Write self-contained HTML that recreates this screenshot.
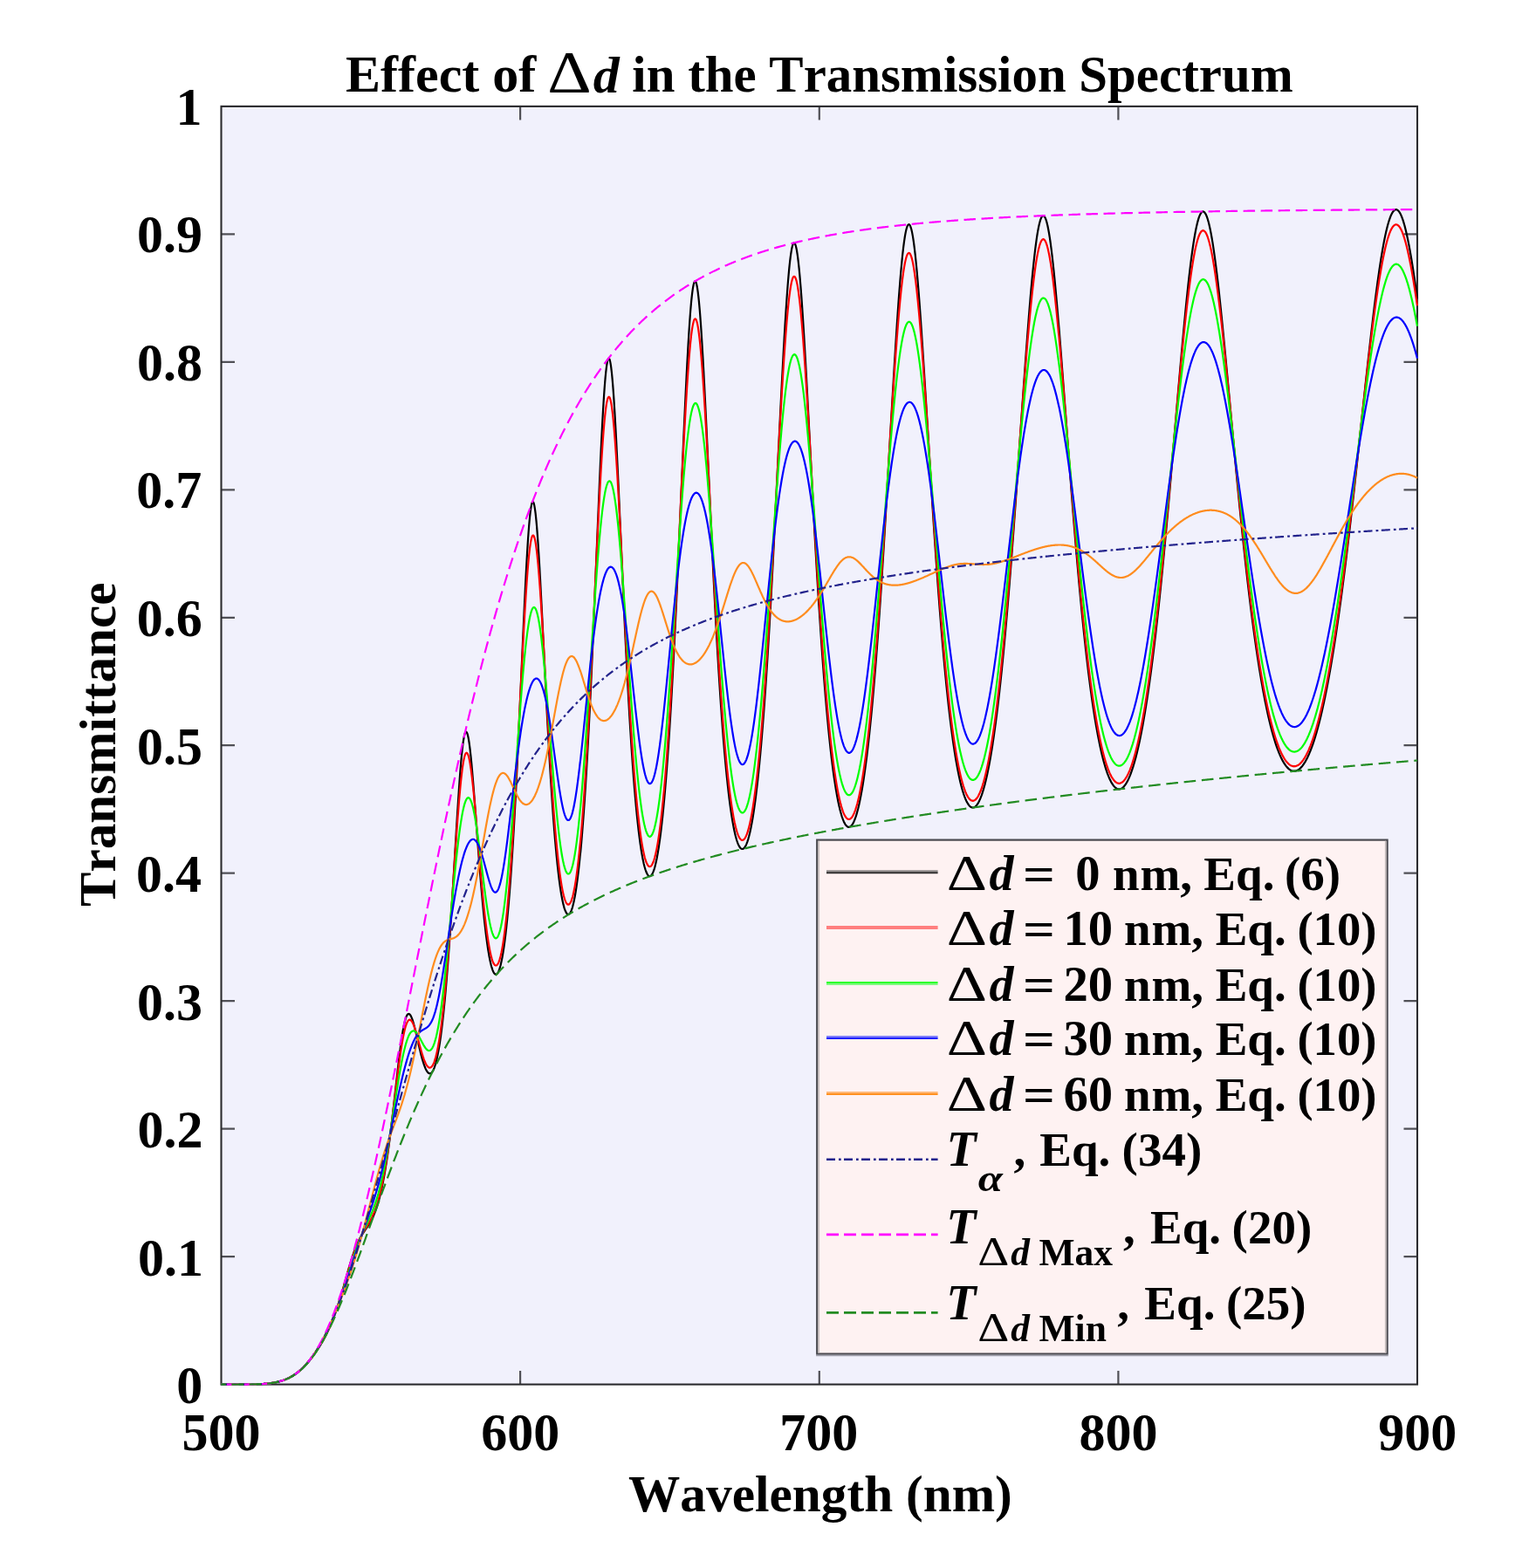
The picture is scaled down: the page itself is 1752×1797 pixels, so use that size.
<!DOCTYPE html><html><head><meta charset="utf-8"><title>Effect of Delta d in the Transmission Spectrum</title><style>
html,body{margin:0;padding:0;background:#fff;overflow:hidden;}
svg{display:block;}
text{font-family:"Liberation Serif",serif;font-weight:bold;fill:#000;font-kerning:none;font-variant-ligatures:none;}
</style></head><body>
<svg width="1752" height="1797" viewBox="0 0 1752 1797">
<rect x="0" y="0" width="1752" height="1797" fill="#ffffff"/>
<rect x="253.5" y="121.9" width="1370.5" height="1464.7" fill="#f1f1fc"/>
<path d="M253.5 1440.1h15.5M1624.0 1440.1h-15.5M253.5 1293.7h15.5M1624.0 1293.7h-15.5M253.5 1147.2h15.5M1624.0 1147.2h-15.5M253.5 1000.7h15.5M1624.0 1000.7h-15.5M253.5 854.2h15.5M1624.0 854.2h-15.5M253.5 707.8h15.5M1624.0 707.8h-15.5M253.5 561.3h15.5M1624.0 561.3h-15.5M253.5 414.8h15.5M1624.0 414.8h-15.5M253.5 268.4h15.5M1624.0 268.4h-15.5M596.1 1586.6v-15.5M596.1 121.9v15.5M938.8 1586.6v-15.5M938.8 121.9v15.5M1281.4 1586.6v-15.5M1281.4 121.9v15.5" stroke="#505056" stroke-width="2.2" fill="none"/>
<rect x="253.5" y="121.9" width="1370.5" height="1464.7" fill="none" stroke="#2b2b2e" stroke-width="2.1"/>
<clipPath id="c"><rect x="252.5" y="118.9" width="1372.5" height="1470.7"/></clipPath>
<g clip-path="url(#c)" fill="none" stroke-width="2.2" stroke-linejoin="round">
<path d="M253.5 1586.6 L254.0 1586.6 L254.5 1586.6 L255.0 1586.6 L255.5 1586.6 L256.0 1586.6 L256.5 1586.6 L257.0 1586.6 L257.5 1586.6 L258.0 1586.6 L258.5 1586.6 L259.0 1586.6 L259.5 1586.6 L260.0 1586.6 L260.5 1586.6 L261.0 1586.6 L261.5 1586.6 L262.0 1586.6 L262.5 1586.6 L263.0 1586.6 L263.5 1586.6 L264.0 1586.6 L264.5 1586.6 L265.0 1586.6 L265.5 1586.6 L266.0 1586.6 L266.5 1586.6 L267.0 1586.6 L267.5 1586.6 L268.0 1586.6 L268.5 1586.6 L269.0 1586.6 L269.5 1586.6 L270.0 1586.6 L270.5 1586.6 L271.0 1586.6 L271.5 1586.6 L272.0 1586.6 L272.5 1586.6 L273.0 1586.6 L273.5 1586.6 L274.0 1586.6 L274.5 1586.6 L275.0 1586.6 L275.5 1586.6 L276.0 1586.6 L276.5 1586.6 L277.0 1586.6 L277.5 1586.6 L278.0 1586.6 L278.5 1586.6 L279.0 1586.6 L279.5 1586.6 L280.0 1586.6 L280.5 1586.6 L281.0 1586.6 L281.5 1586.6 L282.0 1586.5 L282.5 1586.5 L283.0 1586.5 L283.5 1586.5 L284.0 1586.5 L284.5 1586.5 L285.0 1586.5 L285.5 1586.5 L286.0 1586.5 L286.5 1586.5 L287.0 1586.5 L287.5 1586.5 L288.0 1586.5 L288.5 1586.5 L289.0 1586.5 L289.5 1586.4 L290.0 1586.4 L290.5 1586.4 L291.0 1586.4 L291.5 1586.4 L292.0 1586.4 L292.5 1586.4 L293.0 1586.4 L293.5 1586.4 L294.0 1586.3 L294.5 1586.3 L295.0 1586.3 L295.5 1586.3 L296.0 1586.3 L296.5 1586.2 L297.0 1586.2 L297.5 1586.2 L298.0 1586.2 L298.5 1586.2 L299.0 1586.1 L299.5 1586.1 L300.0 1586.1 L300.5 1586.0 L301.0 1586.0 L301.5 1586.0 L302.0 1586.0 L302.5 1585.9 L303.0 1585.9 L303.5 1585.8 L304.0 1585.8 L304.5 1585.8 L305.0 1585.7 L305.5 1585.7 L306.0 1585.6 L306.5 1585.6 L307.0 1585.5 L307.5 1585.5 L308.0 1585.4 L308.5 1585.4 L309.0 1585.3 L309.5 1585.2 L310.0 1585.2 L310.5 1585.1 L311.0 1585.0 L311.5 1585.0 L312.0 1584.9 L312.5 1584.8 L313.0 1584.7 L313.5 1584.6 L314.0 1584.6 L314.5 1584.5 L315.0 1584.4 L315.5 1584.3 L316.0 1584.2 L316.5 1584.1 L317.0 1584.0 L317.5 1583.9 L318.0 1583.7 L318.5 1583.6 L319.0 1583.5 L319.5 1583.4 L320.0 1583.2 L320.5 1583.1 L321.0 1583.0 L321.5 1582.8 L322.0 1582.7 L322.5 1582.5 L323.0 1582.4 L323.5 1582.2 L324.0 1582.0 L324.5 1581.9 L325.0 1581.7 L325.5 1581.5 L326.0 1581.3 L326.5 1581.1 L327.0 1580.9 L327.5 1580.7 L328.0 1580.5 L328.5 1580.3 L329.0 1580.1 L329.5 1579.9 L330.0 1579.6 L330.5 1579.4 L331.0 1579.2 L331.5 1578.9 L332.0 1578.6 L332.5 1578.4 L333.0 1578.1 L333.5 1577.8 L334.0 1577.6 L334.5 1577.3 L335.0 1577.0 L335.5 1576.7 L336.0 1576.3 L336.5 1576.0 L337.0 1575.7 L337.5 1575.4 L338.0 1575.0 L338.5 1574.7 L339.0 1574.3 L339.5 1573.9 L340.0 1573.6 L340.5 1573.2 L341.0 1572.8 L341.5 1572.4 L342.0 1572.0 L342.5 1571.6 L343.0 1571.1 L343.5 1570.7 L344.0 1570.3 L344.5 1569.8 L345.0 1569.4 L345.5 1568.9 L346.0 1568.4 L346.5 1567.9 L347.0 1567.5 L347.5 1567.0 L348.0 1566.4 L348.5 1565.9 L349.0 1565.4 L349.5 1564.9 L350.0 1564.3 L350.5 1563.8 L351.0 1563.3 L351.5 1562.7 L352.0 1562.1 L352.5 1561.5 L353.0 1561.0 L353.5 1560.4 L354.0 1559.8 L354.5 1559.2 L355.0 1558.6 L355.5 1557.9 L356.0 1557.3 L356.5 1556.7 L357.0 1556.0 L357.5 1555.4 L358.0 1554.7 L358.5 1554.1 L359.0 1553.4 L359.5 1552.7 L360.0 1552.0 L360.5 1551.3 L361.0 1550.6 L361.5 1549.9 L362.0 1549.2 L362.5 1548.5 L363.0 1547.8 L363.5 1547.0 L364.0 1546.3 L364.5 1545.5 L365.0 1544.7 L365.5 1544.0 L366.0 1543.2 L366.5 1542.4 L367.0 1541.6 L367.5 1540.8 L368.0 1539.9 L368.5 1539.1 L369.0 1538.3 L369.5 1537.4 L370.0 1536.5 L370.5 1535.6 L371.0 1534.7 L371.5 1533.8 L372.0 1532.9 L372.5 1532.0 L373.0 1531.0 L373.5 1530.0 L374.0 1529.1 L374.5 1528.1 L375.0 1527.0 L375.5 1526.0 L376.0 1525.0 L376.5 1523.9 L377.0 1522.8 L377.5 1521.7 L378.0 1520.6 L378.5 1519.4 L379.0 1518.2 L379.5 1517.0 L380.0 1515.8 L380.5 1514.6 L381.0 1513.3 L381.5 1512.1 L382.0 1510.8 L382.5 1509.5 L383.0 1508.1 L383.5 1506.7 L384.0 1505.4 L384.5 1503.9 L385.0 1502.5 L385.5 1501.0 L386.0 1499.6 L386.5 1498.1 L387.0 1496.5 L387.5 1495.0 L388.0 1493.4 L388.5 1491.8 L389.0 1490.2 L389.5 1488.6 L390.0 1486.9 L390.6 1485.3 L391.1 1483.6 L391.6 1481.9 L392.1 1480.2 L392.6 1478.4 L393.1 1476.7 L393.6 1475.0 L394.1 1473.2 L394.6 1471.4 L395.1 1469.7 L395.6 1467.9 L396.1 1466.1 L396.6 1464.3 L397.1 1462.6 L397.6 1460.8 L398.1 1459.1 L398.6 1457.3 L399.1 1455.6 L399.6 1453.8 L400.1 1452.1 L400.6 1450.4 L401.1 1448.8 L401.6 1447.1 L402.1 1445.5 L402.6 1443.9 L403.1 1442.3 L403.6 1440.8 L404.1 1439.3 L404.6 1437.8 L405.1 1436.3 L405.6 1434.9 L406.1 1433.5 L406.6 1432.2 L407.1 1430.9 L407.6 1429.6 L408.1 1428.4 L408.6 1427.2 L409.1 1426.0 L409.6 1424.9 L410.1 1423.8 L410.6 1422.8 L411.1 1421.7 L411.6 1420.8 L412.1 1419.8 L412.6 1418.9 L413.1 1418.0 L413.6 1417.1 L414.1 1416.3 L414.6 1415.4 L415.1 1414.6 L415.6 1413.8 L416.1 1413.1 L416.6 1412.3 L417.1 1411.6 L417.6 1410.8 L418.1 1410.1 L418.6 1409.4 L419.1 1408.7 L419.6 1407.9 L420.1 1407.2 L420.6 1406.5 L421.1 1405.7 L421.6 1405.0 L422.1 1404.2 L422.6 1403.4 L423.1 1402.6 L423.6 1401.8 L424.1 1400.9 L424.6 1400.1 L425.1 1399.2 L425.6 1398.2 L426.1 1397.3 L426.6 1396.3 L427.1 1395.2 L427.6 1394.2 L428.1 1393.0 L428.6 1391.9 L429.1 1390.7 L429.6 1389.4 L430.1 1388.1 L430.6 1386.7 L431.1 1385.3 L431.6 1383.8 L432.1 1382.3 L432.6 1380.7 L433.1 1379.0 L433.6 1377.3 L434.1 1375.5 L434.6 1373.7 L435.1 1371.7 L435.6 1369.7 L436.1 1367.6 L436.6 1365.5 L437.1 1363.3 L437.6 1361.0 L438.1 1358.6 L438.6 1356.1 L439.1 1353.5 L439.6 1350.9 L440.1 1348.2 L440.6 1345.4 L441.1 1342.5 L441.6 1339.5 L442.1 1336.4 L442.6 1333.3 L443.1 1330.0 L443.6 1326.7 L444.1 1323.3 L444.6 1319.8 L445.1 1316.2 L445.6 1312.5 L446.1 1308.8 L446.6 1304.9 L447.1 1301.0 L447.6 1297.0 L448.1 1292.9 L448.6 1288.8 L449.1 1284.6 L449.6 1280.3 L450.1 1276.0 L450.6 1271.7 L451.1 1267.3 L451.6 1262.8 L452.1 1258.4 L452.6 1253.9 L453.1 1249.4 L453.6 1244.9 L454.1 1240.4 L454.6 1235.9 L455.1 1231.5 L455.6 1227.0 L456.1 1222.7 L456.6 1218.4 L457.1 1214.2 L457.6 1210.1 L458.1 1206.0 L458.6 1202.1 L459.1 1198.3 L459.6 1194.7 L460.1 1191.2 L460.6 1187.8 L461.1 1184.7 L461.6 1181.7 L462.1 1178.9 L462.6 1176.3 L463.1 1173.9 L463.6 1171.7 L464.1 1169.7 L464.6 1167.9 L465.1 1166.4 L465.6 1165.1 L466.1 1164.0 L466.6 1163.2 L467.1 1162.5 L467.6 1162.1 L468.1 1161.9 L468.6 1162.0 L469.1 1162.2 L469.6 1162.6 L470.1 1163.2 L470.6 1164.0 L471.1 1165.0 L471.6 1166.1 L472.1 1167.3 L472.6 1168.7 L473.1 1170.3 L473.6 1171.9 L474.1 1173.7 L474.6 1175.5 L475.1 1177.5 L475.6 1179.5 L476.1 1181.5 L476.6 1183.6 L477.1 1185.8 L477.6 1187.9 L478.1 1190.1 L478.6 1192.3 L479.1 1194.5 L479.6 1196.7 L480.1 1198.8 L480.6 1201.0 L481.1 1203.1 L481.6 1205.1 L482.1 1207.2 L482.6 1209.1 L483.1 1211.0 L483.6 1212.9 L484.1 1214.6 L484.6 1216.3 L485.1 1217.9 L485.6 1219.4 L486.1 1220.9 L486.6 1222.2 L487.1 1223.5 L487.6 1224.7 L488.1 1225.7 L488.6 1226.7 L489.1 1227.5 L489.6 1228.3 L490.1 1228.9 L490.6 1229.4 L491.1 1229.8 L491.6 1230.1 L492.1 1230.3 L492.6 1230.3 L493.1 1230.2 L493.6 1230.1 L494.1 1229.7 L494.6 1229.3 L495.1 1228.7 L495.6 1228.0 L496.1 1227.1 L496.6 1226.2 L497.1 1225.0 L497.6 1223.8 L498.1 1222.4 L498.6 1220.9 L499.1 1219.2 L499.6 1217.4 L500.1 1215.4 L500.6 1213.3 L501.1 1211.0 L501.6 1208.5 L502.1 1205.9 L502.6 1203.2 L503.1 1200.3 L503.6 1197.2 L504.1 1194.0 L504.6 1190.6 L505.1 1187.0 L505.6 1183.2 L506.1 1179.3 L506.6 1175.2 L507.1 1170.9 L507.6 1166.5 L508.1 1161.8 L508.6 1157.0 L509.1 1152.0 L509.6 1146.8 L510.1 1141.4 L510.6 1135.9 L511.1 1130.1 L511.6 1124.2 L512.1 1118.1 L512.6 1111.8 L513.1 1105.3 L513.6 1098.6 L514.1 1091.8 L514.6 1084.8 L515.1 1077.6 L515.6 1070.2 L516.1 1062.7 L516.6 1055.1 L517.1 1047.3 L517.6 1039.4 L518.1 1031.4 L518.6 1023.2 L519.1 1015.0 L519.6 1006.7 L520.1 998.4 L520.6 990.0 L521.1 981.6 L521.6 973.1 L522.1 964.7 L522.6 956.4 L523.1 948.1 L523.6 939.9 L524.1 931.9 L524.6 924.0 L525.1 916.2 L525.6 908.7 L526.1 901.5 L526.6 894.4 L527.1 887.7 L527.6 881.4 L528.1 875.3 L528.6 869.7 L529.1 864.4 L529.6 859.6 L530.1 855.3 L530.6 851.4 L531.1 848.0 L531.6 845.2 L532.1 842.8 L532.6 841.0 L533.1 839.7 L533.6 838.9 L534.1 838.7 L534.6 839.0 L535.1 839.8 L535.6 841.1 L536.1 842.9 L536.6 845.2 L537.1 848.0 L537.6 851.2 L538.1 854.9 L538.6 858.9 L539.1 863.3 L539.6 868.0 L540.1 873.1 L540.6 878.4 L541.1 884.0 L541.6 889.9 L542.1 895.9 L542.6 902.1 L543.1 908.5 L543.6 915.0 L544.1 921.6 L544.6 928.2 L545.1 935.0 L545.6 941.7 L546.1 948.5 L546.6 955.2 L547.1 961.9 L547.6 968.6 L548.1 975.2 L548.6 981.8 L549.1 988.2 L549.6 994.6 L550.1 1000.8 L550.6 1007.0 L551.1 1013.0 L551.6 1018.8 L552.1 1024.5 L552.6 1030.1 L553.1 1035.5 L553.6 1040.8 L554.1 1045.9 L554.6 1050.8 L555.1 1055.6 L555.6 1060.1 L556.1 1064.5 L556.6 1068.8 L557.1 1072.8 L557.6 1076.7 L558.1 1080.4 L558.6 1083.9 L559.1 1087.3 L559.6 1090.4 L560.1 1093.4 L560.6 1096.2 L561.1 1098.8 L561.6 1101.2 L562.1 1103.5 L562.6 1105.6 L563.1 1107.5 L563.6 1109.2 L564.1 1110.7 L564.6 1112.1 L565.1 1113.3 L565.6 1114.3 L566.1 1115.1 L566.6 1115.8 L567.1 1116.3 L567.6 1116.6 L568.1 1116.7 L568.6 1116.6 L569.1 1116.4 L569.6 1116.0 L570.1 1115.4 L570.6 1114.6 L571.1 1113.7 L571.6 1112.5 L572.1 1111.2 L572.6 1109.7 L573.1 1108.0 L573.6 1106.2 L574.1 1104.1 L574.6 1101.8 L575.1 1099.4 L575.6 1096.8 L576.1 1093.9 L576.6 1090.9 L577.1 1087.6 L577.6 1084.2 L578.1 1080.6 L578.6 1076.7 L579.1 1072.7 L579.6 1068.4 L580.1 1063.9 L580.6 1059.2 L581.1 1054.3 L581.6 1049.1 L582.1 1043.8 L582.6 1038.2 L583.1 1032.3 L583.6 1026.3 L584.1 1020.0 L584.6 1013.5 L585.1 1006.7 L585.6 999.7 L586.1 992.5 L586.6 985.0 L587.1 977.3 L587.6 969.3 L588.1 961.1 L588.6 952.7 L589.1 944.0 L589.6 935.1 L590.1 926.0 L590.6 916.6 L591.1 907.1 L591.6 897.3 L592.1 887.3 L592.6 877.1 L593.1 866.7 L593.6 856.2 L594.1 845.5 L594.6 834.6 L595.1 823.6 L595.6 812.5 L596.1 801.4 L596.6 790.1 L597.1 778.8 L597.6 767.5 L598.1 756.2 L598.6 744.9 L599.1 733.6 L599.6 722.5 L600.1 711.5 L600.6 700.7 L601.1 690.1 L601.6 679.7 L602.1 669.6 L602.6 659.8 L603.1 650.4 L603.6 641.4 L604.1 632.8 L604.6 624.6 L605.1 617.0 L605.6 610.0 L606.1 603.5 L606.6 597.6 L607.1 592.3 L607.6 587.7 L608.1 583.8 L608.6 580.6 L609.1 578.1 L609.6 576.4 L610.1 575.3 L610.6 575.0 L611.1 575.5 L611.6 576.6 L612.1 578.5 L612.6 581.1 L613.1 584.3 L613.6 588.2 L614.1 592.8 L614.6 597.9 L615.1 603.6 L615.6 609.9 L616.1 616.7 L616.6 623.9 L617.1 631.6 L617.6 639.7 L618.1 648.1 L618.6 656.9 L619.1 665.9 L619.6 675.2 L620.1 684.8 L620.6 694.5 L621.1 704.3 L621.6 714.3 L622.1 724.3 L622.6 734.4 L623.1 744.5 L623.6 754.6 L624.1 764.7 L624.6 774.8 L625.1 784.7 L625.6 794.6 L626.1 804.4 L626.6 814.1 L627.1 823.7 L627.6 833.0 L628.1 842.3 L628.6 851.4 L629.1 860.2 L629.6 868.9 L630.1 877.5 L630.6 885.8 L631.1 893.9 L631.6 901.8 L632.1 909.5 L632.6 917.0 L633.1 924.2 L633.6 931.3 L634.1 938.1 L634.6 944.7 L635.1 951.1 L635.6 957.3 L636.1 963.3 L636.6 969.0 L637.1 974.5 L637.6 979.8 L638.1 984.9 L638.6 989.8 L639.1 994.5 L639.6 998.9 L640.1 1003.2 L640.6 1007.3 L641.1 1011.1 L641.6 1014.8 L642.1 1018.2 L642.6 1021.5 L643.1 1024.5 L643.6 1027.4 L644.1 1030.0 L644.6 1032.5 L645.1 1034.8 L645.6 1036.9 L646.1 1038.8 L646.6 1040.6 L647.1 1042.1 L647.6 1043.5 L648.1 1044.6 L648.6 1045.6 L649.1 1046.5 L649.6 1047.1 L650.1 1047.6 L650.6 1047.9 L651.1 1048.0 L651.6 1047.9 L652.1 1047.6 L652.6 1047.2 L653.1 1046.6 L653.6 1045.8 L654.1 1044.9 L654.6 1043.7 L655.1 1042.4 L655.6 1040.9 L656.1 1039.2 L656.6 1037.3 L657.1 1035.3 L657.6 1033.1 L658.1 1030.6 L658.6 1028.0 L659.1 1025.2 L659.6 1022.2 L660.1 1019.1 L660.6 1015.7 L661.1 1012.1 L661.6 1008.3 L662.1 1004.4 L662.6 1000.2 L663.1 995.8 L663.6 991.2 L664.1 986.5 L664.6 981.5 L665.2 976.2 L665.7 970.8 L666.2 965.2 L666.7 959.3 L667.2 953.2 L667.7 946.9 L668.2 940.3 L668.7 933.6 L669.2 926.6 L669.7 919.3 L670.2 911.9 L670.7 904.2 L671.2 896.3 L671.7 888.1 L672.2 879.7 L672.7 871.1 L673.2 862.2 L673.7 853.1 L674.2 843.8 L674.7 834.2 L675.2 824.4 L675.7 814.4 L676.2 804.2 L676.7 793.8 L677.2 783.1 L677.7 772.3 L678.2 761.3 L678.7 750.1 L679.2 738.7 L679.7 727.2 L680.2 715.5 L680.7 703.7 L681.2 691.8 L681.7 679.8 L682.2 667.7 L682.7 655.5 L683.2 643.4 L683.7 631.2 L684.2 619.0 L684.7 606.9 L685.2 594.8 L685.7 582.8 L686.2 571.0 L686.7 559.3 L687.2 547.8 L687.7 536.6 L688.2 525.6 L688.7 514.9 L689.2 504.6 L689.7 494.6 L690.2 485.0 L690.7 475.9 L691.2 467.2 L691.7 459.1 L692.2 451.5 L692.7 444.4 L693.2 438.0 L693.7 432.2 L694.2 427.0 L694.7 422.6 L695.2 418.8 L695.7 415.7 L696.2 413.3 L696.7 411.7 L697.2 410.8 L697.7 410.7 L698.2 411.2 L698.7 412.5 L699.2 414.6 L699.7 417.3 L700.2 420.7 L700.7 424.8 L701.2 429.5 L701.7 434.9 L702.2 440.8 L702.7 447.4 L703.2 454.4 L703.7 462.0 L704.2 470.1 L704.7 478.5 L705.2 487.5 L705.7 496.7 L706.2 506.4 L706.7 516.3 L707.2 526.5 L707.7 536.9 L708.2 547.5 L708.7 558.3 L709.2 569.3 L709.7 580.4 L710.2 591.5 L710.7 602.7 L711.2 613.9 L711.7 625.2 L712.2 636.4 L712.7 647.6 L713.2 658.8 L713.7 669.8 L714.2 680.8 L714.7 691.7 L715.2 702.5 L715.7 713.1 L716.2 723.6 L716.7 733.9 L717.2 744.0 L717.7 754.0 L718.2 763.8 L718.7 773.5 L719.2 782.9 L719.7 792.1 L720.2 801.2 L720.7 810.0 L721.2 818.6 L721.7 827.1 L722.2 835.3 L722.7 843.3 L723.2 851.1 L723.7 858.6 L724.2 866.0 L724.7 873.2 L725.2 880.1 L725.7 886.8 L726.2 893.4 L726.7 899.7 L727.2 905.8 L727.7 911.7 L728.2 917.4 L728.7 922.9 L729.2 928.2 L729.7 933.3 L730.2 938.2 L730.7 942.9 L731.2 947.5 L731.7 951.8 L732.2 955.9 L732.7 959.9 L733.2 963.7 L733.7 967.3 L734.2 970.7 L734.7 974.0 L735.2 977.0 L735.7 979.9 L736.2 982.7 L736.7 985.2 L737.2 987.6 L737.7 989.9 L738.2 991.9 L738.7 993.8 L739.2 995.5 L739.7 997.1 L740.2 998.5 L740.7 999.8 L741.2 1000.9 L741.7 1001.8 L742.2 1002.6 L742.7 1003.2 L743.2 1003.7 L743.7 1004.0 L744.2 1004.2 L744.7 1004.2 L745.2 1004.0 L745.7 1003.7 L746.2 1003.3 L746.7 1002.7 L747.2 1001.9 L747.7 1001.0 L748.2 999.9 L748.7 998.7 L749.2 997.3 L749.7 995.8 L750.2 994.1 L750.7 992.2 L751.2 990.2 L751.7 988.1 L752.2 985.7 L752.7 983.3 L753.2 980.6 L753.7 977.8 L754.2 974.8 L754.7 971.7 L755.2 968.4 L755.7 964.9 L756.2 961.3 L756.7 957.5 L757.2 953.5 L757.7 949.4 L758.2 945.0 L758.7 940.5 L759.2 935.9 L759.7 931.0 L760.2 925.9 L760.7 920.7 L761.2 915.3 L761.7 909.7 L762.2 903.9 L762.7 898.0 L763.2 891.8 L763.7 885.4 L764.2 878.9 L764.7 872.1 L765.2 865.2 L765.7 858.1 L766.2 850.7 L766.7 843.2 L767.2 835.5 L767.7 827.5 L768.2 819.4 L768.7 811.1 L769.2 802.6 L769.7 793.9 L770.2 785.0 L770.7 775.9 L771.2 766.6 L771.7 757.1 L772.2 747.5 L772.7 737.6 L773.2 727.6 L773.7 717.4 L774.2 707.1 L774.7 696.6 L775.2 685.9 L775.7 675.2 L776.2 664.2 L776.7 653.2 L777.2 642.0 L777.7 630.8 L778.2 619.4 L778.7 608.0 L779.2 596.5 L779.7 585.0 L780.2 573.4 L780.7 561.9 L781.2 550.3 L781.7 538.8 L782.2 527.3 L782.7 515.9 L783.2 504.5 L783.7 493.3 L784.2 482.2 L784.7 471.3 L785.2 460.6 L785.7 450.1 L786.2 439.8 L786.7 429.8 L787.2 420.1 L787.7 410.7 L788.2 401.6 L788.7 392.9 L789.2 384.7 L789.7 376.8 L790.2 369.4 L790.7 362.5 L791.2 356.0 L791.7 350.1 L792.2 344.7 L792.7 339.8 L793.2 335.6 L793.7 331.9 L794.2 328.7 L794.7 326.2 L795.2 324.3 L795.7 323.1 L796.2 322.4 L796.7 322.4 L797.2 322.9 L797.7 324.1 L798.2 325.9 L798.7 328.3 L799.2 331.3 L799.7 334.9 L800.2 339.0 L800.7 343.6 L801.2 348.8 L801.7 354.5 L802.2 360.7 L802.7 367.3 L803.2 374.4 L803.7 381.9 L804.2 389.8 L804.7 398.0 L805.2 406.6 L805.7 415.5 L806.2 424.7 L806.7 434.2 L807.2 443.9 L807.7 453.8 L808.2 463.8 L808.7 474.1 L809.2 484.5 L809.7 495.0 L810.2 505.6 L810.7 516.3 L811.2 527.0 L811.7 537.7 L812.2 548.5 L812.7 559.3 L813.2 570.1 L813.7 580.8 L814.2 591.5 L814.7 602.1 L815.2 612.7 L815.7 623.1 L816.2 633.5 L816.7 643.8 L817.2 653.9 L817.7 663.9 L818.2 673.8 L818.7 683.6 L819.2 693.2 L819.7 702.7 L820.2 712.0 L820.7 721.1 L821.2 730.1 L821.7 739.0 L822.2 747.6 L822.7 756.1 L823.2 764.4 L823.7 772.6 L824.2 780.5 L824.7 788.3 L825.2 795.9 L825.7 803.4 L826.2 810.6 L826.7 817.7 L827.2 824.6 L827.7 831.3 L828.2 837.9 L828.7 844.3 L829.2 850.5 L829.7 856.5 L830.2 862.3 L830.7 868.0 L831.2 873.6 L831.7 878.9 L832.2 884.1 L832.7 889.1 L833.2 894.0 L833.7 898.7 L834.2 903.2 L834.7 907.6 L835.2 911.8 L835.7 915.9 L836.2 919.8 L836.7 923.6 L837.2 927.2 L837.7 930.7 L838.2 934.0 L838.7 937.2 L839.2 940.2 L839.7 943.1 L840.2 945.9 L840.7 948.5 L841.2 951.0 L841.7 953.3 L842.2 955.5 L842.7 957.6 L843.2 959.5 L843.7 961.3 L844.2 963.0 L844.7 964.5 L845.2 965.9 L845.7 967.2 L846.2 968.3 L846.7 969.3 L847.2 970.2 L847.7 971.0 L848.2 971.7 L848.7 972.2 L849.2 972.6 L849.7 972.8 L850.2 973.0 L850.7 973.0 L851.2 972.9 L851.7 972.7 L852.2 972.3 L852.7 971.9 L853.2 971.3 L853.7 970.5 L854.2 969.7 L854.7 968.7 L855.2 967.6 L855.7 966.4 L856.2 965.1 L856.7 963.6 L857.2 962.1 L857.7 960.3 L858.2 958.5 L858.7 956.5 L859.2 954.5 L859.7 952.2 L860.2 949.9 L860.7 947.4 L861.2 944.8 L861.7 942.1 L862.2 939.2 L862.7 936.2 L863.2 933.1 L863.7 929.9 L864.2 926.5 L864.7 922.9 L865.2 919.3 L865.7 915.5 L866.2 911.5 L866.7 907.4 L867.2 903.2 L867.7 898.8 L868.2 894.3 L868.7 889.7 L869.2 884.9 L869.7 880.0 L870.2 874.9 L870.7 869.6 L871.2 864.3 L871.7 858.7 L872.2 853.1 L872.7 847.2 L873.2 841.2 L873.7 835.1 L874.2 828.8 L874.7 822.4 L875.2 815.8 L875.7 809.1 L876.2 802.2 L876.7 795.1 L877.2 787.9 L877.7 780.6 L878.2 773.1 L878.7 765.4 L879.2 757.6 L879.7 749.6 L880.2 741.5 L880.7 733.3 L881.2 724.9 L881.7 716.4 L882.2 707.7 L882.7 698.9 L883.2 690.0 L883.7 680.9 L884.2 671.7 L884.7 662.4 L885.2 653.0 L885.7 643.4 L886.2 633.8 L886.7 624.0 L887.2 614.2 L887.7 604.3 L888.2 594.3 L888.7 584.3 L889.2 574.1 L889.7 564.0 L890.2 553.8 L890.7 543.5 L891.2 533.3 L891.7 523.0 L892.2 512.8 L892.7 502.6 L893.2 492.4 L893.7 482.2 L894.2 472.1 L894.7 462.1 L895.2 452.2 L895.7 442.4 L896.2 432.7 L896.7 423.2 L897.2 413.8 L897.7 404.6 L898.2 395.6 L898.7 386.7 L899.2 378.2 L899.7 369.8 L900.2 361.8 L900.7 354.0 L901.2 346.5 L901.7 339.3 L902.2 332.5 L902.7 326.0 L903.2 319.8 L903.7 314.1 L904.2 308.7 L904.7 303.7 L905.2 299.2 L905.7 295.0 L906.2 291.4 L906.7 288.1 L907.2 285.3 L907.7 283.0 L908.2 281.1 L908.7 279.7 L909.2 278.8 L909.7 278.4 L910.2 278.4 L910.7 278.9 L911.2 279.9 L911.7 281.3 L912.2 283.2 L912.7 285.5 L913.2 288.3 L913.7 291.6 L914.2 295.2 L914.7 299.3 L915.2 303.8 L915.7 308.6 L916.2 313.9 L916.7 319.5 L917.2 325.5 L917.7 331.8 L918.2 338.4 L918.7 345.3 L919.2 352.5 L919.7 360.0 L920.2 367.7 L920.7 375.7 L921.2 383.8 L921.7 392.2 L922.2 400.8 L922.7 409.5 L923.2 418.4 L923.7 427.4 L924.2 436.5 L924.7 445.7 L925.2 455.1 L925.7 464.5 L926.2 473.9 L926.7 483.4 L927.2 493.0 L927.7 502.5 L928.2 512.1 L928.7 521.7 L929.2 531.2 L929.7 540.8 L930.2 550.3 L930.7 559.7 L931.2 569.1 L931.7 578.5 L932.2 587.8 L932.7 597.0 L933.2 606.1 L933.7 615.2 L934.2 624.1 L934.7 633.0 L935.2 641.8 L935.7 650.4 L936.2 659.0 L936.7 667.4 L937.2 675.7 L937.7 683.9 L938.2 692.0 L938.8 699.9 L939.3 707.7 L939.8 715.4 L940.3 723.0 L940.8 730.4 L941.3 737.7 L941.8 744.9 L942.3 751.9 L942.8 758.8 L943.3 765.5 L943.8 772.2 L944.3 778.6 L944.8 785.0 L945.3 791.2 L945.8 797.3 L946.3 803.2 L946.8 809.0 L947.3 814.7 L947.8 820.2 L948.3 825.7 L948.8 830.9 L949.3 836.1 L949.8 841.1 L950.3 846.0 L950.8 850.7 L951.3 855.4 L951.8 859.9 L952.3 864.3 L952.8 868.5 L953.3 872.6 L953.8 876.7 L954.3 880.5 L954.8 884.3 L955.3 888.0 L955.8 891.5 L956.3 894.9 L956.8 898.2 L957.3 901.4 L957.8 904.5 L958.3 907.4 L958.8 910.3 L959.3 913.0 L959.8 915.6 L960.3 918.2 L960.8 920.6 L961.3 922.9 L961.8 925.1 L962.3 927.2 L962.8 929.1 L963.3 931.0 L963.8 932.8 L964.3 934.5 L964.8 936.1 L965.3 937.5 L965.8 938.9 L966.3 940.2 L966.8 941.4 L967.3 942.4 L967.8 943.4 L968.3 944.3 L968.8 945.1 L969.3 945.8 L969.8 946.3 L970.3 946.8 L970.8 947.2 L971.3 947.5 L971.8 947.8 L972.3 947.9 L972.8 947.9 L973.3 947.8 L973.8 947.6 L974.3 947.4 L974.8 947.0 L975.3 946.6 L975.8 946.0 L976.3 945.4 L976.8 944.6 L977.3 943.8 L977.8 942.9 L978.3 941.9 L978.8 940.7 L979.3 939.5 L979.8 938.2 L980.3 936.8 L980.8 935.4 L981.3 933.8 L981.8 932.1 L982.3 930.3 L982.8 928.4 L983.3 926.5 L983.8 924.4 L984.3 922.2 L984.8 919.9 L985.3 917.6 L985.8 915.1 L986.3 912.6 L986.8 909.9 L987.3 907.1 L987.8 904.3 L988.3 901.3 L988.8 898.2 L989.3 895.1 L989.8 891.8 L990.3 888.4 L990.8 884.9 L991.3 881.4 L991.8 877.7 L992.3 873.9 L992.8 870.0 L993.3 866.0 L993.8 861.8 L994.3 857.6 L994.8 853.3 L995.3 848.8 L995.8 844.3 L996.3 839.6 L996.8 834.9 L997.3 830.0 L997.8 825.0 L998.3 819.9 L998.8 814.7 L999.3 809.3 L999.8 803.9 L1000.3 798.3 L1000.8 792.7 L1001.3 786.9 L1001.8 781.0 L1002.3 775.0 L1002.8 768.9 L1003.3 762.6 L1003.8 756.3 L1004.3 749.9 L1004.8 743.3 L1005.3 736.6 L1005.8 729.8 L1006.3 723.0 L1006.8 716.0 L1007.3 708.9 L1007.8 701.7 L1008.3 694.4 L1008.8 687.0 L1009.3 679.5 L1009.8 671.9 L1010.3 664.2 L1010.8 656.4 L1011.3 648.5 L1011.8 640.5 L1012.3 632.5 L1012.8 624.4 L1013.3 616.2 L1013.8 607.9 L1014.3 599.6 L1014.8 591.2 L1015.3 582.7 L1015.8 574.2 L1016.3 565.6 L1016.8 557.0 L1017.3 548.4 L1017.8 539.7 L1018.3 531.0 L1018.8 522.3 L1019.3 513.5 L1019.8 504.8 L1020.3 496.0 L1020.8 487.3 L1021.3 478.6 L1021.8 469.9 L1022.3 461.3 L1022.8 452.7 L1023.3 444.2 L1023.8 435.7 L1024.3 427.3 L1024.8 419.0 L1025.3 410.8 L1025.8 402.7 L1026.3 394.6 L1026.8 386.8 L1027.3 379.0 L1027.8 371.4 L1028.3 364.0 L1028.8 356.7 L1029.3 349.6 L1029.8 342.7 L1030.3 336.0 L1030.8 329.5 L1031.3 323.3 L1031.8 317.2 L1032.3 311.4 L1032.8 305.9 L1033.3 300.6 L1033.8 295.6 L1034.3 290.8 L1034.8 286.4 L1035.3 282.2 L1035.8 278.3 L1036.3 274.8 L1036.8 271.5 L1037.3 268.6 L1037.8 266.0 L1038.3 263.8 L1038.8 261.8 L1039.3 260.2 L1039.8 258.9 L1040.3 258.0 L1040.8 257.4 L1041.3 257.2 L1041.8 257.3 L1042.3 257.7 L1042.8 258.5 L1043.3 259.6 L1043.8 261.1 L1044.3 262.8 L1044.8 264.9 L1045.3 267.4 L1045.8 270.1 L1046.3 273.1 L1046.8 276.5 L1047.3 280.1 L1047.8 284.1 L1048.3 288.3 L1048.8 292.7 L1049.3 297.5 L1049.8 302.5 L1050.3 307.7 L1050.8 313.2 L1051.3 318.9 L1051.8 324.8 L1052.3 330.9 L1052.8 337.2 L1053.3 343.7 L1053.8 350.4 L1054.3 357.2 L1054.8 364.2 L1055.3 371.3 L1055.8 378.6 L1056.3 386.0 L1056.8 393.5 L1057.3 401.1 L1057.8 408.7 L1058.3 416.5 L1058.8 424.4 L1059.3 432.3 L1059.8 440.2 L1060.3 448.3 L1060.8 456.3 L1061.3 464.4 L1061.8 472.5 L1062.3 480.6 L1062.8 488.8 L1063.3 496.9 L1063.8 505.0 L1064.3 513.1 L1064.8 521.2 L1065.3 529.3 L1065.8 537.4 L1066.3 545.4 L1066.8 553.3 L1067.3 561.3 L1067.8 569.2 L1068.3 577.0 L1068.8 584.7 L1069.3 592.5 L1069.8 600.1 L1070.3 607.7 L1070.8 615.2 L1071.3 622.6 L1071.8 629.9 L1072.3 637.2 L1072.8 644.4 L1073.3 651.5 L1073.8 658.5 L1074.3 665.5 L1074.8 672.3 L1075.3 679.1 L1075.8 685.7 L1076.3 692.3 L1076.8 698.8 L1077.3 705.2 L1077.8 711.4 L1078.3 717.6 L1078.8 723.7 L1079.3 729.7 L1079.8 735.6 L1080.3 741.4 L1080.8 747.1 L1081.3 752.7 L1081.8 758.2 L1082.3 763.6 L1082.8 768.9 L1083.3 774.1 L1083.8 779.2 L1084.3 784.3 L1084.8 789.2 L1085.3 794.0 L1085.8 798.7 L1086.3 803.3 L1086.8 807.9 L1087.3 812.3 L1087.8 816.6 L1088.3 820.9 L1088.8 825.0 L1089.3 829.1 L1089.8 833.0 L1090.3 836.9 L1090.8 840.7 L1091.3 844.4 L1091.8 848.0 L1092.3 851.5 L1092.8 854.9 L1093.3 858.2 L1093.8 861.5 L1094.3 864.6 L1094.8 867.7 L1095.3 870.7 L1095.8 873.6 L1096.3 876.4 L1096.8 879.1 L1097.3 881.7 L1097.8 884.3 L1098.3 886.8 L1098.8 889.2 L1099.3 891.5 L1099.8 893.7 L1100.3 895.9 L1100.8 897.9 L1101.3 899.9 L1101.8 901.9 L1102.3 903.7 L1102.8 905.5 L1103.3 907.1 L1103.8 908.7 L1104.3 910.3 L1104.8 911.7 L1105.3 913.1 L1105.8 914.4 L1106.3 915.7 L1106.8 916.8 L1107.3 917.9 L1107.8 918.9 L1108.3 919.8 L1108.8 920.7 L1109.3 921.5 L1109.8 922.2 L1110.3 922.9 L1110.8 923.5 L1111.3 924.0 L1111.8 924.4 L1112.3 924.8 L1112.8 925.1 L1113.3 925.3 L1113.8 925.4 L1114.3 925.5 L1114.8 925.5 L1115.3 925.5 L1115.8 925.4 L1116.3 925.2 L1116.8 924.9 L1117.3 924.6 L1117.8 924.2 L1118.3 923.7 L1118.8 923.2 L1119.3 922.5 L1119.8 921.9 L1120.3 921.1 L1120.8 920.3 L1121.3 919.4 L1121.8 918.5 L1122.3 917.4 L1122.8 916.3 L1123.3 915.2 L1123.8 913.9 L1124.3 912.6 L1124.8 911.3 L1125.3 909.8 L1125.8 908.3 L1126.3 906.7 L1126.8 905.1 L1127.3 903.3 L1127.8 901.5 L1128.3 899.7 L1128.8 897.7 L1129.3 895.7 L1129.8 893.6 L1130.3 891.5 L1130.8 889.2 L1131.3 886.9 L1131.8 884.5 L1132.3 882.1 L1132.8 879.6 L1133.3 877.0 L1133.8 874.3 L1134.3 871.6 L1134.8 868.7 L1135.3 865.8 L1135.8 862.9 L1136.3 859.8 L1136.8 856.7 L1137.3 853.5 L1137.8 850.2 L1138.3 846.9 L1138.8 843.5 L1139.3 839.9 L1139.8 836.4 L1140.3 832.7 L1140.8 829.0 L1141.3 825.1 L1141.8 821.2 L1142.3 817.3 L1142.8 813.2 L1143.3 809.1 L1143.8 804.9 L1144.3 800.6 L1144.8 796.2 L1145.3 791.8 L1145.8 787.2 L1146.3 782.6 L1146.8 777.9 L1147.3 773.2 L1147.8 768.3 L1148.3 763.4 L1148.8 758.4 L1149.3 753.3 L1149.8 748.2 L1150.3 742.9 L1150.8 737.6 L1151.3 732.2 L1151.8 726.7 L1152.3 721.2 L1152.8 715.5 L1153.3 709.8 L1153.8 704.1 L1154.3 698.2 L1154.8 692.3 L1155.3 686.3 L1155.8 680.2 L1156.3 674.1 L1156.8 667.9 L1157.3 661.6 L1157.8 655.2 L1158.3 648.8 L1158.8 642.4 L1159.3 635.8 L1159.8 629.2 L1160.3 622.6 L1160.8 615.9 L1161.3 609.1 L1161.8 602.3 L1162.3 595.4 L1162.8 588.5 L1163.3 581.6 L1163.8 574.6 L1164.3 567.5 L1164.8 560.4 L1165.3 553.3 L1165.8 546.2 L1166.3 539.0 L1166.8 531.8 L1167.3 524.6 L1167.8 517.4 L1168.3 510.2 L1168.8 502.9 L1169.3 495.7 L1169.8 488.4 L1170.3 481.2 L1170.8 474.0 L1171.3 466.7 L1171.8 459.6 L1172.3 452.4 L1172.8 445.2 L1173.3 438.1 L1173.8 431.1 L1174.3 424.1 L1174.8 417.1 L1175.3 410.2 L1175.8 403.3 L1176.3 396.6 L1176.8 389.9 L1177.3 383.2 L1177.8 376.7 L1178.3 370.3 L1178.8 363.9 L1179.3 357.7 L1179.8 351.6 L1180.3 345.6 L1180.8 339.7 L1181.3 333.9 L1181.8 328.3 L1182.3 322.9 L1182.8 317.5 L1183.3 312.4 L1183.8 307.4 L1184.3 302.5 L1184.8 297.9 L1185.3 293.4 L1185.8 289.1 L1186.3 284.9 L1186.8 281.0 L1187.3 277.3 L1187.8 273.7 L1188.3 270.4 L1188.8 267.3 L1189.3 264.4 L1189.8 261.7 L1190.3 259.2 L1190.8 257.0 L1191.3 255.0 L1191.8 253.2 L1192.3 251.6 L1192.8 250.3 L1193.3 249.2 L1193.8 248.4 L1194.3 247.7 L1194.8 247.3 L1195.3 247.2 L1195.8 247.3 L1196.3 247.6 L1196.8 248.1 L1197.3 248.9 L1197.8 249.9 L1198.3 251.1 L1198.8 252.6 L1199.3 254.3 L1199.8 256.2 L1200.3 258.3 L1200.8 260.7 L1201.3 263.2 L1201.8 266.0 L1202.3 269.0 L1202.8 272.1 L1203.3 275.5 L1203.8 279.0 L1204.3 282.8 L1204.8 286.7 L1205.3 290.8 L1205.8 295.0 L1206.3 299.5 L1206.8 304.0 L1207.3 308.8 L1207.8 313.6 L1208.3 318.7 L1208.8 323.8 L1209.3 329.1 L1209.8 334.5 L1210.3 340.1 L1210.8 345.7 L1211.3 351.4 L1211.8 357.3 L1212.3 363.2 L1212.8 369.2 L1213.4 375.4 L1213.9 381.5 L1214.4 387.8 L1214.9 394.1 L1215.4 400.5 L1215.9 406.9 L1216.4 413.4 L1216.9 420.0 L1217.4 426.5 L1217.9 433.1 L1218.4 439.8 L1218.9 446.4 L1219.4 453.1 L1219.9 459.8 L1220.4 466.5 L1220.9 473.2 L1221.4 479.9 L1221.9 486.7 L1222.4 493.4 L1222.9 500.1 L1223.4 506.8 L1223.9 513.4 L1224.4 520.1 L1224.9 526.7 L1225.4 533.3 L1225.9 539.9 L1226.4 546.5 L1226.9 553.0 L1227.4 559.4 L1227.9 565.9 L1228.4 572.3 L1228.9 578.7 L1229.4 585.0 L1229.9 591.2 L1230.4 597.5 L1230.9 603.6 L1231.4 609.7 L1231.9 615.8 L1232.4 621.8 L1232.9 627.8 L1233.4 633.7 L1233.9 639.5 L1234.4 645.3 L1234.9 651.0 L1235.4 656.7 L1235.9 662.2 L1236.4 667.8 L1236.9 673.2 L1237.4 678.6 L1237.9 684.0 L1238.4 689.2 L1238.9 694.5 L1239.4 699.6 L1239.9 704.7 L1240.4 709.7 L1240.9 714.6 L1241.4 719.5 L1241.9 724.3 L1242.4 729.0 L1242.9 733.7 L1243.4 738.2 L1243.9 742.8 L1244.4 747.2 L1244.9 751.6 L1245.4 755.9 L1245.9 760.2 L1246.4 764.4 L1246.9 768.5 L1247.4 772.5 L1247.9 776.5 L1248.4 780.4 L1248.9 784.3 L1249.4 788.0 L1249.9 791.8 L1250.4 795.4 L1250.9 799.0 L1251.4 802.5 L1251.9 805.9 L1252.4 809.3 L1252.9 812.6 L1253.4 815.9 L1253.9 819.1 L1254.4 822.2 L1254.9 825.2 L1255.4 828.2 L1255.9 831.2 L1256.4 834.0 L1256.9 836.8 L1257.4 839.6 L1257.9 842.3 L1258.4 844.9 L1258.9 847.4 L1259.4 849.9 L1259.9 852.4 L1260.4 854.7 L1260.9 857.1 L1261.4 859.3 L1261.9 861.5 L1262.4 863.7 L1262.9 865.7 L1263.4 867.8 L1263.9 869.7 L1264.4 871.6 L1264.9 873.5 L1265.4 875.3 L1265.9 877.0 L1266.4 878.7 L1266.9 880.3 L1267.4 881.9 L1267.9 883.4 L1268.4 884.9 L1268.9 886.3 L1269.4 887.6 L1269.9 888.9 L1270.4 890.2 L1270.9 891.4 L1271.4 892.5 L1271.9 893.6 L1272.4 894.6 L1272.9 895.6 L1273.4 896.5 L1273.9 897.4 L1274.4 898.2 L1274.9 899.0 L1275.4 899.7 L1275.9 900.4 L1276.4 901.0 L1276.9 901.5 L1277.4 902.0 L1277.9 902.5 L1278.4 902.9 L1278.9 903.3 L1279.4 903.6 L1279.9 903.9 L1280.4 904.1 L1280.9 904.2 L1281.4 904.3 L1281.9 904.4 L1282.4 904.4 L1282.9 904.4 L1283.4 904.3 L1283.9 904.1 L1284.4 903.9 L1284.9 903.7 L1285.4 903.4 L1285.9 903.1 L1286.4 902.7 L1286.9 902.3 L1287.4 901.8 L1287.9 901.2 L1288.4 900.7 L1288.9 900.0 L1289.4 899.4 L1289.9 898.6 L1290.4 897.8 L1290.9 897.0 L1291.4 896.1 L1291.9 895.2 L1292.4 894.2 L1292.9 893.2 L1293.4 892.1 L1293.9 891.0 L1294.4 889.8 L1294.9 888.6 L1295.4 887.3 L1295.9 886.0 L1296.4 884.6 L1296.9 883.2 L1297.4 881.7 L1297.9 880.2 L1298.4 878.6 L1298.9 877.0 L1299.4 875.3 L1299.9 873.6 L1300.4 871.8 L1300.9 870.0 L1301.4 868.1 L1301.9 866.2 L1302.4 864.2 L1302.9 862.2 L1303.4 860.1 L1303.9 858.0 L1304.4 855.8 L1304.9 853.5 L1305.4 851.2 L1305.9 848.9 L1306.4 846.5 L1306.9 844.1 L1307.4 841.6 L1307.9 839.0 L1308.4 836.4 L1308.9 833.7 L1309.4 831.0 L1309.9 828.3 L1310.4 825.4 L1310.9 822.6 L1311.4 819.6 L1311.9 816.7 L1312.4 813.6 L1312.9 810.5 L1313.4 807.4 L1313.9 804.2 L1314.4 801.0 L1314.9 797.7 L1315.4 794.3 L1315.9 790.9 L1316.4 787.4 L1316.9 783.9 L1317.4 780.3 L1317.9 776.7 L1318.4 773.0 L1318.9 769.3 L1319.4 765.5 L1319.9 761.7 L1320.4 757.8 L1320.9 753.8 L1321.4 749.8 L1321.9 745.7 L1322.4 741.6 L1322.9 737.4 L1323.4 733.2 L1323.9 728.9 L1324.4 724.6 L1324.9 720.2 L1325.4 715.8 L1325.9 711.3 L1326.4 706.8 L1326.9 702.2 L1327.4 697.6 L1327.9 692.9 L1328.4 688.1 L1328.9 683.3 L1329.4 678.5 L1329.9 673.6 L1330.4 668.7 L1330.9 663.7 L1331.4 658.6 L1331.9 653.6 L1332.4 648.5 L1332.9 643.3 L1333.4 638.1 L1333.9 632.8 L1334.4 627.5 L1334.9 622.2 L1335.4 616.8 L1335.9 611.4 L1336.4 606.0 L1336.9 600.5 L1337.4 594.9 L1337.9 589.4 L1338.4 583.8 L1338.9 578.2 L1339.4 572.5 L1339.9 566.8 L1340.4 561.1 L1340.9 555.4 L1341.4 549.7 L1341.9 543.9 L1342.4 538.1 L1342.9 532.3 L1343.4 526.4 L1343.9 520.6 L1344.4 514.7 L1344.9 508.9 L1345.4 503.0 L1345.9 497.1 L1346.4 491.2 L1346.9 485.4 L1347.4 479.5 L1347.9 473.6 L1348.4 467.7 L1348.9 461.9 L1349.4 456.0 L1349.9 450.2 L1350.4 444.4 L1350.9 438.6 L1351.4 432.8 L1351.9 427.1 L1352.4 421.4 L1352.9 415.7 L1353.4 410.0 L1353.9 404.4 L1354.4 398.9 L1354.9 393.3 L1355.4 387.9 L1355.9 382.5 L1356.4 377.1 L1356.9 371.8 L1357.4 366.5 L1357.9 361.4 L1358.4 356.2 L1358.9 351.2 L1359.4 346.2 L1359.9 341.3 L1360.4 336.5 L1360.9 331.8 L1361.4 327.2 L1361.9 322.7 L1362.4 318.2 L1362.9 313.9 L1363.4 309.6 L1363.9 305.5 L1364.4 301.4 L1364.9 297.5 L1365.4 293.7 L1365.9 290.0 L1366.4 286.5 L1366.9 283.0 L1367.4 279.7 L1367.9 276.5 L1368.4 273.4 L1368.9 270.5 L1369.4 267.7 L1369.9 265.0 L1370.4 262.5 L1370.9 260.1 L1371.4 257.9 L1371.9 255.8 L1372.4 253.9 L1372.9 252.1 L1373.4 250.4 L1373.9 248.9 L1374.4 247.6 L1374.9 246.4 L1375.4 245.4 L1375.9 244.5 L1376.4 243.8 L1376.9 243.2 L1377.4 242.8 L1377.9 242.5 L1378.4 242.4 L1378.9 242.5 L1379.4 242.7 L1379.9 243.1 L1380.4 243.6 L1380.9 244.3 L1381.4 245.1 L1381.9 246.1 L1382.4 247.2 L1382.9 248.5 L1383.4 249.9 L1383.9 251.5 L1384.4 253.2 L1384.9 255.0 L1385.4 257.0 L1385.9 259.2 L1386.4 261.4 L1386.9 263.8 L1387.4 266.4 L1387.9 269.0 L1388.4 271.8 L1388.9 274.8 L1389.4 277.8 L1389.9 280.9 L1390.4 284.2 L1390.9 287.6 L1391.4 291.1 L1391.9 294.7 L1392.4 298.4 L1392.9 302.2 L1393.4 306.1 L1393.9 310.1 L1394.4 314.2 L1394.9 318.4 L1395.4 322.7 L1395.9 327.0 L1396.4 331.4 L1396.9 335.9 L1397.4 340.5 L1397.9 345.2 L1398.4 349.9 L1398.9 354.6 L1399.4 359.5 L1399.9 364.4 L1400.4 369.3 L1400.9 374.3 L1401.4 379.3 L1401.9 384.4 L1402.4 389.5 L1402.9 394.7 L1403.4 399.9 L1403.9 405.1 L1404.4 410.4 L1404.9 415.7 L1405.4 421.0 L1405.9 426.3 L1406.4 431.7 L1406.9 437.0 L1407.4 442.4 L1407.9 447.8 L1408.4 453.2 L1408.9 458.6 L1409.4 464.0 L1409.9 469.5 L1410.4 474.9 L1410.9 480.3 L1411.4 485.7 L1411.9 491.1 L1412.4 496.5 L1412.9 501.9 L1413.4 507.2 L1413.9 512.6 L1414.4 518.0 L1414.9 523.3 L1415.4 528.6 L1415.9 533.9 L1416.4 539.1 L1416.9 544.4 L1417.4 549.6 L1417.9 554.8 L1418.4 560.0 L1418.9 565.1 L1419.4 570.2 L1419.9 575.3 L1420.4 580.4 L1420.9 585.4 L1421.4 590.4 L1421.9 595.3 L1422.4 600.2 L1422.9 605.1 L1423.4 610.0 L1423.9 614.8 L1424.4 619.5 L1424.9 624.3 L1425.4 629.0 L1425.9 633.6 L1426.4 638.2 L1426.9 642.8 L1427.4 647.3 L1427.9 651.8 L1428.4 656.3 L1428.9 660.7 L1429.4 665.0 L1429.9 669.3 L1430.4 673.6 L1430.9 677.8 L1431.4 682.0 L1431.9 686.2 L1432.4 690.3 L1432.9 694.3 L1433.4 698.3 L1433.9 702.3 L1434.4 706.2 L1434.9 710.1 L1435.4 713.9 L1435.9 717.7 L1436.4 721.4 L1436.9 725.1 L1437.4 728.7 L1437.9 732.3 L1438.4 735.9 L1438.9 739.4 L1439.4 742.8 L1439.9 746.2 L1440.4 749.6 L1440.9 752.9 L1441.4 756.2 L1441.9 759.4 L1442.4 762.6 L1442.9 765.7 L1443.4 768.8 L1443.9 771.9 L1444.4 774.9 L1444.9 777.8 L1445.4 780.8 L1445.9 783.6 L1446.4 786.4 L1446.9 789.2 L1447.4 792.0 L1447.9 794.6 L1448.4 797.3 L1448.9 799.9 L1449.4 802.5 L1449.9 805.0 L1450.4 807.4 L1450.9 809.9 L1451.4 812.3 L1451.9 814.6 L1452.4 816.9 L1452.9 819.2 L1453.4 821.4 L1453.9 823.6 L1454.4 825.7 L1454.9 827.8 L1455.4 829.8 L1455.9 831.9 L1456.4 833.8 L1456.9 835.8 L1457.4 837.6 L1457.9 839.5 L1458.4 841.3 L1458.9 843.1 L1459.4 844.8 L1459.9 846.5 L1460.4 848.1 L1460.9 849.7 L1461.4 851.3 L1461.9 852.8 L1462.4 854.3 L1462.9 855.8 L1463.4 857.2 L1463.9 858.6 L1464.4 859.9 L1464.9 861.2 L1465.4 862.5 L1465.9 863.7 L1466.4 864.9 L1466.9 866.0 L1467.4 867.1 L1467.9 868.2 L1468.4 869.2 L1468.9 870.2 L1469.4 871.2 L1469.9 872.1 L1470.4 873.0 L1470.9 873.9 L1471.4 874.7 L1471.9 875.5 L1472.4 876.2 L1472.9 876.9 L1473.4 877.6 L1473.9 878.2 L1474.4 878.8 L1474.9 879.4 L1475.4 879.9 L1475.9 880.4 L1476.4 880.9 L1476.9 881.3 L1477.4 881.7 L1477.9 882.1 L1478.4 882.4 L1478.9 882.7 L1479.4 882.9 L1479.9 883.2 L1480.4 883.4 L1480.9 883.5 L1481.4 883.6 L1481.9 883.7 L1482.4 883.7 L1482.9 883.8 L1483.4 883.7 L1483.9 883.7 L1484.4 883.6 L1484.9 883.5 L1485.4 883.3 L1485.9 883.1 L1486.4 882.9 L1487.0 882.6 L1487.5 882.4 L1488.0 882.0 L1488.5 881.7 L1489.0 881.3 L1489.5 880.8 L1490.0 880.4 L1490.5 879.9 L1491.0 879.4 L1491.5 878.8 L1492.0 878.2 L1492.5 877.6 L1493.0 876.9 L1493.5 876.2 L1494.0 875.5 L1494.5 874.7 L1495.0 873.9 L1495.5 873.1 L1496.0 872.2 L1496.5 871.3 L1497.0 870.4 L1497.5 869.4 L1498.0 868.4 L1498.5 867.4 L1499.0 866.3 L1499.5 865.2 L1500.0 864.1 L1500.5 862.9 L1501.0 861.7 L1501.5 860.5 L1502.0 859.2 L1502.5 857.9 L1503.0 856.6 L1503.5 855.2 L1504.0 853.8 L1504.5 852.3 L1505.0 850.9 L1505.5 849.4 L1506.0 847.8 L1506.5 846.2 L1507.0 844.6 L1507.5 843.0 L1508.0 841.3 L1508.5 839.6 L1509.0 837.8 L1509.5 836.0 L1510.0 834.2 L1510.5 832.3 L1511.0 830.4 L1511.5 828.5 L1512.0 826.5 L1512.5 824.5 L1513.0 822.5 L1513.5 820.4 L1514.0 818.3 L1514.5 816.2 L1515.0 814.0 L1515.5 811.8 L1516.0 809.6 L1516.5 807.3 L1517.0 805.0 L1517.5 802.6 L1518.0 800.2 L1518.5 797.8 L1519.0 795.3 L1519.5 792.8 L1520.0 790.3 L1520.5 787.7 L1521.0 785.1 L1521.5 782.5 L1522.0 779.8 L1522.5 777.1 L1523.0 774.3 L1523.5 771.6 L1524.0 768.7 L1524.5 765.9 L1525.0 763.0 L1525.5 760.1 L1526.0 757.1 L1526.5 754.1 L1527.0 751.1 L1527.5 748.0 L1528.0 744.9 L1528.5 741.8 L1529.0 738.6 L1529.5 735.4 L1530.0 732.1 L1530.5 728.8 L1531.0 725.5 L1531.5 722.2 L1532.0 718.8 L1532.5 715.4 L1533.0 711.9 L1533.5 708.4 L1534.0 704.9 L1534.5 701.3 L1535.0 697.7 L1535.5 694.1 L1536.0 690.5 L1536.5 686.8 L1537.0 683.0 L1537.5 679.3 L1538.0 675.5 L1538.5 671.7 L1539.0 667.8 L1539.5 663.9 L1540.0 660.0 L1540.5 656.1 L1541.0 652.1 L1541.5 648.1 L1542.0 644.0 L1542.5 640.0 L1543.0 635.9 L1543.5 631.7 L1544.0 627.6 L1544.5 623.4 L1545.0 619.2 L1545.5 615.0 L1546.0 610.7 L1546.5 606.4 L1547.0 602.1 L1547.5 597.8 L1548.0 593.4 L1548.5 589.0 L1549.0 584.6 L1549.5 580.2 L1550.0 575.7 L1550.5 571.3 L1551.0 566.8 L1551.5 562.3 L1552.0 557.8 L1552.5 553.2 L1553.0 548.7 L1553.5 544.1 L1554.0 539.5 L1554.5 534.9 L1555.0 530.3 L1555.5 525.7 L1556.0 521.0 L1556.5 516.4 L1557.0 511.8 L1557.5 507.1 L1558.0 502.4 L1558.5 497.8 L1559.0 493.1 L1559.5 488.4 L1560.0 483.8 L1560.5 479.1 L1561.0 474.4 L1561.5 469.7 L1562.0 465.1 L1562.5 460.4 L1563.0 455.8 L1563.5 451.1 L1564.0 446.5 L1564.5 441.8 L1565.0 437.2 L1565.5 432.6 L1566.0 428.1 L1566.5 423.5 L1567.0 418.9 L1567.5 414.4 L1568.0 409.9 L1568.5 405.4 L1569.0 401.0 L1569.5 396.5 L1570.0 392.1 L1570.5 387.8 L1571.0 383.4 L1571.5 379.1 L1572.0 374.8 L1572.5 370.6 L1573.0 366.4 L1573.5 362.2 L1574.0 358.1 L1574.5 354.0 L1575.0 350.0 L1575.5 346.0 L1576.0 342.1 L1576.5 338.2 L1577.0 334.4 L1577.5 330.6 L1578.0 326.9 L1578.5 323.2 L1579.0 319.6 L1579.5 316.1 L1580.0 312.6 L1580.5 309.2 L1581.0 305.9 L1581.5 302.6 L1582.0 299.4 L1582.5 296.2 L1583.0 293.1 L1583.5 290.2 L1584.0 287.2 L1584.5 284.4 L1585.0 281.6 L1585.5 278.9 L1586.0 276.3 L1586.5 273.8 L1587.0 271.4 L1587.5 269.0 L1588.0 266.7 L1588.5 264.5 L1589.0 262.4 L1589.5 260.4 L1590.0 258.5 L1590.5 256.7 L1591.0 255.0 L1591.5 253.3 L1592.0 251.8 L1592.5 250.3 L1593.0 249.0 L1593.5 247.7 L1594.0 246.5 L1594.5 245.5 L1595.0 244.5 L1595.5 243.6 L1596.0 242.8 L1596.5 242.2 L1597.0 241.6 L1597.5 241.1 L1598.0 240.7 L1598.5 240.5 L1599.0 240.3 L1599.5 240.2 L1600.0 240.2 L1600.5 240.3 L1601.0 240.6 L1601.5 240.9 L1602.0 241.3 L1602.5 241.8 L1603.0 242.4 L1603.5 243.1 L1604.0 243.9 L1604.5 244.8 L1605.0 245.8 L1605.5 246.9 L1606.0 248.0 L1606.5 249.3 L1607.0 250.7 L1607.5 252.1 L1608.0 253.7 L1608.5 255.3 L1609.0 257.0 L1609.5 258.8 L1610.0 260.7 L1610.5 262.7 L1611.0 264.7 L1611.5 266.9 L1612.0 269.1 L1612.5 271.4 L1613.0 273.8 L1613.5 276.2 L1614.0 278.7 L1614.5 281.3 L1615.0 284.0 L1615.5 286.7 L1616.0 289.5 L1616.5 292.4 L1617.0 295.3 L1617.5 298.3 L1618.0 301.4 L1618.5 304.5 L1619.0 307.7 L1619.5 311.0 L1620.0 314.3 L1620.5 317.6 L1621.0 321.0 L1621.5 324.5 L1622.0 328.0 L1622.5 331.5 L1623.0 335.1 L1623.5 338.8 L1624.0 342.5" stroke="#000000"/>
<path d="M253.5 1586.6 L254.0 1586.6 L254.5 1586.6 L255.0 1586.6 L255.5 1586.6 L256.0 1586.6 L256.5 1586.6 L257.0 1586.6 L257.5 1586.6 L258.0 1586.6 L258.5 1586.6 L259.0 1586.6 L259.5 1586.6 L260.0 1586.6 L260.5 1586.6 L261.0 1586.6 L261.5 1586.6 L262.0 1586.6 L262.5 1586.6 L263.0 1586.6 L263.5 1586.6 L264.0 1586.6 L264.5 1586.6 L265.0 1586.6 L265.5 1586.6 L266.0 1586.6 L266.5 1586.6 L267.0 1586.6 L267.5 1586.6 L268.0 1586.6 L268.5 1586.6 L269.0 1586.6 L269.5 1586.6 L270.0 1586.6 L270.5 1586.6 L271.0 1586.6 L271.5 1586.6 L272.0 1586.6 L272.5 1586.6 L273.0 1586.6 L273.5 1586.6 L274.0 1586.6 L274.5 1586.6 L275.0 1586.6 L275.5 1586.6 L276.0 1586.6 L276.5 1586.6 L277.0 1586.6 L277.5 1586.6 L278.0 1586.6 L278.5 1586.6 L279.0 1586.6 L279.5 1586.6 L280.0 1586.6 L280.5 1586.6 L281.0 1586.6 L281.5 1586.6 L282.0 1586.5 L282.5 1586.5 L283.0 1586.5 L283.5 1586.5 L284.0 1586.5 L284.5 1586.5 L285.0 1586.5 L285.5 1586.5 L286.0 1586.5 L286.5 1586.5 L287.0 1586.5 L287.5 1586.5 L288.0 1586.5 L288.5 1586.5 L289.0 1586.5 L289.5 1586.4 L290.0 1586.4 L290.5 1586.4 L291.0 1586.4 L291.5 1586.4 L292.0 1586.4 L292.5 1586.4 L293.0 1586.4 L293.5 1586.4 L294.0 1586.3 L294.5 1586.3 L295.0 1586.3 L295.5 1586.3 L296.0 1586.3 L296.5 1586.2 L297.0 1586.2 L297.5 1586.2 L298.0 1586.2 L298.5 1586.2 L299.0 1586.1 L299.5 1586.1 L300.0 1586.1 L300.5 1586.0 L301.0 1586.0 L301.5 1586.0 L302.0 1586.0 L302.5 1585.9 L303.0 1585.9 L303.5 1585.8 L304.0 1585.8 L304.5 1585.8 L305.0 1585.7 L305.5 1585.7 L306.0 1585.6 L306.5 1585.6 L307.0 1585.5 L307.5 1585.5 L308.0 1585.4 L308.5 1585.4 L309.0 1585.3 L309.5 1585.2 L310.0 1585.2 L310.5 1585.1 L311.0 1585.0 L311.5 1585.0 L312.0 1584.9 L312.5 1584.8 L313.0 1584.7 L313.5 1584.6 L314.0 1584.6 L314.5 1584.5 L315.0 1584.4 L315.5 1584.3 L316.0 1584.2 L316.5 1584.1 L317.0 1584.0 L317.5 1583.9 L318.0 1583.7 L318.5 1583.6 L319.0 1583.5 L319.5 1583.4 L320.0 1583.2 L320.5 1583.1 L321.0 1583.0 L321.5 1582.8 L322.0 1582.7 L322.5 1582.5 L323.0 1582.4 L323.5 1582.2 L324.0 1582.0 L324.5 1581.9 L325.0 1581.7 L325.5 1581.5 L326.0 1581.3 L326.5 1581.1 L327.0 1580.9 L327.5 1580.7 L328.0 1580.5 L328.5 1580.3 L329.0 1580.1 L329.5 1579.9 L330.0 1579.6 L330.5 1579.4 L331.0 1579.2 L331.5 1578.9 L332.0 1578.7 L332.5 1578.4 L333.0 1578.1 L333.5 1577.8 L334.0 1577.6 L334.5 1577.3 L335.0 1577.0 L335.5 1576.7 L336.0 1576.3 L336.5 1576.0 L337.0 1575.7 L337.5 1575.4 L338.0 1575.0 L338.5 1574.7 L339.0 1574.3 L339.5 1573.9 L340.0 1573.6 L340.5 1573.2 L341.0 1572.8 L341.5 1572.4 L342.0 1572.0 L342.5 1571.6 L343.0 1571.2 L343.5 1570.7 L344.0 1570.3 L344.5 1569.8 L345.0 1569.4 L345.5 1568.9 L346.0 1568.4 L346.5 1568.0 L347.0 1567.5 L347.5 1567.0 L348.0 1566.5 L348.5 1566.0 L349.0 1565.4 L349.5 1564.9 L350.0 1564.4 L350.5 1563.8 L351.0 1563.3 L351.5 1562.7 L352.0 1562.1 L352.5 1561.6 L353.0 1561.0 L353.5 1560.4 L354.0 1559.8 L354.5 1559.2 L355.0 1558.6 L355.5 1557.9 L356.0 1557.3 L356.5 1556.7 L357.0 1556.0 L357.5 1555.4 L358.0 1554.7 L358.5 1554.1 L359.0 1553.4 L359.5 1552.7 L360.0 1552.0 L360.5 1551.3 L361.0 1550.6 L361.5 1549.9 L362.0 1549.2 L362.5 1548.4 L363.0 1547.7 L363.5 1546.9 L364.0 1546.2 L364.5 1545.4 L365.0 1544.6 L365.5 1543.9 L366.0 1543.1 L366.5 1542.3 L367.0 1541.5 L367.5 1540.6 L368.0 1539.8 L368.5 1539.0 L369.0 1538.1 L369.5 1537.2 L370.0 1536.4 L370.5 1535.5 L371.0 1534.6 L371.5 1533.6 L372.0 1532.7 L372.5 1531.8 L373.0 1530.8 L373.5 1529.8 L374.0 1528.8 L374.5 1527.8 L375.0 1526.8 L375.5 1525.8 L376.0 1524.7 L376.5 1523.7 L377.0 1522.6 L377.5 1521.5 L378.0 1520.3 L378.5 1519.2 L379.0 1518.0 L379.5 1516.8 L380.0 1515.6 L380.5 1514.4 L381.0 1513.2 L381.5 1511.9 L382.0 1510.6 L382.5 1509.3 L383.0 1508.0 L383.5 1506.6 L384.0 1505.3 L384.5 1503.9 L385.0 1502.4 L385.5 1501.0 L386.0 1499.6 L386.5 1498.1 L387.0 1496.6 L387.5 1495.1 L388.0 1493.5 L388.5 1492.0 L389.0 1490.4 L389.5 1488.8 L390.0 1487.2 L390.6 1485.6 L391.1 1483.9 L391.6 1482.3 L392.1 1480.6 L392.6 1478.9 L393.1 1477.2 L393.6 1475.5 L394.1 1473.8 L394.6 1472.1 L395.1 1470.4 L395.6 1468.7 L396.1 1467.0 L396.6 1465.2 L397.1 1463.5 L397.6 1461.8 L398.1 1460.1 L398.6 1458.4 L399.1 1456.7 L399.6 1455.0 L400.1 1453.3 L400.6 1451.6 L401.1 1450.0 L401.6 1448.3 L402.1 1446.7 L402.6 1445.1 L403.1 1443.6 L403.6 1442.0 L404.1 1440.5 L404.6 1439.0 L405.1 1437.5 L405.6 1436.1 L406.1 1434.6 L406.6 1433.3 L407.1 1431.9 L407.6 1430.6 L408.1 1429.3 L408.6 1428.0 L409.1 1426.8 L409.6 1425.6 L410.1 1424.4 L410.6 1423.3 L411.1 1422.2 L411.6 1421.1 L412.1 1420.1 L412.6 1419.0 L413.1 1418.0 L413.6 1417.1 L414.1 1416.1 L414.6 1415.2 L415.1 1414.3 L415.6 1413.4 L416.1 1412.5 L416.6 1411.7 L417.1 1410.9 L417.6 1410.0 L418.1 1409.2 L418.6 1408.4 L419.1 1407.6 L419.6 1406.8 L420.1 1405.9 L420.6 1405.1 L421.1 1404.3 L421.6 1403.5 L422.1 1402.6 L422.6 1401.8 L423.1 1400.9 L423.6 1400.0 L424.1 1399.1 L424.6 1398.2 L425.1 1397.2 L425.6 1396.2 L426.1 1395.2 L426.6 1394.1 L427.1 1393.1 L427.6 1391.9 L428.1 1390.8 L428.6 1389.6 L429.1 1388.3 L429.6 1387.0 L430.1 1385.7 L430.6 1384.3 L431.1 1382.8 L431.6 1381.3 L432.1 1379.8 L432.6 1378.1 L433.1 1376.5 L433.6 1374.7 L434.1 1372.9 L434.6 1371.0 L435.1 1369.1 L435.6 1367.1 L436.1 1365.0 L436.6 1362.9 L437.1 1360.6 L437.6 1358.3 L438.1 1356.0 L438.6 1353.5 L439.1 1351.0 L439.6 1348.4 L440.1 1345.7 L440.6 1342.9 L441.1 1340.1 L441.6 1337.2 L442.1 1334.2 L442.6 1331.1 L443.1 1327.9 L443.6 1324.7 L444.1 1321.4 L444.6 1318.0 L445.1 1314.5 L445.6 1311.0 L446.1 1307.4 L446.6 1303.7 L447.1 1300.0 L447.6 1296.2 L448.1 1292.4 L448.6 1288.5 L449.1 1284.5 L449.6 1280.6 L450.1 1276.5 L450.6 1272.5 L451.1 1268.4 L451.6 1264.3 L452.1 1260.2 L452.6 1256.1 L453.1 1252.0 L453.6 1247.9 L454.1 1243.8 L454.6 1239.7 L455.1 1235.7 L455.6 1231.7 L456.1 1227.8 L456.6 1223.9 L457.1 1220.1 L457.6 1216.4 L458.1 1212.7 L458.6 1209.2 L459.1 1205.7 L459.6 1202.4 L460.1 1199.2 L460.6 1196.1 L461.1 1193.2 L461.6 1190.4 L462.1 1187.8 L462.6 1185.3 L463.1 1182.9 L463.6 1180.8 L464.1 1178.8 L464.6 1177.0 L465.1 1175.3 L465.6 1173.9 L466.1 1172.6 L466.6 1171.5 L467.1 1170.6 L467.6 1169.9 L468.1 1169.3 L468.6 1168.9 L469.1 1168.7 L469.6 1168.7 L470.1 1168.8 L470.6 1169.1 L471.1 1169.6 L471.6 1170.2 L472.1 1170.9 L472.6 1171.8 L473.1 1172.8 L473.6 1173.9 L474.1 1175.1 L474.6 1176.4 L475.1 1177.9 L475.6 1179.4 L476.1 1180.9 L476.6 1182.6 L477.1 1184.3 L477.6 1186.0 L478.1 1187.8 L478.6 1189.6 L479.1 1191.5 L479.6 1193.3 L480.1 1195.2 L480.6 1197.0 L481.1 1198.8 L481.6 1200.6 L482.1 1202.4 L482.6 1204.2 L483.1 1205.9 L483.6 1207.5 L484.1 1209.1 L484.6 1210.7 L485.1 1212.1 L485.6 1213.6 L486.1 1214.9 L486.6 1216.1 L487.1 1217.3 L487.6 1218.4 L488.1 1219.4 L488.6 1220.3 L489.1 1221.1 L489.6 1221.8 L490.1 1222.4 L490.6 1222.8 L491.1 1223.2 L491.6 1223.5 L492.1 1223.6 L492.6 1223.6 L493.1 1223.5 L493.6 1223.3 L494.1 1222.9 L494.6 1222.5 L495.1 1221.8 L495.6 1221.1 L496.1 1220.2 L496.6 1219.2 L497.1 1218.1 L497.6 1216.8 L498.1 1215.4 L498.6 1213.8 L499.1 1212.1 L499.6 1210.2 L500.1 1208.2 L500.6 1206.0 L501.1 1203.7 L501.6 1201.2 L502.1 1198.6 L502.6 1195.8 L503.1 1192.9 L503.6 1189.7 L504.1 1186.5 L504.6 1183.0 L505.1 1179.4 L505.6 1175.7 L506.1 1171.7 L506.6 1167.6 L507.1 1163.3 L507.6 1158.9 L508.1 1154.3 L508.6 1149.5 L509.1 1144.5 L509.6 1139.4 L510.1 1134.1 L510.6 1128.6 L511.1 1123.0 L511.6 1117.2 L512.1 1111.3 L512.6 1105.2 L513.1 1099.0 L513.6 1092.6 L514.1 1086.1 L514.6 1079.4 L515.1 1072.6 L515.6 1065.7 L516.1 1058.7 L516.6 1051.6 L517.1 1044.4 L517.6 1037.2 L518.1 1029.9 L518.6 1022.5 L519.1 1015.1 L519.6 1007.7 L520.1 1000.2 L520.6 992.8 L521.1 985.4 L521.6 978.1 L522.1 970.8 L522.6 963.6 L523.1 956.5 L523.6 949.5 L524.1 942.7 L524.6 936.0 L525.1 929.6 L525.6 923.3 L526.1 917.2 L526.6 911.4 L527.1 905.8 L527.6 900.5 L528.1 895.5 L528.6 890.8 L529.1 886.5 L529.6 882.4 L530.1 878.7 L530.6 875.4 L531.1 872.5 L531.6 869.9 L532.1 867.7 L532.6 865.9 L533.1 864.5 L533.6 863.5 L534.1 862.9 L534.6 862.7 L535.1 862.9 L535.6 863.5 L536.1 864.4 L536.6 865.8 L537.1 867.5 L537.6 869.6 L538.1 872.1 L538.6 874.9 L539.1 878.0 L539.6 881.4 L540.1 885.1 L540.6 889.1 L541.1 893.3 L541.6 897.8 L542.1 902.5 L542.6 907.4 L543.1 912.5 L543.6 917.8 L544.1 923.2 L544.6 928.8 L545.1 934.4 L545.6 940.1 L546.1 945.9 L546.6 951.8 L547.1 957.7 L547.6 963.6 L548.1 969.5 L548.6 975.4 L549.1 981.2 L549.6 987.0 L550.1 992.8 L550.6 998.5 L551.1 1004.1 L551.6 1009.6 L552.1 1015.0 L552.6 1020.3 L553.1 1025.5 L553.6 1030.6 L554.1 1035.5 L554.6 1040.3 L555.1 1045.0 L555.6 1049.5 L556.1 1053.8 L556.6 1058.0 L557.1 1062.0 L557.6 1065.9 L558.1 1069.6 L558.6 1073.1 L559.1 1076.5 L559.6 1079.7 L560.1 1082.7 L560.6 1085.5 L561.1 1088.2 L561.6 1090.7 L562.1 1093.0 L562.6 1095.1 L563.1 1097.0 L563.6 1098.8 L564.1 1100.4 L564.6 1101.8 L565.1 1103.0 L565.6 1104.1 L566.1 1104.9 L566.6 1105.6 L567.1 1106.1 L567.6 1106.4 L568.1 1106.5 L568.6 1106.5 L569.1 1106.3 L569.6 1105.8 L570.1 1105.2 L570.6 1104.4 L571.1 1103.5 L571.6 1102.3 L572.1 1100.9 L572.6 1099.4 L573.1 1097.6 L573.6 1095.7 L574.1 1093.6 L574.6 1091.3 L575.1 1088.7 L575.6 1086.0 L576.1 1083.1 L576.6 1080.0 L577.1 1076.7 L577.6 1073.1 L578.1 1069.4 L578.6 1065.4 L579.1 1061.3 L579.6 1056.9 L580.1 1052.3 L580.6 1047.5 L581.1 1042.5 L581.6 1037.3 L582.1 1031.9 L582.6 1026.2 L583.1 1020.3 L583.6 1014.2 L584.1 1007.9 L584.6 1001.4 L585.1 994.6 L585.6 987.6 L586.1 980.4 L586.6 973.0 L587.1 965.4 L587.6 957.6 L588.1 949.6 L588.6 941.4 L589.1 933.0 L589.6 924.4 L590.1 915.6 L590.6 906.7 L591.1 897.6 L591.6 888.4 L592.1 879.0 L592.6 869.5 L593.1 859.9 L593.6 850.2 L594.1 840.4 L594.6 830.6 L595.1 820.7 L595.6 810.7 L596.1 800.8 L596.6 790.9 L597.1 781.0 L597.6 771.2 L598.1 761.5 L598.6 751.9 L599.1 742.4 L599.6 733.0 L600.1 723.9 L600.6 714.9 L601.1 706.2 L601.6 697.7 L602.1 689.6 L602.6 681.7 L603.1 674.1 L603.6 666.9 L604.1 660.1 L604.6 653.7 L605.1 647.7 L605.6 642.1 L606.1 637.0 L606.6 632.4 L607.1 628.2 L607.6 624.6 L608.1 621.4 L608.6 618.8 L609.1 616.7 L609.6 615.1 L610.1 614.0 L610.6 613.5 L611.1 613.6 L611.6 614.1 L612.1 615.2 L612.6 616.8 L613.1 618.9 L613.6 621.6 L614.1 624.7 L614.6 628.3 L615.1 632.4 L615.6 636.9 L616.1 641.9 L616.6 647.2 L617.1 653.0 L617.6 659.1 L618.1 665.6 L618.6 672.4 L619.1 679.5 L619.6 686.9 L620.1 694.6 L620.6 702.4 L621.1 710.5 L621.6 718.8 L622.1 727.2 L622.6 735.7 L623.1 744.4 L623.6 753.1 L624.1 761.9 L624.6 770.7 L625.1 779.6 L625.6 788.4 L626.1 797.3 L626.6 806.1 L627.1 814.8 L627.6 823.5 L628.1 832.1 L628.6 840.6 L629.1 848.9 L629.6 857.2 L630.1 865.3 L630.6 873.3 L631.1 881.1 L631.6 888.8 L632.1 896.3 L632.6 903.6 L633.1 910.7 L633.6 917.7 L634.1 924.5 L634.6 931.1 L635.1 937.4 L635.6 943.6 L636.1 949.6 L636.6 955.4 L637.1 961.0 L637.6 966.4 L638.1 971.6 L638.6 976.5 L639.1 981.3 L639.6 985.9 L640.1 990.2 L640.6 994.4 L641.1 998.4 L641.6 1002.1 L642.1 1005.7 L642.6 1009.0 L643.1 1012.2 L643.6 1015.2 L644.1 1017.9 L644.6 1020.5 L645.1 1022.9 L645.6 1025.1 L646.1 1027.1 L646.6 1028.9 L647.1 1030.5 L647.6 1031.9 L648.1 1033.2 L648.6 1034.2 L649.1 1035.1 L649.6 1035.8 L650.1 1036.3 L650.6 1036.6 L651.1 1036.7 L651.6 1036.6 L652.1 1036.4 L652.6 1035.9 L653.1 1035.3 L653.6 1034.5 L654.1 1033.5 L654.6 1032.3 L655.1 1031.0 L655.6 1029.4 L656.1 1027.7 L656.6 1025.8 L657.1 1023.6 L657.6 1021.3 L658.1 1018.8 L658.6 1016.1 L659.1 1013.2 L659.6 1010.1 L660.1 1006.9 L660.6 1003.4 L661.1 999.7 L661.6 995.8 L662.1 991.7 L662.6 987.4 L663.1 982.9 L663.6 978.2 L664.1 973.3 L664.6 968.2 L665.2 962.8 L665.7 957.3 L666.2 951.5 L666.7 945.6 L667.2 939.4 L667.7 933.0 L668.2 926.3 L668.7 919.5 L669.2 912.4 L669.7 905.2 L670.2 897.7 L670.7 890.0 L671.2 882.1 L671.7 874.0 L672.2 865.7 L672.7 857.2 L673.2 848.4 L673.7 839.5 L674.2 830.4 L674.7 821.1 L675.2 811.7 L675.7 802.1 L676.2 792.3 L676.7 782.3 L677.2 772.2 L677.7 762.0 L678.2 751.7 L678.7 741.3 L679.2 730.7 L679.7 720.1 L680.2 709.4 L680.7 698.7 L681.2 688.0 L681.7 677.2 L682.2 666.5 L682.7 655.7 L683.2 645.1 L683.7 634.5 L684.2 624.0 L684.7 613.6 L685.2 603.3 L685.7 593.2 L686.2 583.3 L686.7 573.6 L687.2 564.1 L687.7 554.9 L688.2 546.0 L688.7 537.3 L689.2 529.0 L689.7 521.0 L690.2 513.4 L690.7 506.2 L691.2 499.4 L691.7 493.0 L692.2 487.1 L692.7 481.6 L693.2 476.6 L693.7 472.1 L694.2 468.1 L694.7 464.6 L695.2 461.6 L695.7 459.2 L696.2 457.3 L696.7 455.9 L697.2 455.1 L697.7 454.8 L698.2 455.1 L698.7 455.9 L699.2 457.2 L699.7 459.1 L700.2 461.5 L700.7 464.4 L701.2 467.8 L701.7 471.7 L702.2 476.1 L702.7 481.0 L703.2 486.3 L703.7 492.0 L704.2 498.1 L704.7 504.7 L705.2 511.6 L705.7 518.8 L706.2 526.4 L706.7 534.3 L707.2 542.5 L707.7 551.0 L708.2 559.7 L708.7 568.6 L709.2 577.7 L709.7 587.0 L710.2 596.5 L710.7 606.0 L711.2 615.7 L711.7 625.5 L712.2 635.3 L712.7 645.2 L713.2 655.1 L713.7 665.0 L714.2 674.9 L714.7 684.8 L715.2 694.6 L715.7 704.4 L716.2 714.1 L716.7 723.8 L717.2 733.3 L717.7 742.7 L718.2 752.0 L718.7 761.2 L719.2 770.2 L719.7 779.1 L720.2 787.9 L720.7 796.5 L721.2 804.9 L721.7 813.1 L722.2 821.2 L722.7 829.1 L723.2 836.8 L723.7 844.4 L724.2 851.7 L724.7 858.8 L725.2 865.8 L725.7 872.6 L726.2 879.2 L726.7 885.5 L727.2 891.7 L727.7 897.7 L728.2 903.5 L728.7 909.1 L729.2 914.5 L729.7 919.8 L730.2 924.8 L730.7 929.6 L731.2 934.3 L731.7 938.7 L732.2 943.0 L732.7 947.1 L733.2 951.0 L733.7 954.7 L734.2 958.3 L734.7 961.6 L735.2 964.8 L735.7 967.8 L736.2 970.7 L736.7 973.3 L737.2 975.8 L737.7 978.1 L738.2 980.3 L738.7 982.3 L739.2 984.1 L739.7 985.7 L740.2 987.2 L740.7 988.5 L741.2 989.6 L741.7 990.6 L742.2 991.5 L742.7 992.1 L743.2 992.6 L743.7 993.0 L744.2 993.1 L744.7 993.1 L745.2 993.0 L745.7 992.7 L746.2 992.2 L746.7 991.6 L747.2 990.8 L747.7 989.9 L748.2 988.8 L748.7 987.5 L749.2 986.1 L749.7 984.5 L750.2 982.8 L750.7 980.9 L751.2 978.8 L751.7 976.6 L752.2 974.2 L752.7 971.6 L753.2 968.9 L753.7 966.0 L754.2 962.9 L754.7 959.7 L755.2 956.3 L755.7 952.7 L756.2 949.0 L756.7 945.1 L757.2 941.0 L757.7 936.7 L758.2 932.3 L758.7 927.7 L759.2 922.9 L759.7 917.9 L760.2 912.7 L760.7 907.4 L761.2 901.9 L761.7 896.2 L762.2 890.3 L762.7 884.2 L763.2 878.0 L763.7 871.6 L764.2 865.0 L764.7 858.2 L765.2 851.2 L765.7 844.0 L766.2 836.7 L766.7 829.1 L767.2 821.4 L767.7 813.6 L768.2 805.5 L768.7 797.3 L769.2 788.9 L769.7 780.3 L770.2 771.6 L770.7 762.7 L771.2 753.7 L771.7 744.5 L772.2 735.2 L772.7 725.8 L773.2 716.2 L773.7 706.5 L774.2 696.7 L774.7 686.7 L775.2 676.7 L775.7 666.6 L776.2 656.5 L776.7 646.2 L777.2 636.0 L777.7 625.7 L778.2 615.3 L778.7 605.0 L779.2 594.6 L779.7 584.3 L780.2 574.0 L780.7 563.8 L781.2 553.6 L781.7 543.6 L782.2 533.6 L782.7 523.7 L783.2 514.0 L783.7 504.5 L784.2 495.1 L784.7 485.9 L785.2 476.9 L785.7 468.2 L786.2 459.7 L786.7 451.5 L787.2 443.5 L787.7 435.9 L788.2 428.6 L788.7 421.6 L789.2 414.9 L789.7 408.7 L790.2 402.8 L790.7 397.3 L791.2 392.2 L791.7 387.5 L792.2 383.2 L792.7 379.4 L793.2 376.0 L793.7 373.1 L794.2 370.7 L794.7 368.7 L795.2 367.1 L795.7 366.1 L796.2 365.5 L796.7 365.4 L797.2 365.7 L797.7 366.5 L798.2 367.8 L798.7 369.6 L799.2 371.8 L799.7 374.4 L800.2 377.5 L800.7 381.1 L801.2 385.0 L801.7 389.4 L802.2 394.2 L802.7 399.3 L803.2 404.9 L803.7 410.7 L804.2 417.0 L804.7 423.5 L805.2 430.4 L805.7 437.6 L806.2 445.1 L806.7 452.8 L807.2 460.8 L807.7 468.9 L808.2 477.4 L808.7 486.0 L809.2 494.7 L809.7 503.7 L810.2 512.8 L810.7 522.0 L811.2 531.3 L811.7 540.7 L812.2 550.2 L812.7 559.7 L813.2 569.3 L813.7 578.9 L814.2 588.5 L814.7 598.1 L815.2 607.7 L815.7 617.3 L816.2 626.9 L816.7 636.4 L817.2 645.8 L817.7 655.2 L818.2 664.5 L818.7 673.7 L819.2 682.9 L819.7 691.9 L820.2 700.8 L820.7 709.6 L821.2 718.2 L821.7 726.8 L822.2 735.2 L822.7 743.5 L823.2 751.6 L823.7 759.6 L824.2 767.4 L824.7 775.1 L825.2 782.6 L825.7 790.0 L826.2 797.2 L826.7 804.3 L827.2 811.2 L827.7 817.9 L828.2 824.5 L828.7 830.9 L829.2 837.2 L829.7 843.3 L830.2 849.2 L830.7 855.0 L831.2 860.6 L831.7 866.0 L832.2 871.3 L832.7 876.4 L833.2 881.4 L833.7 886.2 L834.2 890.8 L834.7 895.3 L835.2 899.6 L835.7 903.8 L836.2 907.8 L836.7 911.7 L837.2 915.4 L837.7 919.0 L838.2 922.4 L838.7 925.7 L839.2 928.8 L839.7 931.8 L840.2 934.7 L840.7 937.4 L841.2 939.9 L841.7 942.4 L842.2 944.6 L842.7 946.8 L843.2 948.8 L843.7 950.6 L844.2 952.4 L844.7 954.0 L845.2 955.4 L845.7 956.8 L846.2 958.0 L846.7 959.0 L847.2 960.0 L847.7 960.8 L848.2 961.4 L848.7 962.0 L849.2 962.4 L849.7 962.7 L850.2 962.8 L850.7 962.9 L851.2 962.8 L851.7 962.6 L852.2 962.2 L852.7 961.7 L853.2 961.1 L853.7 960.4 L854.2 959.5 L854.7 958.5 L855.2 957.4 L855.7 956.2 L856.2 954.8 L856.7 953.3 L857.2 951.7 L857.7 949.9 L858.2 948.0 L858.7 946.0 L859.2 943.9 L859.7 941.6 L860.2 939.2 L860.7 936.6 L861.2 934.0 L861.7 931.2 L862.2 928.2 L862.7 925.2 L863.2 922.0 L863.7 918.6 L864.2 915.1 L864.7 911.5 L865.2 907.8 L865.7 903.9 L866.2 899.8 L866.7 895.7 L867.2 891.4 L867.7 886.9 L868.2 882.3 L868.7 877.6 L869.2 872.7 L869.7 867.7 L870.2 862.5 L870.7 857.2 L871.2 851.8 L871.7 846.2 L872.2 840.5 L872.7 834.6 L873.2 828.6 L873.7 822.4 L874.2 816.1 L874.7 809.6 L875.2 803.0 L875.7 796.3 L876.2 789.4 L876.7 782.4 L877.2 775.3 L877.7 768.0 L878.2 760.6 L878.7 753.0 L879.2 745.3 L879.7 737.5 L880.2 729.6 L880.7 721.5 L881.2 713.4 L881.7 705.1 L882.2 696.7 L882.7 688.2 L883.2 679.6 L883.7 670.9 L884.2 662.1 L884.7 653.2 L885.2 644.3 L885.7 635.2 L886.2 626.2 L886.7 617.0 L887.2 607.8 L887.7 598.6 L888.2 589.3 L888.7 580.0 L889.2 570.7 L889.7 561.4 L890.2 552.1 L890.7 542.8 L891.2 533.6 L891.7 524.3 L892.2 515.2 L892.7 506.1 L893.2 497.0 L893.7 488.1 L894.2 479.2 L894.7 470.5 L895.2 461.8 L895.7 453.3 L896.2 445.0 L896.7 436.8 L897.2 428.8 L897.7 421.0 L898.2 413.3 L898.7 405.9 L899.2 398.7 L899.7 391.8 L900.2 385.0 L900.7 378.6 L901.2 372.4 L901.7 366.5 L902.2 360.9 L902.7 355.6 L903.2 350.6 L903.7 345.9 L904.2 341.5 L904.7 337.5 L905.2 333.8 L905.7 330.5 L906.2 327.5 L906.7 324.8 L907.2 322.6 L907.7 320.7 L908.2 319.2 L908.7 318.0 L909.2 317.2 L909.7 316.8 L910.2 316.8 L910.7 317.2 L911.2 317.9 L911.7 319.0 L912.2 320.4 L912.7 322.2 L913.2 324.4 L913.7 326.9 L914.2 329.8 L914.7 333.0 L915.2 336.6 L915.7 340.5 L916.2 344.7 L916.7 349.2 L917.2 354.0 L917.7 359.1 L918.2 364.5 L918.7 370.1 L919.2 376.1 L919.7 382.2 L920.2 388.6 L920.7 395.3 L921.2 402.1 L921.7 409.1 L922.2 416.4 L922.7 423.8 L923.2 431.4 L923.7 439.1 L924.2 447.0 L924.7 455.0 L925.2 463.1 L925.7 471.3 L926.2 479.6 L926.7 488.0 L927.2 496.5 L927.7 505.0 L928.2 513.6 L928.7 522.2 L929.2 530.8 L929.7 539.5 L930.2 548.2 L930.7 556.9 L931.2 565.5 L931.7 574.2 L932.2 582.8 L932.7 591.4 L933.2 599.9 L933.7 608.4 L934.2 616.8 L934.7 625.2 L935.2 633.5 L935.7 641.8 L936.2 650.0 L936.7 658.0 L937.2 666.0 L937.7 673.9 L938.2 681.7 L938.8 689.4 L939.3 697.0 L939.8 704.5 L940.3 711.9 L940.8 719.2 L941.3 726.4 L941.8 733.4 L942.3 740.4 L942.8 747.2 L943.3 753.9 L943.8 760.4 L944.3 766.9 L944.8 773.2 L945.3 779.4 L945.8 785.5 L946.3 791.5 L946.8 797.3 L947.3 803.0 L947.8 808.6 L948.3 814.0 L948.8 819.3 L949.3 824.5 L949.8 829.6 L950.3 834.5 L950.8 839.4 L951.3 844.1 L951.8 848.6 L952.3 853.1 L952.8 857.4 L953.3 861.6 L953.8 865.7 L954.3 869.7 L954.8 873.5 L955.3 877.2 L955.8 880.9 L956.3 884.4 L956.8 887.7 L957.3 891.0 L957.8 894.1 L958.3 897.2 L958.8 900.1 L959.3 902.9 L959.8 905.6 L960.3 908.2 L960.8 910.7 L961.3 913.0 L961.8 915.3 L962.3 917.4 L962.8 919.5 L963.3 921.4 L963.8 923.3 L964.3 925.0 L964.8 926.6 L965.3 928.1 L965.8 929.6 L966.3 930.9 L966.8 932.1 L967.3 933.2 L967.8 934.2 L968.3 935.1 L968.8 936.0 L969.3 936.7 L969.8 937.3 L970.3 937.8 L970.8 938.2 L971.3 938.5 L971.8 938.8 L972.3 938.9 L972.8 938.9 L973.3 938.8 L973.8 938.7 L974.3 938.4 L974.8 938.0 L975.3 937.6 L975.8 937.0 L976.3 936.4 L976.8 935.6 L977.3 934.8 L977.8 933.8 L978.3 932.8 L978.8 931.7 L979.3 930.4 L979.8 929.1 L980.3 927.7 L980.8 926.1 L981.3 924.5 L981.8 922.8 L982.3 921.0 L982.8 919.0 L983.3 917.0 L983.8 914.9 L984.3 912.7 L984.8 910.4 L985.3 908.0 L985.8 905.5 L986.3 902.8 L986.8 900.1 L987.3 897.3 L987.8 894.4 L988.3 891.4 L988.8 888.2 L989.3 885.0 L989.8 881.7 L990.3 878.2 L990.8 874.7 L991.3 871.0 L991.8 867.3 L992.3 863.4 L992.8 859.5 L993.3 855.4 L993.8 851.2 L994.3 847.0 L994.8 842.6 L995.3 838.1 L995.8 833.5 L996.3 828.8 L996.8 824.0 L997.3 819.0 L997.8 814.0 L998.3 808.9 L998.8 803.6 L999.3 798.3 L999.8 792.8 L1000.3 787.3 L1000.8 781.6 L1001.3 775.8 L1001.8 770.0 L1002.3 764.0 L1002.8 757.9 L1003.3 751.7 L1003.8 745.4 L1004.3 739.1 L1004.8 732.6 L1005.3 726.0 L1005.8 719.3 L1006.3 712.6 L1006.8 705.7 L1007.3 698.7 L1007.8 691.7 L1008.3 684.6 L1008.8 677.4 L1009.3 670.1 L1009.8 662.7 L1010.3 655.3 L1010.8 647.8 L1011.3 640.2 L1011.8 632.6 L1012.3 624.9 L1012.8 617.1 L1013.3 609.3 L1013.8 601.4 L1014.3 593.5 L1014.8 585.6 L1015.3 577.6 L1015.8 569.6 L1016.3 561.6 L1016.8 553.6 L1017.3 545.6 L1017.8 537.5 L1018.3 529.5 L1018.8 521.4 L1019.3 513.4 L1019.8 505.4 L1020.3 497.4 L1020.8 489.5 L1021.3 481.6 L1021.8 473.8 L1022.3 466.0 L1022.8 458.3 L1023.3 450.7 L1023.8 443.1 L1024.3 435.7 L1024.8 428.3 L1025.3 421.1 L1025.8 414.0 L1026.3 406.9 L1026.8 400.1 L1027.3 393.3 L1027.8 386.7 L1028.3 380.3 L1028.8 374.1 L1029.3 368.0 L1029.8 362.0 L1030.3 356.3 L1030.8 350.8 L1031.3 345.5 L1031.8 340.3 L1032.3 335.4 L1032.8 330.8 L1033.3 326.3 L1033.8 322.1 L1034.3 318.1 L1034.8 314.4 L1035.3 310.9 L1035.8 307.7 L1036.3 304.7 L1036.8 302.0 L1037.3 299.6 L1037.8 297.4 L1038.3 295.5 L1038.8 293.9 L1039.3 292.5 L1039.8 291.5 L1040.3 290.7 L1040.8 290.2 L1041.3 289.9 L1041.8 290.0 L1042.3 290.3 L1042.8 290.9 L1043.3 291.8 L1043.8 293.0 L1044.3 294.4 L1044.8 296.1 L1045.3 298.1 L1045.8 300.3 L1046.3 302.8 L1046.8 305.5 L1047.3 308.5 L1047.8 311.8 L1048.3 315.3 L1048.8 319.0 L1049.3 322.9 L1049.8 327.1 L1050.3 331.5 L1050.8 336.1 L1051.3 340.9 L1051.8 345.9 L1052.3 351.1 L1052.8 356.4 L1053.3 362.0 L1053.8 367.7 L1054.3 373.5 L1054.8 379.6 L1055.3 385.7 L1055.8 392.0 L1056.3 398.5 L1056.8 405.0 L1057.3 411.7 L1057.8 418.4 L1058.3 425.3 L1058.8 432.3 L1059.3 439.3 L1059.8 446.4 L1060.3 453.6 L1060.8 460.8 L1061.3 468.1 L1061.8 475.5 L1062.3 482.9 L1062.8 490.3 L1063.3 497.7 L1063.8 505.2 L1064.3 512.6 L1064.8 520.1 L1065.3 527.6 L1065.8 535.1 L1066.3 542.5 L1066.8 550.0 L1067.3 557.4 L1067.8 564.8 L1068.3 572.2 L1068.8 579.6 L1069.3 586.9 L1069.8 594.1 L1070.3 601.3 L1070.8 608.5 L1071.3 615.6 L1071.8 622.7 L1072.3 629.7 L1072.8 636.6 L1073.3 643.5 L1073.8 650.3 L1074.3 657.0 L1074.8 663.6 L1075.3 670.2 L1075.8 676.7 L1076.3 683.2 L1076.8 689.5 L1077.3 695.8 L1077.8 701.9 L1078.3 708.0 L1078.8 714.1 L1079.3 720.0 L1079.8 725.8 L1080.3 731.6 L1080.8 737.2 L1081.3 742.8 L1081.8 748.3 L1082.3 753.6 L1082.8 758.9 L1083.3 764.1 L1083.8 769.2 L1084.3 774.3 L1084.8 779.2 L1085.3 784.0 L1085.8 788.8 L1086.3 793.4 L1086.8 798.0 L1087.3 802.4 L1087.8 806.8 L1088.3 811.1 L1088.8 815.3 L1089.3 819.4 L1089.8 823.4 L1090.3 827.3 L1090.8 831.1 L1091.3 834.8 L1091.8 838.5 L1092.3 842.0 L1092.8 845.5 L1093.3 848.9 L1093.8 852.2 L1094.3 855.4 L1094.8 858.5 L1095.3 861.6 L1095.8 864.5 L1096.3 867.4 L1096.8 870.1 L1097.3 872.8 L1097.8 875.5 L1098.3 878.0 L1098.8 880.4 L1099.3 882.8 L1099.8 885.1 L1100.3 887.3 L1100.8 889.4 L1101.3 891.4 L1101.8 893.4 L1102.3 895.3 L1102.8 897.1 L1103.3 898.8 L1103.8 900.5 L1104.3 902.0 L1104.8 903.5 L1105.3 904.9 L1105.8 906.3 L1106.3 907.6 L1106.8 908.7 L1107.3 909.9 L1107.8 910.9 L1108.3 911.9 L1108.8 912.8 L1109.3 913.6 L1109.8 914.3 L1110.3 915.0 L1110.8 915.6 L1111.3 916.1 L1111.8 916.6 L1112.3 916.9 L1112.8 917.2 L1113.3 917.5 L1113.8 917.6 L1114.3 917.7 L1114.8 917.8 L1115.3 917.7 L1115.8 917.6 L1116.3 917.4 L1116.8 917.1 L1117.3 916.8 L1117.8 916.4 L1118.3 915.9 L1118.8 915.4 L1119.3 914.7 L1119.8 914.1 L1120.3 913.3 L1120.8 912.5 L1121.3 911.6 L1121.8 910.6 L1122.3 909.6 L1122.8 908.4 L1123.3 907.3 L1123.8 906.0 L1124.3 904.7 L1124.8 903.3 L1125.3 901.8 L1125.8 900.3 L1126.3 898.6 L1126.8 897.0 L1127.3 895.2 L1127.8 893.4 L1128.3 891.5 L1128.8 889.5 L1129.3 887.4 L1129.8 885.3 L1130.3 883.1 L1130.8 880.9 L1131.3 878.5 L1131.8 876.1 L1132.3 873.6 L1132.8 871.1 L1133.3 868.4 L1133.8 865.7 L1134.3 862.9 L1134.8 860.1 L1135.3 857.1 L1135.8 854.1 L1136.3 851.0 L1136.8 847.9 L1137.3 844.6 L1137.8 841.3 L1138.3 837.9 L1138.8 834.5 L1139.3 830.9 L1139.8 827.3 L1140.3 823.6 L1140.8 819.9 L1141.3 816.0 L1141.8 812.1 L1142.3 808.1 L1142.8 804.0 L1143.3 799.9 L1143.8 795.6 L1144.3 791.3 L1144.8 787.0 L1145.3 782.5 L1145.8 778.0 L1146.3 773.3 L1146.8 768.7 L1147.3 763.9 L1147.8 759.1 L1148.3 754.2 L1148.8 749.2 L1149.3 744.1 L1149.8 739.0 L1150.3 733.8 L1150.8 728.5 L1151.3 723.2 L1151.8 717.7 L1152.3 712.3 L1152.8 706.7 L1153.3 701.1 L1153.8 695.4 L1154.3 689.6 L1154.8 683.8 L1155.3 677.9 L1155.8 672.0 L1156.3 666.0 L1156.8 659.9 L1157.3 653.8 L1157.8 647.6 L1158.3 641.4 L1158.8 635.1 L1159.3 628.8 L1159.8 622.4 L1160.3 616.0 L1160.8 609.5 L1161.3 603.0 L1161.8 596.5 L1162.3 589.9 L1162.8 583.3 L1163.3 576.7 L1163.8 570.0 L1164.3 563.3 L1164.8 556.6 L1165.3 549.9 L1165.8 543.1 L1166.3 536.4 L1166.8 529.6 L1167.3 522.8 L1167.8 516.1 L1168.3 509.3 L1168.8 502.6 L1169.3 495.8 L1169.8 489.1 L1170.3 482.4 L1170.8 475.7 L1171.3 469.1 L1171.8 462.4 L1172.3 455.9 L1172.8 449.3 L1173.3 442.8 L1173.8 436.4 L1174.3 430.0 L1174.8 423.7 L1175.3 417.5 L1175.8 411.3 L1176.3 405.2 L1176.8 399.2 L1177.3 393.2 L1177.8 387.4 L1178.3 381.7 L1178.8 376.0 L1179.3 370.5 L1179.8 365.1 L1180.3 359.8 L1180.8 354.6 L1181.3 349.5 L1181.8 344.6 L1182.3 339.8 L1182.8 335.1 L1183.3 330.6 L1183.8 326.3 L1184.3 322.0 L1184.8 318.0 L1185.3 314.1 L1185.8 310.4 L1186.3 306.8 L1186.8 303.4 L1187.3 300.2 L1187.8 297.1 L1188.3 294.3 L1188.8 291.6 L1189.3 289.1 L1189.8 286.8 L1190.3 284.6 L1190.8 282.7 L1191.3 281.0 L1191.8 279.4 L1192.3 278.1 L1192.8 276.9 L1193.3 276.0 L1193.8 275.2 L1194.3 274.7 L1194.8 274.3 L1195.3 274.2 L1195.8 274.2 L1196.3 274.5 L1196.8 274.9 L1197.3 275.6 L1197.8 276.4 L1198.3 277.5 L1198.8 278.7 L1199.3 280.1 L1199.8 281.7 L1200.3 283.5 L1200.8 285.5 L1201.3 287.7 L1201.8 290.0 L1202.3 292.5 L1202.8 295.2 L1203.3 298.1 L1203.8 301.1 L1204.3 304.3 L1204.8 307.7 L1205.3 311.2 L1205.8 314.9 L1206.3 318.7 L1206.8 322.7 L1207.3 326.8 L1207.8 331.1 L1208.3 335.4 L1208.8 339.9 L1209.3 344.6 L1209.8 349.3 L1210.3 354.2 L1210.8 359.2 L1211.3 364.3 L1211.8 369.4 L1212.3 374.7 L1212.8 380.1 L1213.4 385.5 L1213.9 391.1 L1214.4 396.7 L1214.9 402.4 L1215.4 408.1 L1215.9 414.0 L1216.4 419.8 L1216.9 425.8 L1217.4 431.8 L1217.9 437.8 L1218.4 443.9 L1218.9 450.0 L1219.4 456.1 L1219.9 462.3 L1220.4 468.5 L1220.9 474.7 L1221.4 480.9 L1221.9 487.2 L1222.4 493.4 L1222.9 499.7 L1223.4 505.9 L1223.9 512.2 L1224.4 518.4 L1224.9 524.7 L1225.4 530.9 L1225.9 537.1 L1226.4 543.4 L1226.9 549.5 L1227.4 555.7 L1227.9 561.8 L1228.4 568.0 L1228.9 574.0 L1229.4 580.1 L1229.9 586.1 L1230.4 592.1 L1230.9 598.0 L1231.4 603.9 L1231.9 609.8 L1232.4 615.6 L1232.9 621.4 L1233.4 627.1 L1233.9 632.8 L1234.4 638.4 L1234.9 644.0 L1235.4 649.5 L1235.9 655.0 L1236.4 660.4 L1236.9 665.8 L1237.4 671.1 L1237.9 676.3 L1238.4 681.5 L1238.9 686.6 L1239.4 691.7 L1239.9 696.7 L1240.4 701.7 L1240.9 706.6 L1241.4 711.4 L1241.9 716.1 L1242.4 720.8 L1242.9 725.5 L1243.4 730.0 L1243.9 734.5 L1244.4 739.0 L1244.9 743.4 L1245.4 747.7 L1245.9 751.9 L1246.4 756.1 L1246.9 760.2 L1247.4 764.3 L1247.9 768.3 L1248.4 772.2 L1248.9 776.0 L1249.4 779.8 L1249.9 783.6 L1250.4 787.2 L1250.9 790.8 L1251.4 794.3 L1251.9 797.8 L1252.4 801.2 L1252.9 804.6 L1253.4 807.8 L1253.9 811.1 L1254.4 814.2 L1254.9 817.3 L1255.4 820.3 L1255.9 823.3 L1256.4 826.2 L1256.9 829.0 L1257.4 831.8 L1257.9 834.5 L1258.4 837.2 L1258.9 839.8 L1259.4 842.3 L1259.9 844.8 L1260.4 847.2 L1260.9 849.5 L1261.4 851.8 L1261.9 854.0 L1262.4 856.2 L1262.9 858.3 L1263.4 860.4 L1263.9 862.4 L1264.4 864.3 L1264.9 866.2 L1265.4 868.0 L1265.9 869.8 L1266.4 871.5 L1266.9 873.2 L1267.4 874.8 L1267.9 876.3 L1268.4 877.8 L1268.9 879.2 L1269.4 880.6 L1269.9 881.9 L1270.4 883.2 L1270.9 884.4 L1271.4 885.6 L1271.9 886.7 L1272.4 887.7 L1272.9 888.7 L1273.4 889.7 L1273.9 890.6 L1274.4 891.4 L1274.9 892.2 L1275.4 892.9 L1275.9 893.6 L1276.4 894.3 L1276.9 894.8 L1277.4 895.4 L1277.9 895.8 L1278.4 896.3 L1278.9 896.6 L1279.4 896.9 L1279.9 897.2 L1280.4 897.4 L1280.9 897.6 L1281.4 897.7 L1281.9 897.8 L1282.4 897.8 L1282.9 897.8 L1283.4 897.7 L1283.9 897.5 L1284.4 897.3 L1284.9 897.1 L1285.4 896.8 L1285.9 896.5 L1286.4 896.1 L1286.9 895.7 L1287.4 895.2 L1287.9 894.6 L1288.4 894.0 L1288.9 893.4 L1289.4 892.7 L1289.9 892.0 L1290.4 891.2 L1290.9 890.3 L1291.4 889.5 L1291.9 888.5 L1292.4 887.5 L1292.9 886.5 L1293.4 885.4 L1293.9 884.3 L1294.4 883.1 L1294.9 881.8 L1295.4 880.5 L1295.9 879.2 L1296.4 877.8 L1296.9 876.4 L1297.4 874.9 L1297.9 873.3 L1298.4 871.7 L1298.9 870.1 L1299.4 868.4 L1299.9 866.6 L1300.4 864.8 L1300.9 863.0 L1301.4 861.1 L1301.9 859.1 L1302.4 857.1 L1302.9 855.1 L1303.4 853.0 L1303.9 850.8 L1304.4 848.6 L1304.9 846.3 L1305.4 844.0 L1305.9 841.7 L1306.4 839.2 L1306.9 836.8 L1307.4 834.2 L1307.9 831.7 L1308.4 829.0 L1308.9 826.4 L1309.4 823.6 L1309.9 820.8 L1310.4 818.0 L1310.9 815.1 L1311.4 812.2 L1311.9 809.2 L1312.4 806.1 L1312.9 803.0 L1313.4 799.9 L1313.9 796.6 L1314.4 793.4 L1314.9 790.1 L1315.4 786.7 L1315.9 783.3 L1316.4 779.8 L1316.9 776.3 L1317.4 772.7 L1317.9 769.1 L1318.4 765.4 L1318.9 761.6 L1319.4 757.9 L1319.9 754.0 L1320.4 750.1 L1320.9 746.2 L1321.4 742.2 L1321.9 738.1 L1322.4 734.0 L1322.9 729.9 L1323.4 725.7 L1323.9 721.5 L1324.4 717.2 L1324.9 712.8 L1325.4 708.4 L1325.9 704.0 L1326.4 699.5 L1326.9 695.0 L1327.4 690.4 L1327.9 685.7 L1328.4 681.1 L1328.9 676.3 L1329.4 671.6 L1329.9 666.8 L1330.4 661.9 L1330.9 657.0 L1331.4 652.1 L1331.9 647.1 L1332.4 642.1 L1332.9 637.1 L1333.4 632.0 L1333.9 626.8 L1334.4 621.7 L1334.9 616.5 L1335.4 611.3 L1335.9 606.0 L1336.4 600.7 L1336.9 595.4 L1337.4 590.1 L1337.9 584.7 L1338.4 579.3 L1338.9 573.9 L1339.4 568.4 L1339.9 563.0 L1340.4 557.5 L1340.9 552.0 L1341.4 546.5 L1341.9 541.0 L1342.4 535.4 L1342.9 529.9 L1343.4 524.4 L1343.9 518.8 L1344.4 513.2 L1344.9 507.7 L1345.4 502.1 L1345.9 496.6 L1346.4 491.0 L1346.9 485.5 L1347.4 479.9 L1347.9 474.4 L1348.4 468.9 L1348.9 463.4 L1349.4 458.0 L1349.9 452.5 L1350.4 447.1 L1350.9 441.7 L1351.4 436.4 L1351.9 431.0 L1352.4 425.7 L1352.9 420.5 L1353.4 415.3 L1353.9 410.1 L1354.4 405.0 L1354.9 399.9 L1355.4 394.9 L1355.9 389.9 L1356.4 385.0 L1356.9 380.2 L1357.4 375.4 L1357.9 370.7 L1358.4 366.0 L1358.9 361.5 L1359.4 357.0 L1359.9 352.5 L1360.4 348.2 L1360.9 343.9 L1361.4 339.8 L1361.9 335.7 L1362.4 331.7 L1362.9 327.8 L1363.4 324.0 L1363.9 320.3 L1364.4 316.7 L1364.9 313.2 L1365.4 309.8 L1365.9 306.5 L1366.4 303.3 L1366.9 300.2 L1367.4 297.3 L1367.9 294.4 L1368.4 291.7 L1368.9 289.1 L1369.4 286.6 L1369.9 284.3 L1370.4 282.0 L1370.9 279.9 L1371.4 278.0 L1371.9 276.1 L1372.4 274.4 L1372.9 272.8 L1373.4 271.3 L1373.9 270.0 L1374.4 268.8 L1374.9 267.8 L1375.4 266.9 L1375.9 266.1 L1376.4 265.4 L1376.9 264.9 L1377.4 264.5 L1377.9 264.3 L1378.4 264.2 L1378.9 264.2 L1379.4 264.4 L1379.9 264.7 L1380.4 265.2 L1380.9 265.7 L1381.4 266.4 L1381.9 267.3 L1382.4 268.3 L1382.9 269.4 L1383.4 270.6 L1383.9 272.0 L1384.4 273.5 L1384.9 275.1 L1385.4 276.8 L1385.9 278.7 L1386.4 280.7 L1386.9 282.8 L1387.4 285.0 L1387.9 287.4 L1388.4 289.8 L1388.9 292.4 L1389.4 295.1 L1389.9 297.9 L1390.4 300.8 L1390.9 303.8 L1391.4 306.9 L1391.9 310.1 L1392.4 313.4 L1392.9 316.8 L1393.4 320.3 L1393.9 323.9 L1394.4 327.5 L1394.9 331.3 L1395.4 335.1 L1395.9 339.0 L1396.4 343.0 L1396.9 347.1 L1397.4 351.2 L1397.9 355.4 L1398.4 359.7 L1398.9 364.0 L1399.4 368.4 L1399.9 372.9 L1400.4 377.4 L1400.9 382.0 L1401.4 386.6 L1401.9 391.2 L1402.4 395.9 L1402.9 400.7 L1403.4 405.5 L1403.9 410.3 L1404.4 415.2 L1404.9 420.1 L1405.4 425.0 L1405.9 430.0 L1406.4 434.9 L1406.9 439.9 L1407.4 445.0 L1407.9 450.0 L1408.4 455.1 L1408.9 460.1 L1409.4 465.2 L1409.9 470.3 L1410.4 475.4 L1410.9 480.5 L1411.4 485.6 L1411.9 490.7 L1412.4 495.9 L1412.9 501.0 L1413.4 506.1 L1413.9 511.2 L1414.4 516.3 L1414.9 521.3 L1415.4 526.4 L1415.9 531.5 L1416.4 536.5 L1416.9 541.6 L1417.4 546.6 L1417.9 551.6 L1418.4 556.5 L1418.9 561.5 L1419.4 566.4 L1419.9 571.4 L1420.4 576.2 L1420.9 581.1 L1421.4 585.9 L1421.9 590.7 L1422.4 595.5 L1422.9 600.3 L1423.4 605.0 L1423.9 609.7 L1424.4 614.3 L1424.9 619.0 L1425.4 623.5 L1425.9 628.1 L1426.4 632.6 L1426.9 637.1 L1427.4 641.5 L1427.9 645.9 L1428.4 650.3 L1428.9 654.7 L1429.4 658.9 L1429.9 663.2 L1430.4 667.4 L1430.9 671.6 L1431.4 675.7 L1431.9 679.8 L1432.4 683.9 L1432.9 687.9 L1433.4 691.8 L1433.9 695.8 L1434.4 699.7 L1434.9 703.5 L1435.4 707.3 L1435.9 711.0 L1436.4 714.8 L1436.9 718.4 L1437.4 722.1 L1437.9 725.6 L1438.4 729.2 L1438.9 732.7 L1439.4 736.1 L1439.9 739.5 L1440.4 742.9 L1440.9 746.2 L1441.4 749.5 L1441.9 752.7 L1442.4 755.9 L1442.9 759.0 L1443.4 762.1 L1443.9 765.2 L1444.4 768.2 L1444.9 771.2 L1445.4 774.1 L1445.9 777.0 L1446.4 779.8 L1446.9 782.6 L1447.4 785.4 L1447.9 788.1 L1448.4 790.7 L1448.9 793.3 L1449.4 795.9 L1449.9 798.5 L1450.4 800.9 L1450.9 803.4 L1451.4 805.8 L1451.9 808.2 L1452.4 810.5 L1452.9 812.8 L1453.4 815.0 L1453.9 817.2 L1454.4 819.4 L1454.9 821.5 L1455.4 823.5 L1455.9 825.6 L1456.4 827.6 L1456.9 829.5 L1457.4 831.4 L1457.9 833.3 L1458.4 835.1 L1458.9 836.9 L1459.4 838.7 L1459.9 840.4 L1460.4 842.0 L1460.9 843.7 L1461.4 845.3 L1461.9 846.8 L1462.4 848.3 L1462.9 849.8 L1463.4 851.2 L1463.9 852.6 L1464.4 854.0 L1464.9 855.3 L1465.4 856.6 L1465.9 857.8 L1466.4 859.0 L1466.9 860.2 L1467.4 861.3 L1467.9 862.4 L1468.4 863.4 L1468.9 864.5 L1469.4 865.4 L1469.9 866.4 L1470.4 867.3 L1470.9 868.2 L1471.4 869.0 L1471.9 869.8 L1472.4 870.5 L1472.9 871.3 L1473.4 872.0 L1473.9 872.6 L1474.4 873.2 L1474.9 873.8 L1475.4 874.3 L1475.9 874.9 L1476.4 875.3 L1476.9 875.8 L1477.4 876.2 L1477.9 876.5 L1478.4 876.9 L1478.9 877.2 L1479.4 877.4 L1479.9 877.6 L1480.4 877.8 L1480.9 878.0 L1481.4 878.1 L1481.9 878.2 L1482.4 878.2 L1482.9 878.3 L1483.4 878.2 L1483.9 878.2 L1484.4 878.1 L1484.9 878.0 L1485.4 877.8 L1485.9 877.6 L1486.4 877.4 L1487.0 877.1 L1487.5 876.9 L1488.0 876.5 L1488.5 876.2 L1489.0 875.8 L1489.5 875.3 L1490.0 874.9 L1490.5 874.4 L1491.0 873.8 L1491.5 873.3 L1492.0 872.7 L1492.5 872.0 L1493.0 871.4 L1493.5 870.7 L1494.0 869.9 L1494.5 869.2 L1495.0 868.4 L1495.5 867.5 L1496.0 866.7 L1496.5 865.7 L1497.0 864.8 L1497.5 863.8 L1498.0 862.8 L1498.5 861.8 L1499.0 860.7 L1499.5 859.6 L1500.0 858.4 L1500.5 857.3 L1501.0 856.0 L1501.5 854.8 L1502.0 853.5 L1502.5 852.2 L1503.0 850.8 L1503.5 849.5 L1504.0 848.0 L1504.5 846.6 L1505.0 845.1 L1505.5 843.6 L1506.0 842.0 L1506.5 840.4 L1507.0 838.8 L1507.5 837.1 L1508.0 835.4 L1508.5 833.7 L1509.0 831.9 L1509.5 830.1 L1510.0 828.3 L1510.5 826.4 L1511.0 824.5 L1511.5 822.6 L1512.0 820.6 L1512.5 818.6 L1513.0 816.5 L1513.5 814.4 L1514.0 812.3 L1514.5 810.2 L1515.0 808.0 L1515.5 805.8 L1516.0 803.5 L1516.5 801.2 L1517.0 798.9 L1517.5 796.5 L1518.0 794.1 L1518.5 791.7 L1519.0 789.2 L1519.5 786.7 L1520.0 784.2 L1520.5 781.6 L1521.0 779.0 L1521.5 776.3 L1522.0 773.6 L1522.5 770.9 L1523.0 768.2 L1523.5 765.4 L1524.0 762.6 L1524.5 759.7 L1525.0 756.8 L1525.5 753.9 L1526.0 750.9 L1526.5 747.9 L1527.0 744.9 L1527.5 741.8 L1528.0 738.7 L1528.5 735.6 L1529.0 732.5 L1529.5 729.3 L1530.0 726.0 L1530.5 722.7 L1531.0 719.4 L1531.5 716.1 L1532.0 712.7 L1532.5 709.3 L1533.0 705.9 L1533.5 702.4 L1534.0 698.9 L1534.5 695.4 L1535.0 691.9 L1535.5 688.3 L1536.0 684.6 L1536.5 681.0 L1537.0 677.3 L1537.5 673.6 L1538.0 669.8 L1538.5 666.1 L1539.0 662.3 L1539.5 658.4 L1540.0 654.6 L1540.5 650.7 L1541.0 646.8 L1541.5 642.8 L1542.0 638.8 L1542.5 634.8 L1543.0 630.8 L1543.5 626.8 L1544.0 622.7 L1544.5 618.6 L1545.0 614.5 L1545.5 610.3 L1546.0 606.2 L1546.5 602.0 L1547.0 597.8 L1547.5 593.5 L1548.0 589.3 L1548.5 585.0 L1549.0 580.7 L1549.5 576.4 L1550.0 572.1 L1550.5 567.8 L1551.0 563.4 L1551.5 559.0 L1552.0 554.7 L1552.5 550.3 L1553.0 545.9 L1553.5 541.5 L1554.0 537.0 L1554.5 532.6 L1555.0 528.2 L1555.5 523.7 L1556.0 519.3 L1556.5 514.8 L1557.0 510.3 L1557.5 505.9 L1558.0 501.4 L1558.5 496.9 L1559.0 492.5 L1559.5 488.0 L1560.0 483.5 L1560.5 479.1 L1561.0 474.6 L1561.5 470.2 L1562.0 465.8 L1562.5 461.3 L1563.0 456.9 L1563.5 452.5 L1564.0 448.1 L1564.5 443.7 L1565.0 439.4 L1565.5 435.1 L1566.0 430.7 L1566.5 426.4 L1567.0 422.1 L1567.5 417.9 L1568.0 413.7 L1568.5 409.5 L1569.0 405.3 L1569.5 401.1 L1570.0 397.0 L1570.5 392.9 L1571.0 388.9 L1571.5 384.9 L1572.0 380.9 L1572.5 376.9 L1573.0 373.0 L1573.5 369.2 L1574.0 365.3 L1574.5 361.6 L1575.0 357.8 L1575.5 354.2 L1576.0 350.5 L1576.5 346.9 L1577.0 343.4 L1577.5 339.9 L1578.0 336.5 L1578.5 333.1 L1579.0 329.8 L1579.5 326.6 L1580.0 323.4 L1580.5 320.2 L1581.0 317.2 L1581.5 314.2 L1582.0 311.2 L1582.5 308.4 L1583.0 305.5 L1583.5 302.8 L1584.0 300.1 L1584.5 297.5 L1585.0 295.0 L1585.5 292.6 L1586.0 290.2 L1586.5 287.9 L1587.0 285.7 L1587.5 283.5 L1588.0 281.5 L1588.5 279.5 L1589.0 277.6 L1589.5 275.8 L1590.0 274.0 L1590.5 272.4 L1591.0 270.8 L1591.5 269.3 L1592.0 267.9 L1592.5 266.6 L1593.0 265.4 L1593.5 264.2 L1594.0 263.1 L1594.5 262.2 L1595.0 261.3 L1595.5 260.5 L1596.0 259.8 L1596.5 259.2 L1597.0 258.7 L1597.5 258.2 L1598.0 257.9 L1598.5 257.6 L1599.0 257.4 L1599.5 257.4 L1600.0 257.4 L1600.5 257.5 L1601.0 257.6 L1601.5 257.9 L1602.0 258.3 L1602.5 258.7 L1603.0 259.3 L1603.5 259.9 L1604.0 260.6 L1604.5 261.4 L1605.0 262.3 L1605.5 263.2 L1606.0 264.3 L1606.5 265.4 L1607.0 266.7 L1607.5 268.0 L1608.0 269.3 L1608.5 270.8 L1609.0 272.4 L1609.5 274.0 L1610.0 275.7 L1610.5 277.5 L1611.0 279.3 L1611.5 281.2 L1612.0 283.2 L1612.5 285.3 L1613.0 287.5 L1613.5 289.7 L1614.0 292.0 L1614.5 294.3 L1615.0 296.8 L1615.5 299.2 L1616.0 301.8 L1616.5 304.4 L1617.0 307.1 L1617.5 309.8 L1618.0 312.6 L1618.5 315.5 L1619.0 318.4 L1619.5 321.4 L1620.0 324.4 L1620.5 327.5 L1621.0 330.6 L1621.5 333.8 L1622.0 337.0 L1622.5 340.3 L1623.0 343.6 L1623.5 347.0 L1624.0 350.4" stroke="#ff0000"/>
<path d="M253.5 1586.6 L254.0 1586.6 L254.5 1586.6 L255.0 1586.6 L255.5 1586.6 L256.0 1586.6 L256.5 1586.6 L257.0 1586.6 L257.5 1586.6 L258.0 1586.6 L258.5 1586.6 L259.0 1586.6 L259.5 1586.6 L260.0 1586.6 L260.5 1586.6 L261.0 1586.6 L261.5 1586.6 L262.0 1586.6 L262.5 1586.6 L263.0 1586.6 L263.5 1586.6 L264.0 1586.6 L264.5 1586.6 L265.0 1586.6 L265.5 1586.6 L266.0 1586.6 L266.5 1586.6 L267.0 1586.6 L267.5 1586.6 L268.0 1586.6 L268.5 1586.6 L269.0 1586.6 L269.5 1586.6 L270.0 1586.6 L270.5 1586.6 L271.0 1586.6 L271.5 1586.6 L272.0 1586.6 L272.5 1586.6 L273.0 1586.6 L273.5 1586.6 L274.0 1586.6 L274.5 1586.6 L275.0 1586.6 L275.5 1586.6 L276.0 1586.6 L276.5 1586.6 L277.0 1586.6 L277.5 1586.6 L278.0 1586.6 L278.5 1586.6 L279.0 1586.6 L279.5 1586.6 L280.0 1586.6 L280.5 1586.6 L281.0 1586.6 L281.5 1586.6 L282.0 1586.5 L282.5 1586.5 L283.0 1586.5 L283.5 1586.5 L284.0 1586.5 L284.5 1586.5 L285.0 1586.5 L285.5 1586.5 L286.0 1586.5 L286.5 1586.5 L287.0 1586.5 L287.5 1586.5 L288.0 1586.5 L288.5 1586.5 L289.0 1586.5 L289.5 1586.4 L290.0 1586.4 L290.5 1586.4 L291.0 1586.4 L291.5 1586.4 L292.0 1586.4 L292.5 1586.4 L293.0 1586.4 L293.5 1586.4 L294.0 1586.3 L294.5 1586.3 L295.0 1586.3 L295.5 1586.3 L296.0 1586.3 L296.5 1586.2 L297.0 1586.2 L297.5 1586.2 L298.0 1586.2 L298.5 1586.2 L299.0 1586.1 L299.5 1586.1 L300.0 1586.1 L300.5 1586.0 L301.0 1586.0 L301.5 1586.0 L302.0 1586.0 L302.5 1585.9 L303.0 1585.9 L303.5 1585.8 L304.0 1585.8 L304.5 1585.8 L305.0 1585.7 L305.5 1585.7 L306.0 1585.6 L306.5 1585.6 L307.0 1585.5 L307.5 1585.5 L308.0 1585.4 L308.5 1585.4 L309.0 1585.3 L309.5 1585.2 L310.0 1585.2 L310.5 1585.1 L311.0 1585.0 L311.5 1585.0 L312.0 1584.9 L312.5 1584.8 L313.0 1584.7 L313.5 1584.6 L314.0 1584.6 L314.5 1584.5 L315.0 1584.4 L315.5 1584.3 L316.0 1584.2 L316.5 1584.1 L317.0 1584.0 L317.5 1583.9 L318.0 1583.7 L318.5 1583.6 L319.0 1583.5 L319.5 1583.4 L320.0 1583.2 L320.5 1583.1 L321.0 1583.0 L321.5 1582.8 L322.0 1582.7 L322.5 1582.5 L323.0 1582.4 L323.5 1582.2 L324.0 1582.0 L324.5 1581.9 L325.0 1581.7 L325.5 1581.5 L326.0 1581.3 L326.5 1581.1 L327.0 1580.9 L327.5 1580.7 L328.0 1580.5 L328.5 1580.3 L329.0 1580.1 L329.5 1579.9 L330.0 1579.6 L330.5 1579.4 L331.0 1579.2 L331.5 1578.9 L332.0 1578.7 L332.5 1578.4 L333.0 1578.1 L333.5 1577.8 L334.0 1577.6 L334.5 1577.3 L335.0 1577.0 L335.5 1576.7 L336.0 1576.4 L336.5 1576.0 L337.0 1575.7 L337.5 1575.4 L338.0 1575.0 L338.5 1574.7 L339.0 1574.3 L339.5 1574.0 L340.0 1573.6 L340.5 1573.2 L341.0 1572.8 L341.5 1572.4 L342.0 1572.0 L342.5 1571.6 L343.0 1571.2 L343.5 1570.8 L344.0 1570.3 L344.5 1569.9 L345.0 1569.4 L345.5 1569.0 L346.0 1568.5 L346.5 1568.0 L347.0 1567.5 L347.5 1567.0 L348.0 1566.5 L348.5 1566.0 L349.0 1565.5 L349.5 1565.0 L350.0 1564.4 L350.5 1563.9 L351.0 1563.3 L351.5 1562.8 L352.0 1562.2 L352.5 1561.6 L353.0 1561.0 L353.5 1560.4 L354.0 1559.8 L354.5 1559.2 L355.0 1558.6 L355.5 1558.0 L356.0 1557.3 L356.5 1556.7 L357.0 1556.0 L357.5 1555.4 L358.0 1554.7 L358.5 1554.0 L359.0 1553.3 L359.5 1552.6 L360.0 1551.9 L360.5 1551.2 L361.0 1550.5 L361.5 1549.8 L362.0 1549.0 L362.5 1548.3 L363.0 1547.5 L363.5 1546.7 L364.0 1546.0 L364.5 1545.2 L365.0 1544.4 L365.5 1543.6 L366.0 1542.8 L366.5 1542.0 L367.0 1541.1 L367.5 1540.3 L368.0 1539.4 L368.5 1538.6 L369.0 1537.7 L369.5 1536.8 L370.0 1535.9 L370.5 1535.0 L371.0 1534.1 L371.5 1533.1 L372.0 1532.2 L372.5 1531.2 L373.0 1530.3 L373.5 1529.3 L374.0 1528.3 L374.5 1527.3 L375.0 1526.2 L375.5 1525.2 L376.0 1524.1 L376.5 1523.1 L377.0 1522.0 L377.5 1520.9 L378.0 1519.8 L378.5 1518.6 L379.0 1517.5 L379.5 1516.3 L380.0 1515.1 L380.5 1513.9 L381.0 1512.7 L381.5 1511.5 L382.0 1510.2 L382.5 1509.0 L383.0 1507.7 L383.5 1506.4 L384.0 1505.0 L384.5 1503.7 L385.0 1502.4 L385.5 1501.0 L386.0 1499.6 L386.5 1498.2 L387.0 1496.8 L387.5 1495.3 L388.0 1493.9 L388.5 1492.4 L389.0 1490.9 L389.5 1489.4 L390.0 1487.9 L390.6 1486.4 L391.1 1484.9 L391.6 1483.3 L392.1 1481.8 L392.6 1480.2 L393.1 1478.6 L393.6 1477.1 L394.1 1475.5 L394.6 1473.9 L395.1 1472.3 L395.6 1470.7 L396.1 1469.0 L396.6 1467.4 L397.1 1465.8 L397.6 1464.2 L398.1 1462.6 L398.6 1460.9 L399.1 1459.3 L399.6 1457.7 L400.1 1456.1 L400.6 1454.5 L401.1 1452.9 L401.6 1451.3 L402.1 1449.7 L402.6 1448.1 L403.1 1446.6 L403.6 1445.0 L404.1 1443.5 L404.6 1442.0 L405.1 1440.4 L405.6 1438.9 L406.1 1437.5 L406.6 1436.0 L407.1 1434.5 L407.6 1433.1 L408.1 1431.7 L408.6 1430.3 L409.1 1428.9 L409.6 1427.5 L410.1 1426.2 L410.6 1424.9 L411.1 1423.6 L411.6 1422.3 L412.1 1421.0 L412.6 1419.8 L413.1 1418.5 L413.6 1417.3 L414.1 1416.1 L414.6 1414.9 L415.1 1413.8 L415.6 1412.6 L416.1 1411.5 L416.6 1410.4 L417.1 1409.3 L417.6 1408.2 L418.1 1407.1 L418.6 1406.0 L419.1 1404.9 L419.6 1403.9 L420.1 1402.8 L420.6 1401.7 L421.1 1400.7 L421.6 1399.6 L422.1 1398.5 L422.6 1397.4 L423.1 1396.4 L423.6 1395.2 L424.1 1394.1 L424.6 1393.0 L425.1 1391.9 L425.6 1390.7 L426.1 1389.5 L426.6 1388.3 L427.1 1387.0 L427.6 1385.8 L428.1 1384.5 L428.6 1383.1 L429.1 1381.7 L429.6 1380.3 L430.1 1378.9 L430.6 1377.4 L431.1 1375.9 L431.6 1374.3 L432.1 1372.6 L432.6 1371.0 L433.1 1369.2 L433.6 1367.5 L434.1 1365.6 L434.6 1363.7 L435.1 1361.8 L435.6 1359.8 L436.1 1357.8 L436.6 1355.6 L437.1 1353.5 L437.6 1351.2 L438.1 1349.0 L438.6 1346.6 L439.1 1344.2 L439.6 1341.8 L440.1 1339.2 L440.6 1336.7 L441.1 1334.0 L441.6 1331.3 L442.1 1328.6 L442.6 1325.8 L443.1 1323.0 L443.6 1320.1 L444.1 1317.1 L444.6 1314.2 L445.1 1311.1 L445.6 1308.1 L446.1 1305.0 L446.6 1301.9 L447.1 1298.7 L447.6 1295.5 L448.1 1292.3 L448.6 1289.1 L449.1 1285.8 L449.6 1282.5 L450.1 1279.3 L450.6 1276.0 L451.1 1272.7 L451.6 1269.4 L452.1 1266.2 L452.6 1262.9 L453.1 1259.7 L453.6 1256.4 L454.1 1253.2 L454.6 1250.1 L455.1 1246.9 L455.6 1243.8 L456.1 1240.7 L456.6 1237.7 L457.1 1234.7 L457.6 1231.8 L458.1 1228.9 L458.6 1226.1 L459.1 1223.4 L459.6 1220.7 L460.1 1218.0 L460.6 1215.5 L461.1 1213.0 L461.6 1210.6 L462.1 1208.3 L462.6 1206.1 L463.1 1203.9 L463.6 1201.9 L464.1 1199.9 L464.6 1198.0 L465.1 1196.2 L465.6 1194.6 L466.1 1193.0 L466.6 1191.5 L467.1 1190.1 L467.6 1188.8 L468.1 1187.6 L468.6 1186.6 L469.1 1185.6 L469.6 1184.7 L470.1 1183.9 L470.6 1183.3 L471.1 1182.7 L471.6 1182.3 L472.1 1181.9 L472.6 1181.7 L473.1 1181.5 L473.6 1181.4 L474.1 1181.5 L474.6 1181.6 L475.1 1181.8 L475.6 1182.1 L476.1 1182.5 L476.6 1182.9 L477.1 1183.5 L477.6 1184.1 L478.1 1184.7 L478.6 1185.4 L479.1 1186.2 L479.6 1187.0 L480.1 1187.9 L480.6 1188.7 L481.1 1189.7 L481.6 1190.6 L482.1 1191.6 L482.6 1192.5 L483.1 1193.5 L483.6 1194.4 L484.1 1195.4 L484.6 1196.3 L485.1 1197.2 L485.6 1198.1 L486.1 1198.9 L486.6 1199.7 L487.1 1200.5 L487.6 1201.2 L488.1 1201.8 L488.6 1202.4 L489.1 1202.9 L489.6 1203.3 L490.1 1203.6 L490.6 1203.9 L491.1 1204.0 L491.6 1204.1 L492.1 1204.0 L492.6 1203.9 L493.1 1203.6 L493.6 1203.2 L494.1 1202.8 L494.6 1202.1 L495.1 1201.4 L495.6 1200.6 L496.1 1199.6 L496.6 1198.5 L497.1 1197.2 L497.6 1195.9 L498.1 1194.3 L498.6 1192.7 L499.1 1190.9 L499.6 1189.0 L500.1 1186.9 L500.6 1184.7 L501.1 1182.3 L501.6 1179.8 L502.1 1177.2 L502.6 1174.4 L503.1 1171.4 L503.6 1168.4 L504.1 1165.2 L504.6 1161.8 L505.1 1158.3 L505.6 1154.7 L506.1 1150.9 L506.6 1147.0 L507.1 1142.9 L507.6 1138.8 L508.1 1134.5 L508.6 1130.1 L509.1 1125.6 L509.6 1121.0 L510.1 1116.3 L510.6 1111.4 L511.1 1106.5 L511.6 1101.5 L512.1 1096.5 L512.6 1091.3 L513.1 1086.1 L513.6 1080.8 L514.1 1075.5 L514.6 1070.2 L515.1 1064.8 L515.6 1059.4 L516.1 1054.0 L516.6 1048.6 L517.1 1043.2 L517.6 1037.8 L518.1 1032.4 L518.6 1027.1 L519.1 1021.8 L519.6 1016.5 L520.1 1011.3 L520.6 1006.2 L521.1 1001.2 L521.6 996.2 L522.1 991.3 L522.6 986.5 L523.1 981.9 L523.6 977.3 L524.1 972.9 L524.6 968.6 L525.1 964.4 L525.6 960.3 L526.1 956.4 L526.6 952.6 L527.1 949.0 L527.6 945.6 L528.1 942.3 L528.6 939.2 L529.1 936.2 L529.6 933.4 L530.1 930.8 L530.6 928.4 L531.1 926.2 L531.6 924.1 L532.1 922.2 L532.6 920.6 L533.1 919.1 L533.6 917.8 L534.1 916.7 L534.6 915.8 L535.1 915.1 L535.6 914.6 L536.1 914.3 L536.6 914.2 L537.1 914.3 L537.6 914.6 L538.1 915.1 L538.6 915.8 L539.1 916.7 L539.6 917.8 L540.1 919.1 L540.6 920.5 L541.1 922.2 L541.6 924.0 L542.1 926.1 L542.6 928.3 L543.1 930.7 L543.6 933.2 L544.1 935.9 L544.6 938.8 L545.1 941.8 L545.6 944.9 L546.1 948.2 L546.6 951.6 L547.1 955.1 L547.6 958.7 L548.1 962.4 L548.6 966.2 L549.1 970.0 L549.6 973.9 L550.1 977.9 L550.6 981.9 L551.1 986.0 L551.6 990.0 L552.1 994.1 L552.6 998.2 L553.1 1002.2 L553.6 1006.2 L554.1 1010.2 L554.6 1014.2 L555.1 1018.0 L555.6 1021.9 L556.1 1025.6 L556.6 1029.3 L557.1 1032.8 L557.6 1036.3 L558.1 1039.6 L558.6 1042.9 L559.1 1046.0 L559.6 1049.0 L560.1 1051.8 L560.6 1054.5 L561.1 1057.1 L561.6 1059.5 L562.1 1061.8 L562.6 1063.8 L563.1 1065.8 L563.6 1067.5 L564.1 1069.1 L564.6 1070.5 L565.1 1071.7 L565.6 1072.8 L566.1 1073.7 L566.6 1074.4 L567.1 1074.9 L567.6 1075.2 L568.1 1075.3 L568.6 1075.2 L569.1 1074.9 L569.6 1074.5 L570.1 1073.8 L570.6 1073.0 L571.1 1071.9 L571.6 1070.7 L572.1 1069.2 L572.6 1067.6 L573.1 1065.8 L573.6 1063.7 L574.1 1061.5 L574.6 1059.0 L575.1 1056.4 L575.6 1053.5 L576.1 1050.5 L576.6 1047.3 L577.1 1043.8 L577.6 1040.2 L578.1 1036.3 L578.6 1032.3 L579.1 1028.1 L579.6 1023.7 L580.1 1019.1 L580.6 1014.3 L581.1 1009.4 L581.6 1004.2 L582.1 998.9 L582.6 993.4 L583.1 987.8 L583.6 982.0 L584.1 976.0 L584.6 969.9 L585.1 963.7 L585.6 957.4 L586.1 950.9 L586.6 944.3 L587.1 937.6 L587.6 930.8 L588.1 923.9 L588.6 917.0 L589.1 910.0 L589.6 902.9 L590.1 895.8 L590.6 888.7 L591.1 881.5 L591.6 874.4 L592.1 867.2 L592.6 860.1 L593.1 853.0 L593.6 846.0 L594.1 839.0 L594.6 832.0 L595.1 825.2 L595.6 818.4 L596.1 811.8 L596.6 805.2 L597.1 798.8 L597.6 792.5 L598.1 786.3 L598.6 780.3 L599.1 774.4 L599.6 768.7 L600.1 763.2 L600.6 757.9 L601.1 752.7 L601.6 747.8 L602.1 743.0 L602.6 738.5 L603.1 734.1 L603.6 730.0 L604.1 726.1 L604.6 722.4 L605.1 719.0 L605.6 715.7 L606.1 712.7 L606.6 710.0 L607.1 707.5 L607.6 705.2 L608.1 703.2 L608.6 701.4 L609.1 699.9 L609.6 698.6 L610.1 697.6 L610.6 696.8 L611.1 696.3 L611.6 696.1 L612.1 696.1 L612.6 696.3 L613.1 696.8 L613.6 697.6 L614.1 698.6 L614.6 699.9 L615.1 701.4 L615.6 703.2 L616.1 705.2 L616.6 707.5 L617.1 710.0 L617.6 712.7 L618.1 715.7 L618.6 718.9 L619.1 722.4 L619.6 726.0 L620.1 729.9 L620.6 734.0 L621.1 738.3 L621.6 742.8 L622.1 747.5 L622.6 752.4 L623.1 757.5 L623.6 762.7 L624.1 768.1 L624.6 773.6 L625.1 779.2 L625.6 785.0 L626.1 790.9 L626.6 796.8 L627.1 802.9 L627.6 809.1 L628.1 815.3 L628.6 821.5 L629.1 827.8 L629.6 834.1 L630.1 840.5 L630.6 846.8 L631.1 853.1 L631.6 859.4 L632.1 865.7 L632.6 871.9 L633.1 878.0 L633.6 884.1 L634.1 890.1 L634.6 896.0 L635.1 901.8 L635.6 907.5 L636.1 913.1 L636.6 918.5 L637.1 923.8 L637.6 929.0 L638.1 934.0 L638.6 938.9 L639.1 943.6 L639.6 948.2 L640.1 952.6 L640.6 956.8 L641.1 960.8 L641.6 964.7 L642.1 968.4 L642.6 971.9 L643.1 975.2 L643.6 978.3 L644.1 981.2 L644.6 983.9 L645.1 986.5 L645.6 988.8 L646.1 991.0 L646.6 992.9 L647.1 994.7 L647.6 996.2 L648.1 997.6 L648.6 998.8 L649.1 999.7 L649.6 1000.5 L650.1 1001.0 L650.6 1001.4 L651.1 1001.5 L651.6 1001.5 L652.1 1001.2 L652.6 1000.8 L653.1 1000.1 L653.6 999.3 L654.1 998.2 L654.6 997.0 L655.1 995.5 L655.6 993.8 L656.1 992.0 L656.6 989.9 L657.1 987.6 L657.6 985.2 L658.1 982.5 L658.6 979.6 L659.1 976.5 L659.6 973.3 L660.1 969.8 L660.6 966.1 L661.1 962.2 L661.6 958.2 L662.1 953.9 L662.6 949.4 L663.1 944.8 L663.6 939.9 L664.1 934.9 L664.6 929.7 L665.2 924.3 L665.7 918.7 L666.2 912.9 L666.7 907.0 L667.2 900.9 L667.7 894.6 L668.2 888.2 L668.7 881.7 L669.2 874.9 L669.7 868.1 L670.2 861.1 L670.7 854.0 L671.2 846.7 L671.7 839.4 L672.2 831.9 L672.7 824.4 L673.2 816.8 L673.7 809.1 L674.2 801.3 L674.7 793.5 L675.2 785.7 L675.7 777.8 L676.2 769.9 L676.7 762.0 L677.2 754.1 L677.7 746.2 L678.2 738.4 L678.7 730.5 L679.2 722.8 L679.7 715.1 L680.2 707.4 L680.7 699.9 L681.2 692.4 L681.7 685.1 L682.2 677.9 L682.7 670.8 L683.2 663.8 L683.7 657.0 L684.2 650.3 L684.7 643.8 L685.2 637.5 L685.7 631.4 L686.2 625.4 L686.7 619.6 L687.2 614.1 L687.7 608.7 L688.2 603.6 L688.7 598.6 L689.2 593.9 L689.7 589.5 L690.2 585.2 L690.7 581.2 L691.2 577.4 L691.7 573.9 L692.2 570.6 L692.7 567.6 L693.2 564.8 L693.7 562.3 L694.2 560.0 L694.7 558.0 L695.2 556.3 L695.7 554.8 L696.2 553.6 L696.7 552.6 L697.2 551.9 L697.7 551.5 L698.2 551.3 L698.7 551.4 L699.2 551.7 L699.7 552.4 L700.2 553.2 L700.7 554.4 L701.2 555.8 L701.7 557.5 L702.2 559.4 L702.7 561.6 L703.2 564.0 L703.7 566.7 L704.2 569.6 L704.7 572.8 L705.2 576.3 L705.7 579.9 L706.2 583.8 L706.7 588.0 L707.2 592.3 L707.7 596.9 L708.2 601.7 L708.7 606.7 L709.2 611.9 L709.7 617.3 L710.2 622.9 L710.7 628.6 L711.2 634.6 L711.7 640.6 L712.2 646.9 L712.7 653.3 L713.2 659.8 L713.7 666.4 L714.2 673.2 L714.7 680.1 L715.2 687.0 L715.7 694.0 L716.2 701.1 L716.7 708.3 L717.2 715.5 L717.7 722.7 L718.2 730.0 L718.7 737.2 L719.2 744.5 L719.7 751.8 L720.2 759.0 L720.7 766.2 L721.2 773.4 L721.7 780.5 L722.2 787.6 L722.7 794.6 L723.2 801.5 L723.7 808.3 L724.2 815.0 L724.7 821.6 L725.2 828.2 L725.7 834.6 L726.2 840.8 L726.7 847.0 L727.2 853.0 L727.7 858.9 L728.2 864.6 L728.7 870.2 L729.2 875.6 L729.7 880.8 L730.2 886.0 L730.7 890.9 L731.2 895.7 L731.7 900.3 L732.2 904.7 L732.7 909.0 L733.2 913.1 L733.7 917.0 L734.2 920.8 L734.7 924.4 L735.2 927.8 L735.7 931.0 L736.2 934.1 L736.7 936.9 L737.2 939.6 L737.7 942.1 L738.2 944.5 L738.7 946.6 L739.2 948.6 L739.7 950.4 L740.2 952.1 L740.7 953.5 L741.2 954.8 L741.7 955.9 L742.2 956.8 L742.7 957.6 L743.2 958.1 L743.7 958.5 L744.2 958.8 L744.7 958.8 L745.2 958.7 L745.7 958.4 L746.2 957.9 L746.7 957.2 L747.2 956.4 L747.7 955.4 L748.2 954.2 L748.7 952.9 L749.2 951.4 L749.7 949.7 L750.2 947.8 L750.7 945.8 L751.2 943.6 L751.7 941.2 L752.2 938.6 L752.7 935.9 L753.2 933.0 L753.7 929.9 L754.2 926.6 L754.7 923.2 L755.2 919.6 L755.7 915.8 L756.2 911.9 L756.7 907.8 L757.2 903.5 L757.7 899.1 L758.2 894.5 L758.7 889.7 L759.2 884.8 L759.7 879.7 L760.2 874.4 L760.7 869.0 L761.2 863.4 L761.7 857.7 L762.2 851.8 L762.7 845.8 L763.2 839.7 L763.7 833.4 L764.2 826.9 L764.7 820.4 L765.2 813.7 L765.7 806.9 L766.2 799.9 L766.7 792.9 L767.2 785.8 L767.7 778.5 L768.2 771.2 L768.7 763.8 L769.2 756.3 L769.7 748.7 L770.2 741.1 L770.7 733.4 L771.2 725.7 L771.7 717.9 L772.2 710.1 L772.7 702.3 L773.2 694.5 L773.7 686.7 L774.2 678.9 L774.7 671.1 L775.2 663.3 L775.7 655.5 L776.2 647.8 L776.7 640.2 L777.2 632.6 L777.7 625.1 L778.2 617.7 L778.7 610.4 L779.2 603.1 L779.7 596.0 L780.2 589.0 L780.7 582.1 L781.2 575.4 L781.7 568.8 L782.2 562.3 L782.7 556.0 L783.2 549.9 L783.7 543.9 L784.2 538.1 L784.7 532.5 L785.2 527.0 L785.7 521.8 L786.2 516.7 L786.7 511.9 L787.2 507.2 L787.7 502.8 L788.2 498.6 L788.7 494.6 L789.2 490.8 L789.7 487.2 L790.2 483.9 L790.7 480.8 L791.2 477.9 L791.7 475.3 L792.2 472.9 L792.7 470.7 L793.2 468.8 L793.7 467.1 L794.2 465.7 L794.7 464.5 L795.2 463.5 L795.7 462.8 L796.2 462.3 L796.7 462.1 L797.2 462.1 L797.7 462.3 L798.2 462.8 L798.7 463.6 L799.2 464.6 L799.7 465.8 L800.2 467.3 L800.7 469.0 L801.2 470.9 L801.7 473.1 L802.2 475.5 L802.7 478.1 L803.2 481.0 L803.7 484.1 L804.2 487.4 L804.7 490.9 L805.2 494.7 L805.7 498.6 L806.2 502.8 L806.7 507.2 L807.2 511.7 L807.7 516.5 L808.2 521.4 L808.7 526.6 L809.2 531.9 L809.7 537.4 L810.2 543.0 L810.7 548.8 L811.2 554.8 L811.7 560.8 L812.2 567.1 L812.7 573.4 L813.2 579.9 L813.7 586.5 L814.2 593.2 L814.7 600.0 L815.2 606.9 L815.7 613.8 L816.2 620.8 L816.7 627.9 L817.2 635.1 L817.7 642.3 L818.2 649.5 L818.7 656.7 L819.2 664.0 L819.7 671.2 L820.2 678.5 L820.7 685.8 L821.2 693.0 L821.7 700.2 L822.2 707.4 L822.7 714.6 L823.2 721.7 L823.7 728.7 L824.2 735.7 L824.7 742.6 L825.2 749.5 L825.7 756.2 L826.2 762.9 L826.7 769.5 L827.2 776.0 L827.7 782.4 L828.2 788.7 L828.7 794.8 L829.2 800.9 L829.7 806.9 L830.2 812.7 L830.7 818.4 L831.2 823.9 L831.7 829.4 L832.2 834.7 L832.7 839.9 L833.2 844.9 L833.7 849.8 L834.2 854.6 L834.7 859.2 L835.2 863.7 L835.7 868.1 L836.2 872.3 L836.7 876.3 L837.2 880.2 L837.7 884.0 L838.2 887.6 L838.7 891.1 L839.2 894.4 L839.7 897.6 L840.2 900.7 L840.7 903.6 L841.2 906.3 L841.7 908.9 L842.2 911.4 L842.7 913.7 L843.2 915.9 L843.7 917.9 L844.2 919.8 L844.7 921.5 L845.2 923.1 L845.7 924.6 L846.2 925.9 L846.7 927.1 L847.2 928.1 L847.7 929.0 L848.2 929.8 L848.7 930.4 L849.2 930.9 L849.7 931.2 L850.2 931.4 L850.7 931.5 L851.2 931.4 L851.7 931.2 L852.2 930.8 L852.7 930.3 L853.2 929.7 L853.7 928.9 L854.2 928.0 L854.7 927.0 L855.2 925.8 L855.7 924.5 L856.2 923.0 L856.7 921.4 L857.2 919.7 L857.7 917.8 L858.2 915.8 L858.7 913.7 L859.2 911.4 L859.7 909.0 L860.2 906.4 L860.7 903.7 L861.2 900.9 L861.7 898.0 L862.2 894.9 L862.7 891.6 L863.2 888.3 L863.7 884.8 L864.2 881.1 L864.7 877.4 L865.2 873.4 L865.7 869.4 L866.2 865.2 L866.7 860.9 L867.2 856.5 L867.7 851.9 L868.2 847.3 L868.7 842.4 L869.2 837.5 L869.7 832.4 L870.2 827.2 L870.7 821.9 L871.2 816.5 L871.7 810.9 L872.2 805.3 L872.7 799.5 L873.2 793.6 L873.7 787.6 L874.2 781.5 L874.7 775.3 L875.2 769.0 L875.7 762.6 L876.2 756.1 L876.7 749.5 L877.2 742.9 L877.7 736.2 L878.2 729.4 L878.7 722.5 L879.2 715.5 L879.7 708.5 L880.2 701.5 L880.7 694.4 L881.2 687.2 L881.7 680.1 L882.2 672.9 L882.7 665.6 L883.2 658.4 L883.7 651.1 L884.2 643.8 L884.7 636.6 L885.2 629.3 L885.7 622.1 L886.2 614.8 L886.7 607.6 L887.2 600.5 L887.7 593.4 L888.2 586.3 L888.7 579.3 L889.2 572.3 L889.7 565.4 L890.2 558.6 L890.7 551.9 L891.2 545.3 L891.7 538.7 L892.2 532.3 L892.7 525.9 L893.2 519.7 L893.7 513.6 L894.2 507.6 L894.7 501.8 L895.2 496.1 L895.7 490.5 L896.2 485.1 L896.7 479.8 L897.2 474.7 L897.7 469.7 L898.2 464.9 L898.7 460.3 L899.2 455.8 L899.7 451.5 L900.2 447.4 L900.7 443.5 L901.2 439.8 L901.7 436.2 L902.2 432.8 L902.7 429.7 L903.2 426.7 L903.7 423.9 L904.2 421.3 L904.7 418.9 L905.2 416.7 L905.7 414.8 L906.2 413.0 L906.7 411.4 L907.2 410.1 L907.7 408.9 L908.2 407.9 L908.7 407.2 L909.2 406.7 L909.7 406.3 L910.2 406.2 L910.7 406.3 L911.2 406.6 L911.7 407.1 L912.2 407.8 L912.7 408.7 L913.2 409.9 L913.7 411.2 L914.2 412.7 L914.7 414.5 L915.2 416.4 L915.7 418.5 L916.2 420.8 L916.7 423.4 L917.2 426.1 L917.7 429.0 L918.2 432.1 L918.7 435.3 L919.2 438.8 L919.7 442.4 L920.2 446.2 L920.7 450.2 L921.2 454.4 L921.7 458.7 L922.2 463.2 L922.7 467.8 L923.2 472.6 L923.7 477.5 L924.2 482.6 L924.7 487.8 L925.2 493.1 L925.7 498.6 L926.2 504.2 L926.7 509.9 L927.2 515.7 L927.7 521.6 L928.2 527.6 L928.7 533.7 L929.2 539.9 L929.7 546.2 L930.2 552.6 L930.7 559.0 L931.2 565.5 L931.7 572.0 L932.2 578.6 L932.7 585.2 L933.2 591.9 L933.7 598.6 L934.2 605.3 L934.7 612.1 L935.2 618.8 L935.7 625.6 L936.2 632.3 L936.7 639.1 L937.2 645.8 L937.7 652.6 L938.2 659.3 L938.8 665.9 L939.3 672.6 L939.8 679.2 L940.3 685.7 L940.8 692.3 L941.3 698.7 L941.8 705.1 L942.3 711.5 L942.8 717.7 L943.3 723.9 L943.8 730.1 L944.3 736.1 L944.8 742.1 L945.3 748.0 L945.8 753.8 L946.3 759.6 L946.8 765.2 L947.3 770.8 L947.8 776.2 L948.3 781.6 L948.8 786.8 L949.3 792.0 L949.8 797.0 L950.3 802.0 L950.8 806.8 L951.3 811.6 L951.8 816.2 L952.3 820.7 L952.8 825.1 L953.3 829.4 L953.8 833.6 L954.3 837.7 L954.8 841.7 L955.3 845.6 L955.8 849.3 L956.3 852.9 L956.8 856.5 L957.3 859.9 L957.8 863.2 L958.3 866.4 L958.8 869.5 L959.3 872.4 L959.8 875.3 L960.3 878.0 L960.8 880.7 L961.3 883.2 L961.8 885.6 L962.3 887.9 L962.8 890.1 L963.3 892.2 L963.8 894.2 L964.3 896.0 L964.8 897.8 L965.3 899.4 L965.8 900.9 L966.3 902.4 L966.8 903.7 L967.3 904.9 L967.8 906.0 L968.3 907.0 L968.8 907.9 L969.3 908.7 L969.8 909.4 L970.3 909.9 L970.8 910.4 L971.3 910.8 L971.8 911.0 L972.3 911.2 L972.8 911.2 L973.3 911.2 L973.8 911.0 L974.3 910.7 L974.8 910.4 L975.3 909.9 L975.8 909.3 L976.3 908.7 L976.8 907.9 L977.3 907.0 L977.8 906.0 L978.3 904.9 L978.8 903.7 L979.3 902.4 L979.8 901.0 L980.3 899.5 L980.8 897.9 L981.3 896.2 L981.8 894.4 L982.3 892.5 L982.8 890.5 L983.3 888.3 L983.8 886.1 L984.3 883.8 L984.8 881.4 L985.3 878.8 L985.8 876.2 L986.3 873.5 L986.8 870.6 L987.3 867.7 L987.8 864.7 L988.3 861.5 L988.8 858.3 L989.3 854.9 L989.8 851.5 L990.3 848.0 L990.8 844.3 L991.3 840.6 L991.8 836.7 L992.3 832.8 L992.8 828.8 L993.3 824.6 L993.8 820.4 L994.3 816.1 L994.8 811.6 L995.3 807.1 L995.8 802.5 L996.3 797.8 L996.8 793.0 L997.3 788.1 L997.8 783.2 L998.3 778.1 L998.8 773.0 L999.3 767.7 L999.8 762.4 L1000.3 757.0 L1000.8 751.5 L1001.3 746.0 L1001.8 740.4 L1002.3 734.7 L1002.8 728.9 L1003.3 723.1 L1003.8 717.2 L1004.3 711.2 L1004.8 705.2 L1005.3 699.2 L1005.8 693.0 L1006.3 686.9 L1006.8 680.6 L1007.3 674.4 L1007.8 668.1 L1008.3 661.7 L1008.8 655.3 L1009.3 648.9 L1009.8 642.5 L1010.3 636.1 L1010.8 629.6 L1011.3 623.1 L1011.8 616.6 L1012.3 610.1 L1012.8 603.6 L1013.3 597.2 L1013.8 590.7 L1014.3 584.2 L1014.8 577.8 L1015.3 571.3 L1015.8 565.0 L1016.3 558.6 L1016.8 552.3 L1017.3 546.0 L1017.8 539.7 L1018.3 533.6 L1018.8 527.4 L1019.3 521.4 L1019.8 515.3 L1020.3 509.4 L1020.8 503.5 L1021.3 497.8 L1021.8 492.1 L1022.3 486.4 L1022.8 480.9 L1023.3 475.5 L1023.8 470.1 L1024.3 464.9 L1024.8 459.8 L1025.3 454.8 L1025.8 449.9 L1026.3 445.1 L1026.8 440.4 L1027.3 435.9 L1027.8 431.5 L1028.3 427.2 L1028.8 423.0 L1029.3 419.0 L1029.8 415.2 L1030.3 411.4 L1030.8 407.8 L1031.3 404.4 L1031.8 401.1 L1032.3 398.0 L1032.8 395.0 L1033.3 392.1 L1033.8 389.5 L1034.3 386.9 L1034.8 384.6 L1035.3 382.4 L1035.8 380.3 L1036.3 378.5 L1036.8 376.7 L1037.3 375.2 L1037.8 373.8 L1038.3 372.6 L1038.8 371.6 L1039.3 370.7 L1039.8 370.0 L1040.3 369.4 L1040.8 369.1 L1041.3 368.8 L1041.8 368.8 L1042.3 368.9 L1042.8 369.2 L1043.3 369.7 L1043.8 370.3 L1044.3 371.1 L1044.8 372.1 L1045.3 373.2 L1045.8 374.5 L1046.3 376.0 L1046.8 377.6 L1047.3 379.4 L1047.8 381.3 L1048.3 383.4 L1048.8 385.7 L1049.3 388.1 L1049.8 390.6 L1050.3 393.3 L1050.8 396.2 L1051.3 399.2 L1051.8 402.4 L1052.3 405.6 L1052.8 409.1 L1053.3 412.6 L1053.8 416.3 L1054.3 420.1 L1054.8 424.1 L1055.3 428.2 L1055.8 432.4 L1056.3 436.7 L1056.8 441.1 L1057.3 445.6 L1057.8 450.3 L1058.3 455.0 L1058.8 459.9 L1059.3 464.8 L1059.8 469.9 L1060.3 475.0 L1060.8 480.2 L1061.3 485.5 L1061.8 490.9 L1062.3 496.3 L1062.8 501.8 L1063.3 507.4 L1063.8 513.0 L1064.3 518.7 L1064.8 524.5 L1065.3 530.2 L1065.8 536.1 L1066.3 541.9 L1066.8 547.8 L1067.3 553.8 L1067.8 559.7 L1068.3 565.7 L1068.8 571.7 L1069.3 577.7 L1069.8 583.7 L1070.3 589.7 L1070.8 595.7 L1071.3 601.8 L1071.8 607.8 L1072.3 613.8 L1072.8 619.8 L1073.3 625.7 L1073.8 631.7 L1074.3 637.6 L1074.8 643.5 L1075.3 649.4 L1075.8 655.2 L1076.3 661.0 L1076.8 666.8 L1077.3 672.5 L1077.8 678.1 L1078.3 683.8 L1078.8 689.3 L1079.3 694.8 L1079.8 700.3 L1080.3 705.7 L1080.8 711.1 L1081.3 716.3 L1081.8 721.6 L1082.3 726.7 L1082.8 731.8 L1083.3 736.8 L1083.8 741.8 L1084.3 746.7 L1084.8 751.5 L1085.3 756.2 L1085.8 760.9 L1086.3 765.5 L1086.8 770.0 L1087.3 774.5 L1087.8 778.8 L1088.3 783.1 L1088.8 787.3 L1089.3 791.4 L1089.8 795.5 L1090.3 799.4 L1090.8 803.3 L1091.3 807.1 L1091.8 810.8 L1092.3 814.5 L1092.8 818.0 L1093.3 821.5 L1093.8 824.9 L1094.3 828.2 L1094.8 831.4 L1095.3 834.5 L1095.8 837.6 L1096.3 840.6 L1096.8 843.5 L1097.3 846.3 L1097.8 849.0 L1098.3 851.6 L1098.8 854.2 L1099.3 856.7 L1099.8 859.1 L1100.3 861.4 L1100.8 863.6 L1101.3 865.8 L1101.8 867.8 L1102.3 869.8 L1102.8 871.7 L1103.3 873.6 L1103.8 875.3 L1104.3 877.0 L1104.8 878.6 L1105.3 880.1 L1105.8 881.5 L1106.3 882.9 L1106.8 884.1 L1107.3 885.3 L1107.8 886.4 L1108.3 887.5 L1108.8 888.4 L1109.3 889.3 L1109.8 890.1 L1110.3 890.9 L1110.8 891.5 L1111.3 892.1 L1111.8 892.6 L1112.3 893.0 L1112.8 893.3 L1113.3 893.6 L1113.8 893.8 L1114.3 893.9 L1114.8 893.9 L1115.3 893.9 L1115.8 893.8 L1116.3 893.6 L1116.8 893.3 L1117.3 893.0 L1117.8 892.6 L1118.3 892.1 L1118.8 891.5 L1119.3 890.9 L1119.8 890.2 L1120.3 889.4 L1120.8 888.5 L1121.3 887.6 L1121.8 886.6 L1122.3 885.5 L1122.8 884.3 L1123.3 883.1 L1123.8 881.8 L1124.3 880.4 L1124.8 879.0 L1125.3 877.4 L1125.8 875.8 L1126.3 874.1 L1126.8 872.4 L1127.3 870.6 L1127.8 868.7 L1128.3 866.7 L1128.8 864.6 L1129.3 862.5 L1129.8 860.3 L1130.3 858.0 L1130.8 855.7 L1131.3 853.3 L1131.8 850.8 L1132.3 848.2 L1132.8 845.6 L1133.3 842.9 L1133.8 840.1 L1134.3 837.2 L1134.8 834.3 L1135.3 831.3 L1135.8 828.2 L1136.3 825.1 L1136.8 821.8 L1137.3 818.5 L1137.8 815.2 L1138.3 811.7 L1138.8 808.2 L1139.3 804.7 L1139.8 801.0 L1140.3 797.3 L1140.8 793.5 L1141.3 789.6 L1141.8 785.7 L1142.3 781.7 L1142.8 777.7 L1143.3 773.5 L1143.8 769.3 L1144.3 765.1 L1144.8 760.8 L1145.3 756.4 L1145.8 751.9 L1146.3 747.4 L1146.8 742.9 L1147.3 738.2 L1147.8 733.6 L1148.3 728.8 L1148.8 724.0 L1149.3 719.2 L1149.8 714.3 L1150.3 709.3 L1150.8 704.3 L1151.3 699.2 L1151.8 694.1 L1152.3 689.0 L1152.8 683.8 L1153.3 678.5 L1153.8 673.3 L1154.3 667.9 L1154.8 662.6 L1155.3 657.2 L1155.8 651.8 L1156.3 646.3 L1156.8 640.8 L1157.3 635.3 L1157.8 629.8 L1158.3 624.3 L1158.8 618.7 L1159.3 613.1 L1159.8 607.5 L1160.3 601.9 L1160.8 596.3 L1161.3 590.6 L1161.8 585.0 L1162.3 579.4 L1162.8 573.7 L1163.3 568.1 L1163.8 562.5 L1164.3 556.9 L1164.8 551.3 L1165.3 545.7 L1165.8 540.2 L1166.3 534.6 L1166.8 529.1 L1167.3 523.6 L1167.8 518.2 L1168.3 512.8 L1168.8 507.4 L1169.3 502.0 L1169.8 496.7 L1170.3 491.5 L1170.8 486.3 L1171.3 481.1 L1171.8 476.0 L1172.3 471.0 L1172.8 466.0 L1173.3 461.1 L1173.8 456.3 L1174.3 451.5 L1174.8 446.8 L1175.3 442.1 L1175.8 437.6 L1176.3 433.1 L1176.8 428.7 L1177.3 424.4 L1177.8 420.2 L1178.3 416.1 L1178.8 412.0 L1179.3 408.1 L1179.8 404.2 L1180.3 400.5 L1180.8 396.8 L1181.3 393.3 L1181.8 389.8 L1182.3 386.5 L1182.8 383.3 L1183.3 380.2 L1183.8 377.2 L1184.3 374.3 L1184.8 371.5 L1185.3 368.8 L1185.8 366.3 L1186.3 363.8 L1186.8 361.5 L1187.3 359.4 L1187.8 357.3 L1188.3 355.4 L1188.8 353.5 L1189.3 351.9 L1189.8 350.3 L1190.3 348.9 L1190.8 347.5 L1191.3 346.4 L1191.8 345.3 L1192.3 344.4 L1192.8 343.6 L1193.3 342.9 L1193.8 342.4 L1194.3 342.0 L1194.8 341.7 L1195.3 341.6 L1195.8 341.5 L1196.3 341.7 L1196.8 341.9 L1197.3 342.3 L1197.8 342.8 L1198.3 343.4 L1198.8 344.2 L1199.3 345.0 L1199.8 346.1 L1200.3 347.2 L1200.8 348.4 L1201.3 349.8 L1201.8 351.3 L1202.3 353.0 L1202.8 354.7 L1203.3 356.6 L1203.8 358.6 L1204.3 360.7 L1204.8 362.9 L1205.3 365.2 L1205.8 367.7 L1206.3 370.3 L1206.8 372.9 L1207.3 375.7 L1207.8 378.6 L1208.3 381.6 L1208.8 384.7 L1209.3 387.9 L1209.8 391.2 L1210.3 394.5 L1210.8 398.0 L1211.3 401.6 L1211.8 405.3 L1212.3 409.0 L1212.8 412.9 L1213.4 416.8 L1213.9 420.8 L1214.4 424.9 L1214.9 429.0 L1215.4 433.3 L1215.9 437.6 L1216.4 441.9 L1216.9 446.4 L1217.4 450.9 L1217.9 455.4 L1218.4 460.0 L1218.9 464.7 L1219.4 469.4 L1219.9 474.2 L1220.4 479.0 L1220.9 483.9 L1221.4 488.8 L1221.9 493.7 L1222.4 498.7 L1222.9 503.7 L1223.4 508.8 L1223.9 513.8 L1224.4 518.9 L1224.9 524.1 L1225.4 529.2 L1225.9 534.3 L1226.4 539.5 L1226.9 544.7 L1227.4 549.9 L1227.9 555.1 L1228.4 560.3 L1228.9 565.5 L1229.4 570.7 L1229.9 575.9 L1230.4 581.1 L1230.9 586.2 L1231.4 591.4 L1231.9 596.6 L1232.4 601.7 L1232.9 606.8 L1233.4 612.0 L1233.9 617.0 L1234.4 622.1 L1234.9 627.2 L1235.4 632.2 L1235.9 637.2 L1236.4 642.1 L1236.9 647.1 L1237.4 652.0 L1237.9 656.8 L1238.4 661.6 L1238.9 666.4 L1239.4 671.2 L1239.9 675.9 L1240.4 680.6 L1240.9 685.2 L1241.4 689.8 L1241.9 694.3 L1242.4 698.8 L1242.9 703.2 L1243.4 707.6 L1243.9 712.0 L1244.4 716.3 L1244.9 720.5 L1245.4 724.7 L1245.9 728.9 L1246.4 733.0 L1246.9 737.0 L1247.4 741.0 L1247.9 744.9 L1248.4 748.8 L1248.9 752.6 L1249.4 756.4 L1249.9 760.1 L1250.4 763.8 L1250.9 767.4 L1251.4 770.9 L1251.9 774.4 L1252.4 777.8 L1252.9 781.2 L1253.4 784.5 L1253.9 787.7 L1254.4 790.9 L1254.9 794.1 L1255.4 797.1 L1255.9 800.1 L1256.4 803.1 L1256.9 806.0 L1257.4 808.8 L1257.9 811.6 L1258.4 814.3 L1258.9 817.0 L1259.4 819.6 L1259.9 822.1 L1260.4 824.6 L1260.9 827.1 L1261.4 829.4 L1261.9 831.7 L1262.4 834.0 L1262.9 836.2 L1263.4 838.3 L1263.9 840.4 L1264.4 842.4 L1264.9 844.4 L1265.4 846.3 L1265.9 848.1 L1266.4 849.9 L1266.9 851.6 L1267.4 853.3 L1267.9 854.9 L1268.4 856.5 L1268.9 858.0 L1269.4 859.4 L1269.9 860.8 L1270.4 862.1 L1270.9 863.4 L1271.4 864.6 L1271.9 865.8 L1272.4 866.9 L1272.9 868.0 L1273.4 869.0 L1273.9 869.9 L1274.4 870.8 L1274.9 871.6 L1275.4 872.4 L1275.9 873.1 L1276.4 873.8 L1276.9 874.4 L1277.4 875.0 L1277.9 875.5 L1278.4 876.0 L1278.9 876.4 L1279.4 876.7 L1279.9 877.0 L1280.4 877.2 L1280.9 877.4 L1281.4 877.6 L1281.9 877.6 L1282.4 877.7 L1282.9 877.6 L1283.4 877.6 L1283.9 877.4 L1284.4 877.3 L1284.9 877.0 L1285.4 876.7 L1285.9 876.4 L1286.4 876.0 L1286.9 875.5 L1287.4 875.0 L1287.9 874.5 L1288.4 873.9 L1288.9 873.2 L1289.4 872.5 L1289.9 871.8 L1290.4 871.0 L1290.9 870.1 L1291.4 869.2 L1291.9 868.2 L1292.4 867.2 L1292.9 866.1 L1293.4 865.0 L1293.9 863.8 L1294.4 862.6 L1294.9 861.3 L1295.4 860.0 L1295.9 858.6 L1296.4 857.2 L1296.9 855.7 L1297.4 854.1 L1297.9 852.6 L1298.4 850.9 L1298.9 849.2 L1299.4 847.5 L1299.9 845.7 L1300.4 843.8 L1300.9 841.9 L1301.4 840.0 L1301.9 838.0 L1302.4 835.9 L1302.9 833.8 L1303.4 831.7 L1303.9 829.5 L1304.4 827.2 L1304.9 824.9 L1305.4 822.5 L1305.9 820.1 L1306.4 817.7 L1306.9 815.1 L1307.4 812.6 L1307.9 810.0 L1308.4 807.3 L1308.9 804.6 L1309.4 801.8 L1309.9 799.0 L1310.4 796.1 L1310.9 793.2 L1311.4 790.2 L1311.9 787.2 L1312.4 784.2 L1312.9 781.1 L1313.4 777.9 L1313.9 774.7 L1314.4 771.4 L1314.9 768.1 L1315.4 764.8 L1315.9 761.4 L1316.4 757.9 L1316.9 754.4 L1317.4 750.9 L1317.9 747.3 L1318.4 743.7 L1318.9 740.0 L1319.4 736.3 L1319.9 732.5 L1320.4 728.7 L1320.9 724.9 L1321.4 721.0 L1321.9 717.0 L1322.4 713.1 L1322.9 709.1 L1323.4 705.0 L1323.9 700.9 L1324.4 696.8 L1324.9 692.6 L1325.4 688.4 L1325.9 684.2 L1326.4 679.9 L1326.9 675.6 L1327.4 671.3 L1327.9 666.9 L1328.4 662.5 L1328.9 658.1 L1329.4 653.6 L1329.9 649.1 L1330.4 644.6 L1330.9 640.1 L1331.4 635.5 L1331.9 630.9 L1332.4 626.3 L1332.9 621.7 L1333.4 617.1 L1333.9 612.4 L1334.4 607.7 L1334.9 603.0 L1335.4 598.3 L1335.9 593.6 L1336.4 588.9 L1336.9 584.1 L1337.4 579.4 L1337.9 574.6 L1338.4 569.8 L1338.9 565.1 L1339.4 560.3 L1339.9 555.5 L1340.4 550.8 L1340.9 546.0 L1341.4 541.3 L1341.9 536.5 L1342.4 531.8 L1342.9 527.0 L1343.4 522.3 L1343.9 517.6 L1344.4 512.9 L1344.9 508.3 L1345.4 503.6 L1345.9 499.0 L1346.4 494.4 L1346.9 489.8 L1347.4 485.2 L1347.9 480.7 L1348.4 476.2 L1348.9 471.7 L1349.4 467.3 L1349.9 462.9 L1350.4 458.5 L1350.9 454.2 L1351.4 449.9 L1351.9 445.7 L1352.4 441.5 L1352.9 437.3 L1353.4 433.2 L1353.9 429.2 L1354.4 425.2 L1354.9 421.2 L1355.4 417.3 L1355.9 413.5 L1356.4 409.7 L1356.9 406.0 L1357.4 402.4 L1357.9 398.8 L1358.4 395.2 L1358.9 391.8 L1359.4 388.4 L1359.9 385.1 L1360.4 381.8 L1360.9 378.6 L1361.4 375.5 L1361.9 372.5 L1362.4 369.5 L1362.9 366.6 L1363.4 363.8 L1363.9 361.1 L1364.4 358.4 L1364.9 355.9 L1365.4 353.4 L1365.9 351.0 L1366.4 348.7 L1366.9 346.4 L1367.4 344.3 L1367.9 342.2 L1368.4 340.3 L1368.9 338.4 L1369.4 336.6 L1369.9 334.9 L1370.4 333.3 L1370.9 331.8 L1371.4 330.3 L1371.9 329.0 L1372.4 327.8 L1372.9 326.6 L1373.4 325.5 L1373.9 324.6 L1374.4 323.7 L1374.9 322.9 L1375.4 322.3 L1375.9 321.7 L1376.4 321.2 L1376.9 320.8 L1377.4 320.5 L1377.9 320.3 L1378.4 320.2 L1378.9 320.2 L1379.4 320.3 L1379.9 320.5 L1380.4 320.7 L1380.9 321.1 L1381.4 321.6 L1381.9 322.1 L1382.4 322.8 L1382.9 323.5 L1383.4 324.4 L1383.9 325.3 L1384.4 326.3 L1384.9 327.4 L1385.4 328.6 L1385.9 329.9 L1386.4 331.3 L1386.9 332.8 L1387.4 334.3 L1387.9 336.0 L1388.4 337.7 L1388.9 339.5 L1389.4 341.4 L1389.9 343.4 L1390.4 345.5 L1390.9 347.6 L1391.4 349.9 L1391.9 352.2 L1392.4 354.6 L1392.9 357.0 L1393.4 359.5 L1393.9 362.2 L1394.4 364.8 L1394.9 367.6 L1395.4 370.4 L1395.9 373.3 L1396.4 376.3 L1396.9 379.3 L1397.4 382.4 L1397.9 385.5 L1398.4 388.8 L1398.9 392.0 L1399.4 395.4 L1399.9 398.8 L1400.4 402.2 L1400.9 405.7 L1401.4 409.3 L1401.9 412.9 L1402.4 416.5 L1402.9 420.2 L1403.4 424.0 L1403.9 427.8 L1404.4 431.6 L1404.9 435.5 L1405.4 439.4 L1405.9 443.4 L1406.4 447.4 L1406.9 451.4 L1407.4 455.5 L1407.9 459.6 L1408.4 463.7 L1408.9 467.8 L1409.4 472.0 L1409.9 476.2 L1410.4 480.4 L1410.9 484.7 L1411.4 488.9 L1411.9 493.2 L1412.4 497.5 L1412.9 501.8 L1413.4 506.1 L1413.9 510.5 L1414.4 514.8 L1414.9 519.2 L1415.4 523.5 L1415.9 527.9 L1416.4 532.3 L1416.9 536.6 L1417.4 541.0 L1417.9 545.4 L1418.4 549.8 L1418.9 554.1 L1419.4 558.5 L1419.9 562.9 L1420.4 567.2 L1420.9 571.6 L1421.4 575.9 L1421.9 580.2 L1422.4 584.5 L1422.9 588.8 L1423.4 593.1 L1423.9 597.4 L1424.4 601.6 L1424.9 605.9 L1425.4 610.1 L1425.9 614.3 L1426.4 618.5 L1426.9 622.6 L1427.4 626.7 L1427.9 630.8 L1428.4 634.9 L1428.9 639.0 L1429.4 643.0 L1429.9 647.0 L1430.4 651.0 L1430.9 655.0 L1431.4 658.9 L1431.9 662.8 L1432.4 666.6 L1432.9 670.5 L1433.4 674.3 L1433.9 678.0 L1434.4 681.8 L1434.9 685.5 L1435.4 689.1 L1435.9 692.8 L1436.4 696.4 L1436.9 699.9 L1437.4 703.5 L1437.9 707.0 L1438.4 710.4 L1438.9 713.8 L1439.4 717.2 L1439.9 720.6 L1440.4 723.9 L1440.9 727.1 L1441.4 730.4 L1441.9 733.6 L1442.4 736.7 L1442.9 739.9 L1443.4 742.9 L1443.9 746.0 L1444.4 749.0 L1444.9 751.9 L1445.4 754.9 L1445.9 757.7 L1446.4 760.6 L1446.9 763.4 L1447.4 766.1 L1447.9 768.9 L1448.4 771.5 L1448.9 774.2 L1449.4 776.8 L1449.9 779.4 L1450.4 781.9 L1450.9 784.4 L1451.4 786.8 L1451.9 789.2 L1452.4 791.6 L1452.9 793.9 L1453.4 796.2 L1453.9 798.4 L1454.4 800.6 L1454.9 802.7 L1455.4 804.9 L1455.9 806.9 L1456.4 809.0 L1456.9 811.0 L1457.4 812.9 L1457.9 814.8 L1458.4 816.7 L1458.9 818.6 L1459.4 820.4 L1459.9 822.1 L1460.4 823.8 L1460.9 825.5 L1461.4 827.1 L1461.9 828.7 L1462.4 830.3 L1462.9 831.8 L1463.4 833.3 L1463.9 834.8 L1464.4 836.2 L1464.9 837.5 L1465.4 838.8 L1465.9 840.1 L1466.4 841.4 L1466.9 842.6 L1467.4 843.8 L1467.9 844.9 L1468.4 846.0 L1468.9 847.1 L1469.4 848.1 L1469.9 849.1 L1470.4 850.0 L1470.9 850.9 L1471.4 851.8 L1471.9 852.6 L1472.4 853.4 L1472.9 854.2 L1473.4 854.9 L1473.9 855.6 L1474.4 856.2 L1474.9 856.8 L1475.4 857.4 L1475.9 857.9 L1476.4 858.4 L1476.9 858.9 L1477.4 859.3 L1477.9 859.7 L1478.4 860.0 L1478.9 860.4 L1479.4 860.6 L1479.9 860.9 L1480.4 861.1 L1480.9 861.3 L1481.4 861.4 L1481.9 861.5 L1482.4 861.5 L1482.9 861.6 L1483.4 861.6 L1483.9 861.5 L1484.4 861.4 L1484.9 861.3 L1485.4 861.2 L1485.9 861.0 L1486.4 860.8 L1487.0 860.5 L1487.5 860.2 L1488.0 859.9 L1488.5 859.5 L1489.0 859.1 L1489.5 858.7 L1490.0 858.2 L1490.5 857.7 L1491.0 857.2 L1491.5 856.6 L1492.0 856.0 L1492.5 855.3 L1493.0 854.6 L1493.5 853.9 L1494.0 853.2 L1494.5 852.4 L1495.0 851.6 L1495.5 850.7 L1496.0 849.8 L1496.5 848.9 L1497.0 847.9 L1497.5 846.9 L1498.0 845.9 L1498.5 844.8 L1499.0 843.7 L1499.5 842.6 L1500.0 841.4 L1500.5 840.2 L1501.0 839.0 L1501.5 837.7 L1502.0 836.4 L1502.5 835.0 L1503.0 833.7 L1503.5 832.2 L1504.0 830.8 L1504.5 829.3 L1505.0 827.8 L1505.5 826.2 L1506.0 824.6 L1506.5 823.0 L1507.0 821.4 L1507.5 819.7 L1508.0 817.9 L1508.5 816.2 L1509.0 814.4 L1509.5 812.6 L1510.0 810.7 L1510.5 808.8 L1511.0 806.9 L1511.5 804.9 L1512.0 802.9 L1512.5 800.9 L1513.0 798.8 L1513.5 796.7 L1514.0 794.5 L1514.5 792.4 L1515.0 790.2 L1515.5 787.9 L1516.0 785.6 L1516.5 783.3 L1517.0 781.0 L1517.5 778.6 L1518.0 776.2 L1518.5 773.8 L1519.0 771.3 L1519.5 768.8 L1520.0 766.2 L1520.5 763.7 L1521.0 761.1 L1521.5 758.4 L1522.0 755.8 L1522.5 753.1 L1523.0 750.3 L1523.5 747.6 L1524.0 744.8 L1524.5 741.9 L1525.0 739.1 L1525.5 736.2 L1526.0 733.2 L1526.5 730.3 L1527.0 727.3 L1527.5 724.3 L1528.0 721.3 L1528.5 718.2 L1529.0 715.1 L1529.5 711.9 L1530.0 708.8 L1530.5 705.6 L1531.0 702.4 L1531.5 699.1 L1532.0 695.9 L1532.5 692.6 L1533.0 689.2 L1533.5 685.9 L1534.0 682.5 L1534.5 679.1 L1535.0 675.7 L1535.5 672.2 L1536.0 668.7 L1536.5 665.2 L1537.0 661.7 L1537.5 658.2 L1538.0 654.6 L1538.5 651.0 L1539.0 647.4 L1539.5 643.8 L1540.0 640.1 L1540.5 636.4 L1541.0 632.7 L1541.5 629.0 L1542.0 625.3 L1542.5 621.5 L1543.0 617.8 L1543.5 614.0 L1544.0 610.2 L1544.5 606.4 L1545.0 602.6 L1545.5 598.8 L1546.0 594.9 L1546.5 591.0 L1547.0 587.2 L1547.5 583.3 L1548.0 579.4 L1548.5 575.5 L1549.0 571.6 L1549.5 567.7 L1550.0 563.8 L1550.5 559.9 L1551.0 555.9 L1551.5 552.0 L1552.0 548.1 L1552.5 544.1 L1553.0 540.2 L1553.5 536.3 L1554.0 532.3 L1554.5 528.4 L1555.0 524.5 L1555.5 520.5 L1556.0 516.6 L1556.5 512.7 L1557.0 508.8 L1557.5 504.9 L1558.0 501.0 L1558.5 497.1 L1559.0 493.2 L1559.5 489.4 L1560.0 485.5 L1560.5 481.7 L1561.0 477.9 L1561.5 474.1 L1562.0 470.3 L1562.5 466.5 L1563.0 462.8 L1563.5 459.0 L1564.0 455.3 L1564.5 451.6 L1565.0 448.0 L1565.5 444.3 L1566.0 440.7 L1566.5 437.1 L1567.0 433.6 L1567.5 430.1 L1568.0 426.6 L1568.5 423.1 L1569.0 419.6 L1569.5 416.2 L1570.0 412.9 L1570.5 409.5 L1571.0 406.2 L1571.5 403.0 L1572.0 399.7 L1572.5 396.5 L1573.0 393.4 L1573.5 390.3 L1574.0 387.2 L1574.5 384.2 L1575.0 381.2 L1575.5 378.2 L1576.0 375.4 L1576.5 372.5 L1577.0 369.7 L1577.5 366.9 L1578.0 364.2 L1578.5 361.6 L1579.0 359.0 L1579.5 356.4 L1580.0 353.9 L1580.5 351.5 L1581.0 349.1 L1581.5 346.7 L1582.0 344.4 L1582.5 342.2 L1583.0 340.0 L1583.5 337.9 L1584.0 335.8 L1584.5 333.8 L1585.0 331.9 L1585.5 330.0 L1586.0 328.1 L1586.5 326.4 L1587.0 324.7 L1587.5 323.0 L1588.0 321.4 L1588.5 319.9 L1589.0 318.4 L1589.5 317.0 L1590.0 315.7 L1590.5 314.4 L1591.0 313.2 L1591.5 312.1 L1592.0 311.0 L1592.5 310.0 L1593.0 309.0 L1593.5 308.2 L1594.0 307.3 L1594.5 306.6 L1595.0 305.9 L1595.5 305.3 L1596.0 304.7 L1596.5 304.3 L1597.0 303.8 L1597.5 303.5 L1598.0 303.2 L1598.5 303.0 L1599.0 302.8 L1599.5 302.7 L1600.0 302.7 L1600.5 302.8 L1601.0 302.9 L1601.5 303.1 L1602.0 303.3 L1602.5 303.6 L1603.0 304.0 L1603.5 304.5 L1604.0 305.0 L1604.5 305.5 L1605.0 306.2 L1605.5 306.9 L1606.0 307.7 L1606.5 308.5 L1607.0 309.4 L1607.5 310.3 L1608.0 311.4 L1608.5 312.5 L1609.0 313.6 L1609.5 314.8 L1610.0 316.1 L1610.5 317.4 L1611.0 318.8 L1611.5 320.2 L1612.0 321.8 L1612.5 323.3 L1613.0 324.9 L1613.5 326.6 L1614.0 328.4 L1614.5 330.2 L1615.0 332.0 L1615.5 333.9 L1616.0 335.9 L1616.5 337.9 L1617.0 339.9 L1617.5 342.0 L1618.0 344.2 L1618.5 346.4 L1619.0 348.7 L1619.5 351.0 L1620.0 353.4 L1620.5 355.8 L1621.0 358.2 L1621.5 360.7 L1622.0 363.2 L1622.5 365.8 L1623.0 368.5 L1623.5 371.1 L1624.0 373.8" stroke="#00ff00"/>
<path d="M253.5 1586.6 L254.0 1586.6 L254.5 1586.6 L255.0 1586.6 L255.5 1586.6 L256.0 1586.6 L256.5 1586.6 L257.0 1586.6 L257.5 1586.6 L258.0 1586.6 L258.5 1586.6 L259.0 1586.6 L259.5 1586.6 L260.0 1586.6 L260.5 1586.6 L261.0 1586.6 L261.5 1586.6 L262.0 1586.6 L262.5 1586.6 L263.0 1586.6 L263.5 1586.6 L264.0 1586.6 L264.5 1586.6 L265.0 1586.6 L265.5 1586.6 L266.0 1586.6 L266.5 1586.6 L267.0 1586.6 L267.5 1586.6 L268.0 1586.6 L268.5 1586.6 L269.0 1586.6 L269.5 1586.6 L270.0 1586.6 L270.5 1586.6 L271.0 1586.6 L271.5 1586.6 L272.0 1586.6 L272.5 1586.6 L273.0 1586.6 L273.5 1586.6 L274.0 1586.6 L274.5 1586.6 L275.0 1586.6 L275.5 1586.6 L276.0 1586.6 L276.5 1586.6 L277.0 1586.6 L277.5 1586.6 L278.0 1586.6 L278.5 1586.6 L279.0 1586.6 L279.5 1586.6 L280.0 1586.6 L280.5 1586.6 L281.0 1586.6 L281.5 1586.6 L282.0 1586.5 L282.5 1586.5 L283.0 1586.5 L283.5 1586.5 L284.0 1586.5 L284.5 1586.5 L285.0 1586.5 L285.5 1586.5 L286.0 1586.5 L286.5 1586.5 L287.0 1586.5 L287.5 1586.5 L288.0 1586.5 L288.5 1586.5 L289.0 1586.5 L289.5 1586.4 L290.0 1586.4 L290.5 1586.4 L291.0 1586.4 L291.5 1586.4 L292.0 1586.4 L292.5 1586.4 L293.0 1586.4 L293.5 1586.4 L294.0 1586.3 L294.5 1586.3 L295.0 1586.3 L295.5 1586.3 L296.0 1586.3 L296.5 1586.2 L297.0 1586.2 L297.5 1586.2 L298.0 1586.2 L298.5 1586.2 L299.0 1586.1 L299.5 1586.1 L300.0 1586.1 L300.5 1586.0 L301.0 1586.0 L301.5 1586.0 L302.0 1586.0 L302.5 1585.9 L303.0 1585.9 L303.5 1585.8 L304.0 1585.8 L304.5 1585.8 L305.0 1585.7 L305.5 1585.7 L306.0 1585.6 L306.5 1585.6 L307.0 1585.5 L307.5 1585.5 L308.0 1585.4 L308.5 1585.4 L309.0 1585.3 L309.5 1585.2 L310.0 1585.2 L310.5 1585.1 L311.0 1585.0 L311.5 1585.0 L312.0 1584.9 L312.5 1584.8 L313.0 1584.7 L313.5 1584.6 L314.0 1584.6 L314.5 1584.5 L315.0 1584.4 L315.5 1584.3 L316.0 1584.2 L316.5 1584.1 L317.0 1584.0 L317.5 1583.8 L318.0 1583.7 L318.5 1583.6 L319.0 1583.5 L319.5 1583.4 L320.0 1583.2 L320.5 1583.1 L321.0 1583.0 L321.5 1582.8 L322.0 1582.7 L322.5 1582.5 L323.0 1582.4 L323.5 1582.2 L324.0 1582.0 L324.5 1581.9 L325.0 1581.7 L325.5 1581.5 L326.0 1581.3 L326.5 1581.1 L327.0 1580.9 L327.5 1580.7 L328.0 1580.5 L328.5 1580.3 L329.0 1580.1 L329.5 1579.9 L330.0 1579.6 L330.5 1579.4 L331.0 1579.2 L331.5 1578.9 L332.0 1578.7 L332.5 1578.4 L333.0 1578.1 L333.5 1577.9 L334.0 1577.6 L334.5 1577.3 L335.0 1577.0 L335.5 1576.7 L336.0 1576.4 L336.5 1576.1 L337.0 1575.7 L337.5 1575.4 L338.0 1575.1 L338.5 1574.7 L339.0 1574.4 L339.5 1574.0 L340.0 1573.6 L340.5 1573.3 L341.0 1572.9 L341.5 1572.5 L342.0 1572.1 L342.5 1571.7 L343.0 1571.3 L343.5 1570.8 L344.0 1570.4 L344.5 1569.9 L345.0 1569.5 L345.5 1569.0 L346.0 1568.6 L346.5 1568.1 L347.0 1567.6 L347.5 1567.1 L348.0 1566.6 L348.5 1566.1 L349.0 1565.6 L349.5 1565.1 L350.0 1564.5 L350.5 1564.0 L351.0 1563.4 L351.5 1562.8 L352.0 1562.3 L352.5 1561.7 L353.0 1561.1 L353.5 1560.5 L354.0 1559.9 L354.5 1559.3 L355.0 1558.6 L355.5 1558.0 L356.0 1557.3 L356.5 1556.7 L357.0 1556.0 L357.5 1555.4 L358.0 1554.7 L358.5 1554.0 L359.0 1553.3 L359.5 1552.6 L360.0 1551.8 L360.5 1551.1 L361.0 1550.4 L361.5 1549.6 L362.0 1548.8 L362.5 1548.1 L363.0 1547.3 L363.5 1546.5 L364.0 1545.7 L364.5 1544.9 L365.0 1544.1 L365.5 1543.3 L366.0 1542.4 L366.5 1541.6 L367.0 1540.7 L367.5 1539.8 L368.0 1539.0 L368.5 1538.1 L369.0 1537.2 L369.5 1536.3 L370.0 1535.3 L370.5 1534.4 L371.0 1533.5 L371.5 1532.5 L372.0 1531.5 L372.5 1530.6 L373.0 1529.6 L373.5 1528.6 L374.0 1527.6 L374.5 1526.5 L375.0 1525.5 L375.5 1524.5 L376.0 1523.4 L376.5 1522.3 L377.0 1521.3 L377.5 1520.2 L378.0 1519.1 L378.5 1518.0 L379.0 1516.8 L379.5 1515.7 L380.0 1514.5 L380.5 1513.4 L381.0 1512.2 L381.5 1511.0 L382.0 1509.8 L382.5 1508.6 L383.0 1507.3 L383.5 1506.1 L384.0 1504.8 L384.5 1503.6 L385.0 1502.3 L385.5 1501.0 L386.0 1499.7 L386.5 1498.4 L387.0 1497.1 L387.5 1495.7 L388.0 1494.4 L388.5 1493.0 L389.0 1491.7 L389.5 1490.3 L390.0 1488.9 L390.6 1487.5 L391.1 1486.1 L391.6 1484.6 L392.1 1483.2 L392.6 1481.8 L393.1 1480.3 L393.6 1478.9 L394.1 1477.4 L394.6 1475.9 L395.1 1474.5 L395.6 1473.0 L396.1 1471.5 L396.6 1470.0 L397.1 1468.5 L397.6 1467.0 L398.1 1465.4 L398.6 1463.9 L399.1 1462.4 L399.6 1460.9 L400.1 1459.3 L400.6 1457.8 L401.1 1456.2 L401.6 1454.7 L402.1 1453.2 L402.6 1451.6 L403.1 1450.1 L403.6 1448.5 L404.1 1447.0 L404.6 1445.4 L405.1 1443.9 L405.6 1442.4 L406.1 1440.8 L406.6 1439.3 L407.1 1437.7 L407.6 1436.2 L408.1 1434.7 L408.6 1433.1 L409.1 1431.6 L409.6 1430.1 L410.1 1428.6 L410.6 1427.1 L411.1 1425.5 L411.6 1424.0 L412.1 1422.5 L412.6 1421.1 L413.1 1419.6 L413.6 1418.1 L414.1 1416.6 L414.6 1415.1 L415.1 1413.7 L415.6 1412.2 L416.1 1410.7 L416.6 1409.3 L417.1 1407.8 L417.6 1406.4 L418.1 1405.0 L418.6 1403.5 L419.1 1402.1 L419.6 1400.7 L420.1 1399.2 L420.6 1397.8 L421.1 1396.4 L421.6 1394.9 L422.1 1393.5 L422.6 1392.1 L423.1 1390.6 L423.6 1389.2 L424.1 1387.7 L424.6 1386.3 L425.1 1384.8 L425.6 1383.4 L426.1 1381.9 L426.6 1380.4 L427.1 1378.9 L427.6 1377.3 L428.1 1375.8 L428.6 1374.2 L429.1 1372.7 L429.6 1371.1 L430.1 1369.5 L430.6 1367.8 L431.1 1366.2 L431.6 1364.5 L432.1 1362.8 L432.6 1361.0 L433.1 1359.3 L433.6 1357.5 L434.1 1355.7 L434.6 1353.8 L435.1 1351.9 L435.6 1350.0 L436.1 1348.1 L436.6 1346.1 L437.1 1344.1 L437.6 1342.1 L438.1 1340.1 L438.6 1338.0 L439.1 1335.9 L439.6 1333.8 L440.1 1331.6 L440.6 1329.4 L441.1 1327.2 L441.6 1325.0 L442.1 1322.7 L442.6 1320.4 L443.1 1318.1 L443.6 1315.8 L444.1 1313.5 L444.6 1311.1 L445.1 1308.8 L445.6 1306.4 L446.1 1304.0 L446.6 1301.6 L447.1 1299.2 L447.6 1296.8 L448.1 1294.4 L448.6 1292.0 L449.1 1289.6 L449.6 1287.1 L450.1 1284.7 L450.6 1282.3 L451.1 1279.9 L451.6 1277.5 L452.1 1275.1 L452.6 1272.7 L453.1 1270.3 L453.6 1267.9 L454.1 1265.5 L454.6 1263.2 L455.1 1260.8 L455.6 1258.5 L456.1 1256.2 L456.6 1253.9 L457.1 1251.7 L457.6 1249.4 L458.1 1247.2 L458.6 1245.0 L459.1 1242.8 L459.6 1240.7 L460.1 1238.5 L460.6 1236.4 L461.1 1234.4 L461.6 1232.3 L462.1 1230.3 L462.6 1228.3 L463.1 1226.4 L463.6 1224.4 L464.1 1222.5 L464.6 1220.7 L465.1 1218.9 L465.6 1217.1 L466.1 1215.3 L466.6 1213.6 L467.1 1212.0 L467.6 1210.3 L468.1 1208.7 L468.6 1207.2 L469.1 1205.7 L469.6 1204.2 L470.1 1202.8 L470.6 1201.4 L471.1 1200.1 L471.6 1198.8 L472.1 1197.5 L472.6 1196.3 L473.1 1195.1 L473.6 1194.0 L474.1 1193.0 L474.6 1192.0 L475.1 1191.0 L475.6 1190.1 L476.1 1189.2 L476.6 1188.3 L477.1 1187.6 L477.6 1186.8 L478.1 1186.1 L478.6 1185.5 L479.1 1184.8 L479.6 1184.3 L480.1 1183.7 L480.6 1183.2 L481.1 1182.8 L481.6 1182.3 L482.1 1181.9 L482.6 1181.6 L483.1 1181.2 L483.6 1180.9 L484.1 1180.6 L484.6 1180.3 L485.1 1180.0 L485.6 1179.7 L486.1 1179.4 L486.6 1179.1 L487.1 1178.9 L487.6 1178.6 L488.1 1178.3 L488.6 1177.9 L489.1 1177.6 L489.6 1177.2 L490.1 1176.7 L490.6 1176.3 L491.1 1175.8 L491.6 1175.2 L492.1 1174.6 L492.6 1173.9 L493.1 1173.2 L493.6 1172.3 L494.1 1171.5 L494.6 1170.5 L495.1 1169.5 L495.6 1168.3 L496.1 1167.1 L496.6 1165.8 L497.1 1164.5 L497.6 1163.0 L498.1 1161.4 L498.6 1159.8 L499.1 1158.0 L499.6 1156.1 L500.1 1154.2 L500.6 1152.2 L501.1 1150.0 L501.6 1147.8 L502.1 1145.5 L502.6 1143.1 L503.1 1140.6 L503.6 1138.0 L504.1 1135.3 L504.6 1132.6 L505.1 1129.8 L505.6 1126.9 L506.1 1124.0 L506.6 1121.0 L507.1 1117.9 L507.6 1114.8 L508.1 1111.7 L508.6 1108.5 L509.1 1105.2 L509.6 1102.0 L510.1 1098.7 L510.6 1095.4 L511.1 1092.0 L511.6 1088.7 L512.1 1085.3 L512.6 1081.9 L513.1 1078.6 L513.6 1075.2 L514.1 1071.8 L514.6 1068.5 L515.1 1065.2 L515.6 1061.9 L516.1 1058.6 L516.6 1055.3 L517.1 1052.1 L517.6 1048.9 L518.1 1045.7 L518.6 1042.6 L519.1 1039.5 L519.6 1036.4 L520.1 1033.4 L520.6 1030.4 L521.1 1027.5 L521.6 1024.6 L522.1 1021.8 L522.6 1019.0 L523.1 1016.3 L523.6 1013.7 L524.1 1011.1 L524.6 1008.5 L525.1 1006.0 L525.6 1003.6 L526.1 1001.2 L526.6 998.9 L527.1 996.6 L527.6 994.5 L528.1 992.3 L528.6 990.3 L529.1 988.3 L529.6 986.3 L530.1 984.5 L530.6 982.7 L531.1 981.0 L531.6 979.3 L532.1 977.7 L532.6 976.2 L533.1 974.7 L533.6 973.4 L534.1 972.1 L534.6 970.8 L535.1 969.7 L535.6 968.6 L536.1 967.6 L536.6 966.7 L537.1 965.8 L537.6 965.1 L538.1 964.4 L538.6 963.8 L539.1 963.2 L539.6 962.8 L540.1 962.4 L540.6 962.2 L541.1 962.0 L541.6 961.9 L542.1 961.9 L542.6 961.9 L543.1 962.1 L543.6 962.3 L544.1 962.7 L544.6 963.1 L545.1 963.6 L545.6 964.2 L546.1 964.9 L546.6 965.6 L547.1 966.5 L547.6 967.4 L548.1 968.5 L548.6 969.6 L549.1 970.7 L549.6 972.0 L550.1 973.3 L550.6 974.7 L551.1 976.2 L551.6 977.7 L552.1 979.3 L552.6 981.0 L553.1 982.7 L553.6 984.4 L554.1 986.2 L554.6 988.0 L555.1 989.9 L555.6 991.7 L556.1 993.6 L556.6 995.5 L557.1 997.4 L557.6 999.3 L558.1 1001.1 L558.6 1003.0 L559.1 1004.8 L559.6 1006.5 L560.1 1008.2 L560.6 1009.9 L561.1 1011.5 L561.6 1013.0 L562.1 1014.4 L562.6 1015.8 L563.1 1017.0 L563.6 1018.1 L564.1 1019.2 L564.6 1020.1 L565.1 1020.9 L565.6 1021.5 L566.1 1022.0 L566.6 1022.4 L567.1 1022.6 L567.6 1022.7 L568.1 1022.6 L568.6 1022.3 L569.1 1021.9 L569.6 1021.3 L570.1 1020.6 L570.6 1019.7 L571.1 1018.6 L571.6 1017.4 L572.1 1015.9 L572.6 1014.4 L573.1 1012.6 L573.6 1010.7 L574.1 1008.6 L574.6 1006.4 L575.1 1004.0 L575.6 1001.4 L576.1 998.7 L576.6 995.9 L577.1 992.9 L577.6 989.8 L578.1 986.6 L578.6 983.2 L579.1 979.7 L579.6 976.1 L580.1 972.4 L580.6 968.6 L581.1 964.8 L581.6 960.8 L582.1 956.8 L582.6 952.7 L583.1 948.5 L583.6 944.4 L584.1 940.1 L584.6 935.8 L585.1 931.5 L585.6 927.2 L586.1 922.9 L586.6 918.6 L587.1 914.2 L587.6 909.9 L588.1 905.6 L588.6 901.3 L589.1 897.1 L589.6 892.8 L590.1 888.6 L590.6 884.5 L591.1 880.4 L591.6 876.4 L592.1 872.4 L592.6 868.4 L593.1 864.6 L593.6 860.7 L594.1 857.0 L594.6 853.3 L595.1 849.8 L595.6 846.2 L596.1 842.8 L596.6 839.4 L597.1 836.1 L597.6 832.9 L598.1 829.8 L598.6 826.8 L599.1 823.9 L599.6 821.0 L600.1 818.2 L600.6 815.5 L601.1 812.9 L601.6 810.4 L602.1 808.0 L602.6 805.7 L603.1 803.4 L603.6 801.3 L604.1 799.2 L604.6 797.3 L605.1 795.4 L605.6 793.6 L606.1 791.9 L606.6 790.3 L607.1 788.8 L607.6 787.4 L608.1 786.0 L608.6 784.8 L609.1 783.7 L609.6 782.6 L610.1 781.7 L610.6 780.8 L611.1 780.1 L611.6 779.4 L612.1 778.9 L612.6 778.4 L613.1 778.1 L613.6 777.8 L614.1 777.6 L614.6 777.6 L615.1 777.6 L615.6 777.8 L616.1 778.0 L616.6 778.4 L617.1 778.8 L617.6 779.4 L618.1 780.1 L618.6 780.8 L619.1 781.7 L619.6 782.7 L620.1 783.8 L620.6 785.0 L621.1 786.3 L621.6 787.8 L622.1 789.3 L622.6 790.9 L623.1 792.7 L623.6 794.6 L624.1 796.5 L624.6 798.6 L625.1 800.8 L625.6 803.1 L626.1 805.5 L626.6 808.0 L627.1 810.6 L627.6 813.3 L628.1 816.1 L628.6 819.0 L629.1 822.0 L629.6 825.1 L630.1 828.2 L630.6 831.4 L631.1 834.7 L631.6 838.1 L632.1 841.5 L632.6 845.0 L633.1 848.5 L633.6 852.1 L634.1 855.7 L634.6 859.3 L635.1 862.9 L635.6 866.6 L636.1 870.3 L636.6 873.9 L637.1 877.5 L637.6 881.1 L638.1 884.7 L638.6 888.3 L639.1 891.7 L639.6 895.2 L640.1 898.5 L640.6 901.8 L641.1 905.0 L641.6 908.1 L642.1 911.1 L642.6 914.0 L643.1 916.8 L643.6 919.4 L644.1 921.9 L644.6 924.3 L645.1 926.5 L645.6 928.6 L646.1 930.5 L646.6 932.2 L647.1 933.8 L647.6 935.2 L648.1 936.5 L648.6 937.5 L649.1 938.4 L649.6 939.1 L650.1 939.6 L650.6 939.9 L651.1 940.0 L651.6 940.0 L652.1 939.7 L652.6 939.2 L653.1 938.6 L653.6 937.7 L654.1 936.7 L654.6 935.4 L655.1 934.0 L655.6 932.4 L656.1 930.6 L656.6 928.6 L657.1 926.4 L657.6 924.0 L658.1 921.5 L658.6 918.8 L659.1 915.9 L659.6 912.9 L660.1 909.7 L660.6 906.4 L661.1 902.9 L661.6 899.2 L662.1 895.4 L662.6 891.5 L663.1 887.5 L663.6 883.3 L664.1 879.1 L664.6 874.7 L665.2 870.3 L665.7 865.7 L666.2 861.1 L666.7 856.4 L667.2 851.7 L667.7 846.9 L668.2 842.0 L668.7 837.1 L669.2 832.2 L669.7 827.2 L670.2 822.3 L670.7 817.3 L671.2 812.3 L671.7 807.3 L672.2 802.4 L672.7 797.4 L673.2 792.5 L673.7 787.6 L674.2 782.8 L674.7 778.0 L675.2 773.2 L675.7 768.5 L676.2 763.9 L676.7 759.3 L677.2 754.8 L677.7 750.4 L678.2 746.0 L678.7 741.7 L679.2 737.5 L679.7 733.4 L680.2 729.4 L680.7 725.4 L681.2 721.6 L681.7 717.8 L682.2 714.2 L682.7 710.6 L683.2 707.1 L683.7 703.7 L684.2 700.4 L684.7 697.3 L685.2 694.2 L685.7 691.2 L686.2 688.3 L686.7 685.6 L687.2 682.9 L687.7 680.3 L688.2 677.8 L688.7 675.5 L689.2 673.2 L689.7 671.1 L690.2 669.0 L690.7 667.1 L691.2 665.2 L691.7 663.5 L692.2 661.8 L692.7 660.3 L693.2 658.8 L693.7 657.5 L694.2 656.3 L694.7 655.2 L695.2 654.1 L695.7 653.2 L696.2 652.4 L696.7 651.7 L697.2 651.1 L697.7 650.6 L698.2 650.2 L698.7 649.9 L699.2 649.8 L699.7 649.7 L700.2 649.7 L700.7 649.9 L701.2 650.1 L701.7 650.5 L702.2 651.0 L702.7 651.5 L703.2 652.2 L703.7 653.0 L704.2 653.9 L704.7 654.9 L705.2 656.1 L705.7 657.3 L706.2 658.7 L706.7 660.1 L707.2 661.7 L707.7 663.4 L708.2 665.2 L708.7 667.2 L709.2 669.2 L709.7 671.4 L710.2 673.6 L710.7 676.0 L711.2 678.5 L711.7 681.1 L712.2 683.8 L712.7 686.6 L713.2 689.6 L713.7 692.6 L714.2 695.8 L714.7 699.0 L715.2 702.4 L715.7 705.9 L716.2 709.4 L716.7 713.1 L717.2 716.8 L717.7 720.7 L718.2 724.6 L718.7 728.6 L719.2 732.7 L719.7 736.9 L720.2 741.1 L720.7 745.4 L721.2 749.7 L721.7 754.1 L722.2 758.6 L722.7 763.1 L723.2 767.6 L723.7 772.1 L724.2 776.7 L724.7 781.3 L725.2 785.9 L725.7 790.5 L726.2 795.1 L726.7 799.6 L727.2 804.2 L727.7 808.7 L728.2 813.1 L728.7 817.6 L729.2 821.9 L729.7 826.2 L730.2 830.5 L730.7 834.6 L731.2 838.7 L731.7 842.7 L732.2 846.6 L732.7 850.4 L733.2 854.0 L733.7 857.6 L734.2 861.0 L734.7 864.3 L735.2 867.5 L735.7 870.6 L736.2 873.5 L736.7 876.2 L737.2 878.8 L737.7 881.3 L738.2 883.6 L738.7 885.7 L739.2 887.7 L739.7 889.5 L740.2 891.2 L740.7 892.6 L741.2 893.9 L741.7 895.1 L742.2 896.0 L742.7 896.8 L743.2 897.4 L743.7 897.8 L744.2 898.1 L744.7 898.2 L745.2 898.0 L745.7 897.8 L746.2 897.3 L746.7 896.7 L747.2 895.8 L747.7 894.8 L748.2 893.7 L748.7 892.3 L749.2 890.8 L749.7 889.1 L750.2 887.3 L750.7 885.2 L751.2 883.0 L751.7 880.7 L752.2 878.2 L752.7 875.5 L753.2 872.7 L753.7 869.7 L754.2 866.6 L754.7 863.3 L755.2 859.9 L755.7 856.3 L756.2 852.6 L756.7 848.8 L757.2 844.9 L757.7 840.8 L758.2 836.7 L758.7 832.4 L759.2 828.0 L759.7 823.6 L760.2 819.0 L760.7 814.3 L761.2 809.6 L761.7 804.8 L762.2 799.9 L762.7 795.0 L763.2 790.0 L763.7 785.0 L764.2 779.9 L764.7 774.8 L765.2 769.7 L765.7 764.5 L766.2 759.3 L766.7 754.1 L767.2 749.0 L767.7 743.8 L768.2 738.6 L768.7 733.4 L769.2 728.3 L769.7 723.2 L770.2 718.1 L770.7 713.0 L771.2 708.0 L771.7 703.1 L772.2 698.1 L772.7 693.3 L773.2 688.5 L773.7 683.7 L774.2 679.1 L774.7 674.5 L775.2 669.9 L775.7 665.5 L776.2 661.1 L776.7 656.8 L777.2 652.6 L777.7 648.5 L778.2 644.4 L778.7 640.5 L779.2 636.6 L779.7 632.9 L780.2 629.2 L780.7 625.6 L781.2 622.1 L781.7 618.8 L782.2 615.5 L782.7 612.3 L783.2 609.2 L783.7 606.3 L784.2 603.4 L784.7 600.6 L785.2 597.9 L785.7 595.4 L786.2 592.9 L786.7 590.5 L787.2 588.3 L787.7 586.1 L788.2 584.1 L788.7 582.1 L789.2 580.3 L789.7 578.5 L790.2 576.9 L790.7 575.3 L791.2 573.9 L791.7 572.6 L792.2 571.3 L792.7 570.2 L793.2 569.2 L793.7 568.3 L794.2 567.5 L794.7 566.8 L795.2 566.2 L795.7 565.7 L796.2 565.3 L796.7 565.0 L797.2 564.8 L797.7 564.7 L798.2 564.8 L798.7 564.9 L799.2 565.1 L799.7 565.5 L800.2 565.9 L800.7 566.5 L801.2 567.1 L801.7 567.9 L802.2 568.8 L802.7 569.7 L803.2 570.8 L803.7 572.0 L804.2 573.3 L804.7 574.7 L805.2 576.3 L805.7 577.9 L806.2 579.6 L806.7 581.5 L807.2 583.4 L807.7 585.5 L808.2 587.6 L808.7 589.9 L809.2 592.3 L809.7 594.8 L810.2 597.3 L810.7 600.0 L811.2 602.8 L811.7 605.8 L812.2 608.8 L812.7 611.9 L813.2 615.1 L813.7 618.4 L814.2 621.8 L814.7 625.3 L815.2 628.9 L815.7 632.6 L816.2 636.4 L816.7 640.3 L817.2 644.2 L817.7 648.3 L818.2 652.4 L818.7 656.6 L819.2 660.9 L819.7 665.2 L820.2 669.7 L820.7 674.1 L821.2 678.7 L821.7 683.3 L822.2 687.9 L822.7 692.6 L823.2 697.3 L823.7 702.1 L824.2 706.9 L824.7 711.7 L825.2 716.5 L825.7 721.4 L826.2 726.3 L826.7 731.1 L827.2 736.0 L827.7 740.9 L828.2 745.7 L828.7 750.5 L829.2 755.3 L829.7 760.1 L830.2 764.9 L830.7 769.6 L831.2 774.2 L831.7 778.8 L832.2 783.3 L832.7 787.8 L833.2 792.2 L833.7 796.6 L834.2 800.8 L834.7 805.0 L835.2 809.1 L835.7 813.1 L836.2 817.0 L836.7 820.8 L837.2 824.5 L837.7 828.1 L838.2 831.5 L838.7 834.9 L839.2 838.2 L839.7 841.3 L840.2 844.3 L840.7 847.2 L841.2 849.9 L841.7 852.6 L842.2 855.1 L842.7 857.4 L843.2 859.7 L843.7 861.8 L844.2 863.7 L844.7 865.5 L845.2 867.2 L845.7 868.7 L846.2 870.1 L846.7 871.4 L847.2 872.5 L847.7 873.4 L848.2 874.3 L848.7 874.9 L849.2 875.5 L849.7 875.9 L850.2 876.1 L850.7 876.2 L851.2 876.1 L851.7 875.9 L852.2 875.6 L852.7 875.1 L853.2 874.5 L853.7 873.7 L854.2 872.8 L854.7 871.8 L855.2 870.6 L855.7 869.2 L856.2 867.7 L856.7 866.1 L857.2 864.4 L857.7 862.5 L858.2 860.5 L858.7 858.3 L859.2 856.0 L859.7 853.6 L860.2 851.1 L860.7 848.4 L861.2 845.6 L861.7 842.7 L862.2 839.6 L862.7 836.5 L863.2 833.2 L863.7 829.8 L864.2 826.3 L864.7 822.7 L865.2 819.0 L865.7 815.2 L866.2 811.3 L866.7 807.3 L867.2 803.2 L867.7 799.0 L868.2 794.7 L868.7 790.4 L869.2 786.0 L869.7 781.5 L870.2 776.9 L870.7 772.3 L871.2 767.6 L871.7 762.8 L872.2 758.0 L872.7 753.2 L873.2 748.3 L873.7 743.4 L874.2 738.4 L874.7 733.4 L875.2 728.4 L875.7 723.3 L876.2 718.3 L876.7 713.2 L877.2 708.2 L877.7 703.1 L878.2 698.0 L878.7 693.0 L879.2 687.9 L879.7 682.9 L880.2 677.9 L880.7 672.9 L881.2 667.9 L881.7 663.0 L882.2 658.1 L882.7 653.3 L883.2 648.5 L883.7 643.7 L884.2 639.0 L884.7 634.3 L885.2 629.7 L885.7 625.2 L886.2 620.7 L886.7 616.3 L887.2 611.9 L887.7 607.7 L888.2 603.4 L888.7 599.3 L889.2 595.2 L889.7 591.3 L890.2 587.4 L890.7 583.5 L891.2 579.8 L891.7 576.1 L892.2 572.6 L892.7 569.1 L893.2 565.7 L893.7 562.4 L894.2 559.1 L894.7 556.0 L895.2 553.0 L895.7 550.0 L896.2 547.2 L896.7 544.4 L897.2 541.7 L897.7 539.1 L898.2 536.6 L898.7 534.3 L899.2 532.0 L899.7 529.8 L900.2 527.7 L900.7 525.6 L901.2 523.7 L901.7 521.9 L902.2 520.2 L902.7 518.6 L903.2 517.0 L903.7 515.6 L904.2 514.2 L904.7 513.0 L905.2 511.9 L905.7 510.8 L906.2 509.9 L906.7 509.0 L907.2 508.2 L907.7 507.6 L908.2 507.0 L908.7 506.5 L909.2 506.2 L909.7 505.9 L910.2 505.7 L910.7 505.6 L911.2 505.7 L911.7 505.8 L912.2 506.0 L912.7 506.3 L913.2 506.7 L913.7 507.2 L914.2 507.8 L914.7 508.5 L915.2 509.3 L915.7 510.2 L916.2 511.2 L916.7 512.3 L917.2 513.5 L917.7 514.7 L918.2 516.1 L918.7 517.6 L919.2 519.2 L919.7 520.9 L920.2 522.6 L920.7 524.5 L921.2 526.5 L921.7 528.5 L922.2 530.7 L922.7 532.9 L923.2 535.3 L923.7 537.7 L924.2 540.2 L924.7 542.9 L925.2 545.6 L925.7 548.4 L926.2 551.3 L926.7 554.3 L927.2 557.4 L927.7 560.5 L928.2 563.8 L928.7 567.1 L929.2 570.6 L929.7 574.1 L930.2 577.7 L930.7 581.3 L931.2 585.1 L931.7 588.9 L932.2 592.8 L932.7 596.7 L933.2 600.8 L933.7 604.9 L934.2 609.0 L934.7 613.3 L935.2 617.5 L935.7 621.9 L936.2 626.3 L936.7 630.7 L937.2 635.2 L937.7 639.7 L938.2 644.3 L938.8 648.9 L939.3 653.5 L939.8 658.2 L940.3 662.9 L940.8 667.6 L941.3 672.3 L941.8 677.0 L942.3 681.8 L942.8 686.5 L943.3 691.3 L943.8 696.0 L944.3 700.8 L944.8 705.5 L945.3 710.3 L945.8 715.0 L946.3 719.6 L946.8 724.3 L947.3 728.9 L947.8 733.5 L948.3 738.1 L948.8 742.6 L949.3 747.1 L949.8 751.5 L950.3 755.9 L950.8 760.2 L951.3 764.4 L951.8 768.6 L952.3 772.8 L952.8 776.8 L953.3 780.8 L953.8 784.7 L954.3 788.6 L954.8 792.4 L955.3 796.0 L955.8 799.6 L956.3 803.2 L956.8 806.6 L957.3 809.9 L957.8 813.2 L958.3 816.3 L958.8 819.4 L959.3 822.4 L959.8 825.2 L960.3 828.0 L960.8 830.7 L961.3 833.3 L961.8 835.7 L962.3 838.1 L962.8 840.3 L963.3 842.5 L963.8 844.5 L964.3 846.5 L964.8 848.3 L965.3 850.1 L965.8 851.7 L966.3 853.2 L966.8 854.6 L967.3 855.9 L967.8 857.1 L968.3 858.1 L968.8 859.1 L969.3 860.0 L969.8 860.7 L970.3 861.3 L970.8 861.8 L971.3 862.3 L971.8 862.6 L972.3 862.8 L972.8 862.8 L973.3 862.8 L973.8 862.7 L974.3 862.4 L974.8 862.1 L975.3 861.6 L975.8 861.0 L976.3 860.3 L976.8 859.6 L977.3 858.7 L977.8 857.7 L978.3 856.5 L978.8 855.3 L979.3 854.0 L979.8 852.6 L980.3 851.0 L980.8 849.4 L981.3 847.7 L981.8 845.8 L982.3 843.9 L982.8 841.8 L983.3 839.7 L983.8 837.5 L984.3 835.1 L984.8 832.7 L985.3 830.2 L985.8 827.5 L986.3 824.8 L986.8 822.0 L987.3 819.1 L987.8 816.1 L988.3 813.0 L988.8 809.9 L989.3 806.6 L989.8 803.3 L990.3 799.8 L990.8 796.4 L991.3 792.8 L991.8 789.1 L992.3 785.4 L992.8 781.6 L993.3 777.7 L993.8 773.8 L994.3 769.8 L994.8 765.7 L995.3 761.6 L995.8 757.4 L996.3 753.2 L996.8 748.9 L997.3 744.6 L997.8 740.2 L998.3 735.8 L998.8 731.3 L999.3 726.8 L999.8 722.2 L1000.3 717.7 L1000.8 713.0 L1001.3 708.4 L1001.8 703.7 L1002.3 699.1 L1002.8 694.4 L1003.3 689.6 L1003.8 684.9 L1004.3 680.2 L1004.8 675.4 L1005.3 670.7 L1005.8 666.0 L1006.3 661.2 L1006.8 656.5 L1007.3 651.8 L1007.8 647.1 L1008.3 642.4 L1008.8 637.7 L1009.3 633.0 L1009.8 628.4 L1010.3 623.8 L1010.8 619.2 L1011.3 614.7 L1011.8 610.2 L1012.3 605.7 L1012.8 601.3 L1013.3 596.9 L1013.8 592.5 L1014.3 588.2 L1014.8 584.0 L1015.3 579.8 L1015.8 575.6 L1016.3 571.6 L1016.8 567.5 L1017.3 563.5 L1017.8 559.6 L1018.3 555.8 L1018.8 552.0 L1019.3 548.3 L1019.8 544.6 L1020.3 541.0 L1020.8 537.5 L1021.3 534.0 L1021.8 530.6 L1022.3 527.3 L1022.8 524.1 L1023.3 520.9 L1023.8 517.8 L1024.3 514.8 L1024.8 511.9 L1025.3 509.0 L1025.8 506.3 L1026.3 503.6 L1026.8 500.9 L1027.3 498.4 L1027.8 495.9 L1028.3 493.5 L1028.8 491.2 L1029.3 489.0 L1029.8 486.9 L1030.3 484.8 L1030.8 482.9 L1031.3 481.0 L1031.8 479.2 L1032.3 477.5 L1032.8 475.8 L1033.3 474.3 L1033.8 472.8 L1034.3 471.4 L1034.8 470.1 L1035.3 468.9 L1035.8 467.8 L1036.3 466.7 L1036.8 465.8 L1037.3 464.9 L1037.8 464.1 L1038.3 463.4 L1038.8 462.8 L1039.3 462.2 L1039.8 461.8 L1040.3 461.4 L1040.8 461.2 L1041.3 461.0 L1041.8 460.9 L1042.3 460.9 L1042.8 460.9 L1043.3 461.1 L1043.8 461.3 L1044.3 461.6 L1044.8 462.0 L1045.3 462.5 L1045.8 463.1 L1046.3 463.8 L1046.8 464.5 L1047.3 465.4 L1047.8 466.3 L1048.3 467.3 L1048.8 468.4 L1049.3 469.6 L1049.8 470.8 L1050.3 472.2 L1050.8 473.6 L1051.3 475.1 L1051.8 476.7 L1052.3 478.4 L1052.8 480.2 L1053.3 482.0 L1053.8 483.9 L1054.3 485.9 L1054.8 488.0 L1055.3 490.2 L1055.8 492.4 L1056.3 494.8 L1056.8 497.2 L1057.3 499.7 L1057.8 502.2 L1058.3 504.9 L1058.8 507.6 L1059.3 510.4 L1059.8 513.2 L1060.3 516.2 L1060.8 519.2 L1061.3 522.3 L1061.8 525.4 L1062.3 528.6 L1062.8 531.9 L1063.3 535.3 L1063.8 538.7 L1064.3 542.2 L1064.8 545.7 L1065.3 549.3 L1065.8 553.0 L1066.3 556.7 L1066.8 560.5 L1067.3 564.3 L1067.8 568.2 L1068.3 572.1 L1068.8 576.1 L1069.3 580.1 L1069.8 584.2 L1070.3 588.3 L1070.8 592.4 L1071.3 596.6 L1071.8 600.8 L1072.3 605.1 L1072.8 609.3 L1073.3 613.6 L1073.8 618.0 L1074.3 622.3 L1074.8 626.7 L1075.3 631.1 L1075.8 635.5 L1076.3 639.9 L1076.8 644.3 L1077.3 648.7 L1077.8 653.1 L1078.3 657.6 L1078.8 662.0 L1079.3 666.4 L1079.8 670.8 L1080.3 675.2 L1080.8 679.6 L1081.3 684.0 L1081.8 688.4 L1082.3 692.7 L1082.8 697.0 L1083.3 701.3 L1083.8 705.6 L1084.3 709.8 L1084.8 714.0 L1085.3 718.2 L1085.8 722.3 L1086.3 726.4 L1086.8 730.5 L1087.3 734.5 L1087.8 738.5 L1088.3 742.4 L1088.8 746.2 L1089.3 750.1 L1089.8 753.8 L1090.3 757.5 L1090.8 761.2 L1091.3 764.8 L1091.8 768.3 L1092.3 771.8 L1092.8 775.2 L1093.3 778.6 L1093.8 781.9 L1094.3 785.1 L1094.8 788.3 L1095.3 791.3 L1095.8 794.4 L1096.3 797.3 L1096.8 800.2 L1097.3 803.0 L1097.8 805.7 L1098.3 808.4 L1098.8 811.0 L1099.3 813.5 L1099.8 816.0 L1100.3 818.3 L1100.8 820.6 L1101.3 822.8 L1101.8 825.0 L1102.3 827.0 L1102.8 829.0 L1103.3 830.9 L1103.8 832.7 L1104.3 834.5 L1104.8 836.1 L1105.3 837.7 L1105.8 839.2 L1106.3 840.6 L1106.8 842.0 L1107.3 843.2 L1107.8 844.4 L1108.3 845.5 L1108.8 846.6 L1109.3 847.5 L1109.8 848.4 L1110.3 849.2 L1110.8 849.9 L1111.3 850.5 L1111.8 851.0 L1112.3 851.5 L1112.8 851.9 L1113.3 852.2 L1113.8 852.4 L1114.3 852.6 L1114.8 852.6 L1115.3 852.6 L1115.8 852.5 L1116.3 852.3 L1116.8 852.1 L1117.3 851.8 L1117.8 851.4 L1118.3 850.9 L1118.8 850.3 L1119.3 849.7 L1119.8 848.9 L1120.3 848.1 L1120.8 847.3 L1121.3 846.3 L1121.8 845.3 L1122.3 844.2 L1122.8 843.0 L1123.3 841.7 L1123.8 840.4 L1124.3 839.0 L1124.8 837.5 L1125.3 835.9 L1125.8 834.3 L1126.3 832.6 L1126.8 830.8 L1127.3 829.0 L1127.8 827.0 L1128.3 825.0 L1128.8 823.0 L1129.3 820.8 L1129.8 818.6 L1130.3 816.3 L1130.8 814.0 L1131.3 811.6 L1131.8 809.1 L1132.3 806.5 L1132.8 803.9 L1133.3 801.2 L1133.8 798.5 L1134.3 795.6 L1134.8 792.8 L1135.3 789.8 L1135.8 786.8 L1136.3 783.8 L1136.8 780.6 L1137.3 777.5 L1137.8 774.2 L1138.3 770.9 L1138.8 767.6 L1139.3 764.2 L1139.8 760.7 L1140.3 757.2 L1140.8 753.6 L1141.3 750.0 L1141.8 746.4 L1142.3 742.7 L1142.8 738.9 L1143.3 735.2 L1143.8 731.3 L1144.3 727.5 L1144.8 723.6 L1145.3 719.6 L1145.8 715.6 L1146.3 711.6 L1146.8 707.6 L1147.3 703.5 L1147.8 699.4 L1148.3 695.3 L1148.8 691.1 L1149.3 686.9 L1149.8 682.7 L1150.3 678.5 L1150.8 674.3 L1151.3 670.0 L1151.8 665.8 L1152.3 661.5 L1152.8 657.2 L1153.3 652.9 L1153.8 648.6 L1154.3 644.3 L1154.8 640.0 L1155.3 635.8 L1155.8 631.5 L1156.3 627.2 L1156.8 622.9 L1157.3 618.6 L1157.8 614.3 L1158.3 610.1 L1158.8 605.8 L1159.3 601.6 L1159.8 597.4 L1160.3 593.2 L1160.8 589.1 L1161.3 584.9 L1161.8 580.8 L1162.3 576.7 L1162.8 572.7 L1163.3 568.6 L1163.8 564.6 L1164.3 560.7 L1164.8 556.8 L1165.3 552.9 L1165.8 549.0 L1166.3 545.2 L1166.8 541.4 L1167.3 537.7 L1167.8 534.0 L1168.3 530.4 L1168.8 526.8 L1169.3 523.2 L1169.8 519.7 L1170.3 516.3 L1170.8 512.9 L1171.3 509.6 L1171.8 506.3 L1172.3 503.0 L1172.8 499.9 L1173.3 496.7 L1173.8 493.7 L1174.3 490.7 L1174.8 487.7 L1175.3 484.8 L1175.8 482.0 L1176.3 479.3 L1176.8 476.5 L1177.3 473.9 L1177.8 471.3 L1178.3 468.8 L1178.8 466.4 L1179.3 464.0 L1179.8 461.7 L1180.3 459.4 L1180.8 457.2 L1181.3 455.1 L1181.8 453.1 L1182.3 451.1 L1182.8 449.2 L1183.3 447.3 L1183.8 445.5 L1184.3 443.8 L1184.8 442.2 L1185.3 440.6 L1185.8 439.1 L1186.3 437.7 L1186.8 436.3 L1187.3 435.0 L1187.8 433.8 L1188.3 432.7 L1188.8 431.6 L1189.3 430.6 L1189.8 429.7 L1190.3 428.8 L1190.8 428.0 L1191.3 427.3 L1191.8 426.6 L1192.3 426.1 L1192.8 425.6 L1193.3 425.1 L1193.8 424.8 L1194.3 424.5 L1194.8 424.3 L1195.3 424.1 L1195.8 424.0 L1196.3 424.0 L1196.8 424.1 L1197.3 424.3 L1197.8 424.5 L1198.3 424.8 L1198.8 425.1 L1199.3 425.6 L1199.8 426.1 L1200.3 426.6 L1200.8 427.3 L1201.3 428.0 L1201.8 428.8 L1202.3 429.6 L1202.8 430.6 L1203.3 431.6 L1203.8 432.6 L1204.3 433.8 L1204.8 435.0 L1205.3 436.3 L1205.8 437.6 L1206.3 439.0 L1206.8 440.5 L1207.3 442.1 L1207.8 443.7 L1208.3 445.4 L1208.8 447.1 L1209.3 449.0 L1209.8 450.9 L1210.3 452.8 L1210.8 454.8 L1211.3 456.9 L1211.8 459.1 L1212.3 461.3 L1212.8 463.5 L1213.4 465.9 L1213.9 468.3 L1214.4 470.7 L1214.9 473.3 L1215.4 475.8 L1215.9 478.5 L1216.4 481.2 L1216.9 483.9 L1217.4 486.7 L1217.9 489.6 L1218.4 492.5 L1218.9 495.5 L1219.4 498.5 L1219.9 501.6 L1220.4 504.7 L1220.9 507.9 L1221.4 511.1 L1221.9 514.4 L1222.4 517.7 L1222.9 521.0 L1223.4 524.4 L1223.9 527.9 L1224.4 531.4 L1224.9 534.9 L1225.4 538.4 L1225.9 542.0 L1226.4 545.7 L1226.9 549.3 L1227.4 553.0 L1227.9 556.7 L1228.4 560.5 L1228.9 564.3 L1229.4 568.1 L1229.9 571.9 L1230.4 575.7 L1230.9 579.6 L1231.4 583.5 L1231.9 587.4 L1232.4 591.3 L1232.9 595.3 L1233.4 599.2 L1233.9 603.2 L1234.4 607.1 L1234.9 611.1 L1235.4 615.1 L1235.9 619.1 L1236.4 623.1 L1236.9 627.1 L1237.4 631.0 L1237.9 635.0 L1238.4 639.0 L1238.9 643.0 L1239.4 646.9 L1239.9 650.9 L1240.4 654.8 L1240.9 658.7 L1241.4 662.7 L1241.9 666.6 L1242.4 670.4 L1242.9 674.3 L1243.4 678.1 L1243.9 682.0 L1244.4 685.8 L1244.9 689.5 L1245.4 693.3 L1245.9 697.0 L1246.4 700.7 L1246.9 704.3 L1247.4 708.0 L1247.9 711.6 L1248.4 715.1 L1248.9 718.7 L1249.4 722.1 L1249.9 725.6 L1250.4 729.0 L1250.9 732.4 L1251.4 735.7 L1251.9 739.0 L1252.4 742.3 L1252.9 745.5 L1253.4 748.7 L1253.9 751.8 L1254.4 754.9 L1254.9 757.9 L1255.4 760.9 L1255.9 763.8 L1256.4 766.7 L1256.9 769.6 L1257.4 772.3 L1257.9 775.1 L1258.4 777.8 L1258.9 780.4 L1259.4 783.0 L1259.9 785.6 L1260.4 788.1 L1260.9 790.5 L1261.4 792.9 L1261.9 795.2 L1262.4 797.5 L1262.9 799.7 L1263.4 801.9 L1263.9 804.0 L1264.4 806.1 L1264.9 808.1 L1265.4 810.0 L1265.9 811.9 L1266.4 813.7 L1266.9 815.5 L1267.4 817.3 L1267.9 818.9 L1268.4 820.6 L1268.9 822.1 L1269.4 823.6 L1269.9 825.1 L1270.4 826.5 L1270.9 827.8 L1271.4 829.1 L1271.9 830.3 L1272.4 831.5 L1272.9 832.6 L1273.4 833.7 L1273.9 834.7 L1274.4 835.6 L1274.9 836.5 L1275.4 837.3 L1275.9 838.1 L1276.4 838.8 L1276.9 839.5 L1277.4 840.1 L1277.9 840.6 L1278.4 841.1 L1278.9 841.6 L1279.4 841.9 L1279.9 842.3 L1280.4 842.5 L1280.9 842.8 L1281.4 842.9 L1281.9 843.0 L1282.4 843.1 L1282.9 843.1 L1283.4 843.0 L1283.9 842.9 L1284.4 842.7 L1284.9 842.5 L1285.4 842.2 L1285.9 841.9 L1286.4 841.5 L1286.9 841.0 L1287.4 840.5 L1287.9 840.0 L1288.4 839.4 L1288.9 838.7 L1289.4 838.0 L1289.9 837.2 L1290.4 836.4 L1290.9 835.5 L1291.4 834.6 L1291.9 833.6 L1292.4 832.5 L1292.9 831.4 L1293.4 830.3 L1293.9 829.1 L1294.4 827.9 L1294.9 826.6 L1295.4 825.2 L1295.9 823.8 L1296.4 822.3 L1296.9 820.8 L1297.4 819.3 L1297.9 817.7 L1298.4 816.0 L1298.9 814.3 L1299.4 812.5 L1299.9 810.7 L1300.4 808.8 L1300.9 806.9 L1301.4 805.0 L1301.9 803.0 L1302.4 800.9 L1302.9 798.8 L1303.4 796.6 L1303.9 794.4 L1304.4 792.2 L1304.9 789.9 L1305.4 787.5 L1305.9 785.2 L1306.4 782.7 L1306.9 780.2 L1307.4 777.7 L1307.9 775.2 L1308.4 772.5 L1308.9 769.9 L1309.4 767.2 L1309.9 764.4 L1310.4 761.7 L1310.9 758.8 L1311.4 756.0 L1311.9 753.1 L1312.4 750.1 L1312.9 747.1 L1313.4 744.1 L1313.9 741.1 L1314.4 738.0 L1314.9 734.8 L1315.4 731.7 L1315.9 728.5 L1316.4 725.3 L1316.9 722.0 L1317.4 718.7 L1317.9 715.4 L1318.4 712.0 L1318.9 708.6 L1319.4 705.2 L1319.9 701.8 L1320.4 698.3 L1320.9 694.8 L1321.4 691.3 L1321.9 687.7 L1322.4 684.2 L1322.9 680.6 L1323.4 677.0 L1323.9 673.3 L1324.4 669.7 L1324.9 666.0 L1325.4 662.3 L1325.9 658.7 L1326.4 654.9 L1326.9 651.2 L1327.4 647.5 L1327.9 643.7 L1328.4 640.0 L1328.9 636.2 L1329.4 632.5 L1329.9 628.7 L1330.4 624.9 L1330.9 621.1 L1331.4 617.3 L1331.9 613.5 L1332.4 609.7 L1332.9 606.0 L1333.4 602.2 L1333.9 598.4 L1334.4 594.6 L1334.9 590.8 L1335.4 587.1 L1335.9 583.3 L1336.4 579.6 L1336.9 575.8 L1337.4 572.1 L1337.9 568.4 L1338.4 564.7 L1338.9 561.0 L1339.4 557.4 L1339.9 553.7 L1340.4 550.1 L1340.9 546.5 L1341.4 542.9 L1341.9 539.4 L1342.4 535.8 L1342.9 532.3 L1343.4 528.8 L1343.9 525.4 L1344.4 521.9 L1344.9 518.5 L1345.4 515.1 L1345.9 511.8 L1346.4 508.5 L1346.9 505.2 L1347.4 502.0 L1347.9 498.7 L1348.4 495.6 L1348.9 492.4 L1349.4 489.3 L1349.9 486.3 L1350.4 483.2 L1350.9 480.2 L1351.4 477.3 L1351.9 474.4 L1352.4 471.5 L1352.9 468.7 L1353.4 465.9 L1353.9 463.2 L1354.4 460.5 L1354.9 457.8 L1355.4 455.2 L1355.9 452.7 L1356.4 450.2 L1356.9 447.7 L1357.4 445.3 L1357.9 442.9 L1358.4 440.6 L1358.9 438.4 L1359.4 436.1 L1359.9 434.0 L1360.4 431.9 L1360.9 429.8 L1361.4 427.8 L1361.9 425.8 L1362.4 423.9 L1362.9 422.1 L1363.4 420.3 L1363.9 418.5 L1364.4 416.8 L1364.9 415.2 L1365.4 413.6 L1365.9 412.1 L1366.4 410.6 L1366.9 409.2 L1367.4 407.8 L1367.9 406.5 L1368.4 405.2 L1368.9 404.1 L1369.4 402.9 L1369.9 401.8 L1370.4 400.8 L1370.9 399.8 L1371.4 398.9 L1371.9 398.1 L1372.4 397.3 L1372.9 396.5 L1373.4 395.8 L1373.9 395.2 L1374.4 394.6 L1374.9 394.1 L1375.4 393.7 L1375.9 393.3 L1376.4 392.9 L1376.9 392.6 L1377.4 392.4 L1377.9 392.3 L1378.4 392.1 L1378.9 392.1 L1379.4 392.1 L1379.9 392.2 L1380.4 392.3 L1380.9 392.5 L1381.4 392.7 L1381.9 393.0 L1382.4 393.3 L1382.9 393.7 L1383.4 394.2 L1383.9 394.7 L1384.4 395.3 L1384.9 395.9 L1385.4 396.6 L1385.9 397.4 L1386.4 398.2 L1386.9 399.0 L1387.4 400.0 L1387.9 400.9 L1388.4 402.0 L1388.9 403.0 L1389.4 404.2 L1389.9 405.4 L1390.4 406.6 L1390.9 407.9 L1391.4 409.3 L1391.9 410.7 L1392.4 412.1 L1392.9 413.6 L1393.4 415.2 L1393.9 416.8 L1394.4 418.5 L1394.9 420.2 L1395.4 422.0 L1395.9 423.8 L1396.4 425.7 L1396.9 427.6 L1397.4 429.5 L1397.9 431.6 L1398.4 433.6 L1398.9 435.7 L1399.4 437.9 L1399.9 440.1 L1400.4 442.3 L1400.9 444.6 L1401.4 447.0 L1401.9 449.4 L1402.4 451.8 L1402.9 454.3 L1403.4 456.8 L1403.9 459.3 L1404.4 461.9 L1404.9 464.5 L1405.4 467.2 L1405.9 469.9 L1406.4 472.7 L1406.9 475.5 L1407.4 478.3 L1407.9 481.1 L1408.4 484.0 L1408.9 486.9 L1409.4 489.9 L1409.9 492.9 L1410.4 495.9 L1410.9 499.0 L1411.4 502.0 L1411.9 505.1 L1412.4 508.3 L1412.9 511.4 L1413.4 514.6 L1413.9 517.8 L1414.4 521.1 L1414.9 524.3 L1415.4 527.6 L1415.9 530.9 L1416.4 534.2 L1416.9 537.5 L1417.4 540.9 L1417.9 544.2 L1418.4 547.6 L1418.9 551.0 L1419.4 554.4 L1419.9 557.9 L1420.4 561.3 L1420.9 564.7 L1421.4 568.2 L1421.9 571.6 L1422.4 575.1 L1422.9 578.6 L1423.4 582.1 L1423.9 585.5 L1424.4 589.0 L1424.9 592.5 L1425.4 596.0 L1425.9 599.5 L1426.4 603.0 L1426.9 606.4 L1427.4 609.9 L1427.9 613.4 L1428.4 616.9 L1428.9 620.3 L1429.4 623.8 L1429.9 627.2 L1430.4 630.7 L1430.9 634.1 L1431.4 637.5 L1431.9 640.9 L1432.4 644.3 L1432.9 647.7 L1433.4 651.1 L1433.9 654.4 L1434.4 657.7 L1434.9 661.1 L1435.4 664.3 L1435.9 667.6 L1436.4 670.9 L1436.9 674.1 L1437.4 677.3 L1437.9 680.5 L1438.4 683.7 L1438.9 686.9 L1439.4 690.0 L1439.9 693.1 L1440.4 696.2 L1440.9 699.2 L1441.4 702.3 L1441.9 705.3 L1442.4 708.2 L1442.9 711.2 L1443.4 714.1 L1443.9 717.0 L1444.4 719.9 L1444.9 722.7 L1445.4 725.5 L1445.9 728.3 L1446.4 731.0 L1446.9 733.7 L1447.4 736.4 L1447.9 739.0 L1448.4 741.6 L1448.9 744.2 L1449.4 746.7 L1449.9 749.3 L1450.4 751.7 L1450.9 754.2 L1451.4 756.6 L1451.9 759.0 L1452.4 761.3 L1452.9 763.6 L1453.4 765.9 L1453.9 768.1 L1454.4 770.3 L1454.9 772.4 L1455.4 774.6 L1455.9 776.6 L1456.4 778.7 L1456.9 780.7 L1457.4 782.7 L1457.9 784.6 L1458.4 786.5 L1458.9 788.4 L1459.4 790.2 L1459.9 792.0 L1460.4 793.7 L1460.9 795.5 L1461.4 797.1 L1461.9 798.8 L1462.4 800.4 L1462.9 801.9 L1463.4 803.5 L1463.9 804.9 L1464.4 806.4 L1464.9 807.8 L1465.4 809.2 L1465.9 810.5 L1466.4 811.8 L1466.9 813.0 L1467.4 814.3 L1467.9 815.4 L1468.4 816.6 L1468.9 817.7 L1469.4 818.7 L1469.9 819.8 L1470.4 820.8 L1470.9 821.7 L1471.4 822.6 L1471.9 823.5 L1472.4 824.3 L1472.9 825.1 L1473.4 825.9 L1473.9 826.6 L1474.4 827.3 L1474.9 827.9 L1475.4 828.5 L1475.9 829.1 L1476.4 829.6 L1476.9 830.1 L1477.4 830.6 L1477.9 831.0 L1478.4 831.4 L1478.9 831.7 L1479.4 832.0 L1479.9 832.3 L1480.4 832.5 L1480.9 832.7 L1481.4 832.8 L1481.9 833.0 L1482.4 833.0 L1482.9 833.1 L1483.4 833.1 L1483.9 833.1 L1484.4 833.0 L1484.9 832.9 L1485.4 832.7 L1485.9 832.6 L1486.4 832.3 L1487.0 832.1 L1487.5 831.8 L1488.0 831.5 L1488.5 831.1 L1489.0 830.7 L1489.5 830.3 L1490.0 829.8 L1490.5 829.3 L1491.0 828.7 L1491.5 828.2 L1492.0 827.5 L1492.5 826.9 L1493.0 826.2 L1493.5 825.5 L1494.0 824.7 L1494.5 823.9 L1495.0 823.1 L1495.5 822.2 L1496.0 821.3 L1496.5 820.4 L1497.0 819.4 L1497.5 818.4 L1498.0 817.3 L1498.5 816.2 L1499.0 815.1 L1499.5 814.0 L1500.0 812.8 L1500.5 811.6 L1501.0 810.3 L1501.5 809.0 L1502.0 807.7 L1502.5 806.3 L1503.0 804.9 L1503.5 803.5 L1504.0 802.0 L1504.5 800.5 L1505.0 799.0 L1505.5 797.4 L1506.0 795.8 L1506.5 794.2 L1507.0 792.5 L1507.5 790.9 L1508.0 789.1 L1508.5 787.4 L1509.0 785.6 L1509.5 783.7 L1510.0 781.9 L1510.5 780.0 L1511.0 778.1 L1511.5 776.1 L1512.0 774.1 L1512.5 772.1 L1513.0 770.0 L1513.5 768.0 L1514.0 765.8 L1514.5 763.7 L1515.0 761.5 L1515.5 759.3 L1516.0 757.1 L1516.5 754.8 L1517.0 752.5 L1517.5 750.2 L1518.0 747.9 L1518.5 745.5 L1519.0 743.1 L1519.5 740.7 L1520.0 738.2 L1520.5 735.7 L1521.0 733.2 L1521.5 730.6 L1522.0 728.1 L1522.5 725.5 L1523.0 722.9 L1523.5 720.2 L1524.0 717.6 L1524.5 714.9 L1525.0 712.1 L1525.5 709.4 L1526.0 706.6 L1526.5 703.9 L1527.0 701.0 L1527.5 698.2 L1528.0 695.4 L1528.5 692.5 L1529.0 689.6 L1529.5 686.7 L1530.0 683.7 L1530.5 680.8 L1531.0 677.8 L1531.5 674.8 L1532.0 671.8 L1532.5 668.8 L1533.0 665.8 L1533.5 662.7 L1534.0 659.6 L1534.5 656.6 L1535.0 653.5 L1535.5 650.3 L1536.0 647.2 L1536.5 644.1 L1537.0 640.9 L1537.5 637.8 L1538.0 634.6 L1538.5 631.4 L1539.0 628.2 L1539.5 625.0 L1540.0 621.8 L1540.5 618.6 L1541.0 615.4 L1541.5 612.2 L1542.0 608.9 L1542.5 605.7 L1543.0 602.5 L1543.5 599.2 L1544.0 596.0 L1544.5 592.7 L1545.0 589.5 L1545.5 586.2 L1546.0 583.0 L1546.5 579.7 L1547.0 576.5 L1547.5 573.2 L1548.0 570.0 L1548.5 566.8 L1549.0 563.5 L1549.5 560.3 L1550.0 557.1 L1550.5 553.9 L1551.0 550.7 L1551.5 547.5 L1552.0 544.3 L1552.5 541.1 L1553.0 537.9 L1553.5 534.8 L1554.0 531.6 L1554.5 528.5 L1555.0 525.3 L1555.5 522.2 L1556.0 519.1 L1556.5 516.1 L1557.0 513.0 L1557.5 509.9 L1558.0 506.9 L1558.5 503.9 L1559.0 500.9 L1559.5 497.9 L1560.0 495.0 L1560.5 492.0 L1561.0 489.1 L1561.5 486.2 L1562.0 483.3 L1562.5 480.5 L1563.0 477.7 L1563.5 474.8 L1564.0 472.1 L1564.5 469.3 L1565.0 466.6 L1565.5 463.9 L1566.0 461.2 L1566.5 458.6 L1567.0 455.9 L1567.5 453.3 L1568.0 450.8 L1568.5 448.3 L1569.0 445.7 L1569.5 443.3 L1570.0 440.8 L1570.5 438.4 L1571.0 436.0 L1571.5 433.7 L1572.0 431.4 L1572.5 429.1 L1573.0 426.9 L1573.5 424.6 L1574.0 422.5 L1574.5 420.3 L1575.0 418.2 L1575.5 416.1 L1576.0 414.1 L1576.5 412.1 L1577.0 410.1 L1577.5 408.2 L1578.0 406.3 L1578.5 404.5 L1579.0 402.6 L1579.5 400.9 L1580.0 399.1 L1580.5 397.4 L1581.0 395.8 L1581.5 394.2 L1582.0 392.6 L1582.5 391.0 L1583.0 389.5 L1583.5 388.1 L1584.0 386.7 L1584.5 385.3 L1585.0 383.9 L1585.5 382.6 L1586.0 381.4 L1586.5 380.2 L1587.0 379.0 L1587.5 377.9 L1588.0 376.8 L1588.5 375.7 L1589.0 374.7 L1589.5 373.8 L1590.0 372.9 L1590.5 372.0 L1591.0 371.2 L1591.5 370.4 L1592.0 369.6 L1592.5 368.9 L1593.0 368.3 L1593.5 367.7 L1594.0 367.1 L1594.5 366.6 L1595.0 366.1 L1595.5 365.6 L1596.0 365.3 L1596.5 364.9 L1597.0 364.6 L1597.5 364.3 L1598.0 364.1 L1598.5 363.9 L1599.0 363.8 L1599.5 363.7 L1600.0 363.7 L1600.5 363.7 L1601.0 363.7 L1601.5 363.8 L1602.0 363.9 L1602.5 364.1 L1603.0 364.3 L1603.5 364.6 L1604.0 364.9 L1604.5 365.2 L1605.0 365.6 L1605.5 366.0 L1606.0 366.5 L1606.5 367.0 L1607.0 367.6 L1607.5 368.2 L1608.0 368.8 L1608.5 369.5 L1609.0 370.3 L1609.5 371.0 L1610.0 371.8 L1610.5 372.7 L1611.0 373.6 L1611.5 374.5 L1612.0 375.5 L1612.5 376.5 L1613.0 377.6 L1613.5 378.7 L1614.0 379.8 L1614.5 381.0 L1615.0 382.2 L1615.5 383.5 L1616.0 384.8 L1616.5 386.1 L1617.0 387.5 L1617.5 388.9 L1618.0 390.4 L1618.5 391.9 L1619.0 393.4 L1619.5 395.0 L1620.0 396.6 L1620.5 398.2 L1621.0 399.9 L1621.5 401.6 L1622.0 403.3 L1622.5 405.1 L1623.0 406.9 L1623.5 408.8 L1624.0 410.7" stroke="#0000ff"/>
<path d="M253.5 1586.6 L254.0 1586.6 L254.5 1586.6 L255.0 1586.6 L255.5 1586.6 L256.0 1586.6 L256.5 1586.6 L257.0 1586.6 L257.5 1586.6 L258.0 1586.6 L258.5 1586.6 L259.0 1586.6 L259.5 1586.6 L260.0 1586.6 L260.5 1586.6 L261.0 1586.6 L261.5 1586.6 L262.0 1586.6 L262.5 1586.6 L263.0 1586.6 L263.5 1586.6 L264.0 1586.6 L264.5 1586.6 L265.0 1586.6 L265.5 1586.6 L266.0 1586.6 L266.5 1586.6 L267.0 1586.6 L267.5 1586.6 L268.0 1586.6 L268.5 1586.6 L269.0 1586.6 L269.5 1586.6 L270.0 1586.6 L270.5 1586.6 L271.0 1586.6 L271.5 1586.6 L272.0 1586.6 L272.5 1586.6 L273.0 1586.6 L273.5 1586.6 L274.0 1586.6 L274.5 1586.6 L275.0 1586.6 L275.5 1586.6 L276.0 1586.6 L276.5 1586.6 L277.0 1586.6 L277.5 1586.6 L278.0 1586.6 L278.5 1586.6 L279.0 1586.6 L279.5 1586.6 L280.0 1586.6 L280.5 1586.6 L281.0 1586.6 L281.5 1586.6 L282.0 1586.5 L282.5 1586.5 L283.0 1586.5 L283.5 1586.5 L284.0 1586.5 L284.5 1586.5 L285.0 1586.5 L285.5 1586.5 L286.0 1586.5 L286.5 1586.5 L287.0 1586.5 L287.5 1586.5 L288.0 1586.5 L288.5 1586.5 L289.0 1586.5 L289.5 1586.4 L290.0 1586.4 L290.5 1586.4 L291.0 1586.4 L291.5 1586.4 L292.0 1586.4 L292.5 1586.4 L293.0 1586.4 L293.5 1586.4 L294.0 1586.3 L294.5 1586.3 L295.0 1586.3 L295.5 1586.3 L296.0 1586.3 L296.5 1586.2 L297.0 1586.2 L297.5 1586.2 L298.0 1586.2 L298.5 1586.2 L299.0 1586.1 L299.5 1586.1 L300.0 1586.1 L300.5 1586.0 L301.0 1586.0 L301.5 1586.0 L302.0 1586.0 L302.5 1585.9 L303.0 1585.9 L303.5 1585.8 L304.0 1585.8 L304.5 1585.8 L305.0 1585.7 L305.5 1585.7 L306.0 1585.6 L306.5 1585.6 L307.0 1585.5 L307.5 1585.5 L308.0 1585.4 L308.5 1585.4 L309.0 1585.3 L309.5 1585.2 L310.0 1585.2 L310.5 1585.1 L311.0 1585.0 L311.5 1585.0 L312.0 1584.9 L312.5 1584.8 L313.0 1584.7 L313.5 1584.6 L314.0 1584.6 L314.5 1584.5 L315.0 1584.4 L315.5 1584.3 L316.0 1584.2 L316.5 1584.1 L317.0 1584.0 L317.5 1583.8 L318.0 1583.7 L318.5 1583.6 L319.0 1583.5 L319.5 1583.4 L320.0 1583.2 L320.5 1583.1 L321.0 1583.0 L321.5 1582.8 L322.0 1582.7 L322.5 1582.5 L323.0 1582.4 L323.5 1582.2 L324.0 1582.0 L324.5 1581.9 L325.0 1581.7 L325.5 1581.5 L326.0 1581.3 L326.5 1581.1 L327.0 1580.9 L327.5 1580.7 L328.0 1580.5 L328.5 1580.3 L329.0 1580.1 L329.5 1579.9 L330.0 1579.6 L330.5 1579.4 L331.0 1579.2 L331.5 1578.9 L332.0 1578.7 L332.5 1578.4 L333.0 1578.1 L333.5 1577.9 L334.0 1577.6 L334.5 1577.3 L335.0 1577.0 L335.5 1576.7 L336.0 1576.4 L336.5 1576.1 L337.0 1575.8 L337.5 1575.4 L338.0 1575.1 L338.5 1574.7 L339.0 1574.4 L339.5 1574.0 L340.0 1573.7 L340.5 1573.3 L341.0 1572.9 L341.5 1572.5 L342.0 1572.1 L342.5 1571.7 L343.0 1571.3 L343.5 1570.9 L344.0 1570.4 L344.5 1570.0 L345.0 1569.6 L345.5 1569.1 L346.0 1568.6 L346.5 1568.2 L347.0 1567.7 L347.5 1567.2 L348.0 1566.7 L348.5 1566.2 L349.0 1565.7 L349.5 1565.1 L350.0 1564.6 L350.5 1564.0 L351.0 1563.5 L351.5 1562.9 L352.0 1562.3 L352.5 1561.8 L353.0 1561.2 L353.5 1560.5 L354.0 1559.9 L354.5 1559.3 L355.0 1558.7 L355.5 1558.0 L356.0 1557.4 L356.5 1556.7 L357.0 1556.0 L357.5 1555.3 L358.0 1554.6 L358.5 1553.9 L359.0 1553.2 L359.5 1552.5 L360.0 1551.7 L360.5 1551.0 L361.0 1550.2 L361.5 1549.5 L362.0 1548.7 L362.5 1547.9 L363.0 1547.1 L363.5 1546.3 L364.0 1545.5 L364.5 1544.6 L365.0 1543.8 L365.5 1542.9 L366.0 1542.0 L366.5 1541.2 L367.0 1540.3 L367.5 1539.4 L368.0 1538.5 L368.5 1537.6 L369.0 1536.6 L369.5 1535.7 L370.0 1534.8 L370.5 1533.8 L371.0 1532.8 L371.5 1531.9 L372.0 1530.9 L372.5 1529.9 L373.0 1528.9 L373.5 1527.9 L374.0 1526.8 L374.5 1525.8 L375.0 1524.8 L375.5 1523.7 L376.0 1522.7 L376.5 1521.6 L377.0 1520.5 L377.5 1519.4 L378.0 1518.3 L378.5 1517.2 L379.0 1516.1 L379.5 1515.0 L380.0 1513.9 L380.5 1512.8 L381.0 1511.6 L381.5 1510.5 L382.0 1509.3 L382.5 1508.2 L383.0 1507.0 L383.5 1505.8 L384.0 1504.6 L384.5 1503.5 L385.0 1502.3 L385.5 1501.1 L386.0 1499.9 L386.5 1498.6 L387.0 1497.4 L387.5 1496.2 L388.0 1495.0 L388.5 1493.7 L389.0 1492.5 L389.5 1491.2 L390.0 1490.0 L390.6 1488.7 L391.1 1487.4 L391.6 1486.1 L392.1 1484.8 L392.6 1483.5 L393.1 1482.2 L393.6 1480.9 L394.1 1479.6 L394.6 1478.3 L395.1 1476.9 L395.6 1475.6 L396.1 1474.2 L396.6 1472.8 L397.1 1471.5 L397.6 1470.1 L398.1 1468.7 L398.6 1467.3 L399.1 1465.9 L399.6 1464.4 L400.1 1463.0 L400.6 1461.5 L401.1 1460.1 L401.6 1458.6 L402.1 1457.1 L402.6 1455.6 L403.1 1454.1 L403.6 1452.6 L404.1 1451.0 L404.6 1449.5 L405.1 1447.9 L405.6 1446.4 L406.1 1444.8 L406.6 1443.2 L407.1 1441.5 L407.6 1439.9 L408.1 1438.3 L408.6 1436.6 L409.1 1434.9 L409.6 1433.2 L410.1 1431.5 L410.6 1429.8 L411.1 1428.1 L411.6 1426.3 L412.1 1424.6 L412.6 1422.8 L413.1 1421.0 L413.6 1419.2 L414.1 1417.4 L414.6 1415.6 L415.1 1413.8 L415.6 1411.9 L416.1 1410.1 L416.6 1408.2 L417.1 1406.4 L417.6 1404.5 L418.1 1402.6 L418.6 1400.7 L419.1 1398.8 L419.6 1396.9 L420.1 1395.0 L420.6 1393.0 L421.1 1391.1 L421.6 1389.2 L422.1 1387.3 L422.6 1385.3 L423.1 1383.4 L423.6 1381.5 L424.1 1379.5 L424.6 1377.6 L425.1 1375.6 L425.6 1373.7 L426.1 1371.8 L426.6 1369.9 L427.1 1367.9 L427.6 1366.0 L428.1 1364.1 L428.6 1362.2 L429.1 1360.3 L429.6 1358.4 L430.1 1356.5 L430.6 1354.7 L431.1 1352.8 L431.6 1351.0 L432.1 1349.1 L432.6 1347.3 L433.1 1345.5 L433.6 1343.7 L434.1 1341.9 L434.6 1340.1 L435.1 1338.4 L435.6 1336.6 L436.1 1334.9 L436.6 1333.2 L437.1 1331.5 L437.6 1329.9 L438.1 1328.2 L438.6 1326.6 L439.1 1324.9 L439.6 1323.3 L440.1 1321.8 L440.6 1320.2 L441.1 1318.6 L441.6 1317.1 L442.1 1315.6 L442.6 1314.1 L443.1 1312.6 L443.6 1311.2 L444.1 1309.7 L444.6 1308.3 L445.1 1306.9 L445.6 1305.5 L446.1 1304.1 L446.6 1302.7 L447.1 1301.3 L447.6 1300.0 L448.1 1298.6 L448.6 1297.3 L449.1 1296.0 L449.6 1294.7 L450.1 1293.3 L450.6 1292.0 L451.1 1290.7 L451.6 1289.4 L452.1 1288.1 L452.6 1286.8 L453.1 1285.4 L453.6 1284.1 L454.1 1282.8 L454.6 1281.5 L455.1 1280.1 L455.6 1278.7 L456.1 1277.4 L456.6 1276.0 L457.1 1274.6 L457.6 1273.2 L458.1 1271.8 L458.6 1270.3 L459.1 1268.8 L459.6 1267.3 L460.1 1265.8 L460.6 1264.3 L461.1 1262.7 L461.6 1261.2 L462.1 1259.5 L462.6 1257.9 L463.1 1256.2 L463.6 1254.6 L464.1 1252.8 L464.6 1251.1 L465.1 1249.3 L465.6 1247.5 L466.1 1245.7 L466.6 1243.8 L467.1 1241.9 L467.6 1239.9 L468.1 1238.0 L468.6 1236.0 L469.1 1233.9 L469.6 1231.9 L470.1 1229.8 L470.6 1227.7 L471.1 1225.5 L471.6 1223.3 L472.1 1221.1 L472.6 1218.8 L473.1 1216.6 L473.6 1214.3 L474.1 1211.9 L474.6 1209.6 L475.1 1207.2 L475.6 1204.8 L476.1 1202.4 L476.6 1199.9 L477.1 1197.4 L477.6 1195.0 L478.1 1192.4 L478.6 1189.9 L479.1 1187.4 L479.6 1184.9 L480.1 1182.3 L480.6 1179.7 L481.1 1177.2 L481.6 1174.6 L482.1 1172.0 L482.6 1169.5 L483.1 1166.9 L483.6 1164.3 L484.1 1161.8 L484.6 1159.2 L485.1 1156.7 L485.6 1154.2 L486.1 1151.7 L486.6 1149.2 L487.1 1146.7 L487.6 1144.3 L488.1 1141.9 L488.6 1139.5 L489.1 1137.1 L489.6 1134.8 L490.1 1132.5 L490.6 1130.2 L491.1 1127.9 L491.6 1125.7 L492.1 1123.6 L492.6 1121.5 L493.1 1119.4 L493.6 1117.3 L494.1 1115.3 L494.6 1113.4 L495.1 1111.5 L495.6 1109.6 L496.1 1107.8 L496.6 1106.1 L497.1 1104.3 L497.6 1102.7 L498.1 1101.1 L498.6 1099.5 L499.1 1098.0 L499.6 1096.6 L500.1 1095.2 L500.6 1093.9 L501.1 1092.6 L501.6 1091.4 L502.1 1090.2 L502.6 1089.1 L503.1 1088.0 L503.6 1087.0 L504.1 1086.1 L504.6 1085.2 L505.1 1084.4 L505.6 1083.6 L506.1 1082.8 L506.6 1082.2 L507.1 1081.5 L507.6 1081.0 L508.1 1080.4 L508.6 1079.9 L509.1 1079.5 L509.6 1079.1 L510.1 1078.7 L510.6 1078.4 L511.1 1078.1 L511.6 1077.8 L512.1 1077.5 L512.6 1077.3 L513.1 1077.1 L513.6 1076.9 L514.1 1076.8 L514.6 1076.6 L515.1 1076.5 L515.6 1076.4 L516.1 1076.2 L516.6 1076.1 L517.1 1076.0 L517.6 1075.8 L518.1 1075.7 L518.6 1075.5 L519.1 1075.4 L519.6 1075.2 L520.1 1075.0 L520.6 1074.7 L521.1 1074.5 L521.6 1074.2 L522.1 1073.9 L522.6 1073.6 L523.1 1073.2 L523.6 1072.8 L524.1 1072.4 L524.6 1071.9 L525.1 1071.4 L525.6 1070.8 L526.1 1070.2 L526.6 1069.6 L527.1 1068.9 L527.6 1068.2 L528.1 1067.4 L528.6 1066.6 L529.1 1065.7 L529.6 1064.8 L530.1 1063.9 L530.6 1062.9 L531.1 1061.8 L531.6 1060.7 L532.1 1059.6 L532.6 1058.4 L533.1 1057.1 L533.6 1055.8 L534.1 1054.5 L534.6 1053.1 L535.1 1051.6 L535.6 1050.1 L536.1 1048.5 L536.6 1046.9 L537.1 1045.2 L537.6 1043.5 L538.1 1041.8 L538.6 1039.9 L539.1 1038.1 L539.6 1036.2 L540.1 1034.2 L540.6 1032.2 L541.1 1030.1 L541.6 1028.0 L542.1 1025.8 L542.6 1023.6 L543.1 1021.3 L543.6 1019.0 L544.1 1016.6 L544.6 1014.2 L545.1 1011.8 L545.6 1009.3 L546.1 1006.7 L546.6 1004.2 L547.1 1001.6 L547.6 998.9 L548.1 996.2 L548.6 993.5 L549.1 990.8 L549.6 988.0 L550.1 985.3 L550.6 982.5 L551.1 979.6 L551.6 976.8 L552.1 974.0 L552.6 971.1 L553.1 968.3 L553.6 965.4 L554.1 962.5 L554.6 959.7 L555.1 956.9 L555.6 954.0 L556.1 951.2 L556.6 948.5 L557.1 945.7 L557.6 943.0 L558.1 940.3 L558.6 937.6 L559.1 935.0 L559.6 932.4 L560.1 929.9 L560.6 927.4 L561.1 924.9 L561.6 922.6 L562.1 920.2 L562.6 918.0 L563.1 915.8 L563.6 913.6 L564.1 911.5 L564.6 909.5 L565.1 907.6 L565.6 905.8 L566.1 904.0 L566.6 902.3 L567.1 900.6 L567.6 899.1 L568.1 897.6 L568.6 896.3 L569.1 895.0 L569.6 893.7 L570.1 892.6 L570.6 891.6 L571.1 890.6 L571.6 889.8 L572.1 889.0 L572.6 888.3 L573.1 887.7 L573.6 887.2 L574.1 886.7 L574.6 886.4 L575.1 886.2 L575.6 886.0 L576.1 885.9 L576.6 885.9 L577.1 886.0 L577.6 886.1 L578.1 886.4 L578.6 886.7 L579.1 887.0 L579.6 887.5 L580.1 888.0 L580.6 888.6 L581.1 889.2 L581.6 889.9 L582.1 890.7 L582.6 891.5 L583.1 892.3 L583.6 893.2 L584.1 894.2 L584.6 895.1 L585.1 896.1 L585.6 897.1 L586.1 898.2 L586.6 899.2 L587.1 900.3 L587.6 901.4 L588.1 902.5 L588.6 903.6 L589.1 904.6 L589.6 905.7 L590.1 906.8 L590.6 907.8 L591.1 908.8 L591.6 909.9 L592.1 910.8 L592.6 911.8 L593.1 912.7 L593.6 913.6 L594.1 914.4 L594.6 915.3 L595.1 916.0 L595.6 916.8 L596.1 917.5 L596.6 918.1 L597.1 918.7 L597.6 919.3 L598.1 919.8 L598.6 920.2 L599.1 920.7 L599.6 921.0 L600.1 921.3 L600.6 921.6 L601.1 921.8 L601.6 922.0 L602.1 922.1 L602.6 922.1 L603.1 922.1 L603.6 922.1 L604.1 922.0 L604.6 921.8 L605.1 921.6 L605.6 921.4 L606.1 921.1 L606.6 920.7 L607.1 920.3 L607.6 919.8 L608.1 919.3 L608.6 918.8 L609.1 918.2 L609.6 917.5 L610.1 916.8 L610.6 916.0 L611.1 915.2 L611.6 914.3 L612.1 913.4 L612.6 912.4 L613.1 911.4 L613.6 910.3 L614.1 909.2 L614.6 908.0 L615.1 906.8 L615.6 905.5 L616.1 904.2 L616.6 902.8 L617.1 901.4 L617.6 899.9 L618.1 898.4 L618.6 896.8 L619.1 895.2 L619.6 893.5 L620.1 891.7 L620.6 890.0 L621.1 888.1 L621.6 886.2 L622.1 884.3 L622.6 882.3 L623.1 880.3 L623.6 878.2 L624.1 876.1 L624.6 873.9 L625.1 871.7 L625.6 869.4 L626.1 867.1 L626.6 864.8 L627.1 862.4 L627.6 859.9 L628.1 857.5 L628.6 855.0 L629.1 852.4 L629.6 849.9 L630.1 847.2 L630.6 844.6 L631.1 842.0 L631.6 839.3 L632.1 836.6 L632.6 833.9 L633.1 831.1 L633.6 828.4 L634.1 825.7 L634.6 822.9 L635.1 820.2 L635.6 817.4 L636.1 814.7 L636.6 812.0 L637.1 809.2 L637.6 806.6 L638.1 803.9 L638.6 801.2 L639.1 798.6 L639.6 796.1 L640.1 793.5 L640.6 791.1 L641.1 788.6 L641.6 786.2 L642.1 783.9 L642.6 781.6 L643.1 779.4 L643.6 777.3 L644.1 775.2 L644.6 773.2 L645.1 771.3 L645.6 769.4 L646.1 767.7 L646.6 766.0 L647.1 764.4 L647.6 762.9 L648.1 761.5 L648.6 760.2 L649.1 759.0 L649.6 757.8 L650.1 756.8 L650.6 755.9 L651.1 755.0 L651.6 754.3 L652.1 753.7 L652.6 753.2 L653.1 752.7 L653.6 752.4 L654.1 752.2 L654.6 752.1 L655.1 752.0 L655.6 752.1 L656.1 752.3 L656.6 752.6 L657.1 752.9 L657.6 753.4 L658.1 753.9 L658.6 754.6 L659.1 755.3 L659.6 756.1 L660.1 757.0 L660.6 757.9 L661.1 759.0 L661.6 760.1 L662.1 761.3 L662.6 762.5 L663.1 763.8 L663.6 765.1 L664.1 766.5 L664.6 768.0 L665.2 769.5 L665.7 771.0 L666.2 772.6 L666.7 774.1 L667.2 775.8 L667.7 777.4 L668.2 779.0 L668.7 780.7 L669.2 782.3 L669.7 784.0 L670.2 785.7 L670.7 787.3 L671.2 789.0 L671.7 790.6 L672.2 792.2 L672.7 793.8 L673.2 795.4 L673.7 797.0 L674.2 798.5 L674.7 800.0 L675.2 801.5 L675.7 802.9 L676.2 804.3 L676.7 805.7 L677.2 807.0 L677.7 808.3 L678.2 809.5 L678.7 810.7 L679.2 811.8 L679.7 813.0 L680.2 814.0 L680.7 815.0 L681.2 816.0 L681.7 816.9 L682.2 817.8 L682.7 818.7 L683.2 819.5 L683.7 820.2 L684.2 820.9 L684.7 821.6 L685.2 822.2 L685.7 822.7 L686.2 823.3 L686.7 823.7 L687.2 824.2 L687.7 824.5 L688.2 824.9 L688.7 825.2 L689.2 825.4 L689.7 825.6 L690.2 825.8 L690.7 825.9 L691.2 826.0 L691.7 826.1 L692.2 826.1 L692.7 826.0 L693.2 825.9 L693.7 825.8 L694.2 825.7 L694.7 825.5 L695.2 825.2 L695.7 825.0 L696.2 824.6 L696.7 824.3 L697.2 823.9 L697.7 823.5 L698.2 823.0 L698.7 822.5 L699.2 821.9 L699.7 821.3 L700.2 820.7 L700.7 820.1 L701.2 819.4 L701.7 818.6 L702.2 817.8 L702.7 817.0 L703.2 816.2 L703.7 815.3 L704.2 814.4 L704.7 813.4 L705.2 812.4 L705.7 811.4 L706.2 810.3 L706.7 809.2 L707.2 808.1 L707.7 806.9 L708.2 805.6 L708.7 804.4 L709.2 803.1 L709.7 801.7 L710.2 800.4 L710.7 799.0 L711.2 797.5 L711.7 796.0 L712.2 794.5 L712.7 792.9 L713.2 791.3 L713.7 789.7 L714.2 788.0 L714.7 786.3 L715.2 784.5 L715.7 782.8 L716.2 780.9 L716.7 779.1 L717.2 777.2 L717.7 775.3 L718.2 773.3 L718.7 771.3 L719.2 769.3 L719.7 767.3 L720.2 765.2 L720.7 763.1 L721.2 761.0 L721.7 758.8 L722.2 756.6 L722.7 754.4 L723.2 752.2 L723.7 750.0 L724.2 747.7 L724.7 745.4 L725.2 743.2 L725.7 740.9 L726.2 738.6 L726.7 736.3 L727.2 734.0 L727.7 731.7 L728.2 729.4 L728.7 727.1 L729.2 724.9 L729.7 722.6 L730.2 720.4 L730.7 718.2 L731.2 716.0 L731.7 713.8 L732.2 711.7 L732.7 709.6 L733.2 707.6 L733.7 705.6 L734.2 703.6 L734.7 701.7 L735.2 699.8 L735.7 698.0 L736.2 696.3 L736.7 694.6 L737.2 693.0 L737.7 691.4 L738.2 690.0 L738.7 688.5 L739.2 687.2 L739.7 686.0 L740.2 684.8 L740.7 683.7 L741.2 682.7 L741.7 681.8 L742.2 681.0 L742.7 680.2 L743.2 679.6 L743.7 679.0 L744.2 678.6 L744.7 678.2 L745.2 677.9 L745.7 677.8 L746.2 677.7 L746.7 677.7 L747.2 677.7 L747.7 677.9 L748.2 678.2 L748.7 678.5 L749.2 679.0 L749.7 679.5 L750.2 680.1 L750.7 680.8 L751.2 681.5 L751.7 682.4 L752.2 683.3 L752.7 684.3 L753.2 685.3 L753.7 686.4 L754.2 687.6 L754.7 688.8 L755.2 690.0 L755.7 691.4 L756.2 692.7 L756.7 694.1 L757.2 695.6 L757.7 697.0 L758.2 698.5 L758.7 700.1 L759.2 701.6 L759.7 703.2 L760.2 704.8 L760.7 706.4 L761.2 708.0 L761.7 709.6 L762.2 711.2 L762.7 712.8 L763.2 714.4 L763.7 716.0 L764.2 717.6 L764.7 719.2 L765.2 720.8 L765.7 722.3 L766.2 723.9 L766.7 725.4 L767.2 726.9 L767.7 728.3 L768.2 729.8 L768.7 731.2 L769.2 732.6 L769.7 733.9 L770.2 735.3 L770.7 736.6 L771.2 737.8 L771.7 739.1 L772.2 740.3 L772.7 741.4 L773.2 742.6 L773.7 743.7 L774.2 744.7 L774.7 745.8 L775.2 746.8 L775.7 747.7 L776.2 748.6 L776.7 749.5 L777.2 750.4 L777.7 751.2 L778.2 752.0 L778.7 752.8 L779.2 753.5 L779.7 754.2 L780.2 754.8 L780.7 755.4 L781.2 756.0 L781.7 756.6 L782.2 757.1 L782.7 757.6 L783.2 758.0 L783.7 758.5 L784.2 758.9 L784.7 759.2 L785.2 759.6 L785.7 759.9 L786.2 760.2 L786.7 760.4 L787.2 760.6 L787.7 760.8 L788.2 761.0 L788.7 761.1 L789.2 761.2 L789.7 761.3 L790.2 761.4 L790.7 761.4 L791.2 761.4 L791.7 761.4 L792.2 761.3 L792.7 761.3 L793.2 761.2 L793.7 761.1 L794.2 760.9 L794.7 760.7 L795.2 760.5 L795.7 760.3 L796.2 760.1 L796.7 759.8 L797.2 759.5 L797.7 759.2 L798.2 758.9 L798.7 758.5 L799.2 758.1 L799.7 757.7 L800.2 757.3 L800.7 756.8 L801.2 756.4 L801.7 755.9 L802.2 755.3 L802.7 754.8 L803.2 754.2 L803.7 753.6 L804.2 753.0 L804.7 752.4 L805.2 751.7 L805.7 751.1 L806.2 750.3 L806.7 749.6 L807.2 748.9 L807.7 748.1 L808.2 747.3 L808.7 746.5 L809.2 745.7 L809.7 744.8 L810.2 743.9 L810.7 743.0 L811.2 742.1 L811.7 741.1 L812.2 740.2 L812.7 739.2 L813.2 738.1 L813.7 737.1 L814.2 736.0 L814.7 734.9 L815.2 733.8 L815.7 732.7 L816.2 731.5 L816.7 730.4 L817.2 729.2 L817.7 727.9 L818.2 726.7 L818.7 725.4 L819.2 724.1 L819.7 722.8 L820.2 721.5 L820.7 720.2 L821.2 718.8 L821.7 717.4 L822.2 716.0 L822.7 714.6 L823.2 713.1 L823.7 711.6 L824.2 710.2 L824.7 708.7 L825.2 707.1 L825.7 705.6 L826.2 704.1 L826.7 702.5 L827.2 700.9 L827.7 699.4 L828.2 697.8 L828.7 696.2 L829.2 694.6 L829.7 693.0 L830.2 691.4 L830.7 689.7 L831.2 688.1 L831.7 686.5 L832.2 684.9 L832.7 683.3 L833.2 681.7 L833.7 680.1 L834.2 678.5 L834.7 676.9 L835.2 675.3 L835.7 673.8 L836.2 672.2 L836.7 670.7 L837.2 669.2 L837.7 667.8 L838.2 666.3 L838.7 664.9 L839.2 663.6 L839.7 662.2 L840.2 660.9 L840.7 659.6 L841.2 658.4 L841.7 657.2 L842.2 656.1 L842.7 655.0 L843.2 653.9 L843.7 652.9 L844.2 652.0 L844.7 651.1 L845.2 650.3 L845.7 649.5 L846.2 648.8 L846.7 648.1 L847.2 647.5 L847.7 647.0 L848.2 646.5 L848.7 646.1 L849.2 645.8 L849.7 645.5 L850.2 645.3 L850.7 645.1 L851.2 645.0 L851.7 645.0 L852.2 645.1 L852.7 645.2 L853.2 645.3 L853.7 645.6 L854.2 645.8 L854.7 646.2 L855.2 646.6 L855.7 647.0 L856.2 647.6 L856.7 648.1 L857.2 648.7 L857.7 649.4 L858.2 650.1 L858.7 650.9 L859.2 651.7 L859.7 652.5 L860.2 653.4 L860.7 654.3 L861.2 655.3 L861.7 656.2 L862.2 657.2 L862.7 658.3 L863.2 659.3 L863.7 660.4 L864.2 661.5 L864.7 662.6 L865.2 663.7 L865.7 664.9 L866.2 666.0 L866.7 667.2 L867.2 668.3 L867.7 669.5 L868.2 670.7 L868.7 671.8 L869.2 673.0 L869.7 674.1 L870.2 675.3 L870.7 676.4 L871.2 677.6 L871.7 678.7 L872.2 679.8 L872.7 680.9 L873.2 682.0 L873.7 683.1 L874.2 684.2 L874.7 685.2 L875.2 686.2 L875.7 687.2 L876.2 688.2 L876.7 689.2 L877.2 690.2 L877.7 691.1 L878.2 692.0 L878.7 692.9 L879.2 693.8 L879.7 694.6 L880.2 695.5 L880.7 696.3 L881.2 697.1 L881.7 697.9 L882.2 698.6 L882.7 699.3 L883.2 700.0 L883.7 700.7 L884.2 701.4 L884.7 702.0 L885.2 702.6 L885.7 703.2 L886.2 703.8 L886.7 704.3 L887.2 704.9 L887.7 705.4 L888.2 705.9 L888.7 706.4 L889.2 706.8 L889.7 707.2 L890.2 707.7 L890.7 708.1 L891.2 708.4 L891.7 708.8 L892.2 709.1 L892.7 709.4 L893.2 709.7 L893.7 710.0 L894.2 710.3 L894.7 710.5 L895.2 710.8 L895.7 711.0 L896.2 711.2 L896.7 711.4 L897.2 711.5 L897.7 711.7 L898.2 711.8 L898.7 711.9 L899.2 712.0 L899.7 712.1 L900.2 712.2 L900.7 712.3 L901.2 712.3 L901.7 712.3 L902.2 712.3 L902.7 712.4 L903.2 712.3 L903.7 712.3 L904.2 712.3 L904.7 712.2 L905.2 712.2 L905.7 712.1 L906.2 712.0 L906.7 711.9 L907.2 711.8 L907.7 711.6 L908.2 711.5 L908.7 711.3 L909.2 711.2 L909.7 711.0 L910.2 710.8 L910.7 710.6 L911.2 710.4 L911.7 710.2 L912.2 709.9 L912.7 709.7 L913.2 709.4 L913.7 709.2 L914.2 708.9 L914.7 708.6 L915.2 708.3 L915.7 708.0 L916.2 707.7 L916.7 707.3 L917.2 707.0 L917.7 706.6 L918.2 706.3 L918.7 705.9 L919.2 705.5 L919.7 705.1 L920.2 704.7 L920.7 704.3 L921.2 703.9 L921.7 703.4 L922.2 703.0 L922.7 702.5 L923.2 702.1 L923.7 701.6 L924.2 701.1 L924.7 700.6 L925.2 700.1 L925.7 699.6 L926.2 699.0 L926.7 698.5 L927.2 697.9 L927.7 697.4 L928.2 696.8 L928.7 696.2 L929.2 695.7 L929.7 695.1 L930.2 694.4 L930.7 693.8 L931.2 693.2 L931.7 692.6 L932.2 691.9 L932.7 691.3 L933.2 690.6 L933.7 689.9 L934.2 689.2 L934.7 688.5 L935.2 687.8 L935.7 687.1 L936.2 686.4 L936.7 685.7 L937.2 684.9 L937.7 684.2 L938.2 683.4 L938.8 682.7 L939.3 681.9 L939.8 681.1 L940.3 680.3 L940.8 679.5 L941.3 678.7 L941.8 677.9 L942.3 677.1 L942.8 676.3 L943.3 675.5 L943.8 674.6 L944.3 673.8 L944.8 672.9 L945.3 672.1 L945.8 671.2 L946.3 670.4 L946.8 669.5 L947.3 668.7 L947.8 667.8 L948.3 666.9 L948.8 666.1 L949.3 665.2 L949.8 664.3 L950.3 663.5 L950.8 662.6 L951.3 661.7 L951.8 660.9 L952.3 660.0 L952.8 659.2 L953.3 658.3 L953.8 657.5 L954.3 656.6 L954.8 655.8 L955.3 655.0 L955.8 654.2 L956.3 653.4 L956.8 652.6 L957.3 651.8 L957.8 651.1 L958.3 650.3 L958.8 649.6 L959.3 648.9 L959.8 648.1 L960.3 647.5 L960.8 646.8 L961.3 646.1 L961.8 645.5 L962.3 644.9 L962.8 644.3 L963.3 643.8 L963.8 643.2 L964.3 642.7 L964.8 642.2 L965.3 641.8 L965.8 641.3 L966.3 640.9 L966.8 640.5 L967.3 640.2 L967.8 639.9 L968.3 639.6 L968.8 639.3 L969.3 639.1 L969.8 638.9 L970.3 638.7 L970.8 638.5 L971.3 638.4 L971.8 638.3 L972.3 638.3 L972.8 638.3 L973.3 638.3 L973.8 638.3 L974.3 638.4 L974.8 638.4 L975.3 638.6 L975.8 638.7 L976.3 638.9 L976.8 639.1 L977.3 639.3 L977.8 639.6 L978.3 639.8 L978.8 640.1 L979.3 640.4 L979.8 640.8 L980.3 641.1 L980.8 641.5 L981.3 641.9 L981.8 642.3 L982.3 642.7 L982.8 643.2 L983.3 643.6 L983.8 644.1 L984.3 644.6 L984.8 645.1 L985.3 645.6 L985.8 646.1 L986.3 646.6 L986.8 647.1 L987.3 647.7 L987.8 648.2 L988.3 648.7 L988.8 649.3 L989.3 649.8 L989.8 650.4 L990.3 650.9 L990.8 651.5 L991.3 652.0 L991.8 652.6 L992.3 653.1 L992.8 653.6 L993.3 654.2 L993.8 654.7 L994.3 655.2 L994.8 655.7 L995.3 656.2 L995.8 656.7 L996.3 657.2 L996.8 657.7 L997.3 658.2 L997.8 658.7 L998.3 659.2 L998.8 659.6 L999.3 660.1 L999.8 660.5 L1000.3 661.0 L1000.8 661.4 L1001.3 661.8 L1001.8 662.2 L1002.3 662.6 L1002.8 663.0 L1003.3 663.4 L1003.8 663.7 L1004.3 664.1 L1004.8 664.4 L1005.3 664.8 L1005.8 665.1 L1006.3 665.4 L1006.8 665.7 L1007.3 666.0 L1007.8 666.3 L1008.3 666.6 L1008.8 666.8 L1009.3 667.1 L1009.8 667.3 L1010.3 667.6 L1010.8 667.8 L1011.3 668.0 L1011.8 668.2 L1012.3 668.4 L1012.8 668.6 L1013.3 668.8 L1013.8 669.0 L1014.3 669.1 L1014.8 669.3 L1015.3 669.4 L1015.8 669.6 L1016.3 669.7 L1016.8 669.8 L1017.3 669.9 L1017.8 670.0 L1018.3 670.1 L1018.8 670.2 L1019.3 670.3 L1019.8 670.4 L1020.3 670.4 L1020.8 670.5 L1021.3 670.5 L1021.8 670.6 L1022.3 670.6 L1022.8 670.7 L1023.3 670.7 L1023.8 670.7 L1024.3 670.7 L1024.8 670.7 L1025.3 670.7 L1025.8 670.7 L1026.3 670.7 L1026.8 670.7 L1027.3 670.7 L1027.8 670.6 L1028.3 670.6 L1028.8 670.6 L1029.3 670.5 L1029.8 670.5 L1030.3 670.4 L1030.8 670.4 L1031.3 670.3 L1031.8 670.2 L1032.3 670.2 L1032.8 670.1 L1033.3 670.0 L1033.8 669.9 L1034.3 669.8 L1034.8 669.7 L1035.3 669.6 L1035.8 669.5 L1036.3 669.4 L1036.8 669.3 L1037.3 669.2 L1037.8 669.0 L1038.3 668.9 L1038.8 668.8 L1039.3 668.7 L1039.8 668.5 L1040.3 668.4 L1040.8 668.3 L1041.3 668.1 L1041.8 668.0 L1042.3 667.8 L1042.8 667.7 L1043.3 667.5 L1043.8 667.3 L1044.3 667.2 L1044.8 667.0 L1045.3 666.8 L1045.8 666.7 L1046.3 666.5 L1046.8 666.3 L1047.3 666.1 L1047.8 666.0 L1048.3 665.8 L1048.8 665.6 L1049.3 665.4 L1049.8 665.2 L1050.3 665.0 L1050.8 664.8 L1051.3 664.6 L1051.8 664.4 L1052.3 664.2 L1052.8 664.0 L1053.3 663.8 L1053.8 663.6 L1054.3 663.4 L1054.8 663.2 L1055.3 663.0 L1055.8 662.8 L1056.3 662.6 L1056.8 662.4 L1057.3 662.2 L1057.8 661.9 L1058.3 661.7 L1058.8 661.5 L1059.3 661.3 L1059.8 661.1 L1060.3 660.8 L1060.8 660.6 L1061.3 660.4 L1061.8 660.2 L1062.3 659.9 L1062.8 659.7 L1063.3 659.5 L1063.8 659.3 L1064.3 659.0 L1064.8 658.8 L1065.3 658.6 L1065.8 658.3 L1066.3 658.1 L1066.8 657.9 L1067.3 657.6 L1067.8 657.4 L1068.3 657.2 L1068.8 657.0 L1069.3 656.7 L1069.8 656.5 L1070.3 656.3 L1070.8 656.0 L1071.3 655.8 L1071.8 655.6 L1072.3 655.3 L1072.8 655.1 L1073.3 654.9 L1073.8 654.7 L1074.3 654.4 L1074.8 654.2 L1075.3 654.0 L1075.8 653.8 L1076.3 653.6 L1076.8 653.3 L1077.3 653.1 L1077.8 652.9 L1078.3 652.7 L1078.8 652.5 L1079.3 652.3 L1079.8 652.0 L1080.3 651.8 L1080.8 651.6 L1081.3 651.4 L1081.8 651.2 L1082.3 651.0 L1082.8 650.8 L1083.3 650.6 L1083.8 650.4 L1084.3 650.3 L1084.8 650.1 L1085.3 649.9 L1085.8 649.7 L1086.3 649.5 L1086.8 649.4 L1087.3 649.2 L1087.8 649.0 L1088.3 648.9 L1088.8 648.7 L1089.3 648.5 L1089.8 648.4 L1090.3 648.2 L1090.8 648.1 L1091.3 648.0 L1091.8 647.8 L1092.3 647.7 L1092.8 647.6 L1093.3 647.4 L1093.8 647.3 L1094.3 647.2 L1094.8 647.1 L1095.3 647.0 L1095.8 646.9 L1096.3 646.8 L1096.8 646.7 L1097.3 646.6 L1097.8 646.6 L1098.3 646.5 L1098.8 646.4 L1099.3 646.3 L1099.8 646.3 L1100.3 646.2 L1100.8 646.2 L1101.3 646.1 L1101.8 646.1 L1102.3 646.0 L1102.8 646.0 L1103.3 646.0 L1103.8 646.0 L1104.3 645.9 L1104.8 645.9 L1105.3 645.9 L1105.8 645.9 L1106.3 645.9 L1106.8 645.9 L1107.3 645.9 L1107.8 645.9 L1108.3 645.9 L1108.8 646.0 L1109.3 646.0 L1109.8 646.0 L1110.3 646.0 L1110.8 646.1 L1111.3 646.1 L1111.8 646.1 L1112.3 646.2 L1112.8 646.2 L1113.3 646.2 L1113.8 646.3 L1114.3 646.3 L1114.8 646.3 L1115.3 646.4 L1115.8 646.4 L1116.3 646.5 L1116.8 646.5 L1117.3 646.6 L1117.8 646.6 L1118.3 646.6 L1118.8 646.7 L1119.3 646.7 L1119.8 646.8 L1120.3 646.8 L1120.8 646.8 L1121.3 646.9 L1121.8 646.9 L1122.3 646.9 L1122.8 646.9 L1123.3 647.0 L1123.8 647.0 L1124.3 647.0 L1124.8 647.0 L1125.3 647.0 L1125.8 647.0 L1126.3 647.1 L1126.8 647.1 L1127.3 647.1 L1127.8 647.0 L1128.3 647.0 L1128.8 647.0 L1129.3 647.0 L1129.8 647.0 L1130.3 647.0 L1130.8 646.9 L1131.3 646.9 L1131.8 646.9 L1132.3 646.8 L1132.8 646.8 L1133.3 646.7 L1133.8 646.7 L1134.3 646.6 L1134.8 646.6 L1135.3 646.5 L1135.8 646.4 L1136.3 646.3 L1136.8 646.3 L1137.3 646.2 L1137.8 646.1 L1138.3 646.0 L1138.8 645.9 L1139.3 645.8 L1139.8 645.7 L1140.3 645.6 L1140.8 645.5 L1141.3 645.4 L1141.8 645.3 L1142.3 645.2 L1142.8 645.0 L1143.3 644.9 L1143.8 644.8 L1144.3 644.6 L1144.8 644.5 L1145.3 644.4 L1145.8 644.2 L1146.3 644.1 L1146.8 643.9 L1147.3 643.8 L1147.8 643.6 L1148.3 643.5 L1148.8 643.3 L1149.3 643.2 L1149.8 643.0 L1150.3 642.8 L1150.8 642.7 L1151.3 642.5 L1151.8 642.3 L1152.3 642.2 L1152.8 642.0 L1153.3 641.8 L1153.8 641.6 L1154.3 641.5 L1154.8 641.3 L1155.3 641.1 L1155.8 640.9 L1156.3 640.7 L1156.8 640.6 L1157.3 640.4 L1157.8 640.2 L1158.3 640.0 L1158.8 639.8 L1159.3 639.6 L1159.8 639.4 L1160.3 639.2 L1160.8 639.0 L1161.3 638.8 L1161.8 638.7 L1162.3 638.5 L1162.8 638.3 L1163.3 638.1 L1163.8 637.9 L1164.3 637.7 L1164.8 637.5 L1165.3 637.3 L1165.8 637.1 L1166.3 636.9 L1166.8 636.7 L1167.3 636.5 L1167.8 636.3 L1168.3 636.1 L1168.8 635.9 L1169.3 635.7 L1169.8 635.5 L1170.3 635.3 L1170.8 635.1 L1171.3 635.0 L1171.8 634.8 L1172.3 634.6 L1172.8 634.4 L1173.3 634.2 L1173.8 634.0 L1174.3 633.8 L1174.8 633.6 L1175.3 633.4 L1175.8 633.2 L1176.3 633.1 L1176.8 632.9 L1177.3 632.7 L1177.8 632.5 L1178.3 632.3 L1178.8 632.1 L1179.3 632.0 L1179.8 631.8 L1180.3 631.6 L1180.8 631.4 L1181.3 631.3 L1181.8 631.1 L1182.3 630.9 L1182.8 630.7 L1183.3 630.6 L1183.8 630.4 L1184.3 630.2 L1184.8 630.1 L1185.3 629.9 L1185.8 629.7 L1186.3 629.6 L1186.8 629.4 L1187.3 629.3 L1187.8 629.1 L1188.3 629.0 L1188.8 628.8 L1189.3 628.7 L1189.8 628.5 L1190.3 628.4 L1190.8 628.2 L1191.3 628.1 L1191.8 627.9 L1192.3 627.8 L1192.8 627.7 L1193.3 627.5 L1193.8 627.4 L1194.3 627.3 L1194.8 627.1 L1195.3 627.0 L1195.8 626.9 L1196.3 626.8 L1196.8 626.7 L1197.3 626.5 L1197.8 626.4 L1198.3 626.3 L1198.8 626.2 L1199.3 626.1 L1199.8 626.0 L1200.3 625.9 L1200.8 625.8 L1201.3 625.7 L1201.8 625.6 L1202.3 625.6 L1202.8 625.5 L1203.3 625.4 L1203.8 625.3 L1204.3 625.2 L1204.8 625.2 L1205.3 625.1 L1205.8 625.0 L1206.3 625.0 L1206.8 624.9 L1207.3 624.9 L1207.8 624.8 L1208.3 624.8 L1208.8 624.7 L1209.3 624.7 L1209.8 624.7 L1210.3 624.6 L1210.8 624.6 L1211.3 624.6 L1211.8 624.6 L1212.3 624.5 L1212.8 624.5 L1213.4 624.5 L1213.9 624.5 L1214.4 624.5 L1214.9 624.5 L1215.4 624.5 L1215.9 624.5 L1216.4 624.6 L1216.9 624.6 L1217.4 624.6 L1217.9 624.6 L1218.4 624.7 L1218.9 624.7 L1219.4 624.8 L1219.9 624.8 L1220.4 624.9 L1220.9 624.9 L1221.4 625.0 L1221.9 625.1 L1222.4 625.2 L1222.9 625.2 L1223.4 625.3 L1223.9 625.4 L1224.4 625.5 L1224.9 625.6 L1225.4 625.7 L1225.9 625.9 L1226.4 626.0 L1226.9 626.1 L1227.4 626.2 L1227.9 626.4 L1228.4 626.5 L1228.9 626.7 L1229.4 626.8 L1229.9 627.0 L1230.4 627.2 L1230.9 627.3 L1231.4 627.5 L1231.9 627.7 L1232.4 627.9 L1232.9 628.1 L1233.4 628.3 L1233.9 628.5 L1234.4 628.7 L1234.9 628.9 L1235.4 629.2 L1235.9 629.4 L1236.4 629.7 L1236.9 629.9 L1237.4 630.2 L1237.9 630.4 L1238.4 630.7 L1238.9 631.0 L1239.4 631.3 L1239.9 631.5 L1240.4 631.8 L1240.9 632.1 L1241.4 632.4 L1241.9 632.8 L1242.4 633.1 L1242.9 633.4 L1243.4 633.7 L1243.9 634.1 L1244.4 634.4 L1244.9 634.8 L1245.4 635.1 L1245.9 635.5 L1246.4 635.9 L1246.9 636.2 L1247.4 636.6 L1247.9 637.0 L1248.4 637.4 L1248.9 637.8 L1249.4 638.2 L1249.9 638.6 L1250.4 639.0 L1250.9 639.4 L1251.4 639.8 L1251.9 640.3 L1252.4 640.7 L1252.9 641.1 L1253.4 641.6 L1253.9 642.0 L1254.4 642.4 L1254.9 642.9 L1255.4 643.3 L1255.9 643.8 L1256.4 644.2 L1256.9 644.7 L1257.4 645.1 L1257.9 645.6 L1258.4 646.1 L1258.9 646.5 L1259.4 647.0 L1259.9 647.4 L1260.4 647.9 L1260.9 648.3 L1261.4 648.8 L1261.9 649.3 L1262.4 649.7 L1262.9 650.2 L1263.4 650.6 L1263.9 651.1 L1264.4 651.5 L1264.9 651.9 L1265.4 652.4 L1265.9 652.8 L1266.4 653.2 L1266.9 653.6 L1267.4 654.1 L1267.9 654.5 L1268.4 654.9 L1268.9 655.3 L1269.4 655.7 L1269.9 656.0 L1270.4 656.4 L1270.9 656.8 L1271.4 657.1 L1271.9 657.5 L1272.4 657.8 L1272.9 658.1 L1273.4 658.4 L1273.9 658.7 L1274.4 659.0 L1274.9 659.3 L1275.4 659.6 L1275.9 659.8 L1276.4 660.1 L1276.9 660.3 L1277.4 660.5 L1277.9 660.7 L1278.4 660.9 L1278.9 661.1 L1279.4 661.2 L1279.9 661.4 L1280.4 661.5 L1280.9 661.6 L1281.4 661.7 L1281.9 661.8 L1282.4 661.9 L1282.9 661.9 L1283.4 662.0 L1283.9 662.0 L1284.4 662.0 L1284.9 662.0 L1285.4 662.0 L1285.9 661.9 L1286.4 661.9 L1286.9 661.8 L1287.4 661.7 L1287.9 661.6 L1288.4 661.5 L1288.9 661.3 L1289.4 661.2 L1289.9 661.0 L1290.4 660.8 L1290.9 660.6 L1291.4 660.4 L1291.9 660.2 L1292.4 659.9 L1292.9 659.7 L1293.4 659.4 L1293.9 659.1 L1294.4 658.8 L1294.9 658.5 L1295.4 658.2 L1295.9 657.8 L1296.4 657.5 L1296.9 657.1 L1297.4 656.7 L1297.9 656.3 L1298.4 655.9 L1298.9 655.5 L1299.4 655.1 L1299.9 654.6 L1300.4 654.2 L1300.9 653.7 L1301.4 653.3 L1301.9 652.8 L1302.4 652.3 L1302.9 651.8 L1303.4 651.3 L1303.9 650.8 L1304.4 650.3 L1304.9 649.7 L1305.4 649.2 L1305.9 648.7 L1306.4 648.1 L1306.9 647.6 L1307.4 647.0 L1307.9 646.4 L1308.4 645.9 L1308.9 645.3 L1309.4 644.7 L1309.9 644.1 L1310.4 643.5 L1310.9 643.0 L1311.4 642.4 L1311.9 641.8 L1312.4 641.2 L1312.9 640.5 L1313.4 639.9 L1313.9 639.3 L1314.4 638.7 L1314.9 638.1 L1315.4 637.5 L1315.9 636.9 L1316.4 636.3 L1316.9 635.6 L1317.4 635.0 L1317.9 634.4 L1318.4 633.8 L1318.9 633.2 L1319.4 632.6 L1319.9 631.9 L1320.4 631.3 L1320.9 630.7 L1321.4 630.1 L1321.9 629.5 L1322.4 628.9 L1322.9 628.3 L1323.4 627.6 L1323.9 627.0 L1324.4 626.4 L1324.9 625.8 L1325.4 625.2 L1325.9 624.6 L1326.4 624.0 L1326.9 623.4 L1327.4 622.9 L1327.9 622.3 L1328.4 621.7 L1328.9 621.1 L1329.4 620.5 L1329.9 619.9 L1330.4 619.4 L1330.9 618.8 L1331.4 618.2 L1331.9 617.7 L1332.4 617.1 L1332.9 616.6 L1333.4 616.0 L1333.9 615.5 L1334.4 614.9 L1334.9 614.4 L1335.4 613.9 L1335.9 613.3 L1336.4 612.8 L1336.9 612.3 L1337.4 611.8 L1337.9 611.2 L1338.4 610.7 L1338.9 610.2 L1339.4 609.7 L1339.9 609.2 L1340.4 608.7 L1340.9 608.2 L1341.4 607.8 L1341.9 607.3 L1342.4 606.8 L1342.9 606.3 L1343.4 605.9 L1343.9 605.4 L1344.4 605.0 L1344.9 604.5 L1345.4 604.1 L1345.9 603.6 L1346.4 603.2 L1346.9 602.8 L1347.4 602.3 L1347.9 601.9 L1348.4 601.5 L1348.9 601.1 L1349.4 600.7 L1349.9 600.3 L1350.4 599.9 L1350.9 599.5 L1351.4 599.1 L1351.9 598.7 L1352.4 598.3 L1352.9 598.0 L1353.4 597.6 L1353.9 597.2 L1354.4 596.9 L1354.9 596.5 L1355.4 596.2 L1355.9 595.8 L1356.4 595.5 L1356.9 595.1 L1357.4 594.8 L1357.9 594.5 L1358.4 594.2 L1358.9 593.9 L1359.4 593.5 L1359.9 593.2 L1360.4 592.9 L1360.9 592.7 L1361.4 592.4 L1361.9 592.1 L1362.4 591.8 L1362.9 591.5 L1363.4 591.3 L1363.9 591.0 L1364.4 590.7 L1364.9 590.5 L1365.4 590.2 L1365.9 590.0 L1366.4 589.8 L1366.9 589.5 L1367.4 589.3 L1367.9 589.1 L1368.4 588.9 L1368.9 588.7 L1369.4 588.4 L1369.9 588.2 L1370.4 588.1 L1370.9 587.9 L1371.4 587.7 L1371.9 587.5 L1372.4 587.3 L1372.9 587.2 L1373.4 587.0 L1373.9 586.8 L1374.4 586.7 L1374.9 586.5 L1375.4 586.4 L1375.9 586.3 L1376.4 586.1 L1376.9 586.0 L1377.4 585.9 L1377.9 585.8 L1378.4 585.7 L1378.9 585.6 L1379.4 585.5 L1379.9 585.4 L1380.4 585.3 L1380.9 585.2 L1381.4 585.1 L1381.9 585.1 L1382.4 585.0 L1382.9 585.0 L1383.4 584.9 L1383.9 584.9 L1384.4 584.8 L1384.9 584.8 L1385.4 584.8 L1385.9 584.7 L1386.4 584.7 L1386.9 584.7 L1387.4 584.7 L1387.9 584.7 L1388.4 584.7 L1388.9 584.8 L1389.4 584.8 L1389.9 584.8 L1390.4 584.8 L1390.9 584.9 L1391.4 584.9 L1391.9 585.0 L1392.4 585.0 L1392.9 585.1 L1393.4 585.2 L1393.9 585.3 L1394.4 585.4 L1394.9 585.5 L1395.4 585.6 L1395.9 585.7 L1396.4 585.8 L1396.9 585.9 L1397.4 586.0 L1397.9 586.2 L1398.4 586.3 L1398.9 586.5 L1399.4 586.6 L1399.9 586.8 L1400.4 587.0 L1400.9 587.1 L1401.4 587.3 L1401.9 587.5 L1402.4 587.7 L1402.9 587.9 L1403.4 588.1 L1403.9 588.4 L1404.4 588.6 L1404.9 588.8 L1405.4 589.1 L1405.9 589.3 L1406.4 589.6 L1406.9 589.9 L1407.4 590.1 L1407.9 590.4 L1408.4 590.7 L1408.9 591.0 L1409.4 591.3 L1409.9 591.6 L1410.4 592.0 L1410.9 592.3 L1411.4 592.6 L1411.9 593.0 L1412.4 593.3 L1412.9 593.7 L1413.4 594.1 L1413.9 594.4 L1414.4 594.8 L1414.9 595.2 L1415.4 595.6 L1415.9 596.0 L1416.4 596.5 L1416.9 596.9 L1417.4 597.3 L1417.9 597.8 L1418.4 598.2 L1418.9 598.7 L1419.4 599.2 L1419.9 599.7 L1420.4 600.1 L1420.9 600.6 L1421.4 601.2 L1421.9 601.7 L1422.4 602.2 L1422.9 602.7 L1423.4 603.3 L1423.9 603.8 L1424.4 604.4 L1424.9 604.9 L1425.4 605.5 L1425.9 606.1 L1426.4 606.7 L1426.9 607.3 L1427.4 607.9 L1427.9 608.5 L1428.4 609.1 L1428.9 609.7 L1429.4 610.4 L1429.9 611.0 L1430.4 611.7 L1430.9 612.3 L1431.4 613.0 L1431.9 613.7 L1432.4 614.4 L1432.9 615.1 L1433.4 615.8 L1433.9 616.5 L1434.4 617.2 L1434.9 617.9 L1435.4 618.6 L1435.9 619.4 L1436.4 620.1 L1436.9 620.8 L1437.4 621.6 L1437.9 622.4 L1438.4 623.1 L1438.9 623.9 L1439.4 624.7 L1439.9 625.4 L1440.4 626.2 L1440.9 627.0 L1441.4 627.8 L1441.9 628.6 L1442.4 629.4 L1442.9 630.2 L1443.4 631.1 L1443.9 631.9 L1444.4 632.7 L1444.9 633.5 L1445.4 634.3 L1445.9 635.2 L1446.4 636.0 L1446.9 636.8 L1447.4 637.7 L1447.9 638.5 L1448.4 639.4 L1448.9 640.2 L1449.4 641.0 L1449.9 641.9 L1450.4 642.7 L1450.9 643.6 L1451.4 644.4 L1451.9 645.2 L1452.4 646.1 L1452.9 646.9 L1453.4 647.7 L1453.9 648.6 L1454.4 649.4 L1454.9 650.2 L1455.4 651.1 L1455.9 651.9 L1456.4 652.7 L1456.9 653.5 L1457.4 654.3 L1457.9 655.1 L1458.4 655.9 L1458.9 656.7 L1459.4 657.5 L1459.9 658.2 L1460.4 659.0 L1460.9 659.8 L1461.4 660.5 L1461.9 661.3 L1462.4 662.0 L1462.9 662.7 L1463.4 663.4 L1463.9 664.1 L1464.4 664.8 L1464.9 665.5 L1465.4 666.2 L1465.9 666.8 L1466.4 667.5 L1466.9 668.1 L1467.4 668.7 L1467.9 669.3 L1468.4 669.9 L1468.9 670.5 L1469.4 671.1 L1469.9 671.6 L1470.4 672.1 L1470.9 672.7 L1471.4 673.2 L1471.9 673.6 L1472.4 674.1 L1472.9 674.6 L1473.4 675.0 L1473.9 675.4 L1474.4 675.8 L1474.9 676.2 L1475.4 676.6 L1475.9 676.9 L1476.4 677.3 L1476.9 677.6 L1477.4 677.9 L1477.9 678.1 L1478.4 678.4 L1478.9 678.6 L1479.4 678.8 L1479.9 679.0 L1480.4 679.2 L1480.9 679.4 L1481.4 679.5 L1481.9 679.6 L1482.4 679.7 L1482.9 679.8 L1483.4 679.8 L1483.9 679.9 L1484.4 679.9 L1484.9 679.9 L1485.4 679.9 L1485.9 679.8 L1486.4 679.8 L1487.0 679.7 L1487.5 679.6 L1488.0 679.4 L1488.5 679.3 L1489.0 679.1 L1489.5 678.9 L1490.0 678.7 L1490.5 678.5 L1491.0 678.3 L1491.5 678.0 L1492.0 677.7 L1492.5 677.4 L1493.0 677.1 L1493.5 676.7 L1494.0 676.4 L1494.5 676.0 L1495.0 675.6 L1495.5 675.2 L1496.0 674.8 L1496.5 674.3 L1497.0 673.9 L1497.5 673.4 L1498.0 672.9 L1498.5 672.4 L1499.0 671.8 L1499.5 671.3 L1500.0 670.7 L1500.5 670.1 L1501.0 669.5 L1501.5 668.9 L1502.0 668.3 L1502.5 667.7 L1503.0 667.0 L1503.5 666.4 L1504.0 665.7 L1504.5 665.0 L1505.0 664.3 L1505.5 663.6 L1506.0 662.9 L1506.5 662.1 L1507.0 661.4 L1507.5 660.6 L1508.0 659.8 L1508.5 659.1 L1509.0 658.3 L1509.5 657.5 L1510.0 656.7 L1510.5 655.8 L1511.0 655.0 L1511.5 654.2 L1512.0 653.3 L1512.5 652.5 L1513.0 651.6 L1513.5 650.8 L1514.0 649.9 L1514.5 649.0 L1515.0 648.1 L1515.5 647.2 L1516.0 646.3 L1516.5 645.4 L1517.0 644.5 L1517.5 643.6 L1518.0 642.7 L1518.5 641.8 L1519.0 640.9 L1519.5 640.0 L1520.0 639.0 L1520.5 638.1 L1521.0 637.2 L1521.5 636.2 L1522.0 635.3 L1522.5 634.4 L1523.0 633.4 L1523.5 632.5 L1524.0 631.5 L1524.5 630.6 L1525.0 629.7 L1525.5 628.7 L1526.0 627.8 L1526.5 626.8 L1527.0 625.9 L1527.5 624.9 L1528.0 624.0 L1528.5 623.1 L1529.0 622.1 L1529.5 621.2 L1530.0 620.3 L1530.5 619.3 L1531.0 618.4 L1531.5 617.5 L1532.0 616.5 L1532.5 615.6 L1533.0 614.7 L1533.5 613.8 L1534.0 612.9 L1534.5 611.9 L1535.0 611.0 L1535.5 610.1 L1536.0 609.2 L1536.5 608.3 L1537.0 607.4 L1537.5 606.5 L1538.0 605.7 L1538.5 604.8 L1539.0 603.9 L1539.5 603.0 L1540.0 602.1 L1540.5 601.3 L1541.0 600.4 L1541.5 599.6 L1542.0 598.7 L1542.5 597.9 L1543.0 597.0 L1543.5 596.2 L1544.0 595.4 L1544.5 594.5 L1545.0 593.7 L1545.5 592.9 L1546.0 592.1 L1546.5 591.3 L1547.0 590.5 L1547.5 589.7 L1548.0 588.9 L1548.5 588.2 L1549.0 587.4 L1549.5 586.6 L1550.0 585.9 L1550.5 585.1 L1551.0 584.4 L1551.5 583.6 L1552.0 582.9 L1552.5 582.1 L1553.0 581.4 L1553.5 580.7 L1554.0 580.0 L1554.5 579.3 L1555.0 578.6 L1555.5 577.9 L1556.0 577.2 L1556.5 576.5 L1557.0 575.9 L1557.5 575.2 L1558.0 574.5 L1558.5 573.9 L1559.0 573.2 L1559.5 572.6 L1560.0 572.0 L1560.5 571.3 L1561.0 570.7 L1561.5 570.1 L1562.0 569.5 L1562.5 568.9 L1563.0 568.3 L1563.5 567.7 L1564.0 567.1 L1564.5 566.6 L1565.0 566.0 L1565.5 565.4 L1566.0 564.9 L1566.5 564.3 L1567.0 563.8 L1567.5 563.3 L1568.0 562.7 L1568.5 562.2 L1569.0 561.7 L1569.5 561.2 L1570.0 560.7 L1570.5 560.2 L1571.0 559.7 L1571.5 559.3 L1572.0 558.8 L1572.5 558.3 L1573.0 557.9 L1573.5 557.4 L1574.0 557.0 L1574.5 556.5 L1575.0 556.1 L1575.5 555.7 L1576.0 555.2 L1576.5 554.8 L1577.0 554.4 L1577.5 554.0 L1578.0 553.6 L1578.5 553.3 L1579.0 552.9 L1579.5 552.5 L1580.0 552.2 L1580.5 551.8 L1581.0 551.4 L1581.5 551.1 L1582.0 550.8 L1582.5 550.4 L1583.0 550.1 L1583.5 549.8 L1584.0 549.5 L1584.5 549.2 L1585.0 548.9 L1585.5 548.6 L1586.0 548.3 L1586.5 548.1 L1587.0 547.8 L1587.5 547.5 L1588.0 547.3 L1588.5 547.0 L1589.0 546.8 L1589.5 546.6 L1590.0 546.3 L1590.5 546.1 L1591.0 545.9 L1591.5 545.7 L1592.0 545.5 L1592.5 545.3 L1593.0 545.1 L1593.5 544.9 L1594.0 544.8 L1594.5 544.6 L1595.0 544.5 L1595.5 544.3 L1596.0 544.2 L1596.5 544.0 L1597.0 543.9 L1597.5 543.8 L1598.0 543.7 L1598.5 543.6 L1599.0 543.5 L1599.5 543.4 L1600.0 543.3 L1600.5 543.2 L1601.0 543.1 L1601.5 543.1 L1602.0 543.0 L1602.5 543.0 L1603.0 542.9 L1603.5 542.9 L1604.0 542.8 L1604.5 542.8 L1605.0 542.8 L1605.5 542.8 L1606.0 542.8 L1606.5 542.8 L1607.0 542.8 L1607.5 542.8 L1608.0 542.9 L1608.5 542.9 L1609.0 543.0 L1609.5 543.0 L1610.0 543.1 L1610.5 543.1 L1611.0 543.2 L1611.5 543.3 L1612.0 543.4 L1612.5 543.5 L1613.0 543.6 L1613.5 543.7 L1614.0 543.8 L1614.5 543.9 L1615.0 544.1 L1615.5 544.2 L1616.0 544.4 L1616.5 544.5 L1617.0 544.7 L1617.5 544.9 L1618.0 545.0 L1618.5 545.2 L1619.0 545.4 L1619.5 545.6 L1620.0 545.8 L1620.5 546.1 L1621.0 546.3 L1621.5 546.5 L1622.0 546.8 L1622.5 547.0 L1623.0 547.3 L1623.5 547.5 L1624.0 547.8" stroke="#ff8c1e"/>
<path d="M253.50 1586.60 L254.50 1586.60 L255.50 1586.60 L256.50 1586.60 L257.50 1586.60 L258.50 1586.60 L259.50 1586.60 L260.50 1586.60 L261.50 1586.60 L262.50 1586.60 L263.50 1586.60 L264.50 1586.60 L265.50 1586.60 L266.50 1586.60 L267.51 1586.60 L268.51 1586.59 L269.51 1586.59 L270.51 1586.59 L271.51 1586.59 L272.51 1586.59 L273.51 1586.59 L274.51 1586.58 L275.51 1586.58 L276.51 1586.58 L277.51 1586.57 L278.51 1586.57 L279.51 1586.56 L280.51 1586.56 L281.51 1586.55 L282.51 1586.54 L283.51 1586.53 L284.51 1586.52 L285.51 1586.51 L286.51 1586.50 L287.51 1586.48 L288.51 1586.47 L289.51 1586.45 L290.51 1586.43 L291.51 1586.41 L292.51 1586.38 L293.51 1586.35 L294.51 1586.32 L295.52 1586.28 L296.52 1586.25 L297.52 1586.20 L298.52 1586.16 L299.52 1586.10 L300.52 1586.05 L301.52 1585.98 L302.52 1585.92 L303.52 1585.84 L304.52 1585.76 L305.52 1585.67 L306.52 1585.57 L307.52 1585.47 L308.52 1585.36 L309.52 1585.23 L310.52 1585.10 L311.52 1584.96 L312.52 1584.80 L313.52 1584.64 L314.52 1584.46 L315.52 1584.27 L316.52 1584.07 L317.52 1583.85 L318.52 1583.62 L319.52 1583.37 L320.52 1583.10 L321.52 1582.82 L322.53 1582.52 L323.53 1582.21 L324.53 1581.87 L325.53 1581.51 L326.53 1581.13 L327.53 1580.74 L328.53 1580.32 L329.53 1579.87 L330.53 1579.41 L331.53 1578.91 L332.53 1578.40 L333.53 1577.85 L334.53 1577.29 L335.53 1576.69 L336.53 1576.07 L337.53 1575.41 L338.53 1574.73 L339.53 1574.02 L340.53 1573.27 L341.53 1572.50 L342.53 1571.69 L343.53 1570.85 L344.53 1569.98 L345.53 1569.07 L346.53 1568.13 L347.53 1567.15 L348.53 1566.14 L349.54 1565.09 L350.54 1564.00 L351.54 1562.88 L352.54 1561.72 L353.54 1560.52 L354.54 1559.29 L355.54 1558.01 L356.54 1556.70 L357.54 1555.34 L358.54 1553.95 L359.54 1552.52 L360.54 1551.05 L361.54 1549.53 L362.54 1547.98 L363.54 1546.38 L364.54 1544.75 L365.54 1543.07 L366.54 1541.35 L367.54 1539.59 L368.54 1537.80 L369.54 1535.95 L370.54 1534.07 L371.54 1532.15 L372.54 1530.19 L373.54 1528.18 L374.54 1526.14 L375.54 1524.06 L376.54 1521.93 L377.55 1519.77 L378.55 1517.56 L379.55 1515.32 L380.55 1513.04 L381.55 1510.72 L382.55 1508.36 L383.55 1505.96 L384.55 1503.52 L385.55 1501.05 L386.55 1498.54 L387.55 1496.00 L388.55 1493.42 L389.55 1490.80 L390.55 1488.15 L391.55 1485.46 L392.55 1482.74 L393.55 1479.99 L394.55 1477.20 L395.55 1474.38 L396.55 1471.53 L397.55 1468.65 L398.55 1465.73 L399.55 1462.79 L400.55 1459.82 L401.55 1456.82 L402.55 1453.79 L403.55 1450.73 L404.56 1447.65 L405.56 1444.54 L406.56 1441.40 L407.56 1438.24 L408.56 1435.06 L409.56 1431.85 L410.56 1428.62 L411.56 1425.37 L412.56 1422.09 L413.56 1418.80 L414.56 1415.48 L415.56 1412.15 L416.56 1408.79 L417.56 1405.42 L418.56 1402.03 L419.56 1398.62 L420.56 1395.20 L421.56 1391.76 L422.56 1388.31 L423.56 1384.84 L424.56 1381.36 L425.56 1377.86 L426.56 1374.36 L427.56 1370.84 L428.56 1367.31 L429.56 1363.77 L430.56 1360.22 L431.56 1356.66 L432.57 1353.10 L433.57 1349.52 L434.57 1345.94 L435.57 1342.35 L436.57 1338.75 L437.57 1335.15 L438.57 1331.55 L439.57 1327.94 L440.57 1324.32 L441.57 1320.70 L442.57 1317.08 L443.57 1313.46 L444.57 1309.84 L445.57 1306.21 L446.57 1302.59 L447.57 1298.96 L448.57 1295.33 L449.57 1291.71 L450.57 1288.08 L451.57 1284.46 L452.57 1280.84 L453.57 1277.23 L454.57 1273.61 L455.57 1270.00 L456.57 1266.39 L457.57 1262.79 L458.57 1259.20 L459.58 1255.60 L460.58 1252.02 L461.58 1248.44 L462.58 1244.86 L463.58 1241.30 L464.58 1237.74 L465.58 1234.18 L466.58 1230.64 L467.58 1227.10 L468.58 1223.57 L469.58 1220.05 L470.58 1216.54 L471.58 1213.04 L472.58 1209.55 L473.58 1206.07 L474.58 1202.60 L475.58 1199.14 L476.58 1195.69 L477.58 1192.25 L478.58 1188.82 L479.58 1185.41 L480.58 1182.01 L481.58 1178.61 L482.58 1175.23 L483.58 1171.87 L484.58 1168.51 L485.58 1165.17 L486.59 1161.84 L487.59 1158.53 L488.59 1155.23 L489.59 1151.94 L490.59 1148.67 L491.59 1145.41 L492.59 1142.16 L493.59 1138.93 L494.59 1135.71 L495.59 1132.51 L496.59 1129.32 L497.59 1126.15 L498.59 1122.99 L499.59 1119.85 L500.59 1116.72 L501.59 1113.61 L502.59 1110.51 L503.59 1107.43 L504.59 1104.36 L505.59 1101.31 L506.59 1098.28 L507.59 1095.26 L508.59 1092.26 L509.59 1089.27 L510.59 1086.30 L511.59 1083.35 L512.59 1080.41 L513.59 1077.48 L514.60 1074.58 L515.60 1071.69 L516.60 1068.81 L517.60 1065.96 L518.60 1063.12 L519.60 1060.29 L520.60 1057.48 L521.60 1054.69 L522.60 1051.92 L523.60 1049.16 L524.60 1046.42 L525.60 1043.69 L526.60 1040.98 L527.60 1038.29 L528.60 1035.61 L529.60 1032.95 L530.60 1030.31 L531.60 1027.68 L532.60 1025.07 L533.60 1022.48 L534.60 1019.90 L535.60 1017.34 L536.60 1014.79 L537.60 1012.27 L538.60 1009.75 L539.60 1007.26 L540.60 1004.78 L541.61 1002.32 L542.61 999.87 L543.61 997.44 L544.61 995.02 L545.61 992.62 L546.61 990.24 L547.61 987.87 L548.61 985.52 L549.61 983.19 L550.61 980.87 L551.61 978.57 L552.61 976.28 L553.61 974.01 L554.61 971.75 L555.61 969.51 L556.61 967.28 L557.61 965.07 L558.61 962.88 L559.61 960.70 L560.61 958.53 L561.61 956.38 L562.61 954.25 L563.61 952.13 L564.61 950.03 L565.61 947.94 L566.61 945.86 L567.61 943.81 L568.61 941.76 L569.62 939.73 L570.62 937.71 L571.62 935.71 L572.62 933.73 L573.62 931.75 L574.62 929.80 L575.62 927.85 L576.62 925.92 L577.62 924.01 L578.62 922.10 L579.62 920.22 L580.62 918.34 L581.62 916.48 L582.62 914.63 L583.62 912.80 L584.62 910.98 L585.62 909.17 L586.62 907.38 L587.62 905.60 L588.62 903.83 L589.62 902.08 L590.62 900.34 L591.62 898.61 L592.62 896.89 L593.62 895.19 L594.62 893.50 L595.62 891.82 L596.63 890.16 L597.63 888.50 L598.63 886.86 L599.63 885.24 L600.63 883.62 L601.63 882.01 L602.63 880.42 L603.63 878.84 L604.63 877.27 L605.63 875.72 L606.63 874.17 L607.63 872.64 L608.63 871.12 L609.63 869.61 L610.63 868.11 L611.63 866.62 L612.63 865.14 L613.63 863.68 L614.63 862.22 L615.63 860.78 L616.63 859.35 L617.63 857.93 L618.63 856.51 L619.63 855.11 L620.63 853.72 L621.63 852.34 L622.63 850.97 L623.64 849.62 L624.64 848.27 L625.64 846.93 L626.64 845.60 L627.64 844.28 L628.64 842.97 L629.64 841.67 L630.64 840.38 L631.64 839.11 L632.64 837.84 L633.64 836.58 L634.64 835.32 L635.64 834.08 L636.64 832.85 L637.64 831.63 L638.64 830.41 L639.64 829.21 L640.64 828.01 L641.64 826.83 L642.64 825.65 L643.64 824.48 L644.64 823.32 L645.64 822.17 L646.64 821.03 L647.64 819.89 L648.64 818.77 L649.64 817.65 L650.64 816.54 L651.65 815.44 L652.65 814.35 L653.65 813.26 L654.65 812.19 L655.65 811.12 L656.65 810.06 L657.65 809.01 L658.65 807.96 L659.65 806.92 L660.65 805.89 L661.65 804.87 L662.65 803.86 L663.65 802.85 L664.65 801.85 L665.65 800.86 L666.65 799.88 L667.65 798.90 L668.65 797.93 L669.65 796.97 L670.65 796.01 L671.65 795.06 L672.65 794.12 L673.65 793.18 L674.65 792.26 L675.65 791.33 L676.65 790.42 L677.65 789.51 L678.66 788.61 L679.66 787.71 L680.66 786.83 L681.66 785.94 L682.66 785.07 L683.66 784.20 L684.66 783.34 L685.66 782.48 L686.66 781.63 L687.66 780.78 L688.66 779.95 L689.66 779.11 L690.66 778.29 L691.66 777.47 L692.66 776.65 L693.66 775.84 L694.66 775.04 L695.66 774.24 L696.66 773.45 L697.66 772.66 L698.66 771.88 L699.66 771.11 L700.66 770.34 L701.66 769.58 L702.66 768.82 L703.66 768.06 L704.66 767.32 L705.66 766.57 L706.67 765.83 L707.67 765.10 L708.67 764.38 L709.67 763.65 L710.67 762.94 L711.67 762.22 L712.67 761.52 L713.67 760.81 L714.67 760.12 L715.67 759.42 L716.67 758.74 L717.67 758.05 L718.67 757.37 L719.67 756.70 L720.67 756.03 L721.67 755.37 L722.67 754.71 L723.67 754.05 L724.67 753.40 L725.67 752.75 L726.67 752.11 L727.67 751.47 L728.67 750.84 L729.67 750.21 L730.67 749.58 L731.67 748.96 L732.67 748.35 L733.68 747.73 L734.68 747.12 L735.68 746.52 L736.68 745.92 L737.68 745.32 L738.68 744.73 L739.68 744.14 L740.68 743.56 L741.68 742.97 L742.68 742.40 L743.68 741.82 L744.68 741.25 L745.68 740.69 L746.68 740.13 L747.68 739.57 L748.68 739.01 L749.68 738.46 L750.68 737.91 L751.68 737.37 L752.68 736.83 L753.68 736.29 L754.68 735.76 L755.68 735.23 L756.68 734.70 L757.68 734.18 L758.68 733.66 L759.68 733.14 L760.69 732.63 L761.69 732.11 L762.69 731.61 L763.69 731.10 L764.69 730.60 L765.69 730.10 L766.69 729.61 L767.69 729.12 L768.69 728.63 L769.69 728.14 L770.69 727.66 L771.69 727.18 L772.69 726.71 L773.69 726.23 L774.69 725.76 L775.69 725.29 L776.69 724.83 L777.69 724.37 L778.69 723.91 L779.69 723.45 L780.69 723.00 L781.69 722.55 L782.69 722.10 L783.69 721.65 L784.69 721.21 L785.69 720.77 L786.69 720.33 L787.69 719.90 L788.70 719.46 L789.70 719.03 L790.70 718.61 L791.70 718.18 L792.70 717.76 L793.70 717.34 L794.70 716.92 L795.70 716.51 L796.70 716.09 L797.70 715.68 L798.70 715.28 L799.70 714.87 L800.70 714.47 L801.70 714.07 L802.70 713.67 L803.70 713.27 L804.70 712.88 L805.70 712.49 L806.70 712.10 L807.70 711.71 L808.70 711.33 L809.70 710.94 L810.70 710.56 L811.70 710.18 L812.70 709.81 L813.70 709.43 L814.70 709.06 L815.71 708.69 L816.71 708.32 L817.71 707.96 L818.71 707.59 L819.71 707.23 L820.71 706.87 L821.71 706.51 L822.71 706.15 L823.71 705.80 L824.71 705.45 L825.71 705.10 L826.71 704.75 L827.71 704.40 L828.71 704.06 L829.71 703.71 L830.71 703.37 L831.71 703.03 L832.71 702.70 L833.71 702.36 L834.71 702.03 L835.71 701.69 L836.71 701.36 L837.71 701.04 L838.71 700.71 L839.71 700.38 L840.71 700.06 L841.71 699.74 L842.71 699.42 L843.72 699.10 L844.72 698.78 L845.72 698.47 L846.72 698.15 L847.72 697.84 L848.72 697.53 L849.72 697.22 L850.72 696.91 L851.72 696.61 L852.72 696.30 L853.72 696.00 L854.72 695.70 L855.72 695.40 L856.72 695.10 L857.72 694.80 L858.72 694.51 L859.72 694.21 L860.72 693.92 L861.72 693.63 L862.72 693.34 L863.72 693.05 L864.72 692.77 L865.72 692.48 L866.72 692.20 L867.72 691.91 L868.72 691.63 L869.72 691.35 L870.73 691.07 L871.73 690.80 L872.73 690.52 L873.73 690.25 L874.73 689.97 L875.73 689.70 L876.73 689.43 L877.73 689.16 L878.73 688.89 L879.73 688.62 L880.73 688.36 L881.73 688.09 L882.73 687.83 L883.73 687.57 L884.73 687.31 L885.73 687.05 L886.73 686.79 L887.73 686.53 L888.73 686.27 L889.73 686.02 L890.73 685.77 L891.73 685.51 L892.73 685.26 L893.73 685.01 L894.73 684.76 L895.73 684.51 L896.73 684.26 L897.74 684.02 L898.74 683.77 L899.74 683.53 L900.74 683.29 L901.74 683.04 L902.74 682.80 L903.74 682.56 L904.74 682.32 L905.74 682.09 L906.74 681.85 L907.74 681.61 L908.74 681.38 L909.74 681.15 L910.74 680.91 L911.74 680.68 L912.74 680.45 L913.74 680.22 L914.74 679.99 L915.74 679.76 L916.74 679.54 L917.74 679.31 L918.74 679.09 L919.74 678.86 L920.74 678.64 L921.74 678.42 L922.74 678.20 L923.74 677.97 L924.74 677.75 L925.75 677.54 L926.75 677.32 L927.75 677.10 L928.75 676.89 L929.75 676.67 L930.75 676.46 L931.75 676.24 L932.75 676.03 L933.75 675.82 L934.75 675.61 L935.75 675.40 L936.75 675.19 L937.75 674.98 L938.75 674.77 L939.75 674.56 L940.75 674.36 L941.75 674.15 L942.75 673.95 L943.75 673.74 L944.75 673.54 L945.75 673.34 L946.75 673.14 L947.75 672.94 L948.75 672.74 L949.75 672.54 L950.75 672.34 L951.75 672.14 L952.76 671.94 L953.76 671.75 L954.76 671.55 L955.76 671.36 L956.76 671.16 L957.76 670.97 L958.76 670.78 L959.76 670.59 L960.76 670.39 L961.76 670.20 L962.76 670.01 L963.76 669.82 L964.76 669.64 L965.76 669.45 L966.76 669.26 L967.76 669.07 L968.76 668.89 L969.76 668.70 L970.76 668.52 L971.76 668.34 L972.76 668.15 L973.76 667.97 L974.76 667.79 L975.76 667.61 L976.76 667.43 L977.76 667.25 L978.76 667.07 L979.76 666.89 L980.77 666.71 L981.77 666.53 L982.77 666.35 L983.77 666.18 L984.77 666.00 L985.77 665.83 L986.77 665.65 L987.77 665.48 L988.77 665.30 L989.77 665.13 L990.77 664.96 L991.77 664.79 L992.77 664.62 L993.77 664.45 L994.77 664.28 L995.77 664.11 L996.77 663.94 L997.77 663.77 L998.77 663.60 L999.77 663.43 L1000.77 663.27 L1001.77 663.10 L1002.77 662.93 L1003.77 662.77 L1004.77 662.60 L1005.77 662.44 L1006.77 662.28 L1007.78 662.11 L1008.78 661.95 L1009.78 661.79 L1010.78 661.63 L1011.78 661.47 L1012.78 661.31 L1013.78 661.15 L1014.78 660.99 L1015.78 660.83 L1016.78 660.67 L1017.78 660.51 L1018.78 660.35 L1019.78 660.19 L1020.78 660.04 L1021.78 659.88 L1022.78 659.73 L1023.78 659.57 L1024.78 659.42 L1025.78 659.26 L1026.78 659.11 L1027.78 658.95 L1028.78 658.80 L1029.78 658.65 L1030.78 658.50 L1031.78 658.34 L1032.78 658.19 L1033.78 658.04 L1034.79 657.89 L1035.79 657.74 L1036.79 657.59 L1037.79 657.44 L1038.79 657.29 L1039.79 657.15 L1040.79 657.00 L1041.79 656.85 L1042.79 656.70 L1043.79 656.56 L1044.79 656.41 L1045.79 656.27 L1046.79 656.12 L1047.79 655.97 L1048.79 655.83 L1049.79 655.69 L1050.79 655.54 L1051.79 655.40 L1052.79 655.26 L1053.79 655.11 L1054.79 654.97 L1055.79 654.83 L1056.79 654.69 L1057.79 654.55 L1058.79 654.41 L1059.79 654.27 L1060.79 654.13 L1061.79 653.99 L1062.80 653.85 L1063.80 653.71 L1064.80 653.57 L1065.80 653.43 L1066.80 653.29 L1067.80 653.16 L1068.80 653.02 L1069.80 652.88 L1070.80 652.75 L1071.80 652.61 L1072.80 652.48 L1073.80 652.34 L1074.80 652.21 L1075.80 652.07 L1076.80 651.94 L1077.80 651.80 L1078.80 651.67 L1079.80 651.54 L1080.80 651.40 L1081.80 651.27 L1082.80 651.14 L1083.80 651.01 L1084.80 650.88 L1085.80 650.75 L1086.80 650.61 L1087.80 650.48 L1088.80 650.35 L1089.81 650.22 L1090.81 650.09 L1091.81 649.97 L1092.81 649.84 L1093.81 649.71 L1094.81 649.58 L1095.81 649.45 L1096.81 649.32 L1097.81 649.20 L1098.81 649.07 L1099.81 648.94 L1100.81 648.82 L1101.81 648.69 L1102.81 648.56 L1103.81 648.44 L1104.81 648.31 L1105.81 648.19 L1106.81 648.06 L1107.81 647.94 L1108.81 647.82 L1109.81 647.69 L1110.81 647.57 L1111.81 647.45 L1112.81 647.32 L1113.81 647.20 L1114.81 647.08 L1115.81 646.96 L1116.81 646.83 L1117.82 646.71 L1118.82 646.59 L1119.82 646.47 L1120.82 646.35 L1121.82 646.23 L1122.82 646.11 L1123.82 645.99 L1124.82 645.87 L1125.82 645.75 L1126.82 645.63 L1127.82 645.51 L1128.82 645.39 L1129.82 645.28 L1130.82 645.16 L1131.82 645.04 L1132.82 644.92 L1133.82 644.81 L1134.82 644.69 L1135.82 644.57 L1136.82 644.46 L1137.82 644.34 L1138.82 644.22 L1139.82 644.11 L1140.82 643.99 L1141.82 643.88 L1142.82 643.76 L1143.82 643.65 L1144.83 643.53 L1145.83 643.42 L1146.83 643.30 L1147.83 643.19 L1148.83 643.08 L1149.83 642.96 L1150.83 642.85 L1151.83 642.74 L1152.83 642.63 L1153.83 642.51 L1154.83 642.40 L1155.83 642.29 L1156.83 642.18 L1157.83 642.07 L1158.83 641.96 L1159.83 641.84 L1160.83 641.73 L1161.83 641.62 L1162.83 641.51 L1163.83 641.40 L1164.83 641.29 L1165.83 641.18 L1166.83 641.07 L1167.83 640.97 L1168.83 640.86 L1169.83 640.75 L1170.83 640.64 L1171.84 640.53 L1172.84 640.42 L1173.84 640.31 L1174.84 640.21 L1175.84 640.10 L1176.84 639.99 L1177.84 639.89 L1178.84 639.78 L1179.84 639.67 L1180.84 639.57 L1181.84 639.46 L1182.84 639.35 L1183.84 639.25 L1184.84 639.14 L1185.84 639.04 L1186.84 638.93 L1187.84 638.83 L1188.84 638.72 L1189.84 638.62 L1190.84 638.51 L1191.84 638.41 L1192.84 638.31 L1193.84 638.20 L1194.84 638.10 L1195.84 637.99 L1196.84 637.89 L1197.84 637.79 L1198.84 637.69 L1199.85 637.58 L1200.85 637.48 L1201.85 637.38 L1202.85 637.28 L1203.85 637.17 L1204.85 637.07 L1205.85 636.97 L1206.85 636.87 L1207.85 636.77 L1208.85 636.67 L1209.85 636.57 L1210.85 636.47 L1211.85 636.37 L1212.85 636.27 L1213.85 636.17 L1214.85 636.07 L1215.85 635.97 L1216.85 635.87 L1217.85 635.77 L1218.85 635.67 L1219.85 635.57 L1220.85 635.47 L1221.85 635.37 L1222.85 635.27 L1223.85 635.18 L1224.85 635.08 L1225.85 634.98 L1226.86 634.88 L1227.86 634.79 L1228.86 634.69 L1229.86 634.59 L1230.86 634.49 L1231.86 634.40 L1232.86 634.30 L1233.86 634.20 L1234.86 634.11 L1235.86 634.01 L1236.86 633.92 L1237.86 633.82 L1238.86 633.72 L1239.86 633.63 L1240.86 633.53 L1241.86 633.44 L1242.86 633.34 L1243.86 633.25 L1244.86 633.15 L1245.86 633.06 L1246.86 632.96 L1247.86 632.87 L1248.86 632.78 L1249.86 632.68 L1250.86 632.59 L1251.86 632.49 L1252.86 632.40 L1253.86 632.31 L1254.87 632.21 L1255.87 632.12 L1256.87 632.03 L1257.87 631.94 L1258.87 631.84 L1259.87 631.75 L1260.87 631.66 L1261.87 631.57 L1262.87 631.47 L1263.87 631.38 L1264.87 631.29 L1265.87 631.20 L1266.87 631.11 L1267.87 631.02 L1268.87 630.93 L1269.87 630.84 L1270.87 630.74 L1271.87 630.65 L1272.87 630.56 L1273.87 630.47 L1274.87 630.38 L1275.87 630.29 L1276.87 630.20 L1277.87 630.11 L1278.87 630.02 L1279.87 629.93 L1280.87 629.85 L1281.88 629.76 L1282.88 629.67 L1283.88 629.58 L1284.88 629.49 L1285.88 629.40 L1286.88 629.31 L1287.88 629.22 L1288.88 629.14 L1289.88 629.05 L1290.88 628.96 L1291.88 628.87 L1292.88 628.78 L1293.88 628.70 L1294.88 628.61 L1295.88 628.52 L1296.88 628.43 L1297.88 628.35 L1298.88 628.26 L1299.88 628.17 L1300.88 628.09 L1301.88 628.00 L1302.88 627.91 L1303.88 627.83 L1304.88 627.74 L1305.88 627.66 L1306.88 627.57 L1307.88 627.49 L1308.89 627.40 L1309.89 627.31 L1310.89 627.23 L1311.89 627.14 L1312.89 627.06 L1313.89 626.97 L1314.89 626.89 L1315.89 626.80 L1316.89 626.72 L1317.89 626.64 L1318.89 626.55 L1319.89 626.47 L1320.89 626.38 L1321.89 626.30 L1322.89 626.22 L1323.89 626.13 L1324.89 626.05 L1325.89 625.96 L1326.89 625.88 L1327.89 625.80 L1328.89 625.72 L1329.89 625.63 L1330.89 625.55 L1331.89 625.47 L1332.89 625.38 L1333.89 625.30 L1334.89 625.22 L1335.89 625.14 L1336.90 625.05 L1337.90 624.97 L1338.90 624.89 L1339.90 624.81 L1340.90 624.73 L1341.90 624.65 L1342.90 624.56 L1343.90 624.48 L1344.90 624.40 L1345.90 624.32 L1346.90 624.24 L1347.90 624.16 L1348.90 624.08 L1349.90 624.00 L1350.90 623.92 L1351.90 623.84 L1352.90 623.76 L1353.90 623.68 L1354.90 623.60 L1355.90 623.52 L1356.90 623.44 L1357.90 623.36 L1358.90 623.28 L1359.90 623.20 L1360.90 623.12 L1361.90 623.04 L1362.90 622.96 L1363.91 622.88 L1364.91 622.80 L1365.91 622.72 L1366.91 622.64 L1367.91 622.57 L1368.91 622.49 L1369.91 622.41 L1370.91 622.33 L1371.91 622.25 L1372.91 622.17 L1373.91 622.10 L1374.91 622.02 L1375.91 621.94 L1376.91 621.86 L1377.91 621.79 L1378.91 621.71 L1379.91 621.63 L1380.91 621.55 L1381.91 621.48 L1382.91 621.40 L1383.91 621.32 L1384.91 621.25 L1385.91 621.17 L1386.91 621.09 L1387.91 621.02 L1388.91 620.94 L1389.91 620.86 L1390.91 620.79 L1391.92 620.71 L1392.92 620.63 L1393.92 620.56 L1394.92 620.48 L1395.92 620.41 L1396.92 620.33 L1397.92 620.26 L1398.92 620.18 L1399.92 620.10 L1400.92 620.03 L1401.92 619.95 L1402.92 619.88 L1403.92 619.80 L1404.92 619.73 L1405.92 619.65 L1406.92 619.58 L1407.92 619.51 L1408.92 619.43 L1409.92 619.36 L1410.92 619.28 L1411.92 619.21 L1412.92 619.13 L1413.92 619.06 L1414.92 618.99 L1415.92 618.91 L1416.92 618.84 L1417.92 618.77 L1418.93 618.69 L1419.93 618.62 L1420.93 618.54 L1421.93 618.47 L1422.93 618.40 L1423.93 618.33 L1424.93 618.25 L1425.93 618.18 L1426.93 618.11 L1427.93 618.03 L1428.93 617.96 L1429.93 617.89 L1430.93 617.82 L1431.93 617.74 L1432.93 617.67 L1433.93 617.60 L1434.93 617.53 L1435.93 617.46 L1436.93 617.38 L1437.93 617.31 L1438.93 617.24 L1439.93 617.17 L1440.93 617.10 L1441.93 617.03 L1442.93 616.95 L1443.93 616.88 L1444.93 616.81 L1445.94 616.74 L1446.94 616.67 L1447.94 616.60 L1448.94 616.53 L1449.94 616.46 L1450.94 616.39 L1451.94 616.32 L1452.94 616.25 L1453.94 616.18 L1454.94 616.11 L1455.94 616.04 L1456.94 615.96 L1457.94 615.89 L1458.94 615.82 L1459.94 615.76 L1460.94 615.69 L1461.94 615.62 L1462.94 615.55 L1463.94 615.48 L1464.94 615.41 L1465.94 615.34 L1466.94 615.27 L1467.94 615.20 L1468.94 615.13 L1469.94 615.06 L1470.94 614.99 L1471.94 614.92 L1472.94 614.85 L1473.95 614.79 L1474.95 614.72 L1475.95 614.65 L1476.95 614.58 L1477.95 614.51 L1478.95 614.44 L1479.95 614.38 L1480.95 614.31 L1481.95 614.24 L1482.95 614.17 L1483.95 614.10 L1484.95 614.04 L1485.95 613.97 L1486.95 613.90 L1487.95 613.83 L1488.95 613.76 L1489.95 613.70 L1490.95 613.63 L1491.95 613.56 L1492.95 613.50 L1493.95 613.43 L1494.95 613.36 L1495.95 613.29 L1496.95 613.23 L1497.95 613.16 L1498.95 613.09 L1499.95 613.03 L1500.96 612.96 L1501.96 612.89 L1502.96 612.83 L1503.96 612.76 L1504.96 612.70 L1505.96 612.63 L1506.96 612.56 L1507.96 612.50 L1508.96 612.43 L1509.96 612.37 L1510.96 612.30 L1511.96 612.23 L1512.96 612.17 L1513.96 612.10 L1514.96 612.04 L1515.96 611.97 L1516.96 611.91 L1517.96 611.84 L1518.96 611.78 L1519.96 611.71 L1520.96 611.65 L1521.96 611.58 L1522.96 611.52 L1523.96 611.45 L1524.96 611.39 L1525.96 611.32 L1526.96 611.26 L1527.96 611.19 L1528.97 611.13 L1529.97 611.06 L1530.97 611.00 L1531.97 610.94 L1532.97 610.87 L1533.97 610.81 L1534.97 610.74 L1535.97 610.68 L1536.97 610.62 L1537.97 610.55 L1538.97 610.49 L1539.97 610.42 L1540.97 610.36 L1541.97 610.30 L1542.97 610.23 L1543.97 610.17 L1544.97 610.11 L1545.97 610.04 L1546.97 609.98 L1547.97 609.92 L1548.97 609.85 L1549.97 609.79 L1550.97 609.73 L1551.97 609.67 L1552.97 609.60 L1553.97 609.54 L1554.97 609.48 L1555.98 609.42 L1556.98 609.35 L1557.98 609.29 L1558.98 609.23 L1559.98 609.17 L1560.98 609.10 L1561.98 609.04 L1562.98 608.98 L1563.98 608.92 L1564.98 608.86 L1565.98 608.79 L1566.98 608.73 L1567.98 608.67 L1568.98 608.61 L1569.98 608.55 L1570.98 608.49 L1571.98 608.42 L1572.98 608.36 L1573.98 608.30 L1574.98 608.24 L1575.98 608.18 L1576.98 608.12 L1577.98 608.06 L1578.98 608.00 L1579.98 607.93 L1580.98 607.87 L1581.98 607.81 L1582.99 607.75 L1583.99 607.69 L1584.99 607.63 L1585.99 607.57 L1586.99 607.51 L1587.99 607.45 L1588.99 607.39 L1589.99 607.33 L1590.99 607.27 L1591.99 607.21 L1592.99 607.15 L1593.99 607.09 L1594.99 607.03 L1595.99 606.97 L1596.99 606.91 L1597.99 606.85 L1598.99 606.79 L1599.99 606.73 L1600.99 606.67 L1601.99 606.61 L1602.99 606.55 L1603.99 606.49 L1604.99 606.43 L1605.99 606.37 L1606.99 606.31 L1607.99 606.25 L1608.99 606.20 L1609.99 606.14 L1611.00 606.08 L1612.00 606.02 L1613.00 605.96 L1614.00 605.90 L1615.00 605.84 L1616.00 605.78 L1617.00 605.73 L1618.00 605.67 L1619.00 605.61 L1620.00 605.55 L1621.00 605.49 L1622.00 605.43 L1623.00 605.38 L1624.00 605.32" stroke="#23238c" stroke-dasharray="10.000 4.100 2.800 3.424" stroke-dashoffset="0.062"/>
<path d="M253.50 1586.60 L254.50 1586.60 L255.50 1586.60 L256.50 1586.60 L257.50 1586.60 L258.50 1586.60 L259.50 1586.60 L260.50 1586.60 L261.50 1586.60 L262.50 1586.60 L263.50 1586.60 L264.50 1586.60 L265.50 1586.60 L266.50 1586.60 L267.51 1586.60 L268.51 1586.59 L269.51 1586.59 L270.51 1586.59 L271.51 1586.59 L272.51 1586.59 L273.51 1586.59 L274.51 1586.58 L275.51 1586.58 L276.51 1586.58 L277.51 1586.57 L278.51 1586.57 L279.51 1586.56 L280.51 1586.56 L281.51 1586.55 L282.51 1586.54 L283.51 1586.53 L284.51 1586.52 L285.51 1586.51 L286.51 1586.50 L287.51 1586.48 L288.51 1586.47 L289.51 1586.45 L290.51 1586.43 L291.51 1586.41 L292.51 1586.38 L293.51 1586.35 L294.51 1586.32 L295.52 1586.28 L296.52 1586.25 L297.52 1586.20 L298.52 1586.16 L299.52 1586.10 L300.52 1586.05 L301.52 1585.98 L302.52 1585.92 L303.52 1585.84 L304.52 1585.76 L305.52 1585.67 L306.52 1585.57 L307.52 1585.47 L308.52 1585.35 L309.52 1585.23 L310.52 1585.10 L311.52 1584.96 L312.52 1584.80 L313.52 1584.64 L314.52 1584.46 L315.52 1584.27 L316.52 1584.06 L317.52 1583.84 L318.52 1583.61 L319.52 1583.36 L320.52 1583.10 L321.52 1582.81 L322.53 1582.51 L323.53 1582.19 L324.53 1581.86 L325.53 1581.50 L326.53 1581.12 L327.53 1580.72 L328.53 1580.29 L329.53 1579.85 L330.53 1579.37 L331.53 1578.88 L332.53 1578.36 L333.53 1577.81 L334.53 1577.23 L335.53 1576.63 L336.53 1576.00 L337.53 1575.34 L338.53 1574.65 L339.53 1573.92 L340.53 1573.17 L341.53 1572.38 L342.53 1571.56 L343.53 1570.70 L344.53 1569.81 L345.53 1568.89 L346.53 1567.93 L347.53 1566.93 L348.53 1565.89 L349.54 1564.82 L350.54 1563.70 L351.54 1562.55 L352.54 1561.36 L353.54 1560.12 L354.54 1558.85 L355.54 1557.53 L356.54 1556.17 L357.54 1554.77 L358.54 1553.32 L359.54 1551.83 L360.54 1550.30 L361.54 1548.72 L362.54 1547.10 L363.54 1545.43 L364.54 1543.72 L365.54 1541.96 L366.54 1540.15 L367.54 1538.30 L368.54 1536.40 L369.54 1534.45 L370.54 1532.45 L371.54 1530.41 L372.54 1528.32 L373.54 1526.18 L374.54 1524.00 L375.54 1521.76 L376.54 1519.48 L377.55 1517.15 L378.55 1514.77 L379.55 1512.35 L380.55 1509.87 L381.55 1507.35 L382.55 1504.78 L383.55 1502.16 L384.55 1499.49 L385.55 1496.77 L386.55 1494.01 L387.55 1491.20 L388.55 1488.34 L389.55 1485.43 L390.55 1482.48 L391.55 1479.48 L392.55 1476.43 L393.55 1473.34 L394.55 1470.20 L395.55 1467.02 L396.55 1463.79 L397.55 1460.52 L398.55 1457.20 L399.55 1453.83 L400.55 1450.43 L401.55 1446.98 L402.55 1443.48 L403.55 1439.95 L404.56 1436.37 L405.56 1432.75 L406.56 1429.08 L407.56 1425.38 L408.56 1421.64 L409.56 1417.86 L410.56 1414.03 L411.56 1410.17 L412.56 1406.27 L413.56 1402.34 L414.56 1398.36 L415.56 1394.35 L416.56 1390.31 L417.56 1386.22 L418.56 1382.11 L419.56 1377.96 L420.56 1373.77 L421.56 1369.55 L422.56 1365.30 L423.56 1361.02 L424.56 1356.71 L425.56 1352.37 L426.56 1347.99 L427.56 1343.59 L428.56 1339.16 L429.56 1334.70 L430.56 1330.21 L431.56 1325.70 L432.57 1321.16 L433.57 1316.60 L434.57 1312.01 L435.57 1307.39 L436.57 1302.76 L437.57 1298.10 L438.57 1293.42 L439.57 1288.72 L440.57 1283.99 L441.57 1279.25 L442.57 1274.49 L443.57 1269.71 L444.57 1264.91 L445.57 1260.10 L446.57 1255.27 L447.57 1250.42 L448.57 1245.56 L449.57 1240.68 L450.57 1235.79 L451.57 1230.88 L452.57 1225.97 L453.57 1221.04 L454.57 1216.10 L455.57 1211.15 L456.57 1206.19 L457.57 1201.22 L458.57 1196.24 L459.58 1191.26 L460.58 1186.26 L461.58 1181.26 L462.58 1176.26 L463.58 1171.24 L464.58 1166.23 L465.58 1161.21 L466.58 1156.18 L467.58 1151.15 L468.58 1146.12 L469.58 1141.09 L470.58 1136.06 L471.58 1131.02 L472.58 1125.99 L473.58 1120.96 L474.58 1115.92 L475.58 1110.89 L476.58 1105.86 L477.58 1100.83 L478.58 1095.81 L479.58 1090.79 L480.58 1085.77 L481.58 1080.76 L482.58 1075.75 L483.58 1070.75 L484.58 1065.76 L485.58 1060.77 L486.59 1055.78 L487.59 1050.81 L488.59 1045.84 L489.59 1040.88 L490.59 1035.94 L491.59 1030.99 L492.59 1026.06 L493.59 1021.14 L494.59 1016.23 L495.59 1011.33 L496.59 1006.45 L497.59 1001.57 L498.59 996.70 L499.59 991.85 L500.59 987.01 L501.59 982.19 L502.59 977.37 L503.59 972.58 L504.59 967.79 L505.59 963.02 L506.59 958.26 L507.59 953.52 L508.59 948.80 L509.59 944.09 L510.59 939.39 L511.59 934.72 L512.59 930.06 L513.59 925.41 L514.60 920.78 L515.60 916.17 L516.60 911.58 L517.60 907.01 L518.60 902.45 L519.60 897.91 L520.60 893.39 L521.60 888.89 L522.60 884.41 L523.60 879.95 L524.60 875.50 L525.60 871.08 L526.60 866.67 L527.60 862.29 L528.60 857.92 L529.60 853.58 L530.60 849.25 L531.60 844.95 L532.60 840.66 L533.60 836.40 L534.60 832.16 L535.60 827.94 L536.60 823.74 L537.60 819.56 L538.60 815.40 L539.60 811.26 L540.60 807.15 L541.61 803.06 L542.61 798.98 L543.61 794.93 L544.61 790.91 L545.61 786.90 L546.61 782.92 L547.61 778.95 L548.61 775.01 L549.61 771.09 L550.61 767.20 L551.61 763.33 L552.61 759.47 L553.61 755.65 L554.61 751.84 L555.61 748.05 L556.61 744.29 L557.61 740.55 L558.61 736.84 L559.61 733.14 L560.61 729.47 L561.61 725.82 L562.61 722.19 L563.61 718.59 L564.61 715.01 L565.61 711.45 L566.61 707.91 L567.61 704.39 L568.61 700.90 L569.62 697.43 L570.62 693.98 L571.62 690.56 L572.62 687.15 L573.62 683.77 L574.62 680.41 L575.62 677.07 L576.62 673.76 L577.62 670.47 L578.62 667.20 L579.62 663.95 L580.62 660.72 L581.62 657.52 L582.62 654.33 L583.62 651.17 L584.62 648.03 L585.62 644.91 L586.62 641.82 L587.62 638.74 L588.62 635.69 L589.62 632.65 L590.62 629.64 L591.62 626.65 L592.62 623.68 L593.62 620.74 L594.62 617.81 L595.62 614.90 L596.63 612.02 L597.63 609.15 L598.63 606.31 L599.63 603.49 L600.63 600.68 L601.63 597.90 L602.63 595.14 L603.63 592.40 L604.63 589.68 L605.63 586.97 L606.63 584.29 L607.63 581.63 L608.63 578.99 L609.63 576.37 L610.63 573.76 L611.63 571.18 L612.63 568.61 L613.63 566.07 L614.63 563.54 L615.63 561.04 L616.63 558.55 L617.63 556.08 L618.63 553.63 L619.63 551.20 L620.63 548.78 L621.63 546.39 L622.63 544.01 L623.64 541.65 L624.64 539.31 L625.64 536.99 L626.64 534.68 L627.64 532.40 L628.64 530.13 L629.64 527.88 L630.64 525.64 L631.64 523.42 L632.64 521.22 L633.64 519.04 L634.64 516.88 L635.64 514.73 L636.64 512.60 L637.64 510.48 L638.64 508.38 L639.64 506.30 L640.64 504.23 L641.64 502.19 L642.64 500.15 L643.64 498.13 L644.64 496.13 L645.64 494.15 L646.64 492.18 L647.64 490.22 L648.64 488.29 L649.64 486.36 L650.64 484.46 L651.65 482.56 L652.65 480.69 L653.65 478.82 L654.65 476.97 L655.65 475.14 L656.65 473.32 L657.65 471.52 L658.65 469.73 L659.65 467.96 L660.65 466.20 L661.65 464.45 L662.65 462.72 L663.65 461.00 L664.65 459.29 L665.65 457.60 L666.65 455.93 L667.65 454.26 L668.65 452.61 L669.65 450.97 L670.65 449.35 L671.65 447.74 L672.65 446.14 L673.65 444.56 L674.65 442.99 L675.65 441.43 L676.65 439.88 L677.65 438.35 L678.66 436.83 L679.66 435.32 L680.66 433.82 L681.66 432.34 L682.66 430.86 L683.66 429.40 L684.66 427.96 L685.66 426.52 L686.66 425.09 L687.66 423.68 L688.66 422.28 L689.66 420.89 L690.66 419.51 L691.66 418.14 L692.66 416.78 L693.66 415.44 L694.66 414.10 L695.66 412.78 L696.66 411.47 L697.66 410.16 L698.66 408.87 L699.66 407.59 L700.66 406.32 L701.66 405.06 L702.66 403.81 L703.66 402.57 L704.66 401.34 L705.66 400.12 L706.67 398.91 L707.67 397.71 L708.67 396.52 L709.67 395.34 L710.67 394.17 L711.67 393.01 L712.67 391.86 L713.67 390.72 L714.67 389.58 L715.67 388.46 L716.67 387.35 L717.67 386.24 L718.67 385.14 L719.67 384.06 L720.67 382.98 L721.67 381.91 L722.67 380.85 L723.67 379.80 L724.67 378.75 L725.67 377.72 L726.67 376.69 L727.67 375.67 L728.67 374.66 L729.67 373.66 L730.67 372.67 L731.67 371.68 L732.67 370.70 L733.68 369.74 L734.68 368.77 L735.68 367.82 L736.68 366.87 L737.68 365.94 L738.68 365.01 L739.68 364.08 L740.68 363.17 L741.68 362.26 L742.68 361.36 L743.68 360.46 L744.68 359.58 L745.68 358.70 L746.68 357.83 L747.68 356.96 L748.68 356.10 L749.68 355.25 L750.68 354.41 L751.68 353.57 L752.68 352.74 L753.68 351.92 L754.68 351.10 L755.68 350.29 L756.68 349.49 L757.68 348.69 L758.68 347.90 L759.68 347.11 L760.69 346.34 L761.69 345.56 L762.69 344.80 L763.69 344.04 L764.69 343.29 L765.69 342.54 L766.69 341.80 L767.69 341.06 L768.69 340.33 L769.69 339.61 L770.69 338.89 L771.69 338.18 L772.69 337.47 L773.69 336.77 L774.69 336.08 L775.69 335.39 L776.69 334.70 L777.69 334.03 L778.69 333.35 L779.69 332.69 L780.69 332.02 L781.69 331.37 L782.69 330.71 L783.69 330.07 L784.69 329.43 L785.69 328.79 L786.69 328.16 L787.69 327.53 L788.70 326.91 L789.70 326.29 L790.70 325.68 L791.70 325.08 L792.70 324.47 L793.70 323.88 L794.70 323.29 L795.70 322.70 L796.70 322.11 L797.70 321.54 L798.70 320.96 L799.70 320.39 L800.70 319.83 L801.70 319.27 L802.70 318.71 L803.70 318.16 L804.70 317.61 L805.70 317.07 L806.70 316.53 L807.70 316.00 L808.70 315.47 L809.70 314.94 L810.70 314.42 L811.70 313.90 L812.70 313.39 L813.70 312.88 L814.70 312.37 L815.71 311.87 L816.71 311.37 L817.71 310.88 L818.71 310.39 L819.71 309.90 L820.71 309.42 L821.71 308.94 L822.71 308.46 L823.71 307.99 L824.71 307.53 L825.71 307.06 L826.71 306.60 L827.71 306.14 L828.71 305.69 L829.71 305.24 L830.71 304.79 L831.71 304.35 L832.71 303.91 L833.71 303.47 L834.71 303.04 L835.71 302.61 L836.71 302.19 L837.71 301.76 L838.71 301.34 L839.71 300.93 L840.71 300.51 L841.71 300.10 L842.71 299.70 L843.72 299.29 L844.72 298.89 L845.72 298.49 L846.72 298.10 L847.72 297.71 L848.72 297.32 L849.72 296.93 L850.72 296.55 L851.72 296.17 L852.72 295.79 L853.72 295.42 L854.72 295.05 L855.72 294.68 L856.72 294.31 L857.72 293.95 L858.72 293.59 L859.72 293.23 L860.72 292.88 L861.72 292.52 L862.72 292.18 L863.72 291.83 L864.72 291.48 L865.72 291.14 L866.72 290.80 L867.72 290.47 L868.72 290.13 L869.72 289.80 L870.73 289.47 L871.73 289.15 L872.73 288.82 L873.73 288.50 L874.73 288.18 L875.73 287.86 L876.73 287.55 L877.73 287.24 L878.73 286.93 L879.73 286.62 L880.73 286.31 L881.73 286.01 L882.73 285.71 L883.73 285.41 L884.73 285.11 L885.73 284.82 L886.73 284.53 L887.73 284.24 L888.73 283.95 L889.73 283.66 L890.73 283.38 L891.73 283.10 L892.73 282.82 L893.73 282.54 L894.73 282.27 L895.73 281.99 L896.73 281.72 L897.74 281.45 L898.74 281.18 L899.74 280.92 L900.74 280.65 L901.74 280.39 L902.74 280.13 L903.74 279.88 L904.74 279.62 L905.74 279.37 L906.74 279.11 L907.74 278.86 L908.74 278.61 L909.74 278.37 L910.74 278.12 L911.74 277.88 L912.74 277.64 L913.74 277.40 L914.74 277.16 L915.74 276.92 L916.74 276.69 L917.74 276.46 L918.74 276.22 L919.74 275.99 L920.74 275.77 L921.74 275.54 L922.74 275.31 L923.74 275.09 L924.74 274.87 L925.75 274.65 L926.75 274.43 L927.75 274.21 L928.75 274.00 L929.75 273.79 L930.75 273.57 L931.75 273.36 L932.75 273.15 L933.75 272.94 L934.75 272.74 L935.75 272.53 L936.75 272.33 L937.75 272.13 L938.75 271.93 L939.75 271.73 L940.75 271.53 L941.75 271.33 L942.75 271.14 L943.75 270.95 L944.75 270.75 L945.75 270.56 L946.75 270.37 L947.75 270.18 L948.75 270.00 L949.75 269.81 L950.75 269.63 L951.75 269.44 L952.76 269.26 L953.76 269.08 L954.76 268.90 L955.76 268.72 L956.76 268.55 L957.76 268.37 L958.76 268.20 L959.76 268.02 L960.76 267.85 L961.76 267.68 L962.76 267.51 L963.76 267.34 L964.76 267.17 L965.76 267.01 L966.76 266.84 L967.76 266.68 L968.76 266.52 L969.76 266.35 L970.76 266.19 L971.76 266.03 L972.76 265.88 L973.76 265.72 L974.76 265.56 L975.76 265.41 L976.76 265.25 L977.76 265.10 L978.76 264.95 L979.76 264.80 L980.77 264.65 L981.77 264.50 L982.77 264.35 L983.77 264.20 L984.77 264.06 L985.77 263.91 L986.77 263.77 L987.77 263.62 L988.77 263.48 L989.77 263.34 L990.77 263.20 L991.77 263.06 L992.77 262.92 L993.77 262.79 L994.77 262.65 L995.77 262.51 L996.77 262.38 L997.77 262.24 L998.77 262.11 L999.77 261.98 L1000.77 261.85 L1001.77 261.72 L1002.77 261.59 L1003.77 261.46 L1004.77 261.33 L1005.77 261.21 L1006.77 261.08 L1007.78 260.95 L1008.78 260.83 L1009.78 260.71 L1010.78 260.58 L1011.78 260.46 L1012.78 260.34 L1013.78 260.22 L1014.78 260.10 L1015.78 259.98 L1016.78 259.86 L1017.78 259.75 L1018.78 259.63 L1019.78 259.51 L1020.78 259.40 L1021.78 259.28 L1022.78 259.17 L1023.78 259.06 L1024.78 258.95 L1025.78 258.83 L1026.78 258.72 L1027.78 258.61 L1028.78 258.50 L1029.78 258.40 L1030.78 258.29 L1031.78 258.18 L1032.78 258.08 L1033.78 257.97 L1034.79 257.86 L1035.79 257.76 L1036.79 257.66 L1037.79 257.55 L1038.79 257.45 L1039.79 257.35 L1040.79 257.25 L1041.79 257.15 L1042.79 257.05 L1043.79 256.95 L1044.79 256.85 L1045.79 256.75 L1046.79 256.66 L1047.79 256.56 L1048.79 256.46 L1049.79 256.37 L1050.79 256.27 L1051.79 256.18 L1052.79 256.08 L1053.79 255.99 L1054.79 255.90 L1055.79 255.81 L1056.79 255.72 L1057.79 255.63 L1058.79 255.53 L1059.79 255.45 L1060.79 255.36 L1061.79 255.27 L1062.80 255.18 L1063.80 255.09 L1064.80 255.01 L1065.80 254.92 L1066.80 254.83 L1067.80 254.75 L1068.80 254.66 L1069.80 254.58 L1070.80 254.50 L1071.80 254.41 L1072.80 254.33 L1073.80 254.25 L1074.80 254.17 L1075.80 254.09 L1076.80 254.00 L1077.80 253.92 L1078.80 253.85 L1079.80 253.77 L1080.80 253.69 L1081.80 253.61 L1082.80 253.53 L1083.80 253.45 L1084.80 253.38 L1085.80 253.30 L1086.80 253.23 L1087.80 253.15 L1088.80 253.08 L1089.81 253.00 L1090.81 252.93 L1091.81 252.85 L1092.81 252.78 L1093.81 252.71 L1094.81 252.64 L1095.81 252.56 L1096.81 252.49 L1097.81 252.42 L1098.81 252.35 L1099.81 252.28 L1100.81 252.21 L1101.81 252.14 L1102.81 252.07 L1103.81 252.01 L1104.81 251.94 L1105.81 251.87 L1106.81 251.80 L1107.81 251.74 L1108.81 251.67 L1109.81 251.60 L1110.81 251.54 L1111.81 251.47 L1112.81 251.41 L1113.81 251.34 L1114.81 251.28 L1115.81 251.22 L1116.81 251.15 L1117.82 251.09 L1118.82 251.03 L1119.82 250.97 L1120.82 250.90 L1121.82 250.84 L1122.82 250.78 L1123.82 250.72 L1124.82 250.66 L1125.82 250.60 L1126.82 250.54 L1127.82 250.48 L1128.82 250.42 L1129.82 250.36 L1130.82 250.31 L1131.82 250.25 L1132.82 250.19 L1133.82 250.13 L1134.82 250.08 L1135.82 250.02 L1136.82 249.96 L1137.82 249.91 L1138.82 249.85 L1139.82 249.80 L1140.82 249.74 L1141.82 249.69 L1142.82 249.63 L1143.82 249.58 L1144.83 249.53 L1145.83 249.47 L1146.83 249.42 L1147.83 249.37 L1148.83 249.31 L1149.83 249.26 L1150.83 249.21 L1151.83 249.16 L1152.83 249.11 L1153.83 249.06 L1154.83 249.01 L1155.83 248.96 L1156.83 248.91 L1157.83 248.86 L1158.83 248.81 L1159.83 248.76 L1160.83 248.71 L1161.83 248.66 L1162.83 248.61 L1163.83 248.56 L1164.83 248.52 L1165.83 248.47 L1166.83 248.42 L1167.83 248.37 L1168.83 248.33 L1169.83 248.28 L1170.83 248.23 L1171.84 248.19 L1172.84 248.14 L1173.84 248.10 L1174.84 248.05 L1175.84 248.01 L1176.84 247.96 L1177.84 247.92 L1178.84 247.87 L1179.84 247.83 L1180.84 247.79 L1181.84 247.74 L1182.84 247.70 L1183.84 247.66 L1184.84 247.61 L1185.84 247.57 L1186.84 247.53 L1187.84 247.49 L1188.84 247.44 L1189.84 247.40 L1190.84 247.36 L1191.84 247.32 L1192.84 247.28 L1193.84 247.24 L1194.84 247.20 L1195.84 247.16 L1196.84 247.12 L1197.84 247.08 L1198.84 247.04 L1199.85 247.00 L1200.85 246.96 L1201.85 246.92 L1202.85 246.88 L1203.85 246.84 L1204.85 246.81 L1205.85 246.77 L1206.85 246.73 L1207.85 246.69 L1208.85 246.65 L1209.85 246.62 L1210.85 246.58 L1211.85 246.54 L1212.85 246.51 L1213.85 246.47 L1214.85 246.43 L1215.85 246.40 L1216.85 246.36 L1217.85 246.33 L1218.85 246.29 L1219.85 246.26 L1220.85 246.22 L1221.85 246.19 L1222.85 246.15 L1223.85 246.12 L1224.85 246.08 L1225.85 246.05 L1226.86 246.01 L1227.86 245.98 L1228.86 245.95 L1229.86 245.91 L1230.86 245.88 L1231.86 245.85 L1232.86 245.81 L1233.86 245.78 L1234.86 245.75 L1235.86 245.72 L1236.86 245.68 L1237.86 245.65 L1238.86 245.62 L1239.86 245.59 L1240.86 245.56 L1241.86 245.53 L1242.86 245.49 L1243.86 245.46 L1244.86 245.43 L1245.86 245.40 L1246.86 245.37 L1247.86 245.34 L1248.86 245.31 L1249.86 245.28 L1250.86 245.25 L1251.86 245.22 L1252.86 245.19 L1253.86 245.16 L1254.87 245.13 L1255.87 245.10 L1256.87 245.07 L1257.87 245.05 L1258.87 245.02 L1259.87 244.99 L1260.87 244.96 L1261.87 244.93 L1262.87 244.90 L1263.87 244.88 L1264.87 244.85 L1265.87 244.82 L1266.87 244.79 L1267.87 244.76 L1268.87 244.74 L1269.87 244.71 L1270.87 244.68 L1271.87 244.66 L1272.87 244.63 L1273.87 244.60 L1274.87 244.58 L1275.87 244.55 L1276.87 244.52 L1277.87 244.50 L1278.87 244.47 L1279.87 244.45 L1280.87 244.42 L1281.88 244.40 L1282.88 244.37 L1283.88 244.34 L1284.88 244.32 L1285.88 244.29 L1286.88 244.27 L1287.88 244.25 L1288.88 244.22 L1289.88 244.20 L1290.88 244.17 L1291.88 244.15 L1292.88 244.12 L1293.88 244.10 L1294.88 244.08 L1295.88 244.05 L1296.88 244.03 L1297.88 244.00 L1298.88 243.98 L1299.88 243.96 L1300.88 243.93 L1301.88 243.91 L1302.88 243.89 L1303.88 243.87 L1304.88 243.84 L1305.88 243.82 L1306.88 243.80 L1307.88 243.78 L1308.89 243.75 L1309.89 243.73 L1310.89 243.71 L1311.89 243.69 L1312.89 243.67 L1313.89 243.64 L1314.89 243.62 L1315.89 243.60 L1316.89 243.58 L1317.89 243.56 L1318.89 243.54 L1319.89 243.52 L1320.89 243.49 L1321.89 243.47 L1322.89 243.45 L1323.89 243.43 L1324.89 243.41 L1325.89 243.39 L1326.89 243.37 L1327.89 243.35 L1328.89 243.33 L1329.89 243.31 L1330.89 243.29 L1331.89 243.27 L1332.89 243.25 L1333.89 243.23 L1334.89 243.21 L1335.89 243.19 L1336.90 243.17 L1337.90 243.15 L1338.90 243.13 L1339.90 243.11 L1340.90 243.10 L1341.90 243.08 L1342.90 243.06 L1343.90 243.04 L1344.90 243.02 L1345.90 243.00 L1346.90 242.98 L1347.90 242.96 L1348.90 242.95 L1349.90 242.93 L1350.90 242.91 L1351.90 242.89 L1352.90 242.87 L1353.90 242.86 L1354.90 242.84 L1355.90 242.82 L1356.90 242.80 L1357.90 242.79 L1358.90 242.77 L1359.90 242.75 L1360.90 242.73 L1361.90 242.72 L1362.90 242.70 L1363.91 242.68 L1364.91 242.67 L1365.91 242.65 L1366.91 242.63 L1367.91 242.61 L1368.91 242.60 L1369.91 242.58 L1370.91 242.56 L1371.91 242.55 L1372.91 242.53 L1373.91 242.52 L1374.91 242.50 L1375.91 242.48 L1376.91 242.47 L1377.91 242.45 L1378.91 242.44 L1379.91 242.42 L1380.91 242.40 L1381.91 242.39 L1382.91 242.37 L1383.91 242.36 L1384.91 242.34 L1385.91 242.33 L1386.91 242.31 L1387.91 242.30 L1388.91 242.28 L1389.91 242.27 L1390.91 242.25 L1391.92 242.24 L1392.92 242.22 L1393.92 242.21 L1394.92 242.19 L1395.92 242.18 L1396.92 242.16 L1397.92 242.15 L1398.92 242.13 L1399.92 242.12 L1400.92 242.10 L1401.92 242.09 L1402.92 242.08 L1403.92 242.06 L1404.92 242.05 L1405.92 242.03 L1406.92 242.02 L1407.92 242.01 L1408.92 241.99 L1409.92 241.98 L1410.92 241.96 L1411.92 241.95 L1412.92 241.94 L1413.92 241.92 L1414.92 241.91 L1415.92 241.90 L1416.92 241.88 L1417.92 241.87 L1418.93 241.86 L1419.93 241.84 L1420.93 241.83 L1421.93 241.82 L1422.93 241.80 L1423.93 241.79 L1424.93 241.78 L1425.93 241.77 L1426.93 241.75 L1427.93 241.74 L1428.93 241.73 L1429.93 241.71 L1430.93 241.70 L1431.93 241.69 L1432.93 241.68 L1433.93 241.66 L1434.93 241.65 L1435.93 241.64 L1436.93 241.63 L1437.93 241.62 L1438.93 241.60 L1439.93 241.59 L1440.93 241.58 L1441.93 241.57 L1442.93 241.56 L1443.93 241.54 L1444.93 241.53 L1445.94 241.52 L1446.94 241.51 L1447.94 241.50 L1448.94 241.49 L1449.94 241.47 L1450.94 241.46 L1451.94 241.45 L1452.94 241.44 L1453.94 241.43 L1454.94 241.42 L1455.94 241.41 L1456.94 241.39 L1457.94 241.38 L1458.94 241.37 L1459.94 241.36 L1460.94 241.35 L1461.94 241.34 L1462.94 241.33 L1463.94 241.32 L1464.94 241.31 L1465.94 241.30 L1466.94 241.29 L1467.94 241.27 L1468.94 241.26 L1469.94 241.25 L1470.94 241.24 L1471.94 241.23 L1472.94 241.22 L1473.95 241.21 L1474.95 241.20 L1475.95 241.19 L1476.95 241.18 L1477.95 241.17 L1478.95 241.16 L1479.95 241.15 L1480.95 241.14 L1481.95 241.13 L1482.95 241.12 L1483.95 241.11 L1484.95 241.10 L1485.95 241.09 L1486.95 241.08 L1487.95 241.07 L1488.95 241.06 L1489.95 241.05 L1490.95 241.04 L1491.95 241.03 L1492.95 241.02 L1493.95 241.01 L1494.95 241.00 L1495.95 240.99 L1496.95 240.98 L1497.95 240.98 L1498.95 240.97 L1499.95 240.96 L1500.96 240.95 L1501.96 240.94 L1502.96 240.93 L1503.96 240.92 L1504.96 240.91 L1505.96 240.90 L1506.96 240.89 L1507.96 240.88 L1508.96 240.87 L1509.96 240.87 L1510.96 240.86 L1511.96 240.85 L1512.96 240.84 L1513.96 240.83 L1514.96 240.82 L1515.96 240.81 L1516.96 240.80 L1517.96 240.80 L1518.96 240.79 L1519.96 240.78 L1520.96 240.77 L1521.96 240.76 L1522.96 240.75 L1523.96 240.74 L1524.96 240.74 L1525.96 240.73 L1526.96 240.72 L1527.96 240.71 L1528.97 240.70 L1529.97 240.69 L1530.97 240.69 L1531.97 240.68 L1532.97 240.67 L1533.97 240.66 L1534.97 240.65 L1535.97 240.65 L1536.97 240.64 L1537.97 240.63 L1538.97 240.62 L1539.97 240.61 L1540.97 240.61 L1541.97 240.60 L1542.97 240.59 L1543.97 240.58 L1544.97 240.58 L1545.97 240.57 L1546.97 240.56 L1547.97 240.55 L1548.97 240.54 L1549.97 240.54 L1550.97 240.53 L1551.97 240.52 L1552.97 240.51 L1553.97 240.51 L1554.97 240.50 L1555.98 240.49 L1556.98 240.48 L1557.98 240.48 L1558.98 240.47 L1559.98 240.46 L1560.98 240.46 L1561.98 240.45 L1562.98 240.44 L1563.98 240.43 L1564.98 240.43 L1565.98 240.42 L1566.98 240.41 L1567.98 240.41 L1568.98 240.40 L1569.98 240.39 L1570.98 240.38 L1571.98 240.38 L1572.98 240.37 L1573.98 240.36 L1574.98 240.36 L1575.98 240.35 L1576.98 240.34 L1577.98 240.34 L1578.98 240.33 L1579.98 240.32 L1580.98 240.32 L1581.98 240.31 L1582.99 240.30 L1583.99 240.30 L1584.99 240.29 L1585.99 240.28 L1586.99 240.28 L1587.99 240.27 L1588.99 240.26 L1589.99 240.26 L1590.99 240.25 L1591.99 240.24 L1592.99 240.24 L1593.99 240.23 L1594.99 240.23 L1595.99 240.22 L1596.99 240.21 L1597.99 240.21 L1598.99 240.20 L1599.99 240.19 L1600.99 240.19 L1601.99 240.18 L1602.99 240.18 L1603.99 240.17 L1604.99 240.16 L1605.99 240.16 L1606.99 240.15 L1607.99 240.15 L1608.99 240.14 L1609.99 240.13 L1611.00 240.13 L1612.00 240.12 L1613.00 240.12 L1614.00 240.11 L1615.00 240.10 L1616.00 240.10 L1617.00 240.09 L1618.00 240.09 L1619.00 240.08 L1620.00 240.07 L1621.00 240.07 L1622.00 240.06 L1623.00 240.06 L1624.00 240.05" stroke="#ff00ff" stroke-dasharray="13.413 6.607" stroke-dashoffset="13.473"/>
<path d="M253.50 1586.60 L254.50 1586.60 L255.50 1586.60 L256.50 1586.60 L257.50 1586.60 L258.50 1586.60 L259.50 1586.60 L260.50 1586.60 L261.50 1586.60 L262.50 1586.60 L263.50 1586.60 L264.50 1586.60 L265.50 1586.60 L266.50 1586.60 L267.51 1586.60 L268.51 1586.59 L269.51 1586.59 L270.51 1586.59 L271.51 1586.59 L272.51 1586.59 L273.51 1586.59 L274.51 1586.58 L275.51 1586.58 L276.51 1586.58 L277.51 1586.57 L278.51 1586.57 L279.51 1586.56 L280.51 1586.56 L281.51 1586.55 L282.51 1586.54 L283.51 1586.53 L284.51 1586.52 L285.51 1586.51 L286.51 1586.50 L287.51 1586.48 L288.51 1586.47 L289.51 1586.45 L290.51 1586.43 L291.51 1586.41 L292.51 1586.38 L293.51 1586.35 L294.51 1586.32 L295.52 1586.28 L296.52 1586.25 L297.52 1586.20 L298.52 1586.16 L299.52 1586.10 L300.52 1586.05 L301.52 1585.98 L302.52 1585.92 L303.52 1585.84 L304.52 1585.76 L305.52 1585.67 L306.52 1585.57 L307.52 1585.47 L308.52 1585.36 L309.52 1585.23 L310.52 1585.10 L311.52 1584.96 L312.52 1584.81 L313.52 1584.64 L314.52 1584.46 L315.52 1584.27 L316.52 1584.07 L317.52 1583.85 L318.52 1583.62 L319.52 1583.37 L320.52 1583.11 L321.52 1582.83 L322.53 1582.53 L323.53 1582.22 L324.53 1581.88 L325.53 1581.53 L326.53 1581.15 L327.53 1580.76 L328.53 1580.34 L329.53 1579.90 L330.53 1579.44 L331.53 1578.95 L332.53 1578.44 L333.53 1577.90 L334.53 1577.34 L335.53 1576.75 L336.53 1576.13 L337.53 1575.49 L338.53 1574.81 L339.53 1574.11 L340.53 1573.38 L341.53 1572.62 L342.53 1571.82 L343.53 1571.00 L344.53 1570.14 L345.53 1569.25 L346.53 1568.33 L347.53 1567.37 L348.53 1566.38 L349.54 1565.36 L350.54 1564.30 L351.54 1563.21 L352.54 1562.08 L353.54 1560.92 L354.54 1559.72 L355.54 1558.49 L356.54 1557.22 L357.54 1555.91 L358.54 1554.57 L359.54 1553.19 L360.54 1551.77 L361.54 1550.32 L362.54 1548.84 L363.54 1547.31 L364.54 1545.75 L365.54 1544.16 L366.54 1542.52 L367.54 1540.86 L368.54 1539.15 L369.54 1537.42 L370.54 1535.64 L371.54 1533.84 L372.54 1531.99 L373.54 1530.12 L374.54 1528.21 L375.54 1526.27 L376.54 1524.29 L377.55 1522.28 L378.55 1520.25 L379.55 1518.18 L380.55 1516.07 L381.55 1513.94 L382.55 1511.78 L383.55 1509.59 L384.55 1507.37 L385.55 1505.13 L386.55 1502.86 L387.55 1500.56 L388.55 1498.23 L389.55 1495.88 L390.55 1493.50 L391.55 1491.11 L392.55 1488.68 L393.55 1486.24 L394.55 1483.77 L395.55 1481.29 L396.55 1478.78 L397.55 1476.25 L398.55 1473.71 L399.55 1471.14 L400.55 1468.56 L401.55 1465.97 L402.55 1463.35 L403.55 1460.73 L404.56 1458.08 L405.56 1455.43 L406.56 1452.76 L407.56 1450.08 L408.56 1447.39 L409.56 1444.69 L410.56 1441.98 L411.56 1439.26 L412.56 1436.53 L413.56 1433.79 L414.56 1431.05 L415.56 1428.30 L416.56 1425.54 L417.56 1422.78 L418.56 1420.01 L419.56 1417.24 L420.56 1414.47 L421.56 1411.70 L422.56 1408.92 L423.56 1406.14 L424.56 1403.37 L425.56 1400.59 L426.56 1397.81 L427.56 1395.03 L428.56 1392.26 L429.56 1389.49 L430.56 1386.72 L431.56 1383.95 L432.57 1381.19 L433.57 1378.43 L434.57 1375.68 L435.57 1372.93 L436.57 1370.18 L437.57 1367.45 L438.57 1364.72 L439.57 1361.99 L440.57 1359.27 L441.57 1356.57 L442.57 1353.86 L443.57 1351.17 L444.57 1348.49 L445.57 1345.81 L446.57 1343.15 L447.57 1340.49 L448.57 1337.85 L449.57 1335.21 L450.57 1332.58 L451.57 1329.97 L452.57 1327.37 L453.57 1324.78 L454.57 1322.20 L455.57 1319.63 L456.57 1317.07 L457.57 1314.53 L458.57 1312.00 L459.58 1309.48 L460.58 1306.97 L461.58 1304.48 L462.58 1302.00 L463.58 1299.53 L464.58 1297.08 L465.58 1294.64 L466.58 1292.21 L467.58 1289.80 L468.58 1287.40 L469.58 1285.02 L470.58 1282.65 L471.58 1280.29 L472.58 1277.95 L473.58 1275.63 L474.58 1273.31 L475.58 1271.02 L476.58 1268.73 L477.58 1266.47 L478.58 1264.21 L479.58 1261.97 L480.58 1259.75 L481.58 1257.54 L482.58 1255.34 L483.58 1253.16 L484.58 1251.00 L485.58 1248.85 L486.59 1246.71 L487.59 1244.59 L488.59 1242.49 L489.59 1240.40 L490.59 1238.32 L491.59 1236.26 L492.59 1234.21 L493.59 1232.18 L494.59 1230.16 L495.59 1228.16 L496.59 1226.17 L497.59 1224.20 L498.59 1222.24 L499.59 1220.30 L500.59 1218.37 L501.59 1216.45 L502.59 1214.55 L503.59 1212.67 L504.59 1210.80 L505.59 1208.94 L506.59 1207.09 L507.59 1205.27 L508.59 1203.45 L509.59 1201.65 L510.59 1199.86 L511.59 1198.09 L512.59 1196.33 L513.59 1194.58 L514.60 1192.85 L515.60 1191.13 L516.60 1189.42 L517.60 1187.73 L518.60 1186.05 L519.60 1184.38 L520.60 1182.73 L521.60 1181.09 L522.60 1179.47 L523.60 1177.85 L524.60 1176.25 L525.60 1174.66 L526.60 1173.09 L527.60 1171.52 L528.60 1169.97 L529.60 1168.43 L530.60 1166.91 L531.60 1165.39 L532.60 1163.89 L533.60 1162.40 L534.60 1160.92 L535.60 1159.46 L536.60 1158.00 L537.60 1156.56 L538.60 1155.13 L539.60 1153.71 L540.60 1152.30 L541.61 1150.90 L542.61 1149.52 L543.61 1148.14 L544.61 1146.78 L545.61 1145.43 L546.61 1144.08 L547.61 1142.75 L548.61 1141.43 L549.61 1140.12 L550.61 1138.82 L551.61 1137.53 L552.61 1136.25 L553.61 1134.98 L554.61 1133.73 L555.61 1132.48 L556.61 1131.24 L557.61 1130.01 L558.61 1128.79 L559.61 1127.58 L560.61 1126.38 L561.61 1125.19 L562.61 1124.01 L563.61 1122.84 L564.61 1121.68 L565.61 1120.53 L566.61 1119.38 L567.61 1118.25 L568.61 1117.12 L569.62 1116.00 L570.62 1114.90 L571.62 1113.80 L572.62 1112.71 L573.62 1111.62 L574.62 1110.55 L575.62 1109.48 L576.62 1108.43 L577.62 1107.38 L578.62 1106.34 L579.62 1105.30 L580.62 1104.28 L581.62 1103.26 L582.62 1102.25 L583.62 1101.25 L584.62 1100.26 L585.62 1099.27 L586.62 1098.30 L587.62 1097.33 L588.62 1096.36 L589.62 1095.41 L590.62 1094.46 L591.62 1093.52 L592.62 1092.58 L593.62 1091.66 L594.62 1090.74 L595.62 1089.82 L596.63 1088.92 L597.63 1088.02 L598.63 1087.12 L599.63 1086.24 L600.63 1085.36 L601.63 1084.48 L602.63 1083.62 L603.63 1082.76 L604.63 1081.90 L605.63 1081.06 L606.63 1080.22 L607.63 1079.38 L608.63 1078.55 L609.63 1077.73 L610.63 1076.91 L611.63 1076.10 L612.63 1075.30 L613.63 1074.50 L614.63 1073.71 L615.63 1072.92 L616.63 1072.14 L617.63 1071.36 L618.63 1070.59 L619.63 1069.82 L620.63 1069.06 L621.63 1068.31 L622.63 1067.56 L623.64 1066.82 L624.64 1066.08 L625.64 1065.35 L626.64 1064.62 L627.64 1063.90 L628.64 1063.18 L629.64 1062.46 L630.64 1061.76 L631.64 1061.05 L632.64 1060.36 L633.64 1059.66 L634.64 1058.97 L635.64 1058.29 L636.64 1057.61 L637.64 1056.94 L638.64 1056.27 L639.64 1055.60 L640.64 1054.94 L641.64 1054.28 L642.64 1053.63 L643.64 1052.98 L644.64 1052.34 L645.64 1051.70 L646.64 1051.06 L647.64 1050.43 L648.64 1049.81 L649.64 1049.18 L650.64 1048.57 L651.65 1047.95 L652.65 1047.34 L653.65 1046.74 L654.65 1046.13 L655.65 1045.53 L656.65 1044.94 L657.65 1044.35 L658.65 1043.76 L659.65 1043.18 L660.65 1042.60 L661.65 1042.02 L662.65 1041.45 L663.65 1040.88 L664.65 1040.32 L665.65 1039.76 L666.65 1039.20 L667.65 1038.64 L668.65 1038.09 L669.65 1037.54 L670.65 1037.00 L671.65 1036.46 L672.65 1035.92 L673.65 1035.39 L674.65 1034.85 L675.65 1034.33 L676.65 1033.80 L677.65 1033.28 L678.66 1032.76 L679.66 1032.25 L680.66 1031.73 L681.66 1031.22 L682.66 1030.72 L683.66 1030.21 L684.66 1029.71 L685.66 1029.22 L686.66 1028.72 L687.66 1028.23 L688.66 1027.74 L689.66 1027.26 L690.66 1026.77 L691.66 1026.29 L692.66 1025.81 L693.66 1025.34 L694.66 1024.87 L695.66 1024.40 L696.66 1023.93 L697.66 1023.47 L698.66 1023.00 L699.66 1022.55 L700.66 1022.09 L701.66 1021.63 L702.66 1021.18 L703.66 1020.73 L704.66 1020.29 L705.66 1019.84 L706.67 1019.40 L707.67 1018.96 L708.67 1018.52 L709.67 1018.09 L710.67 1017.66 L711.67 1017.23 L712.67 1016.80 L713.67 1016.37 L714.67 1015.95 L715.67 1015.53 L716.67 1015.11 L717.67 1014.69 L718.67 1014.28 L719.67 1013.87 L720.67 1013.46 L721.67 1013.05 L722.67 1012.64 L723.67 1012.24 L724.67 1011.84 L725.67 1011.44 L726.67 1011.04 L727.67 1010.64 L728.67 1010.25 L729.67 1009.86 L730.67 1009.47 L731.67 1009.08 L732.67 1008.70 L733.68 1008.31 L734.68 1007.93 L735.68 1007.55 L736.68 1007.17 L737.68 1006.79 L738.68 1006.42 L739.68 1006.05 L740.68 1005.67 L741.68 1005.30 L742.68 1004.94 L743.68 1004.57 L744.68 1004.21 L745.68 1003.84 L746.68 1003.48 L747.68 1003.12 L748.68 1002.77 L749.68 1002.41 L750.68 1002.06 L751.68 1001.70 L752.68 1001.35 L753.68 1001.00 L754.68 1000.66 L755.68 1000.31 L756.68 999.96 L757.68 999.62 L758.68 999.28 L759.68 998.94 L760.69 998.60 L761.69 998.26 L762.69 997.93 L763.69 997.59 L764.69 997.26 L765.69 996.93 L766.69 996.60 L767.69 996.27 L768.69 995.95 L769.69 995.62 L770.69 995.30 L771.69 994.97 L772.69 994.65 L773.69 994.33 L774.69 994.01 L775.69 993.70 L776.69 993.38 L777.69 993.07 L778.69 992.75 L779.69 992.44 L780.69 992.13 L781.69 991.82 L782.69 991.51 L783.69 991.20 L784.69 990.90 L785.69 990.59 L786.69 990.29 L787.69 989.99 L788.70 989.69 L789.70 989.39 L790.70 989.09 L791.70 988.79 L792.70 988.49 L793.70 988.20 L794.70 987.91 L795.70 987.61 L796.70 987.32 L797.70 987.03 L798.70 986.74 L799.70 986.45 L800.70 986.16 L801.70 985.88 L802.70 985.59 L803.70 985.31 L804.70 985.03 L805.70 984.74 L806.70 984.46 L807.70 984.18 L808.70 983.90 L809.70 983.63 L810.70 983.35 L811.70 983.07 L812.70 982.80 L813.70 982.53 L814.70 982.25 L815.71 981.98 L816.71 981.71 L817.71 981.44 L818.71 981.17 L819.71 980.90 L820.71 980.64 L821.71 980.37 L822.71 980.10 L823.71 979.84 L824.71 979.58 L825.71 979.31 L826.71 979.05 L827.71 978.79 L828.71 978.53 L829.71 978.27 L830.71 978.01 L831.71 977.76 L832.71 977.50 L833.71 977.24 L834.71 976.99 L835.71 976.74 L836.71 976.48 L837.71 976.23 L838.71 975.98 L839.71 975.73 L840.71 975.48 L841.71 975.23 L842.71 974.98 L843.72 974.73 L844.72 974.49 L845.72 974.24 L846.72 974.00 L847.72 973.75 L848.72 973.51 L849.72 973.27 L850.72 973.02 L851.72 972.78 L852.72 972.54 L853.72 972.30 L854.72 972.06 L855.72 971.83 L856.72 971.59 L857.72 971.35 L858.72 971.12 L859.72 970.88 L860.72 970.65 L861.72 970.41 L862.72 970.18 L863.72 969.95 L864.72 969.71 L865.72 969.48 L866.72 969.25 L867.72 969.02 L868.72 968.79 L869.72 968.56 L870.73 968.34 L871.73 968.11 L872.73 967.88 L873.73 967.66 L874.73 967.43 L875.73 967.21 L876.73 966.98 L877.73 966.76 L878.73 966.54 L879.73 966.31 L880.73 966.09 L881.73 965.87 L882.73 965.65 L883.73 965.43 L884.73 965.21 L885.73 964.99 L886.73 964.78 L887.73 964.56 L888.73 964.34 L889.73 964.12 L890.73 963.91 L891.73 963.69 L892.73 963.48 L893.73 963.27 L894.73 963.05 L895.73 962.84 L896.73 962.63 L897.74 962.42 L898.74 962.20 L899.74 961.99 L900.74 961.78 L901.74 961.57 L902.74 961.37 L903.74 961.16 L904.74 960.95 L905.74 960.74 L906.74 960.54 L907.74 960.33 L908.74 960.12 L909.74 959.92 L910.74 959.71 L911.74 959.51 L912.74 959.30 L913.74 959.10 L914.74 958.90 L915.74 958.70 L916.74 958.49 L917.74 958.29 L918.74 958.09 L919.74 957.89 L920.74 957.69 L921.74 957.49 L922.74 957.29 L923.74 957.10 L924.74 956.90 L925.75 956.70 L926.75 956.50 L927.75 956.31 L928.75 956.11 L929.75 955.91 L930.75 955.72 L931.75 955.53 L932.75 955.33 L933.75 955.14 L934.75 954.94 L935.75 954.75 L936.75 954.56 L937.75 954.37 L938.75 954.17 L939.75 953.98 L940.75 953.79 L941.75 953.60 L942.75 953.41 L943.75 953.22 L944.75 953.03 L945.75 952.84 L946.75 952.66 L947.75 952.47 L948.75 952.28 L949.75 952.09 L950.75 951.91 L951.75 951.72 L952.76 951.54 L953.76 951.35 L954.76 951.16 L955.76 950.98 L956.76 950.80 L957.76 950.61 L958.76 950.43 L959.76 950.25 L960.76 950.06 L961.76 949.88 L962.76 949.70 L963.76 949.52 L964.76 949.34 L965.76 949.16 L966.76 948.97 L967.76 948.79 L968.76 948.62 L969.76 948.44 L970.76 948.26 L971.76 948.08 L972.76 947.90 L973.76 947.72 L974.76 947.54 L975.76 947.37 L976.76 947.19 L977.76 947.01 L978.76 946.84 L979.76 946.66 L980.77 946.49 L981.77 946.31 L982.77 946.14 L983.77 945.96 L984.77 945.79 L985.77 945.62 L986.77 945.44 L987.77 945.27 L988.77 945.10 L989.77 944.92 L990.77 944.75 L991.77 944.58 L992.77 944.41 L993.77 944.24 L994.77 944.07 L995.77 943.90 L996.77 943.73 L997.77 943.56 L998.77 943.39 L999.77 943.22 L1000.77 943.05 L1001.77 942.88 L1002.77 942.71 L1003.77 942.54 L1004.77 942.38 L1005.77 942.21 L1006.77 942.04 L1007.78 941.88 L1008.78 941.71 L1009.78 941.54 L1010.78 941.38 L1011.78 941.21 L1012.78 941.05 L1013.78 940.88 L1014.78 940.72 L1015.78 940.55 L1016.78 940.39 L1017.78 940.23 L1018.78 940.06 L1019.78 939.90 L1020.78 939.74 L1021.78 939.57 L1022.78 939.41 L1023.78 939.25 L1024.78 939.09 L1025.78 938.93 L1026.78 938.77 L1027.78 938.61 L1028.78 938.44 L1029.78 938.28 L1030.78 938.12 L1031.78 937.96 L1032.78 937.81 L1033.78 937.65 L1034.79 937.49 L1035.79 937.33 L1036.79 937.17 L1037.79 937.01 L1038.79 936.85 L1039.79 936.70 L1040.79 936.54 L1041.79 936.38 L1042.79 936.23 L1043.79 936.07 L1044.79 935.91 L1045.79 935.76 L1046.79 935.60 L1047.79 935.44 L1048.79 935.29 L1049.79 935.13 L1050.79 934.98 L1051.79 934.83 L1052.79 934.67 L1053.79 934.52 L1054.79 934.36 L1055.79 934.21 L1056.79 934.06 L1057.79 933.90 L1058.79 933.75 L1059.79 933.60 L1060.79 933.45 L1061.79 933.29 L1062.80 933.14 L1063.80 932.99 L1064.80 932.84 L1065.80 932.69 L1066.80 932.54 L1067.80 932.39 L1068.80 932.24 L1069.80 932.09 L1070.80 931.94 L1071.80 931.79 L1072.80 931.64 L1073.80 931.49 L1074.80 931.34 L1075.80 931.19 L1076.80 931.04 L1077.80 930.89 L1078.80 930.75 L1079.80 930.60 L1080.80 930.45 L1081.80 930.30 L1082.80 930.16 L1083.80 930.01 L1084.80 929.86 L1085.80 929.72 L1086.80 929.57 L1087.80 929.42 L1088.80 929.28 L1089.81 929.13 L1090.81 928.99 L1091.81 928.84 L1092.81 928.70 L1093.81 928.55 L1094.81 928.41 L1095.81 928.26 L1096.81 928.12 L1097.81 927.97 L1098.81 927.83 L1099.81 927.69 L1100.81 927.54 L1101.81 927.40 L1102.81 927.26 L1103.81 927.11 L1104.81 926.97 L1105.81 926.83 L1106.81 926.69 L1107.81 926.55 L1108.81 926.40 L1109.81 926.26 L1110.81 926.12 L1111.81 925.98 L1112.81 925.84 L1113.81 925.70 L1114.81 925.56 L1115.81 925.42 L1116.81 925.28 L1117.82 925.14 L1118.82 925.00 L1119.82 924.86 L1120.82 924.72 L1121.82 924.58 L1122.82 924.44 L1123.82 924.30 L1124.82 924.17 L1125.82 924.03 L1126.82 923.89 L1127.82 923.75 L1128.82 923.61 L1129.82 923.48 L1130.82 923.34 L1131.82 923.20 L1132.82 923.06 L1133.82 922.93 L1134.82 922.79 L1135.82 922.65 L1136.82 922.52 L1137.82 922.38 L1138.82 922.25 L1139.82 922.11 L1140.82 921.97 L1141.82 921.84 L1142.82 921.70 L1143.82 921.57 L1144.83 921.43 L1145.83 921.30 L1146.83 921.17 L1147.83 921.03 L1148.83 920.90 L1149.83 920.76 L1150.83 920.63 L1151.83 920.50 L1152.83 920.36 L1153.83 920.23 L1154.83 920.10 L1155.83 919.96 L1156.83 919.83 L1157.83 919.70 L1158.83 919.57 L1159.83 919.43 L1160.83 919.30 L1161.83 919.17 L1162.83 919.04 L1163.83 918.91 L1164.83 918.78 L1165.83 918.65 L1166.83 918.51 L1167.83 918.38 L1168.83 918.25 L1169.83 918.12 L1170.83 917.99 L1171.84 917.86 L1172.84 917.73 L1173.84 917.60 L1174.84 917.47 L1175.84 917.34 L1176.84 917.21 L1177.84 917.09 L1178.84 916.96 L1179.84 916.83 L1180.84 916.70 L1181.84 916.57 L1182.84 916.44 L1183.84 916.31 L1184.84 916.19 L1185.84 916.06 L1186.84 915.93 L1187.84 915.80 L1188.84 915.68 L1189.84 915.55 L1190.84 915.42 L1191.84 915.29 L1192.84 915.17 L1193.84 915.04 L1194.84 914.92 L1195.84 914.79 L1196.84 914.66 L1197.84 914.54 L1198.84 914.41 L1199.85 914.29 L1200.85 914.16 L1201.85 914.03 L1202.85 913.91 L1203.85 913.78 L1204.85 913.66 L1205.85 913.54 L1206.85 913.41 L1207.85 913.29 L1208.85 913.16 L1209.85 913.04 L1210.85 912.91 L1211.85 912.79 L1212.85 912.67 L1213.85 912.54 L1214.85 912.42 L1215.85 912.30 L1216.85 912.17 L1217.85 912.05 L1218.85 911.93 L1219.85 911.81 L1220.85 911.68 L1221.85 911.56 L1222.85 911.44 L1223.85 911.32 L1224.85 911.19 L1225.85 911.07 L1226.86 910.95 L1227.86 910.83 L1228.86 910.71 L1229.86 910.59 L1230.86 910.47 L1231.86 910.35 L1232.86 910.22 L1233.86 910.10 L1234.86 909.98 L1235.86 909.86 L1236.86 909.74 L1237.86 909.62 L1238.86 909.50 L1239.86 909.38 L1240.86 909.26 L1241.86 909.14 L1242.86 909.02 L1243.86 908.91 L1244.86 908.79 L1245.86 908.67 L1246.86 908.55 L1247.86 908.43 L1248.86 908.31 L1249.86 908.19 L1250.86 908.08 L1251.86 907.96 L1252.86 907.84 L1253.86 907.72 L1254.87 907.60 L1255.87 907.49 L1256.87 907.37 L1257.87 907.25 L1258.87 907.13 L1259.87 907.02 L1260.87 906.90 L1261.87 906.78 L1262.87 906.67 L1263.87 906.55 L1264.87 906.43 L1265.87 906.32 L1266.87 906.20 L1267.87 906.09 L1268.87 905.97 L1269.87 905.85 L1270.87 905.74 L1271.87 905.62 L1272.87 905.51 L1273.87 905.39 L1274.87 905.28 L1275.87 905.16 L1276.87 905.05 L1277.87 904.93 L1278.87 904.82 L1279.87 904.70 L1280.87 904.59 L1281.88 904.48 L1282.88 904.36 L1283.88 904.25 L1284.88 904.13 L1285.88 904.02 L1286.88 903.91 L1287.88 903.79 L1288.88 903.68 L1289.88 903.57 L1290.88 903.45 L1291.88 903.34 L1292.88 903.23 L1293.88 903.12 L1294.88 903.00 L1295.88 902.89 L1296.88 902.78 L1297.88 902.67 L1298.88 902.55 L1299.88 902.44 L1300.88 902.33 L1301.88 902.22 L1302.88 902.11 L1303.88 902.00 L1304.88 901.88 L1305.88 901.77 L1306.88 901.66 L1307.88 901.55 L1308.89 901.44 L1309.89 901.33 L1310.89 901.22 L1311.89 901.11 L1312.89 901.00 L1313.89 900.89 L1314.89 900.78 L1315.89 900.67 L1316.89 900.56 L1317.89 900.45 L1318.89 900.34 L1319.89 900.23 L1320.89 900.12 L1321.89 900.01 L1322.89 899.90 L1323.89 899.79 L1324.89 899.68 L1325.89 899.57 L1326.89 899.46 L1327.89 899.36 L1328.89 899.25 L1329.89 899.14 L1330.89 899.03 L1331.89 898.92 L1332.89 898.81 L1333.89 898.71 L1334.89 898.60 L1335.89 898.49 L1336.90 898.38 L1337.90 898.28 L1338.90 898.17 L1339.90 898.06 L1340.90 897.95 L1341.90 897.85 L1342.90 897.74 L1343.90 897.63 L1344.90 897.53 L1345.90 897.42 L1346.90 897.31 L1347.90 897.21 L1348.90 897.10 L1349.90 896.99 L1350.90 896.89 L1351.90 896.78 L1352.90 896.68 L1353.90 896.57 L1354.90 896.47 L1355.90 896.36 L1356.90 896.25 L1357.90 896.15 L1358.90 896.04 L1359.90 895.94 L1360.90 895.83 L1361.90 895.73 L1362.90 895.62 L1363.91 895.52 L1364.91 895.42 L1365.91 895.31 L1366.91 895.21 L1367.91 895.10 L1368.91 895.00 L1369.91 894.89 L1370.91 894.79 L1371.91 894.69 L1372.91 894.58 L1373.91 894.48 L1374.91 894.38 L1375.91 894.27 L1376.91 894.17 L1377.91 894.07 L1378.91 893.96 L1379.91 893.86 L1380.91 893.76 L1381.91 893.66 L1382.91 893.55 L1383.91 893.45 L1384.91 893.35 L1385.91 893.25 L1386.91 893.14 L1387.91 893.04 L1388.91 892.94 L1389.91 892.84 L1390.91 892.74 L1391.92 892.63 L1392.92 892.53 L1393.92 892.43 L1394.92 892.33 L1395.92 892.23 L1396.92 892.13 L1397.92 892.03 L1398.92 891.93 L1399.92 891.82 L1400.92 891.72 L1401.92 891.62 L1402.92 891.52 L1403.92 891.42 L1404.92 891.32 L1405.92 891.22 L1406.92 891.12 L1407.92 891.02 L1408.92 890.92 L1409.92 890.82 L1410.92 890.72 L1411.92 890.62 L1412.92 890.52 L1413.92 890.42 L1414.92 890.32 L1415.92 890.22 L1416.92 890.12 L1417.92 890.03 L1418.93 889.93 L1419.93 889.83 L1420.93 889.73 L1421.93 889.63 L1422.93 889.53 L1423.93 889.43 L1424.93 889.34 L1425.93 889.24 L1426.93 889.14 L1427.93 889.04 L1428.93 888.94 L1429.93 888.84 L1430.93 888.75 L1431.93 888.65 L1432.93 888.55 L1433.93 888.45 L1434.93 888.36 L1435.93 888.26 L1436.93 888.16 L1437.93 888.06 L1438.93 887.97 L1439.93 887.87 L1440.93 887.77 L1441.93 887.68 L1442.93 887.58 L1443.93 887.48 L1444.93 887.39 L1445.94 887.29 L1446.94 887.19 L1447.94 887.10 L1448.94 887.00 L1449.94 886.91 L1450.94 886.81 L1451.94 886.71 L1452.94 886.62 L1453.94 886.52 L1454.94 886.43 L1455.94 886.33 L1456.94 886.24 L1457.94 886.14 L1458.94 886.05 L1459.94 885.95 L1460.94 885.86 L1461.94 885.76 L1462.94 885.67 L1463.94 885.57 L1464.94 885.48 L1465.94 885.38 L1466.94 885.29 L1467.94 885.19 L1468.94 885.10 L1469.94 885.01 L1470.94 884.91 L1471.94 884.82 L1472.94 884.72 L1473.95 884.63 L1474.95 884.54 L1475.95 884.44 L1476.95 884.35 L1477.95 884.26 L1478.95 884.16 L1479.95 884.07 L1480.95 883.98 L1481.95 883.88 L1482.95 883.79 L1483.95 883.70 L1484.95 883.60 L1485.95 883.51 L1486.95 883.42 L1487.95 883.33 L1488.95 883.23 L1489.95 883.14 L1490.95 883.05 L1491.95 882.96 L1492.95 882.86 L1493.95 882.77 L1494.95 882.68 L1495.95 882.59 L1496.95 882.50 L1497.95 882.40 L1498.95 882.31 L1499.95 882.22 L1500.96 882.13 L1501.96 882.04 L1502.96 881.95 L1503.96 881.86 L1504.96 881.76 L1505.96 881.67 L1506.96 881.58 L1507.96 881.49 L1508.96 881.40 L1509.96 881.31 L1510.96 881.22 L1511.96 881.13 L1512.96 881.04 L1513.96 880.95 L1514.96 880.86 L1515.96 880.77 L1516.96 880.68 L1517.96 880.59 L1518.96 880.50 L1519.96 880.41 L1520.96 880.32 L1521.96 880.23 L1522.96 880.14 L1523.96 880.05 L1524.96 879.96 L1525.96 879.87 L1526.96 879.78 L1527.96 879.69 L1528.97 879.60 L1529.97 879.51 L1530.97 879.43 L1531.97 879.34 L1532.97 879.25 L1533.97 879.16 L1534.97 879.07 L1535.97 878.98 L1536.97 878.89 L1537.97 878.81 L1538.97 878.72 L1539.97 878.63 L1540.97 878.54 L1541.97 878.45 L1542.97 878.36 L1543.97 878.28 L1544.97 878.19 L1545.97 878.10 L1546.97 878.01 L1547.97 877.93 L1548.97 877.84 L1549.97 877.75 L1550.97 877.66 L1551.97 877.58 L1552.97 877.49 L1553.97 877.40 L1554.97 877.32 L1555.98 877.23 L1556.98 877.14 L1557.98 877.05 L1558.98 876.97 L1559.98 876.88 L1560.98 876.80 L1561.98 876.71 L1562.98 876.62 L1563.98 876.54 L1564.98 876.45 L1565.98 876.36 L1566.98 876.28 L1567.98 876.19 L1568.98 876.11 L1569.98 876.02 L1570.98 875.93 L1571.98 875.85 L1572.98 875.76 L1573.98 875.68 L1574.98 875.59 L1575.98 875.51 L1576.98 875.42 L1577.98 875.34 L1578.98 875.25 L1579.98 875.17 L1580.98 875.08 L1581.98 875.00 L1582.99 874.91 L1583.99 874.83 L1584.99 874.74 L1585.99 874.66 L1586.99 874.57 L1587.99 874.49 L1588.99 874.40 L1589.99 874.32 L1590.99 874.24 L1591.99 874.15 L1592.99 874.07 L1593.99 873.98 L1594.99 873.90 L1595.99 873.82 L1596.99 873.73 L1597.99 873.65 L1598.99 873.57 L1599.99 873.48 L1600.99 873.40 L1601.99 873.32 L1602.99 873.23 L1603.99 873.15 L1604.99 873.07 L1605.99 872.98 L1606.99 872.90 L1607.99 872.82 L1608.99 872.73 L1609.99 872.65 L1611.00 872.57 L1612.00 872.49 L1613.00 872.40 L1614.00 872.32 L1615.00 872.24 L1616.00 872.16 L1617.00 872.07 L1618.00 871.99 L1619.00 871.91 L1620.00 871.83 L1621.00 871.75 L1622.00 871.66 L1623.00 871.58 L1624.00 871.50" stroke="#228b22" stroke-dasharray="13.648 6.722" stroke-dashoffset="8.519"/>
</g>
<text transform="translate(202.19 1608.45) scale(1.0000 1.0200)" font-size="60.00" xml:space="preserve">0</text>
<text transform="translate(158.01 1461.77) scale(1.0000 1.0200)" font-size="60.00" xml:space="preserve">0.1</text>
<text transform="translate(157.48 1315.22) scale(1.0000 1.0200)" font-size="60.00" xml:space="preserve">0.2</text>
<text transform="translate(156.95 1168.67) scale(1.0000 1.0200)" font-size="60.00" xml:space="preserve">0.3</text>
<text transform="translate(156.01 1022.12) scale(1.0000 1.0200)" font-size="60.00" xml:space="preserve">0.4</text>
<text transform="translate(157.10 875.57) scale(1.0000 1.0200)" font-size="60.00" xml:space="preserve">0.5</text>
<text transform="translate(156.66 729.02) scale(1.0000 1.0200)" font-size="60.00" xml:space="preserve">0.6</text>
<text transform="translate(156.36 582.47) scale(1.0000 1.0200)" font-size="60.00" xml:space="preserve">0.7</text>
<text transform="translate(156.89 435.92) scale(1.0000 1.0200)" font-size="60.00" xml:space="preserve">0.8</text>
<text transform="translate(157.07 289.37) scale(1.0000 1.0200)" font-size="60.00" xml:space="preserve">0.9</text>
<text transform="translate(201.41 143.10) scale(1.0000 1.0200)" font-size="60.00" xml:space="preserve">1</text>
<text transform="translate(208.44 1662.00) scale(1.0000 1.0200)" font-size="60.00" xml:space="preserve">500</text>
<text transform="translate(551.24 1662.00) scale(1.0000 1.0200)" font-size="60.00" xml:space="preserve">600</text>
<text transform="translate(893.18 1662.00) scale(1.0000 1.0200)" font-size="60.00" xml:space="preserve">700</text>
<text transform="translate(1236.52 1662.00) scale(1.0000 1.0200)" font-size="60.00" xml:space="preserve">800</text>
<text transform="translate(1579.32 1662.00) scale(1.0000 1.0200)" font-size="60.00" xml:space="preserve">900</text>
<text transform="translate(720.06 1732.20)" font-size="59.30" xml:space="preserve">Wavelength (nm)</text>
<text transform="translate(132.1 1039.02) rotate(-90)" font-size="59.19">Transmittance</text>
<text transform="translate(396.07 105.20)" font-size="60.00" xml:space="preserve">Effect of</text>
<text transform="translate(627.31 105.40) scale(1.3072 1.1108)" font-size="60.00" style="font-weight:normal" xml:space="preserve">Δ</text>
<text transform="translate(679.80 105.90)" font-size="60.00" style="font-style:italic" xml:space="preserve">d</text>
<text transform="translate(724.31 105.20) scale(0.9816 1.0000)" font-size="60.00" xml:space="preserve">in the Transmission Spectrum</text>
<rect x="936.2" y="962.6" width="653.4" height="589.0" fill="#fef2f2" stroke="#4a4a50" stroke-width="2.2"/>
<path d="M938.1 963.7V1550.5 M1587.7 963.7V1550.5" stroke="#c2baba" stroke-width="1.6" fill="none"/>
<path d="M935.1 1553.5H1590.7" stroke="#9c9ca8" stroke-width="1.6" fill="none"/>
<path d="M947 998.2H1074.6" stroke="#8f8a8a" stroke-width="2" fill="none"/>
<path d="M947 1000.2H1074.6" stroke="#292929" stroke-width="2" fill="none"/>
<path d="M947 1062.0H1074.6" stroke="#ff7f7f" stroke-width="2" fill="none"/>
<path d="M947 1064.0H1074.6" stroke="#ff7f7f" stroke-width="2" fill="none"/>
<path d="M947 1126.0H1074.6" stroke="#2cff2c" stroke-width="2" fill="none"/>
<path d="M947 1128.0H1074.6" stroke="#80f880" stroke-width="2" fill="none"/>
<path d="M947 1188.0H1074.6" stroke="#8080f8" stroke-width="2" fill="none"/>
<path d="M947 1190.0H1074.6" stroke="#2020ff" stroke-width="2" fill="none"/>
<path d="M947 1252.0H1074.6" stroke="#ffb878" stroke-width="2" fill="none"/>
<path d="M947 1254.0H1074.6" stroke="#ff9020" stroke-width="2" fill="none"/>
<path d="M947 1328.7H1074.6" stroke="#23238c" stroke-width="2.6" fill="none" stroke-dasharray="10 4 2.7 3.3"/>
<path d="M947 1414.9H1074.6" stroke="#ff00ff" stroke-width="2.6" fill="none" stroke-dasharray="14 6"/>
<path d="M947 1504.4H1074.6" stroke="#228b22" stroke-width="2.6" fill="none" stroke-dasharray="14 6"/>
<text transform="translate(1084.66 1019.50) scale(1.3074 1.0438)" font-size="55.00" style="font-weight:normal" xml:space="preserve">Δ</text>
<text transform="translate(1133.54 1019.50)" font-size="56.10" style="font-style:italic" xml:space="preserve">d</text>
<text transform="translate(1171.88 1019.50) scale(1.1773 1.0000)" font-size="55.00" xml:space="preserve">=</text>
<text transform="translate(1232.24 1019.50)" font-size="56.65" xml:space="preserve">0</text>
<text transform="translate(1275.02 1019.50)" font-size="55.00" xml:space="preserve">n</text>
<text transform="translate(1306.52 1019.50)" font-size="55.00" xml:space="preserve">m,</text>
<text transform="translate(1379.36 1019.50)" font-size="55.00" xml:space="preserve">Eq.</text>
<text transform="translate(1471.98 1019.50)" font-size="55.00" xml:space="preserve">(6)</text>
<text transform="translate(1084.66 1083.30) scale(1.3074 1.0438)" font-size="55.00" style="font-weight:normal" xml:space="preserve">Δ</text>
<text transform="translate(1133.54 1083.30)" font-size="56.10" style="font-style:italic" xml:space="preserve">d</text>
<text transform="translate(1171.88 1083.30) scale(1.1773 1.0000)" font-size="55.00" xml:space="preserve">=</text>
<text transform="translate(1218.46 1083.30)" font-size="56.65">10</text>
<text transform="translate(1288.02 1083.30)" font-size="55.00" xml:space="preserve">n</text>
<text transform="translate(1319.52 1083.30)" font-size="55.00" xml:space="preserve">m,</text>
<text transform="translate(1392.66 1083.30)" font-size="55.00" xml:space="preserve">Eq.</text>
<text transform="translate(1486.40 1083.30)" font-size="54.73" xml:space="preserve">(10)</text>
<text transform="translate(1084.66 1147.00) scale(1.3074 1.0438)" font-size="55.00" style="font-weight:normal" xml:space="preserve">Δ</text>
<text transform="translate(1133.54 1147.00)" font-size="56.10" style="font-style:italic" xml:space="preserve">d</text>
<text transform="translate(1171.88 1147.00) scale(1.1773 1.0000)" font-size="55.00" xml:space="preserve">=</text>
<text transform="translate(1218.46 1147.00)" font-size="56.65">20</text>
<text transform="translate(1288.02 1147.00)" font-size="55.00" xml:space="preserve">n</text>
<text transform="translate(1319.52 1147.00)" font-size="55.00" xml:space="preserve">m,</text>
<text transform="translate(1392.66 1147.00)" font-size="55.00" xml:space="preserve">Eq.</text>
<text transform="translate(1486.40 1147.00)" font-size="54.73" xml:space="preserve">(10)</text>
<text transform="translate(1084.66 1209.30) scale(1.3074 1.0438)" font-size="55.00" style="font-weight:normal" xml:space="preserve">Δ</text>
<text transform="translate(1133.54 1209.30)" font-size="56.10" style="font-style:italic" xml:space="preserve">d</text>
<text transform="translate(1171.88 1209.30) scale(1.1773 1.0000)" font-size="55.00" xml:space="preserve">=</text>
<text transform="translate(1218.46 1209.30)" font-size="56.65">30</text>
<text transform="translate(1288.02 1209.30)" font-size="55.00" xml:space="preserve">n</text>
<text transform="translate(1319.52 1209.30)" font-size="55.00" xml:space="preserve">m,</text>
<text transform="translate(1392.66 1209.30)" font-size="55.00" xml:space="preserve">Eq.</text>
<text transform="translate(1486.40 1209.30)" font-size="54.73" xml:space="preserve">(10)</text>
<text transform="translate(1084.66 1273.40) scale(1.3074 1.0438)" font-size="55.00" style="font-weight:normal" xml:space="preserve">Δ</text>
<text transform="translate(1133.54 1273.40)" font-size="56.10" style="font-style:italic" xml:space="preserve">d</text>
<text transform="translate(1171.88 1273.40) scale(1.1773 1.0000)" font-size="55.00" xml:space="preserve">=</text>
<text transform="translate(1218.46 1273.40)" font-size="56.65">60</text>
<text transform="translate(1288.02 1273.40)" font-size="55.00" xml:space="preserve">n</text>
<text transform="translate(1319.52 1273.40)" font-size="55.00" xml:space="preserve">m,</text>
<text transform="translate(1392.66 1273.40)" font-size="55.00" xml:space="preserve">Eq.</text>
<text transform="translate(1486.40 1273.40)" font-size="54.73" xml:space="preserve">(10)</text>
<text transform="translate(1084.53 1336.20)" font-size="56.00" style="font-style:italic" xml:space="preserve">T</text>
<text transform="translate(1120.73 1364.60) scale(1.1400 1.0000)" font-size="44.70" style="font-style:italic" xml:space="preserve">α</text>
<text transform="translate(1161.47 1336.20)" font-size="55.00" xml:space="preserve">,</text>
<text transform="translate(1191.26 1336.20)" font-size="55.00" xml:space="preserve">Eq.</text>
<text transform="translate(1285.58 1336.20)" font-size="55.00" xml:space="preserve">(34)</text>
<text transform="translate(1084.13 1424.50)" font-size="56.00" style="font-style:italic" xml:space="preserve">T</text>
<text transform="translate(1120.16 1450.10) scale(1.2925 1.0795)" font-size="43.50" style="font-weight:normal" xml:space="preserve">Δ</text>
<text transform="translate(1158.19 1450.10)" font-size="43.50" style="font-style:italic" xml:space="preserve">d</text>
<text transform="translate(1190.56 1450.10)" font-size="43.50" xml:space="preserve">Max</text>
<text transform="translate(1287.07 1424.50)" font-size="55.00" xml:space="preserve">,</text>
<text transform="translate(1318.06 1424.50)" font-size="55.00" xml:space="preserve">Eq.</text>
<text transform="translate(1411.58 1424.50)" font-size="55.00" xml:space="preserve">(20)</text>
<text transform="translate(1084.13 1511.70)" font-size="56.00" style="font-style:italic" xml:space="preserve">T</text>
<text transform="translate(1120.16 1537.30) scale(1.2925 1.0795)" font-size="43.50" style="font-weight:normal" xml:space="preserve">Δ</text>
<text transform="translate(1158.19 1537.30)" font-size="43.50" style="font-style:italic" xml:space="preserve">d</text>
<text transform="translate(1190.56 1537.30)" font-size="43.50" xml:space="preserve">Min</text>
<text transform="translate(1280.37 1511.70)" font-size="55.00" xml:space="preserve">,</text>
<text transform="translate(1311.36 1511.70)" font-size="55.00" xml:space="preserve">Eq.</text>
<text transform="translate(1404.88 1511.70)" font-size="55.00" xml:space="preserve">(25)</text>
</svg></body></html>
